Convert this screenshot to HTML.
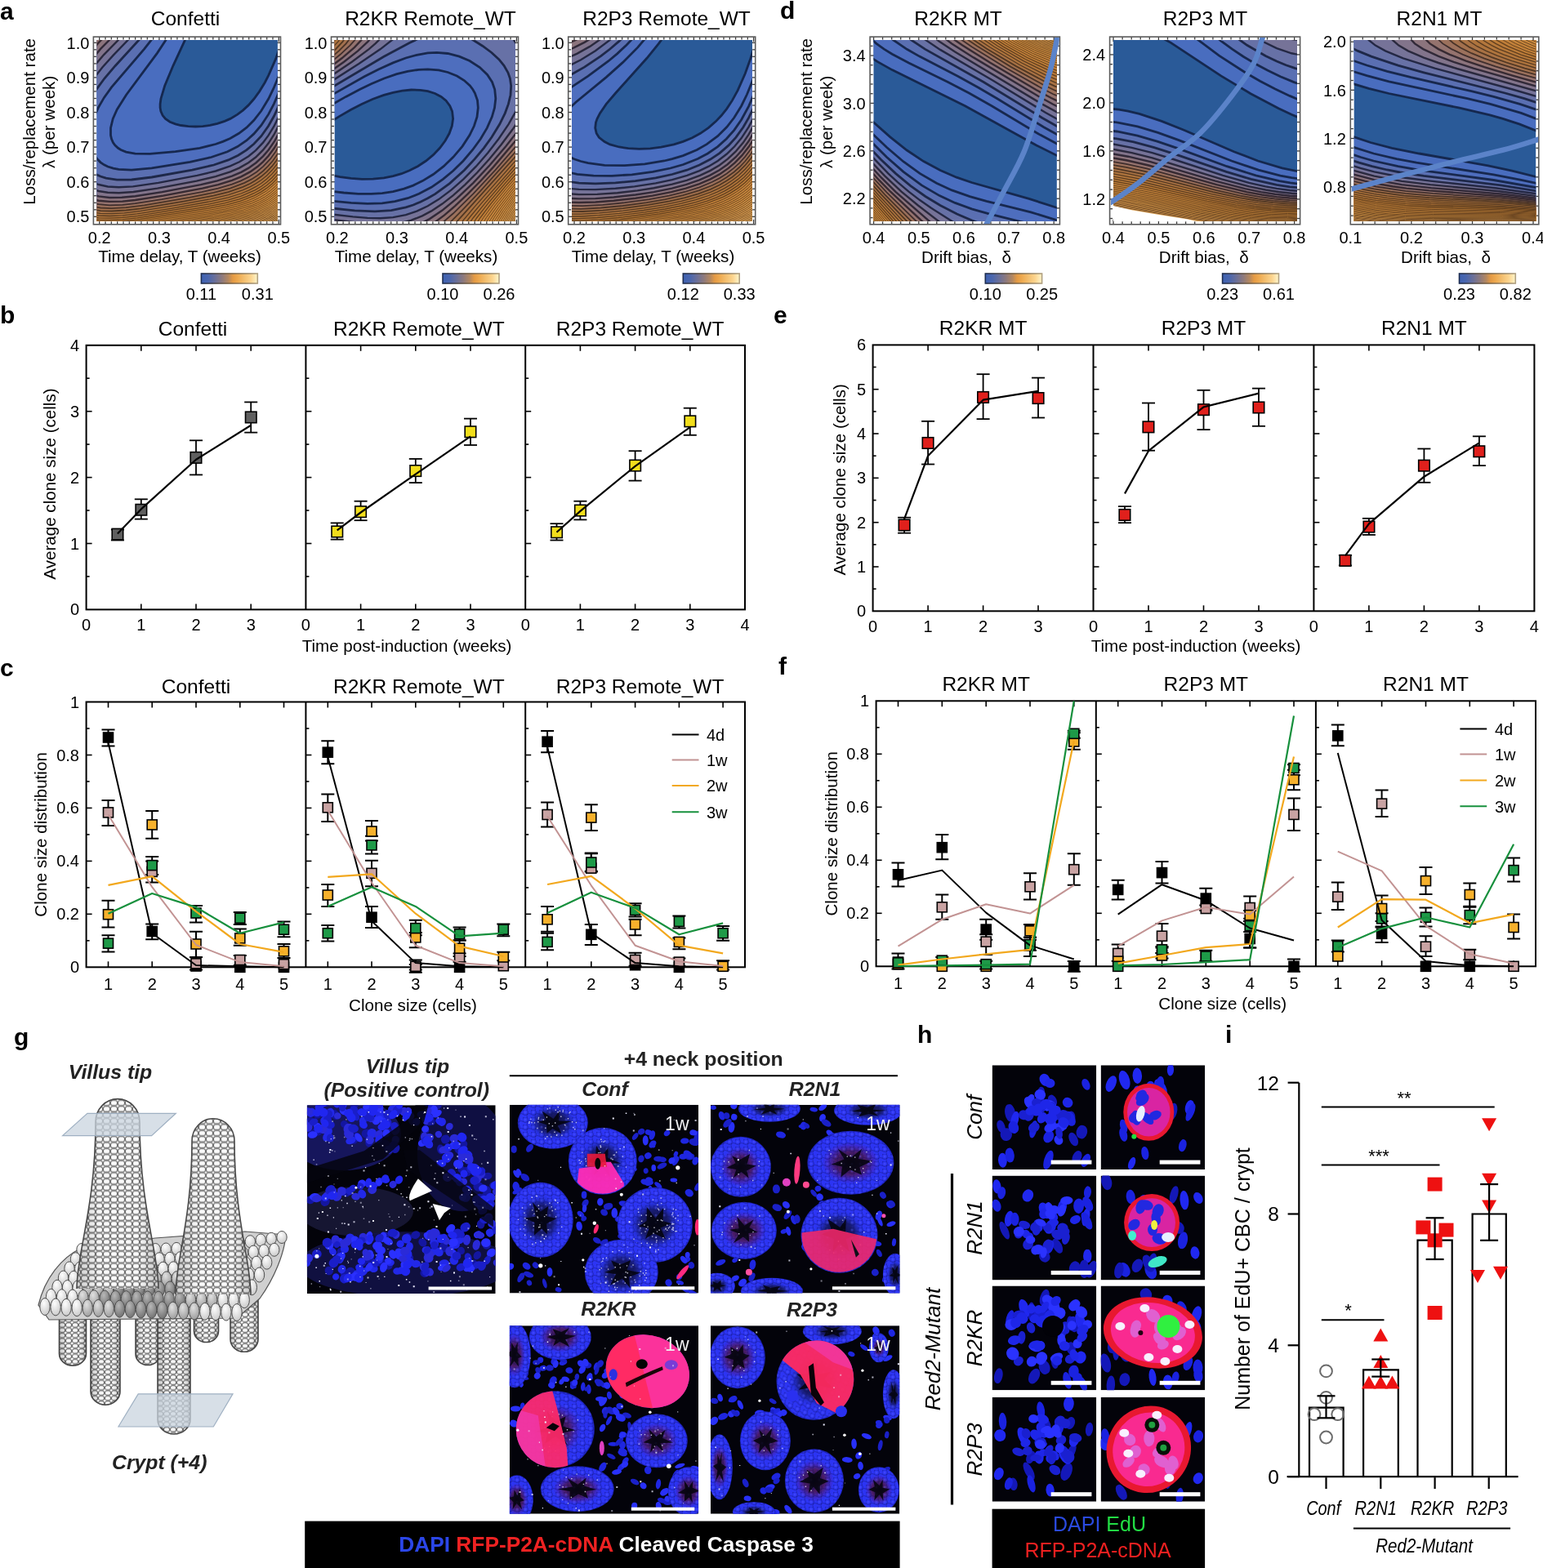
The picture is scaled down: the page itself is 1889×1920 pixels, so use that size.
<!DOCTYPE html>
<html><head><meta charset="utf-8"><title>Figure</title>
<style>html,body{margin:0;padding:0;background:#fff;}svg{display:block;}text{font-family:"Liberation Sans",Arial,sans-serif;}</style></head><body>
<svg width="1889" height="1920" viewBox="0 0 1889 1920">
<rect width="1889" height="1920" fill="#fff"/>
<line x1="172.8" y1="746.4" x2="172.8" y2="739.4" stroke="#000" stroke-width="1.6"/>
<line x1="172.8" y1="422.8" x2="172.8" y2="429.8" stroke="#000" stroke-width="1.6"/>
<line x1="240" y1="746.4" x2="240" y2="739.4" stroke="#000" stroke-width="1.6"/>
<line x1="240" y1="422.8" x2="240" y2="429.8" stroke="#000" stroke-width="1.6"/>
<line x1="307.2" y1="746.4" x2="307.2" y2="739.4" stroke="#000" stroke-width="1.6"/>
<line x1="307.2" y1="422.8" x2="307.2" y2="429.8" stroke="#000" stroke-width="1.6"/>
<line x1="105.6" y1="705.9" x2="109.6" y2="705.9" stroke="#000" stroke-width="1.6"/>
<line x1="105.6" y1="665.5" x2="112.6" y2="665.5" stroke="#000" stroke-width="1.6"/>
<line x1="105.6" y1="625" x2="109.6" y2="625" stroke="#000" stroke-width="1.6"/>
<line x1="105.6" y1="584.6" x2="112.6" y2="584.6" stroke="#000" stroke-width="1.6"/>
<line x1="105.6" y1="544.1" x2="109.6" y2="544.1" stroke="#000" stroke-width="1.6"/>
<line x1="105.6" y1="503.7" x2="112.6" y2="503.7" stroke="#000" stroke-width="1.6"/>
<line x1="105.6" y1="463.2" x2="109.6" y2="463.2" stroke="#000" stroke-width="1.6"/>
<line x1="441.6" y1="746.4" x2="441.6" y2="739.4" stroke="#000" stroke-width="1.6"/>
<line x1="441.6" y1="422.8" x2="441.6" y2="429.8" stroke="#000" stroke-width="1.6"/>
<line x1="508.8" y1="746.4" x2="508.8" y2="739.4" stroke="#000" stroke-width="1.6"/>
<line x1="508.8" y1="422.8" x2="508.8" y2="429.8" stroke="#000" stroke-width="1.6"/>
<line x1="576" y1="746.4" x2="576" y2="739.4" stroke="#000" stroke-width="1.6"/>
<line x1="576" y1="422.8" x2="576" y2="429.8" stroke="#000" stroke-width="1.6"/>
<line x1="374.4" y1="705.9" x2="378.4" y2="705.9" stroke="#000" stroke-width="1.6"/>
<line x1="374.4" y1="665.5" x2="381.4" y2="665.5" stroke="#000" stroke-width="1.6"/>
<line x1="374.4" y1="625" x2="378.4" y2="625" stroke="#000" stroke-width="1.6"/>
<line x1="374.4" y1="584.6" x2="381.4" y2="584.6" stroke="#000" stroke-width="1.6"/>
<line x1="374.4" y1="544.1" x2="378.4" y2="544.1" stroke="#000" stroke-width="1.6"/>
<line x1="374.4" y1="503.7" x2="381.4" y2="503.7" stroke="#000" stroke-width="1.6"/>
<line x1="374.4" y1="463.2" x2="378.4" y2="463.2" stroke="#000" stroke-width="1.6"/>
<line x1="710.4" y1="746.4" x2="710.4" y2="739.4" stroke="#000" stroke-width="1.6"/>
<line x1="710.4" y1="422.8" x2="710.4" y2="429.8" stroke="#000" stroke-width="1.6"/>
<line x1="777.6" y1="746.4" x2="777.6" y2="739.4" stroke="#000" stroke-width="1.6"/>
<line x1="777.6" y1="422.8" x2="777.6" y2="429.8" stroke="#000" stroke-width="1.6"/>
<line x1="844.8" y1="746.4" x2="844.8" y2="739.4" stroke="#000" stroke-width="1.6"/>
<line x1="844.8" y1="422.8" x2="844.8" y2="429.8" stroke="#000" stroke-width="1.6"/>
<line x1="643.2" y1="705.9" x2="647.2" y2="705.9" stroke="#000" stroke-width="1.6"/>
<line x1="643.2" y1="665.5" x2="650.2" y2="665.5" stroke="#000" stroke-width="1.6"/>
<line x1="643.2" y1="625" x2="647.2" y2="625" stroke="#000" stroke-width="1.6"/>
<line x1="643.2" y1="584.6" x2="650.2" y2="584.6" stroke="#000" stroke-width="1.6"/>
<line x1="643.2" y1="544.1" x2="647.2" y2="544.1" stroke="#000" stroke-width="1.6"/>
<line x1="643.2" y1="503.7" x2="650.2" y2="503.7" stroke="#000" stroke-width="1.6"/>
<line x1="643.2" y1="463.2" x2="647.2" y2="463.2" stroke="#000" stroke-width="1.6"/>
<rect x="105.6" y="422.8" width="806.4" height="323.6" fill="none" stroke="#000" stroke-width="2"/>
<line x1="374.4" y1="422.8" x2="374.4" y2="746.4" stroke="#000" stroke-width="2"/>
<line x1="643.2" y1="422.8" x2="643.2" y2="746.4" stroke="#000" stroke-width="2"/>
<text x="105.6" y="772.4" font-size="20" text-anchor="middle">0</text>
<text x="172.8" y="772.4" font-size="20" text-anchor="middle">1</text>
<text x="240" y="772.4" font-size="20" text-anchor="middle">2</text>
<text x="307.2" y="772.4" font-size="20" text-anchor="middle">3</text>
<text x="374.4" y="772.4" font-size="20" text-anchor="middle">0</text>
<text x="441.6" y="772.4" font-size="20" text-anchor="middle">1</text>
<text x="508.8" y="772.4" font-size="20" text-anchor="middle">2</text>
<text x="576" y="772.4" font-size="20" text-anchor="middle">3</text>
<text x="643.2" y="772.4" font-size="20" text-anchor="middle">0</text>
<text x="710.4" y="772.4" font-size="20" text-anchor="middle">1</text>
<text x="777.6" y="772.4" font-size="20" text-anchor="middle">2</text>
<text x="844.8" y="772.4" font-size="20" text-anchor="middle">3</text>
<text x="912" y="772.4" font-size="20" text-anchor="middle">4</text>
<text x="97" y="753.4" font-size="20" text-anchor="end">0</text>
<text x="97" y="672.5" font-size="20" text-anchor="end">1</text>
<text x="97" y="591.6" font-size="20" text-anchor="end">2</text>
<text x="97" y="510.7" font-size="20" text-anchor="end">3</text>
<text x="97" y="429.8" font-size="20" text-anchor="end">4</text>
<text x="236" y="411" font-size="24.5" text-anchor="middle">Confetti</text>
<text x="512.8" y="411" font-size="24.5" text-anchor="middle">R2KR Remote_WT</text>
<text x="783.6" y="411" font-size="24.5" text-anchor="middle">R2P3 Remote_WT</text>
<text x="498" y="797.5" font-size="20.6" text-anchor="middle">Time post-induction (weeks)</text>
<text x="68.5" y="592.6" font-size="20.6" text-anchor="middle" transform="rotate(-90 68.5 592.6)">Average clone size (cells)</text>
<line x1="143.9" y1="661.5" x2="143.9" y2="648.5" stroke="#000" stroke-width="1.8"/>
<line x1="135.9" y1="661.5" x2="151.9" y2="661.5" stroke="#000" stroke-width="1.8"/>
<line x1="135.9" y1="648.5" x2="151.9" y2="648.5" stroke="#000" stroke-width="1.8"/>
<line x1="172.8" y1="635.6" x2="172.8" y2="611.3" stroke="#000" stroke-width="1.8"/>
<line x1="164.8" y1="635.6" x2="180.8" y2="635.6" stroke="#000" stroke-width="1.8"/>
<line x1="164.8" y1="611.3" x2="180.8" y2="611.3" stroke="#000" stroke-width="1.8"/>
<line x1="240" y1="581.4" x2="240" y2="539.3" stroke="#000" stroke-width="1.8"/>
<line x1="232" y1="581.4" x2="248" y2="581.4" stroke="#000" stroke-width="1.8"/>
<line x1="232" y1="539.3" x2="248" y2="539.3" stroke="#000" stroke-width="1.8"/>
<line x1="307.2" y1="529.6" x2="307.2" y2="492.4" stroke="#000" stroke-width="1.8"/>
<line x1="299.2" y1="529.6" x2="315.2" y2="529.6" stroke="#000" stroke-width="1.8"/>
<line x1="299.2" y1="492.4" x2="315.2" y2="492.4" stroke="#000" stroke-width="1.8"/>
<rect x="137.2" y="647.4" width="13.5" height="13.5" fill="#5f5f5f" stroke="#000" stroke-width="1.6"/>
<rect x="166.1" y="617.5" width="13.5" height="13.5" fill="#5f5f5f" stroke="#000" stroke-width="1.6"/>
<rect x="233.2" y="553.6" width="13.5" height="13.5" fill="#5f5f5f" stroke="#000" stroke-width="1.6"/>
<rect x="300.5" y="504.2" width="13.5" height="13.5" fill="#5f5f5f" stroke="#000" stroke-width="1.6"/>
<polyline points="143.9,653.4 172.8,623.4 240,562.8 307.2,520.7" fill="none" stroke="#000" stroke-width="2.2" stroke-linejoin="round"/>
<line x1="412.7" y1="660.6" x2="412.7" y2="640.4" stroke="#000" stroke-width="1.8"/>
<line x1="404.7" y1="660.6" x2="420.7" y2="660.6" stroke="#000" stroke-width="1.8"/>
<line x1="404.7" y1="640.4" x2="420.7" y2="640.4" stroke="#000" stroke-width="1.8"/>
<line x1="441.6" y1="637.2" x2="441.6" y2="613.7" stroke="#000" stroke-width="1.8"/>
<line x1="433.6" y1="637.2" x2="449.6" y2="637.2" stroke="#000" stroke-width="1.8"/>
<line x1="433.6" y1="613.7" x2="449.6" y2="613.7" stroke="#000" stroke-width="1.8"/>
<line x1="508.8" y1="591.1" x2="508.8" y2="561.9" stroke="#000" stroke-width="1.8"/>
<line x1="500.8" y1="591.1" x2="516.8" y2="591.1" stroke="#000" stroke-width="1.8"/>
<line x1="500.8" y1="561.9" x2="516.8" y2="561.9" stroke="#000" stroke-width="1.8"/>
<line x1="576" y1="545" x2="576" y2="512.6" stroke="#000" stroke-width="1.8"/>
<line x1="568" y1="545" x2="584" y2="545" stroke="#000" stroke-width="1.8"/>
<line x1="568" y1="512.6" x2="584" y2="512.6" stroke="#000" stroke-width="1.8"/>
<rect x="406" y="644.2" width="13.5" height="13.5" fill="#f2de1c" stroke="#000" stroke-width="1.6"/>
<rect x="434.8" y="619.9" width="13.5" height="13.5" fill="#f2de1c" stroke="#000" stroke-width="1.6"/>
<rect x="502" y="569.8" width="13.5" height="13.5" fill="#f2de1c" stroke="#000" stroke-width="1.6"/>
<rect x="569.2" y="522" width="13.5" height="13.5" fill="#f2de1c" stroke="#000" stroke-width="1.6"/>
<polyline points="412.7,649.3 441.6,627.5 508.8,580.6 576,534.4" fill="none" stroke="#000" stroke-width="2.2" stroke-linejoin="round"/>
<line x1="681.5" y1="661.5" x2="681.5" y2="641.2" stroke="#000" stroke-width="1.8"/>
<line x1="673.5" y1="661.5" x2="689.5" y2="661.5" stroke="#000" stroke-width="1.8"/>
<line x1="673.5" y1="641.2" x2="689.5" y2="641.2" stroke="#000" stroke-width="1.8"/>
<line x1="710.4" y1="636.4" x2="710.4" y2="613.7" stroke="#000" stroke-width="1.8"/>
<line x1="702.4" y1="636.4" x2="718.4" y2="636.4" stroke="#000" stroke-width="1.8"/>
<line x1="702.4" y1="613.7" x2="718.4" y2="613.7" stroke="#000" stroke-width="1.8"/>
<line x1="777.6" y1="588.6" x2="777.6" y2="552.2" stroke="#000" stroke-width="1.8"/>
<line x1="769.6" y1="588.6" x2="785.6" y2="588.6" stroke="#000" stroke-width="1.8"/>
<line x1="769.6" y1="552.2" x2="785.6" y2="552.2" stroke="#000" stroke-width="1.8"/>
<line x1="844.8" y1="532.8" x2="844.8" y2="499.7" stroke="#000" stroke-width="1.8"/>
<line x1="836.8" y1="532.8" x2="852.8" y2="532.8" stroke="#000" stroke-width="1.8"/>
<line x1="836.8" y1="499.7" x2="852.8" y2="499.7" stroke="#000" stroke-width="1.8"/>
<rect x="674.8" y="645" width="13.5" height="13.5" fill="#f2de1c" stroke="#000" stroke-width="1.6"/>
<rect x="703.7" y="618.3" width="13.5" height="13.5" fill="#f2de1c" stroke="#000" stroke-width="1.6"/>
<rect x="770.9" y="563.3" width="13.5" height="13.5" fill="#f2de1c" stroke="#000" stroke-width="1.6"/>
<rect x="838.1" y="509.1" width="13.5" height="13.5" fill="#f2de1c" stroke="#000" stroke-width="1.6"/>
<polyline points="681.5,651.7 710.4,625.9 777.6,570.8 844.8,523.1" fill="none" stroke="#000" stroke-width="2.2" stroke-linejoin="round"/>
<line x1="1136.1" y1="748.3" x2="1136.1" y2="741.3" stroke="#000" stroke-width="1.6"/>
<line x1="1136.1" y1="422.4" x2="1136.1" y2="429.4" stroke="#000" stroke-width="1.6"/>
<line x1="1203.6" y1="748.3" x2="1203.6" y2="741.3" stroke="#000" stroke-width="1.6"/>
<line x1="1203.6" y1="422.4" x2="1203.6" y2="429.4" stroke="#000" stroke-width="1.6"/>
<line x1="1271" y1="748.3" x2="1271" y2="741.3" stroke="#000" stroke-width="1.6"/>
<line x1="1271" y1="422.4" x2="1271" y2="429.4" stroke="#000" stroke-width="1.6"/>
<line x1="1068.6" y1="721.1" x2="1072.6" y2="721.1" stroke="#000" stroke-width="1.6"/>
<line x1="1068.6" y1="694" x2="1075.6" y2="694" stroke="#000" stroke-width="1.6"/>
<line x1="1068.6" y1="666.8" x2="1072.6" y2="666.8" stroke="#000" stroke-width="1.6"/>
<line x1="1068.6" y1="639.7" x2="1075.6" y2="639.7" stroke="#000" stroke-width="1.6"/>
<line x1="1068.6" y1="612.5" x2="1072.6" y2="612.5" stroke="#000" stroke-width="1.6"/>
<line x1="1068.6" y1="585.3" x2="1075.6" y2="585.3" stroke="#000" stroke-width="1.6"/>
<line x1="1068.6" y1="558.2" x2="1072.6" y2="558.2" stroke="#000" stroke-width="1.6"/>
<line x1="1068.6" y1="531" x2="1075.6" y2="531" stroke="#000" stroke-width="1.6"/>
<line x1="1068.6" y1="503.9" x2="1072.6" y2="503.9" stroke="#000" stroke-width="1.6"/>
<line x1="1068.6" y1="476.7" x2="1075.6" y2="476.7" stroke="#000" stroke-width="1.6"/>
<line x1="1068.6" y1="449.5" x2="1072.6" y2="449.5" stroke="#000" stroke-width="1.6"/>
<line x1="1406" y1="748.3" x2="1406" y2="741.3" stroke="#000" stroke-width="1.6"/>
<line x1="1406" y1="422.4" x2="1406" y2="429.4" stroke="#000" stroke-width="1.6"/>
<line x1="1473.5" y1="748.3" x2="1473.5" y2="741.3" stroke="#000" stroke-width="1.6"/>
<line x1="1473.5" y1="422.4" x2="1473.5" y2="429.4" stroke="#000" stroke-width="1.6"/>
<line x1="1541" y1="748.3" x2="1541" y2="741.3" stroke="#000" stroke-width="1.6"/>
<line x1="1541" y1="422.4" x2="1541" y2="429.4" stroke="#000" stroke-width="1.6"/>
<line x1="1338.5" y1="721.1" x2="1342.5" y2="721.1" stroke="#000" stroke-width="1.6"/>
<line x1="1338.5" y1="694" x2="1345.5" y2="694" stroke="#000" stroke-width="1.6"/>
<line x1="1338.5" y1="666.8" x2="1342.5" y2="666.8" stroke="#000" stroke-width="1.6"/>
<line x1="1338.5" y1="639.7" x2="1345.5" y2="639.7" stroke="#000" stroke-width="1.6"/>
<line x1="1338.5" y1="612.5" x2="1342.5" y2="612.5" stroke="#000" stroke-width="1.6"/>
<line x1="1338.5" y1="585.3" x2="1345.5" y2="585.3" stroke="#000" stroke-width="1.6"/>
<line x1="1338.5" y1="558.2" x2="1342.5" y2="558.2" stroke="#000" stroke-width="1.6"/>
<line x1="1338.5" y1="531" x2="1345.5" y2="531" stroke="#000" stroke-width="1.6"/>
<line x1="1338.5" y1="503.9" x2="1342.5" y2="503.9" stroke="#000" stroke-width="1.6"/>
<line x1="1338.5" y1="476.7" x2="1345.5" y2="476.7" stroke="#000" stroke-width="1.6"/>
<line x1="1338.5" y1="449.5" x2="1342.5" y2="449.5" stroke="#000" stroke-width="1.6"/>
<line x1="1675.9" y1="748.3" x2="1675.9" y2="741.3" stroke="#000" stroke-width="1.6"/>
<line x1="1675.9" y1="422.4" x2="1675.9" y2="429.4" stroke="#000" stroke-width="1.6"/>
<line x1="1743.4" y1="748.3" x2="1743.4" y2="741.3" stroke="#000" stroke-width="1.6"/>
<line x1="1743.4" y1="422.4" x2="1743.4" y2="429.4" stroke="#000" stroke-width="1.6"/>
<line x1="1810.9" y1="748.3" x2="1810.9" y2="741.3" stroke="#000" stroke-width="1.6"/>
<line x1="1810.9" y1="422.4" x2="1810.9" y2="429.4" stroke="#000" stroke-width="1.6"/>
<line x1="1608.4" y1="721.1" x2="1612.4" y2="721.1" stroke="#000" stroke-width="1.6"/>
<line x1="1608.4" y1="694" x2="1615.4" y2="694" stroke="#000" stroke-width="1.6"/>
<line x1="1608.4" y1="666.8" x2="1612.4" y2="666.8" stroke="#000" stroke-width="1.6"/>
<line x1="1608.4" y1="639.7" x2="1615.4" y2="639.7" stroke="#000" stroke-width="1.6"/>
<line x1="1608.4" y1="612.5" x2="1612.4" y2="612.5" stroke="#000" stroke-width="1.6"/>
<line x1="1608.4" y1="585.3" x2="1615.4" y2="585.3" stroke="#000" stroke-width="1.6"/>
<line x1="1608.4" y1="558.2" x2="1612.4" y2="558.2" stroke="#000" stroke-width="1.6"/>
<line x1="1608.4" y1="531" x2="1615.4" y2="531" stroke="#000" stroke-width="1.6"/>
<line x1="1608.4" y1="503.9" x2="1612.4" y2="503.9" stroke="#000" stroke-width="1.6"/>
<line x1="1608.4" y1="476.7" x2="1615.4" y2="476.7" stroke="#000" stroke-width="1.6"/>
<line x1="1608.4" y1="449.5" x2="1612.4" y2="449.5" stroke="#000" stroke-width="1.6"/>
<rect x="1068.6" y="422.4" width="809.8" height="325.9" fill="none" stroke="#000" stroke-width="2"/>
<line x1="1338.5" y1="422.4" x2="1338.5" y2="748.3" stroke="#000" stroke-width="2"/>
<line x1="1608.4" y1="422.4" x2="1608.4" y2="748.3" stroke="#000" stroke-width="2"/>
<text x="1068.6" y="774.3" font-size="20" text-anchor="middle">0</text>
<text x="1136.1" y="774.3" font-size="20" text-anchor="middle">1</text>
<text x="1203.6" y="774.3" font-size="20" text-anchor="middle">2</text>
<text x="1271" y="774.3" font-size="20" text-anchor="middle">3</text>
<text x="1338.5" y="774.3" font-size="20" text-anchor="middle">0</text>
<text x="1406" y="774.3" font-size="20" text-anchor="middle">1</text>
<text x="1473.5" y="774.3" font-size="20" text-anchor="middle">2</text>
<text x="1541" y="774.3" font-size="20" text-anchor="middle">3</text>
<text x="1608.4" y="774.3" font-size="20" text-anchor="middle">0</text>
<text x="1675.9" y="774.3" font-size="20" text-anchor="middle">1</text>
<text x="1743.4" y="774.3" font-size="20" text-anchor="middle">2</text>
<text x="1810.9" y="774.3" font-size="20" text-anchor="middle">3</text>
<text x="1878.4" y="774.3" font-size="20" text-anchor="middle">4</text>
<text x="1060" y="755.3" font-size="20" text-anchor="end">0</text>
<text x="1060" y="701" font-size="20" text-anchor="end">1</text>
<text x="1060" y="646.7" font-size="20" text-anchor="end">2</text>
<text x="1060" y="592.3" font-size="20" text-anchor="end">3</text>
<text x="1060" y="538" font-size="20" text-anchor="end">4</text>
<text x="1060" y="483.7" font-size="20" text-anchor="end">5</text>
<text x="1060" y="429.4" font-size="20" text-anchor="end">6</text>
<text x="1203.6" y="410" font-size="24.5" text-anchor="middle">R2KR MT</text>
<text x="1473.5" y="410" font-size="24.5" text-anchor="middle">R2P3 MT</text>
<text x="1743.4" y="410" font-size="24.5" text-anchor="middle">R2N1 MT</text>
<text x="1464" y="798" font-size="20.6" text-anchor="middle">Time post-induction (weeks)</text>
<text x="1035" y="587.3" font-size="20.6" text-anchor="middle" transform="rotate(-90 1035 587.3)">Average clone size (cells)</text>
<line x1="1107.1" y1="652.7" x2="1107.1" y2="633.7" stroke="#000" stroke-width="1.8"/>
<line x1="1099.1" y1="652.7" x2="1115.1" y2="652.7" stroke="#000" stroke-width="1.8"/>
<line x1="1099.1" y1="633.7" x2="1115.1" y2="633.7" stroke="#000" stroke-width="1.8"/>
<line x1="1136.1" y1="568.5" x2="1136.1" y2="515.8" stroke="#000" stroke-width="1.8"/>
<line x1="1128.1" y1="568.5" x2="1144.1" y2="568.5" stroke="#000" stroke-width="1.8"/>
<line x1="1128.1" y1="515.8" x2="1144.1" y2="515.8" stroke="#000" stroke-width="1.8"/>
<line x1="1203.6" y1="513.1" x2="1203.6" y2="458.2" stroke="#000" stroke-width="1.8"/>
<line x1="1195.6" y1="513.1" x2="1211.6" y2="513.1" stroke="#000" stroke-width="1.8"/>
<line x1="1195.6" y1="458.2" x2="1211.6" y2="458.2" stroke="#000" stroke-width="1.8"/>
<line x1="1271" y1="511.5" x2="1271" y2="462.6" stroke="#000" stroke-width="1.8"/>
<line x1="1263" y1="511.5" x2="1279" y2="511.5" stroke="#000" stroke-width="1.8"/>
<line x1="1263" y1="462.6" x2="1279" y2="462.6" stroke="#000" stroke-width="1.8"/>
<rect x="1100.3" y="636.2" width="13.5" height="13.5" fill="#e0201c" stroke="#000" stroke-width="1.6"/>
<rect x="1129.3" y="535.7" width="13.5" height="13.5" fill="#e0201c" stroke="#000" stroke-width="1.6"/>
<rect x="1196.8" y="479.7" width="13.5" height="13.5" fill="#e0201c" stroke="#000" stroke-width="1.6"/>
<rect x="1264.3" y="480.8" width="13.5" height="13.5" fill="#e0201c" stroke="#000" stroke-width="1.6"/>
<polyline points="1107.1,635.3 1136.1,558.2 1203.6,489.7 1271,478.9" fill="none" stroke="#000" stroke-width="2.2" stroke-linejoin="round"/>
<line x1="1377" y1="640.2" x2="1377" y2="620.1" stroke="#000" stroke-width="1.8"/>
<line x1="1369" y1="640.2" x2="1385" y2="640.2" stroke="#000" stroke-width="1.8"/>
<line x1="1369" y1="620.1" x2="1385" y2="620.1" stroke="#000" stroke-width="1.8"/>
<line x1="1406" y1="551.7" x2="1406" y2="493.5" stroke="#000" stroke-width="1.8"/>
<line x1="1398" y1="551.7" x2="1414" y2="551.7" stroke="#000" stroke-width="1.8"/>
<line x1="1398" y1="493.5" x2="1414" y2="493.5" stroke="#000" stroke-width="1.8"/>
<line x1="1473.5" y1="526.1" x2="1473.5" y2="477.8" stroke="#000" stroke-width="1.8"/>
<line x1="1465.5" y1="526.1" x2="1481.5" y2="526.1" stroke="#000" stroke-width="1.8"/>
<line x1="1465.5" y1="477.8" x2="1481.5" y2="477.8" stroke="#000" stroke-width="1.8"/>
<line x1="1541" y1="521.8" x2="1541" y2="475.6" stroke="#000" stroke-width="1.8"/>
<line x1="1533" y1="521.8" x2="1549" y2="521.8" stroke="#000" stroke-width="1.8"/>
<line x1="1533" y1="475.6" x2="1549" y2="475.6" stroke="#000" stroke-width="1.8"/>
<rect x="1370.2" y="623.7" width="13.5" height="13.5" fill="#e0201c" stroke="#000" stroke-width="1.6"/>
<rect x="1399.2" y="516.1" width="13.5" height="13.5" fill="#e0201c" stroke="#000" stroke-width="1.6"/>
<rect x="1466.7" y="494.9" width="13.5" height="13.5" fill="#e0201c" stroke="#000" stroke-width="1.6"/>
<rect x="1534.2" y="492.2" width="13.5" height="13.5" fill="#e0201c" stroke="#000" stroke-width="1.6"/>
<polyline points="1377,604.4 1406,552.2 1473.5,498.4 1541,481.6" fill="none" stroke="#000" stroke-width="2.2" stroke-linejoin="round"/>
<line x1="1646.9" y1="692.4" x2="1646.9" y2="679.9" stroke="#000" stroke-width="1.8"/>
<line x1="1638.9" y1="692.4" x2="1654.9" y2="692.4" stroke="#000" stroke-width="1.8"/>
<line x1="1638.9" y1="679.9" x2="1654.9" y2="679.9" stroke="#000" stroke-width="1.8"/>
<line x1="1675.9" y1="654.9" x2="1675.9" y2="634.8" stroke="#000" stroke-width="1.8"/>
<line x1="1667.9" y1="654.9" x2="1683.9" y2="654.9" stroke="#000" stroke-width="1.8"/>
<line x1="1667.9" y1="634.8" x2="1683.9" y2="634.8" stroke="#000" stroke-width="1.8"/>
<line x1="1743.4" y1="590.8" x2="1743.4" y2="549.5" stroke="#000" stroke-width="1.8"/>
<line x1="1735.4" y1="590.8" x2="1751.4" y2="590.8" stroke="#000" stroke-width="1.8"/>
<line x1="1735.4" y1="549.5" x2="1751.4" y2="549.5" stroke="#000" stroke-width="1.8"/>
<line x1="1810.9" y1="570.1" x2="1810.9" y2="534.3" stroke="#000" stroke-width="1.8"/>
<line x1="1802.9" y1="570.1" x2="1818.9" y2="570.1" stroke="#000" stroke-width="1.8"/>
<line x1="1802.9" y1="534.3" x2="1818.9" y2="534.3" stroke="#000" stroke-width="1.8"/>
<rect x="1640.2" y="679.6" width="13.5" height="13.5" fill="#e0201c" stroke="#000" stroke-width="1.6"/>
<rect x="1669.2" y="638.3" width="13.5" height="13.5" fill="#e0201c" stroke="#000" stroke-width="1.6"/>
<rect x="1736.7" y="563.4" width="13.5" height="13.5" fill="#e0201c" stroke="#000" stroke-width="1.6"/>
<rect x="1804.1" y="546" width="13.5" height="13.5" fill="#e0201c" stroke="#000" stroke-width="1.6"/>
<polyline points="1646.9,680.4 1675.9,641.3 1743.4,583.7 1810.9,542.4" fill="none" stroke="#000" stroke-width="2.2" stroke-linejoin="round"/>
<line x1="132.5" y1="1184.3" x2="132.5" y2="1177.3" stroke="#000" stroke-width="1.6"/>
<line x1="132.5" y1="859.5" x2="132.5" y2="866.5" stroke="#000" stroke-width="1.6"/>
<line x1="186.2" y1="1184.3" x2="186.2" y2="1177.3" stroke="#000" stroke-width="1.6"/>
<line x1="186.2" y1="859.5" x2="186.2" y2="866.5" stroke="#000" stroke-width="1.6"/>
<line x1="240" y1="1184.3" x2="240" y2="1177.3" stroke="#000" stroke-width="1.6"/>
<line x1="240" y1="859.5" x2="240" y2="866.5" stroke="#000" stroke-width="1.6"/>
<line x1="293.8" y1="1184.3" x2="293.8" y2="1177.3" stroke="#000" stroke-width="1.6"/>
<line x1="293.8" y1="859.5" x2="293.8" y2="866.5" stroke="#000" stroke-width="1.6"/>
<line x1="347.5" y1="1184.3" x2="347.5" y2="1177.3" stroke="#000" stroke-width="1.6"/>
<line x1="347.5" y1="859.5" x2="347.5" y2="866.5" stroke="#000" stroke-width="1.6"/>
<line x1="105.6" y1="1151.8" x2="109.6" y2="1151.8" stroke="#000" stroke-width="1.6"/>
<line x1="105.6" y1="1119.3" x2="112.6" y2="1119.3" stroke="#000" stroke-width="1.6"/>
<line x1="105.6" y1="1086.9" x2="109.6" y2="1086.9" stroke="#000" stroke-width="1.6"/>
<line x1="105.6" y1="1054.4" x2="112.6" y2="1054.4" stroke="#000" stroke-width="1.6"/>
<line x1="105.6" y1="1021.9" x2="109.6" y2="1021.9" stroke="#000" stroke-width="1.6"/>
<line x1="105.6" y1="989.4" x2="112.6" y2="989.4" stroke="#000" stroke-width="1.6"/>
<line x1="105.6" y1="956.9" x2="109.6" y2="956.9" stroke="#000" stroke-width="1.6"/>
<line x1="105.6" y1="924.5" x2="112.6" y2="924.5" stroke="#000" stroke-width="1.6"/>
<line x1="105.6" y1="892" x2="109.6" y2="892" stroke="#000" stroke-width="1.6"/>
<line x1="401.3" y1="1184.3" x2="401.3" y2="1177.3" stroke="#000" stroke-width="1.6"/>
<line x1="401.3" y1="859.5" x2="401.3" y2="866.5" stroke="#000" stroke-width="1.6"/>
<line x1="455" y1="1184.3" x2="455" y2="1177.3" stroke="#000" stroke-width="1.6"/>
<line x1="455" y1="859.5" x2="455" y2="866.5" stroke="#000" stroke-width="1.6"/>
<line x1="508.8" y1="1184.3" x2="508.8" y2="1177.3" stroke="#000" stroke-width="1.6"/>
<line x1="508.8" y1="859.5" x2="508.8" y2="866.5" stroke="#000" stroke-width="1.6"/>
<line x1="562.6" y1="1184.3" x2="562.6" y2="1177.3" stroke="#000" stroke-width="1.6"/>
<line x1="562.6" y1="859.5" x2="562.6" y2="866.5" stroke="#000" stroke-width="1.6"/>
<line x1="616.3" y1="1184.3" x2="616.3" y2="1177.3" stroke="#000" stroke-width="1.6"/>
<line x1="616.3" y1="859.5" x2="616.3" y2="866.5" stroke="#000" stroke-width="1.6"/>
<line x1="374.4" y1="1151.8" x2="378.4" y2="1151.8" stroke="#000" stroke-width="1.6"/>
<line x1="374.4" y1="1119.3" x2="381.4" y2="1119.3" stroke="#000" stroke-width="1.6"/>
<line x1="374.4" y1="1086.9" x2="378.4" y2="1086.9" stroke="#000" stroke-width="1.6"/>
<line x1="374.4" y1="1054.4" x2="381.4" y2="1054.4" stroke="#000" stroke-width="1.6"/>
<line x1="374.4" y1="1021.9" x2="378.4" y2="1021.9" stroke="#000" stroke-width="1.6"/>
<line x1="374.4" y1="989.4" x2="381.4" y2="989.4" stroke="#000" stroke-width="1.6"/>
<line x1="374.4" y1="956.9" x2="378.4" y2="956.9" stroke="#000" stroke-width="1.6"/>
<line x1="374.4" y1="924.5" x2="381.4" y2="924.5" stroke="#000" stroke-width="1.6"/>
<line x1="374.4" y1="892" x2="378.4" y2="892" stroke="#000" stroke-width="1.6"/>
<line x1="670.1" y1="1184.3" x2="670.1" y2="1177.3" stroke="#000" stroke-width="1.6"/>
<line x1="670.1" y1="859.5" x2="670.1" y2="866.5" stroke="#000" stroke-width="1.6"/>
<line x1="723.8" y1="1184.3" x2="723.8" y2="1177.3" stroke="#000" stroke-width="1.6"/>
<line x1="723.8" y1="859.5" x2="723.8" y2="866.5" stroke="#000" stroke-width="1.6"/>
<line x1="777.6" y1="1184.3" x2="777.6" y2="1177.3" stroke="#000" stroke-width="1.6"/>
<line x1="777.6" y1="859.5" x2="777.6" y2="866.5" stroke="#000" stroke-width="1.6"/>
<line x1="831.4" y1="1184.3" x2="831.4" y2="1177.3" stroke="#000" stroke-width="1.6"/>
<line x1="831.4" y1="859.5" x2="831.4" y2="866.5" stroke="#000" stroke-width="1.6"/>
<line x1="885.1" y1="1184.3" x2="885.1" y2="1177.3" stroke="#000" stroke-width="1.6"/>
<line x1="885.1" y1="859.5" x2="885.1" y2="866.5" stroke="#000" stroke-width="1.6"/>
<line x1="643.2" y1="1151.8" x2="647.2" y2="1151.8" stroke="#000" stroke-width="1.6"/>
<line x1="643.2" y1="1119.3" x2="650.2" y2="1119.3" stroke="#000" stroke-width="1.6"/>
<line x1="643.2" y1="1086.9" x2="647.2" y2="1086.9" stroke="#000" stroke-width="1.6"/>
<line x1="643.2" y1="1054.4" x2="650.2" y2="1054.4" stroke="#000" stroke-width="1.6"/>
<line x1="643.2" y1="1021.9" x2="647.2" y2="1021.9" stroke="#000" stroke-width="1.6"/>
<line x1="643.2" y1="989.4" x2="650.2" y2="989.4" stroke="#000" stroke-width="1.6"/>
<line x1="643.2" y1="956.9" x2="647.2" y2="956.9" stroke="#000" stroke-width="1.6"/>
<line x1="643.2" y1="924.5" x2="650.2" y2="924.5" stroke="#000" stroke-width="1.6"/>
<line x1="643.2" y1="892" x2="647.2" y2="892" stroke="#000" stroke-width="1.6"/>
<rect x="105.6" y="859.5" width="806.4" height="324.8" fill="none" stroke="#000" stroke-width="2"/>
<line x1="374.4" y1="859.5" x2="374.4" y2="1184.3" stroke="#000" stroke-width="2"/>
<line x1="643.2" y1="859.5" x2="643.2" y2="1184.3" stroke="#000" stroke-width="2"/>
<text x="132.5" y="1212.3" font-size="20" text-anchor="middle">1</text>
<text x="186.2" y="1212.3" font-size="20" text-anchor="middle">2</text>
<text x="240" y="1212.3" font-size="20" text-anchor="middle">3</text>
<text x="293.8" y="1212.3" font-size="20" text-anchor="middle">4</text>
<text x="347.5" y="1212.3" font-size="20" text-anchor="middle">5</text>
<text x="401.3" y="1212.3" font-size="20" text-anchor="middle">1</text>
<text x="455" y="1212.3" font-size="20" text-anchor="middle">2</text>
<text x="508.8" y="1212.3" font-size="20" text-anchor="middle">3</text>
<text x="562.6" y="1212.3" font-size="20" text-anchor="middle">4</text>
<text x="616.3" y="1212.3" font-size="20" text-anchor="middle">5</text>
<text x="670.1" y="1212.3" font-size="20" text-anchor="middle">1</text>
<text x="723.8" y="1212.3" font-size="20" text-anchor="middle">2</text>
<text x="777.6" y="1212.3" font-size="20" text-anchor="middle">3</text>
<text x="831.4" y="1212.3" font-size="20" text-anchor="middle">4</text>
<text x="885.1" y="1212.3" font-size="20" text-anchor="middle">5</text>
<text x="97" y="1191.3" font-size="20" text-anchor="end">0</text>
<text x="97" y="1126.3" font-size="20" text-anchor="end">0.2</text>
<text x="97" y="1061.4" font-size="20" text-anchor="end">0.4</text>
<text x="97" y="996.4" font-size="20" text-anchor="end">0.6</text>
<text x="97" y="931.5" font-size="20" text-anchor="end">0.8</text>
<text x="97" y="866.5" font-size="20" text-anchor="end">1</text>
<text x="240" y="848.8" font-size="24.5" text-anchor="middle">Confetti</text>
<text x="512.8" y="848.8" font-size="24.5" text-anchor="middle">R2KR Remote_WT</text>
<text x="783.6" y="848.8" font-size="24.5" text-anchor="middle">R2P3 Remote_WT</text>
<text x="505.5" y="1237.5" font-size="20.6" text-anchor="middle">Clone size (cells)</text>
<text x="57" y="1021.9" font-size="20.6" text-anchor="middle" transform="rotate(-90 57 1021.9)">Clone size distribution</text>
<clipPath id="clipcf105"><rect x="105.6" y="859.5" width="806.4" height="332.8"/></clipPath>
<g clip-path="url(#clipcf105)">
<line x1="132.5" y1="913.4" x2="132.5" y2="893.6" stroke="#000" stroke-width="2"/>
<line x1="124.5" y1="913.4" x2="140.5" y2="913.4" stroke="#000" stroke-width="2"/>
<line x1="124.5" y1="893.6" x2="140.5" y2="893.6" stroke="#000" stroke-width="2"/>
<line x1="186.2" y1="1150.2" x2="186.2" y2="1131.4" stroke="#000" stroke-width="2"/>
<line x1="178.2" y1="1150.2" x2="194.2" y2="1150.2" stroke="#000" stroke-width="2"/>
<line x1="178.2" y1="1131.4" x2="194.2" y2="1131.4" stroke="#000" stroke-width="2"/>
<line x1="132.5" y1="1010.9" x2="132.5" y2="980" stroke="#000" stroke-width="2"/>
<line x1="124.5" y1="1010.9" x2="140.5" y2="1010.9" stroke="#000" stroke-width="2"/>
<line x1="124.5" y1="980" x2="140.5" y2="980" stroke="#000" stroke-width="2"/>
<line x1="186.2" y1="1080.4" x2="186.2" y2="1054.4" stroke="#000" stroke-width="2"/>
<line x1="178.2" y1="1080.4" x2="194.2" y2="1080.4" stroke="#000" stroke-width="2"/>
<line x1="178.2" y1="1054.4" x2="194.2" y2="1054.4" stroke="#000" stroke-width="2"/>
<line x1="240" y1="1187.5" x2="240" y2="1172" stroke="#000" stroke-width="2"/>
<line x1="232" y1="1187.5" x2="248" y2="1187.5" stroke="#000" stroke-width="2"/>
<line x1="232" y1="1172" x2="248" y2="1172" stroke="#000" stroke-width="2"/>
<line x1="293.8" y1="1181.7" x2="293.8" y2="1170" stroke="#000" stroke-width="2"/>
<line x1="285.8" y1="1181.7" x2="301.8" y2="1181.7" stroke="#000" stroke-width="2"/>
<line x1="285.8" y1="1170" x2="301.8" y2="1170" stroke="#000" stroke-width="2"/>
<line x1="132.5" y1="1135.6" x2="132.5" y2="1102.8" stroke="#000" stroke-width="2"/>
<line x1="124.5" y1="1135.6" x2="140.5" y2="1135.6" stroke="#000" stroke-width="2"/>
<line x1="124.5" y1="1102.8" x2="140.5" y2="1102.8" stroke="#000" stroke-width="2"/>
<line x1="186.2" y1="1026.8" x2="186.2" y2="993" stroke="#000" stroke-width="2"/>
<line x1="178.2" y1="1026.8" x2="194.2" y2="1026.8" stroke="#000" stroke-width="2"/>
<line x1="178.2" y1="993" x2="194.2" y2="993" stroke="#000" stroke-width="2"/>
<line x1="240" y1="1172" x2="240" y2="1140.8" stroke="#000" stroke-width="2"/>
<line x1="232" y1="1172" x2="248" y2="1172" stroke="#000" stroke-width="2"/>
<line x1="232" y1="1140.8" x2="248" y2="1140.8" stroke="#000" stroke-width="2"/>
<line x1="293.8" y1="1157.7" x2="293.8" y2="1137.5" stroke="#000" stroke-width="2"/>
<line x1="285.8" y1="1157.7" x2="301.8" y2="1157.7" stroke="#000" stroke-width="2"/>
<line x1="285.8" y1="1137.5" x2="301.8" y2="1137.5" stroke="#000" stroke-width="2"/>
<line x1="347.5" y1="1172.9" x2="347.5" y2="1156" stroke="#000" stroke-width="2"/>
<line x1="339.5" y1="1172.9" x2="355.5" y2="1172.9" stroke="#000" stroke-width="2"/>
<line x1="339.5" y1="1156" x2="355.5" y2="1156" stroke="#000" stroke-width="2"/>
<line x1="132.5" y1="1165.5" x2="132.5" y2="1145.3" stroke="#000" stroke-width="2"/>
<line x1="124.5" y1="1165.5" x2="140.5" y2="1165.5" stroke="#000" stroke-width="2"/>
<line x1="124.5" y1="1145.3" x2="140.5" y2="1145.3" stroke="#000" stroke-width="2"/>
<line x1="186.2" y1="1070.9" x2="186.2" y2="1048.9" stroke="#000" stroke-width="2"/>
<line x1="178.2" y1="1070.9" x2="194.2" y2="1070.9" stroke="#000" stroke-width="2"/>
<line x1="178.2" y1="1048.9" x2="194.2" y2="1048.9" stroke="#000" stroke-width="2"/>
<line x1="240" y1="1129.4" x2="240" y2="1108.9" stroke="#000" stroke-width="2"/>
<line x1="232" y1="1129.4" x2="248" y2="1129.4" stroke="#000" stroke-width="2"/>
<line x1="232" y1="1108.9" x2="248" y2="1108.9" stroke="#000" stroke-width="2"/>
<line x1="293.8" y1="1132" x2="293.8" y2="1117.1" stroke="#000" stroke-width="2"/>
<line x1="285.8" y1="1132" x2="301.8" y2="1132" stroke="#000" stroke-width="2"/>
<line x1="285.8" y1="1117.1" x2="301.8" y2="1117.1" stroke="#000" stroke-width="2"/>
<line x1="347.5" y1="1147.3" x2="347.5" y2="1128.4" stroke="#000" stroke-width="2"/>
<line x1="339.5" y1="1147.3" x2="355.5" y2="1147.3" stroke="#000" stroke-width="2"/>
<line x1="339.5" y1="1128.4" x2="355.5" y2="1128.4" stroke="#000" stroke-width="2"/>
<rect x="126.5" y="897" width="12" height="12" fill="#000000" stroke="#000" stroke-width="1.6"/>
<rect x="180.2" y="1134.5" width="12" height="12" fill="#000000" stroke="#000" stroke-width="1.6"/>
<rect x="234" y="1177" width="12" height="12" fill="#000000" stroke="#000" stroke-width="1.6"/>
<rect x="287.8" y="1178.3" width="12" height="12" fill="#000000" stroke="#000" stroke-width="1.6"/>
<rect x="341.5" y="1178.3" width="12" height="12" fill="#000000" stroke="#000" stroke-width="1.6"/>
<rect x="126.5" y="988.9" width="12" height="12" fill="#c9a3a3" stroke="#000" stroke-width="1.6"/>
<rect x="180.2" y="1061.4" width="12" height="12" fill="#c9a3a3" stroke="#000" stroke-width="1.6"/>
<rect x="234" y="1173.8" width="12" height="12" fill="#c9a3a3" stroke="#000" stroke-width="1.6"/>
<rect x="287.8" y="1169.5" width="12" height="12" fill="#c9a3a3" stroke="#000" stroke-width="1.6"/>
<rect x="341.5" y="1174.7" width="12" height="12" fill="#c9a3a3" stroke="#000" stroke-width="1.6"/>
<rect x="126.5" y="1113.7" width="12" height="12" fill="#f7b12c" stroke="#000" stroke-width="1.6"/>
<rect x="180.2" y="1003.9" width="12" height="12" fill="#f7b12c" stroke="#000" stroke-width="1.6"/>
<rect x="234" y="1150" width="12" height="12" fill="#f7b12c" stroke="#000" stroke-width="1.6"/>
<rect x="287.8" y="1142.9" width="12" height="12" fill="#f7b12c" stroke="#000" stroke-width="1.6"/>
<rect x="341.5" y="1158.8" width="12" height="12" fill="#f7b12c" stroke="#000" stroke-width="1.6"/>
<rect x="126.5" y="1149.1" width="12" height="12" fill="#1e9a48" stroke="#000" stroke-width="1.6"/>
<rect x="180.2" y="1053.6" width="12" height="12" fill="#1e9a48" stroke="#000" stroke-width="1.6"/>
<rect x="234" y="1112" width="12" height="12" fill="#1e9a48" stroke="#000" stroke-width="1.6"/>
<rect x="287.8" y="1118.2" width="12" height="12" fill="#1e9a48" stroke="#000" stroke-width="1.6"/>
<rect x="341.5" y="1132.2" width="12" height="12" fill="#1e9a48" stroke="#000" stroke-width="1.6"/>
<polyline points="132.5,909.2 186.2,1142.7 240,1182 293.8,1183.3 347.5,1184.3" fill="none" stroke="#000000" stroke-width="2" stroke-linejoin="round"/>
<polyline points="132.5,997.5 186.2,1086.2 240,1157 293.8,1178.1 347.5,1183.3" fill="none" stroke="#c29393" stroke-width="2" stroke-linejoin="round"/>
<polyline points="132.5,1083.9 186.2,1073.2 240,1116.1 293.8,1156 347.5,1165.8" fill="none" stroke="#f2a81e" stroke-width="2.2" stroke-linejoin="round"/>
<polyline points="132.5,1118.7 186.2,1094 240,1110.9 293.8,1142.7 347.5,1129.4" fill="none" stroke="#17903d" stroke-width="2.2" stroke-linejoin="round"/>
</g>
<g clip-path="url(#clipcf105)">
<line x1="401.3" y1="935.2" x2="401.3" y2="907.2" stroke="#000" stroke-width="2"/>
<line x1="393.3" y1="935.2" x2="409.3" y2="935.2" stroke="#000" stroke-width="2"/>
<line x1="393.3" y1="907.2" x2="409.3" y2="907.2" stroke="#000" stroke-width="2"/>
<line x1="455" y1="1135.9" x2="455" y2="1109.9" stroke="#000" stroke-width="2"/>
<line x1="447" y1="1135.9" x2="463" y2="1135.9" stroke="#000" stroke-width="2"/>
<line x1="447" y1="1109.9" x2="463" y2="1109.9" stroke="#000" stroke-width="2"/>
<line x1="508.8" y1="1187.5" x2="508.8" y2="1181.1" stroke="#000" stroke-width="2"/>
<line x1="500.8" y1="1187.5" x2="516.8" y2="1187.5" stroke="#000" stroke-width="2"/>
<line x1="500.8" y1="1181.1" x2="516.8" y2="1181.1" stroke="#000" stroke-width="2"/>
<line x1="401.3" y1="1006" x2="401.3" y2="972.5" stroke="#000" stroke-width="2"/>
<line x1="393.3" y1="1006" x2="409.3" y2="1006" stroke="#000" stroke-width="2"/>
<line x1="393.3" y1="972.5" x2="409.3" y2="972.5" stroke="#000" stroke-width="2"/>
<line x1="455" y1="1085.2" x2="455" y2="1053.7" stroke="#000" stroke-width="2"/>
<line x1="447" y1="1085.2" x2="463" y2="1085.2" stroke="#000" stroke-width="2"/>
<line x1="447" y1="1053.7" x2="463" y2="1053.7" stroke="#000" stroke-width="2"/>
<line x1="508.8" y1="1190.8" x2="508.8" y2="1175.5" stroke="#000" stroke-width="2"/>
<line x1="500.8" y1="1190.8" x2="516.8" y2="1190.8" stroke="#000" stroke-width="2"/>
<line x1="500.8" y1="1175.5" x2="516.8" y2="1175.5" stroke="#000" stroke-width="2"/>
<line x1="562.6" y1="1177.8" x2="562.6" y2="1167.4" stroke="#000" stroke-width="2"/>
<line x1="554.6" y1="1177.8" x2="570.6" y2="1177.8" stroke="#000" stroke-width="2"/>
<line x1="554.6" y1="1167.4" x2="570.6" y2="1167.4" stroke="#000" stroke-width="2"/>
<line x1="401.3" y1="1109.9" x2="401.3" y2="1083" stroke="#000" stroke-width="2"/>
<line x1="393.3" y1="1109.9" x2="409.3" y2="1109.9" stroke="#000" stroke-width="2"/>
<line x1="393.3" y1="1083" x2="409.3" y2="1083" stroke="#000" stroke-width="2"/>
<line x1="455" y1="1023.8" x2="455" y2="1005" stroke="#000" stroke-width="2"/>
<line x1="447" y1="1023.8" x2="463" y2="1023.8" stroke="#000" stroke-width="2"/>
<line x1="447" y1="1005" x2="463" y2="1005" stroke="#000" stroke-width="2"/>
<line x1="508.8" y1="1160.3" x2="508.8" y2="1142.1" stroke="#000" stroke-width="2"/>
<line x1="500.8" y1="1160.3" x2="516.8" y2="1160.3" stroke="#000" stroke-width="2"/>
<line x1="500.8" y1="1142.1" x2="516.8" y2="1142.1" stroke="#000" stroke-width="2"/>
<line x1="562.6" y1="1171" x2="562.6" y2="1151.5" stroke="#000" stroke-width="2"/>
<line x1="554.6" y1="1171" x2="570.6" y2="1171" stroke="#000" stroke-width="2"/>
<line x1="554.6" y1="1151.5" x2="570.6" y2="1151.5" stroke="#000" stroke-width="2"/>
<line x1="616.3" y1="1176.2" x2="616.3" y2="1165.8" stroke="#000" stroke-width="2"/>
<line x1="608.3" y1="1176.2" x2="624.3" y2="1176.2" stroke="#000" stroke-width="2"/>
<line x1="608.3" y1="1165.8" x2="624.3" y2="1165.8" stroke="#000" stroke-width="2"/>
<line x1="401.3" y1="1152.5" x2="401.3" y2="1133" stroke="#000" stroke-width="2"/>
<line x1="393.3" y1="1152.5" x2="409.3" y2="1152.5" stroke="#000" stroke-width="2"/>
<line x1="393.3" y1="1133" x2="409.3" y2="1133" stroke="#000" stroke-width="2"/>
<line x1="455" y1="1045.6" x2="455" y2="1029.4" stroke="#000" stroke-width="2"/>
<line x1="447" y1="1045.6" x2="463" y2="1045.6" stroke="#000" stroke-width="2"/>
<line x1="447" y1="1029.4" x2="463" y2="1029.4" stroke="#000" stroke-width="2"/>
<line x1="508.8" y1="1145.3" x2="508.8" y2="1126.8" stroke="#000" stroke-width="2"/>
<line x1="500.8" y1="1145.3" x2="516.8" y2="1145.3" stroke="#000" stroke-width="2"/>
<line x1="500.8" y1="1126.8" x2="516.8" y2="1126.8" stroke="#000" stroke-width="2"/>
<line x1="562.6" y1="1151.5" x2="562.6" y2="1135.6" stroke="#000" stroke-width="2"/>
<line x1="554.6" y1="1151.5" x2="570.6" y2="1151.5" stroke="#000" stroke-width="2"/>
<line x1="554.6" y1="1135.6" x2="570.6" y2="1135.6" stroke="#000" stroke-width="2"/>
<line x1="616.3" y1="1146.3" x2="616.3" y2="1131.4" stroke="#000" stroke-width="2"/>
<line x1="608.3" y1="1146.3" x2="624.3" y2="1146.3" stroke="#000" stroke-width="2"/>
<line x1="608.3" y1="1131.4" x2="624.3" y2="1131.4" stroke="#000" stroke-width="2"/>
<rect x="395.3" y="915.2" width="12" height="12" fill="#000000" stroke="#000" stroke-width="1.6"/>
<rect x="449" y="1117.2" width="12" height="12" fill="#000000" stroke="#000" stroke-width="1.6"/>
<rect x="502.8" y="1178.3" width="12" height="12" fill="#000000" stroke="#000" stroke-width="1.6"/>
<rect x="556.6" y="1178.3" width="12" height="12" fill="#000000" stroke="#000" stroke-width="1.6"/>
<rect x="395.3" y="982.8" width="12" height="12" fill="#c9a3a3" stroke="#000" stroke-width="1.6"/>
<rect x="449" y="1063.3" width="12" height="12" fill="#c9a3a3" stroke="#000" stroke-width="1.6"/>
<rect x="502.8" y="1177.3" width="12" height="12" fill="#c9a3a3" stroke="#000" stroke-width="1.6"/>
<rect x="556.6" y="1166" width="12" height="12" fill="#c9a3a3" stroke="#000" stroke-width="1.6"/>
<rect x="610.3" y="1176.7" width="12" height="12" fill="#c9a3a3" stroke="#000" stroke-width="1.6"/>
<rect x="395.3" y="1090" width="12" height="12" fill="#f7b12c" stroke="#000" stroke-width="1.6"/>
<rect x="449" y="1012" width="12" height="12" fill="#f7b12c" stroke="#000" stroke-width="1.6"/>
<rect x="502.8" y="1141.9" width="12" height="12" fill="#f7b12c" stroke="#000" stroke-width="1.6"/>
<rect x="556.6" y="1155.2" width="12" height="12" fill="#f7b12c" stroke="#000" stroke-width="1.6"/>
<rect x="610.3" y="1166" width="12" height="12" fill="#f7b12c" stroke="#000" stroke-width="1.6"/>
<rect x="395.3" y="1136.7" width="12" height="12" fill="#1e9a48" stroke="#000" stroke-width="1.6"/>
<rect x="449" y="1028.9" width="12" height="12" fill="#1e9a48" stroke="#000" stroke-width="1.6"/>
<rect x="502.8" y="1130.6" width="12" height="12" fill="#1e9a48" stroke="#000" stroke-width="1.6"/>
<rect x="556.6" y="1137.7" width="12" height="12" fill="#1e9a48" stroke="#000" stroke-width="1.6"/>
<rect x="610.3" y="1132.2" width="12" height="12" fill="#1e9a48" stroke="#000" stroke-width="1.6"/>
<polyline points="401.3,926.7 455,1127.8 508.8,1179.1 562.6,1183.3 616.3,1184.3" fill="none" stroke="#000000" stroke-width="2" stroke-linejoin="round"/>
<polyline points="401.3,992.3 455,1080.7 508.8,1157.7 562.6,1179.1 616.3,1183.3" fill="none" stroke="#c29393" stroke-width="2" stroke-linejoin="round"/>
<polyline points="401.3,1073.9 455,1070.3 508.8,1118.7 562.6,1158.6 616.3,1171" fill="none" stroke="#f2a81e" stroke-width="2.2" stroke-linejoin="round"/>
<polyline points="401.3,1109.9 455,1086.2 508.8,1109.9 562.6,1146.3 616.3,1142.7" fill="none" stroke="#17903d" stroke-width="2.2" stroke-linejoin="round"/>
</g>
<g clip-path="url(#clipcf105)">
<line x1="670.1" y1="921.2" x2="670.1" y2="894.9" stroke="#000" stroke-width="2"/>
<line x1="662.1" y1="921.2" x2="678.1" y2="921.2" stroke="#000" stroke-width="2"/>
<line x1="662.1" y1="894.9" x2="678.1" y2="894.9" stroke="#000" stroke-width="2"/>
<line x1="723.8" y1="1157" x2="723.8" y2="1132" stroke="#000" stroke-width="2"/>
<line x1="715.8" y1="1157" x2="731.8" y2="1157" stroke="#000" stroke-width="2"/>
<line x1="715.8" y1="1132" x2="731.8" y2="1132" stroke="#000" stroke-width="2"/>
<line x1="670.1" y1="1012.5" x2="670.1" y2="982.6" stroke="#000" stroke-width="2"/>
<line x1="662.1" y1="1012.5" x2="678.1" y2="1012.5" stroke="#000" stroke-width="2"/>
<line x1="662.1" y1="982.6" x2="678.1" y2="982.6" stroke="#000" stroke-width="2"/>
<line x1="723.8" y1="1067.4" x2="723.8" y2="1044.6" stroke="#000" stroke-width="2"/>
<line x1="715.8" y1="1067.4" x2="731.8" y2="1067.4" stroke="#000" stroke-width="2"/>
<line x1="715.8" y1="1044.6" x2="731.8" y2="1044.6" stroke="#000" stroke-width="2"/>
<line x1="777.6" y1="1182.7" x2="777.6" y2="1166.8" stroke="#000" stroke-width="2"/>
<line x1="769.6" y1="1182.7" x2="785.6" y2="1182.7" stroke="#000" stroke-width="2"/>
<line x1="769.6" y1="1166.8" x2="785.6" y2="1166.8" stroke="#000" stroke-width="2"/>
<line x1="831.4" y1="1182.7" x2="831.4" y2="1173.6" stroke="#000" stroke-width="2"/>
<line x1="823.4" y1="1182.7" x2="839.4" y2="1182.7" stroke="#000" stroke-width="2"/>
<line x1="823.4" y1="1173.6" x2="839.4" y2="1173.6" stroke="#000" stroke-width="2"/>
<line x1="670.1" y1="1140.8" x2="670.1" y2="1109.9" stroke="#000" stroke-width="2"/>
<line x1="662.1" y1="1140.8" x2="678.1" y2="1140.8" stroke="#000" stroke-width="2"/>
<line x1="662.1" y1="1109.9" x2="678.1" y2="1109.9" stroke="#000" stroke-width="2"/>
<line x1="723.8" y1="1017" x2="723.8" y2="985.2" stroke="#000" stroke-width="2"/>
<line x1="715.8" y1="1017" x2="731.8" y2="1017" stroke="#000" stroke-width="2"/>
<line x1="715.8" y1="985.2" x2="731.8" y2="985.2" stroke="#000" stroke-width="2"/>
<line x1="777.6" y1="1145.3" x2="777.6" y2="1125.8" stroke="#000" stroke-width="2"/>
<line x1="769.6" y1="1145.3" x2="785.6" y2="1145.3" stroke="#000" stroke-width="2"/>
<line x1="769.6" y1="1125.8" x2="785.6" y2="1125.8" stroke="#000" stroke-width="2"/>
<line x1="831.4" y1="1162.2" x2="831.4" y2="1148.6" stroke="#000" stroke-width="2"/>
<line x1="823.4" y1="1162.2" x2="839.4" y2="1162.2" stroke="#000" stroke-width="2"/>
<line x1="823.4" y1="1148.6" x2="839.4" y2="1148.6" stroke="#000" stroke-width="2"/>
<line x1="885.1" y1="1187.5" x2="885.1" y2="1176.2" stroke="#000" stroke-width="2"/>
<line x1="877.1" y1="1187.5" x2="893.1" y2="1187.5" stroke="#000" stroke-width="2"/>
<line x1="877.1" y1="1176.2" x2="893.1" y2="1176.2" stroke="#000" stroke-width="2"/>
<line x1="670.1" y1="1163.2" x2="670.1" y2="1142.7" stroke="#000" stroke-width="2"/>
<line x1="662.1" y1="1163.2" x2="678.1" y2="1163.2" stroke="#000" stroke-width="2"/>
<line x1="662.1" y1="1142.7" x2="678.1" y2="1142.7" stroke="#000" stroke-width="2"/>
<line x1="723.8" y1="1066.7" x2="723.8" y2="1045.3" stroke="#000" stroke-width="2"/>
<line x1="715.8" y1="1066.7" x2="731.8" y2="1066.7" stroke="#000" stroke-width="2"/>
<line x1="715.8" y1="1045.3" x2="731.8" y2="1045.3" stroke="#000" stroke-width="2"/>
<line x1="777.6" y1="1122.6" x2="777.6" y2="1106.3" stroke="#000" stroke-width="2"/>
<line x1="769.6" y1="1122.6" x2="785.6" y2="1122.6" stroke="#000" stroke-width="2"/>
<line x1="769.6" y1="1106.3" x2="785.6" y2="1106.3" stroke="#000" stroke-width="2"/>
<line x1="831.4" y1="1136.6" x2="831.4" y2="1121.6" stroke="#000" stroke-width="2"/>
<line x1="823.4" y1="1136.6" x2="839.4" y2="1136.6" stroke="#000" stroke-width="2"/>
<line x1="823.4" y1="1121.6" x2="839.4" y2="1121.6" stroke="#000" stroke-width="2"/>
<line x1="885.1" y1="1151.8" x2="885.1" y2="1134" stroke="#000" stroke-width="2"/>
<line x1="877.1" y1="1151.8" x2="893.1" y2="1151.8" stroke="#000" stroke-width="2"/>
<line x1="877.1" y1="1134" x2="893.1" y2="1134" stroke="#000" stroke-width="2"/>
<rect x="664.1" y="902.2" width="12" height="12" fill="#000000" stroke="#000" stroke-width="1.6"/>
<rect x="717.8" y="1138.3" width="12" height="12" fill="#000000" stroke="#000" stroke-width="1.6"/>
<rect x="771.6" y="1175.7" width="12" height="12" fill="#000000" stroke="#000" stroke-width="1.6"/>
<rect x="825.4" y="1178.3" width="12" height="12" fill="#000000" stroke="#000" stroke-width="1.6"/>
<rect x="664.1" y="991.5" width="12" height="12" fill="#c9a3a3" stroke="#000" stroke-width="1.6"/>
<rect x="717.8" y="1057.1" width="12" height="12" fill="#c9a3a3" stroke="#000" stroke-width="1.6"/>
<rect x="771.6" y="1169.5" width="12" height="12" fill="#c9a3a3" stroke="#000" stroke-width="1.6"/>
<rect x="825.4" y="1172.1" width="12" height="12" fill="#c9a3a3" stroke="#000" stroke-width="1.6"/>
<rect x="664.1" y="1119.8" width="12" height="12" fill="#f7b12c" stroke="#000" stroke-width="1.6"/>
<rect x="717.8" y="995.1" width="12" height="12" fill="#f7b12c" stroke="#000" stroke-width="1.6"/>
<rect x="771.6" y="1126" width="12" height="12" fill="#f7b12c" stroke="#000" stroke-width="1.6"/>
<rect x="825.4" y="1147.4" width="12" height="12" fill="#f7b12c" stroke="#000" stroke-width="1.6"/>
<rect x="879.1" y="1177.3" width="12" height="12" fill="#f7b12c" stroke="#000" stroke-width="1.6"/>
<rect x="664.1" y="1147.4" width="12" height="12" fill="#1e9a48" stroke="#000" stroke-width="1.6"/>
<rect x="717.8" y="1050" width="12" height="12" fill="#1e9a48" stroke="#000" stroke-width="1.6"/>
<rect x="771.6" y="1108.5" width="12" height="12" fill="#1e9a48" stroke="#000" stroke-width="1.6"/>
<rect x="825.4" y="1122.4" width="12" height="12" fill="#1e9a48" stroke="#000" stroke-width="1.6"/>
<rect x="879.1" y="1136.7" width="12" height="12" fill="#1e9a48" stroke="#000" stroke-width="1.6"/>
<polyline points="670.1,914.4 723.8,1142.7 777.6,1179.1 831.4,1183.3 885.1,1184.3" fill="none" stroke="#000000" stroke-width="2" stroke-linejoin="round"/>
<polyline points="670.1,999.5 723.8,1084.3 777.6,1157.7 831.4,1177.2 885.1,1183" fill="none" stroke="#c29393" stroke-width="2" stroke-linejoin="round"/>
<polyline points="670.1,1083 723.8,1072.9 777.6,1112.5 831.4,1157.7 885.1,1167.4" fill="none" stroke="#f2a81e" stroke-width="2.2" stroke-linejoin="round"/>
<polyline points="670.1,1118 723.8,1092.7 777.6,1111.9 831.4,1144.3 885.1,1130.4" fill="none" stroke="#17903d" stroke-width="2.2" stroke-linejoin="round"/>
</g>
<line x1="822.7" y1="899.6" x2="855.5" y2="899.6" stroke="#000000" stroke-width="2"/>
<text x="865" y="907.1" font-size="20">4d</text>
<line x1="822.7" y1="930.6" x2="855.5" y2="930.6" stroke="#c29393" stroke-width="2"/>
<text x="865" y="938.1" font-size="20">1w</text>
<line x1="822.7" y1="961.9" x2="855.5" y2="961.9" stroke="#f2a81e" stroke-width="2"/>
<text x="865" y="969.4" font-size="20">2w</text>
<line x1="822.7" y1="994.3" x2="855.5" y2="994.3" stroke="#17903d" stroke-width="2"/>
<text x="865" y="1001.8" font-size="20">3w</text>
<line x1="1099.5" y1="1183.3" x2="1099.5" y2="1176.3" stroke="#000" stroke-width="1.6"/>
<line x1="1099.5" y1="858.3" x2="1099.5" y2="865.3" stroke="#000" stroke-width="1.6"/>
<line x1="1153.3" y1="1183.3" x2="1153.3" y2="1176.3" stroke="#000" stroke-width="1.6"/>
<line x1="1153.3" y1="858.3" x2="1153.3" y2="865.3" stroke="#000" stroke-width="1.6"/>
<line x1="1207.2" y1="1183.3" x2="1207.2" y2="1176.3" stroke="#000" stroke-width="1.6"/>
<line x1="1207.2" y1="858.3" x2="1207.2" y2="865.3" stroke="#000" stroke-width="1.6"/>
<line x1="1261" y1="1183.3" x2="1261" y2="1176.3" stroke="#000" stroke-width="1.6"/>
<line x1="1261" y1="858.3" x2="1261" y2="865.3" stroke="#000" stroke-width="1.6"/>
<line x1="1314.8" y1="1183.3" x2="1314.8" y2="1176.3" stroke="#000" stroke-width="1.6"/>
<line x1="1314.8" y1="858.3" x2="1314.8" y2="865.3" stroke="#000" stroke-width="1.6"/>
<line x1="1072.6" y1="1150.8" x2="1076.6" y2="1150.8" stroke="#000" stroke-width="1.6"/>
<line x1="1072.6" y1="1118.3" x2="1079.6" y2="1118.3" stroke="#000" stroke-width="1.6"/>
<line x1="1072.6" y1="1085.8" x2="1076.6" y2="1085.8" stroke="#000" stroke-width="1.6"/>
<line x1="1072.6" y1="1053.3" x2="1079.6" y2="1053.3" stroke="#000" stroke-width="1.6"/>
<line x1="1072.6" y1="1020.8" x2="1076.6" y2="1020.8" stroke="#000" stroke-width="1.6"/>
<line x1="1072.6" y1="988.3" x2="1079.6" y2="988.3" stroke="#000" stroke-width="1.6"/>
<line x1="1072.6" y1="955.8" x2="1076.6" y2="955.8" stroke="#000" stroke-width="1.6"/>
<line x1="1072.6" y1="923.3" x2="1079.6" y2="923.3" stroke="#000" stroke-width="1.6"/>
<line x1="1072.6" y1="890.8" x2="1076.6" y2="890.8" stroke="#000" stroke-width="1.6"/>
<line x1="1368.7" y1="1183.3" x2="1368.7" y2="1176.3" stroke="#000" stroke-width="1.6"/>
<line x1="1368.7" y1="858.3" x2="1368.7" y2="865.3" stroke="#000" stroke-width="1.6"/>
<line x1="1422.5" y1="1183.3" x2="1422.5" y2="1176.3" stroke="#000" stroke-width="1.6"/>
<line x1="1422.5" y1="858.3" x2="1422.5" y2="865.3" stroke="#000" stroke-width="1.6"/>
<line x1="1476.3" y1="1183.3" x2="1476.3" y2="1176.3" stroke="#000" stroke-width="1.6"/>
<line x1="1476.3" y1="858.3" x2="1476.3" y2="865.3" stroke="#000" stroke-width="1.6"/>
<line x1="1530.2" y1="1183.3" x2="1530.2" y2="1176.3" stroke="#000" stroke-width="1.6"/>
<line x1="1530.2" y1="858.3" x2="1530.2" y2="865.3" stroke="#000" stroke-width="1.6"/>
<line x1="1584" y1="1183.3" x2="1584" y2="1176.3" stroke="#000" stroke-width="1.6"/>
<line x1="1584" y1="858.3" x2="1584" y2="865.3" stroke="#000" stroke-width="1.6"/>
<line x1="1341.8" y1="1150.8" x2="1345.8" y2="1150.8" stroke="#000" stroke-width="1.6"/>
<line x1="1341.8" y1="1118.3" x2="1348.8" y2="1118.3" stroke="#000" stroke-width="1.6"/>
<line x1="1341.8" y1="1085.8" x2="1345.8" y2="1085.8" stroke="#000" stroke-width="1.6"/>
<line x1="1341.8" y1="1053.3" x2="1348.8" y2="1053.3" stroke="#000" stroke-width="1.6"/>
<line x1="1341.8" y1="1020.8" x2="1345.8" y2="1020.8" stroke="#000" stroke-width="1.6"/>
<line x1="1341.8" y1="988.3" x2="1348.8" y2="988.3" stroke="#000" stroke-width="1.6"/>
<line x1="1341.8" y1="955.8" x2="1345.8" y2="955.8" stroke="#000" stroke-width="1.6"/>
<line x1="1341.8" y1="923.3" x2="1348.8" y2="923.3" stroke="#000" stroke-width="1.6"/>
<line x1="1341.8" y1="890.8" x2="1345.8" y2="890.8" stroke="#000" stroke-width="1.6"/>
<line x1="1637.8" y1="1183.3" x2="1637.8" y2="1176.3" stroke="#000" stroke-width="1.6"/>
<line x1="1637.8" y1="858.3" x2="1637.8" y2="865.3" stroke="#000" stroke-width="1.6"/>
<line x1="1691.6" y1="1183.3" x2="1691.6" y2="1176.3" stroke="#000" stroke-width="1.6"/>
<line x1="1691.6" y1="858.3" x2="1691.6" y2="865.3" stroke="#000" stroke-width="1.6"/>
<line x1="1745.5" y1="1183.3" x2="1745.5" y2="1176.3" stroke="#000" stroke-width="1.6"/>
<line x1="1745.5" y1="858.3" x2="1745.5" y2="865.3" stroke="#000" stroke-width="1.6"/>
<line x1="1799.3" y1="1183.3" x2="1799.3" y2="1176.3" stroke="#000" stroke-width="1.6"/>
<line x1="1799.3" y1="858.3" x2="1799.3" y2="865.3" stroke="#000" stroke-width="1.6"/>
<line x1="1853.1" y1="1183.3" x2="1853.1" y2="1176.3" stroke="#000" stroke-width="1.6"/>
<line x1="1853.1" y1="858.3" x2="1853.1" y2="865.3" stroke="#000" stroke-width="1.6"/>
<line x1="1610.9" y1="1150.8" x2="1614.9" y2="1150.8" stroke="#000" stroke-width="1.6"/>
<line x1="1610.9" y1="1118.3" x2="1617.9" y2="1118.3" stroke="#000" stroke-width="1.6"/>
<line x1="1610.9" y1="1085.8" x2="1614.9" y2="1085.8" stroke="#000" stroke-width="1.6"/>
<line x1="1610.9" y1="1053.3" x2="1617.9" y2="1053.3" stroke="#000" stroke-width="1.6"/>
<line x1="1610.9" y1="1020.8" x2="1614.9" y2="1020.8" stroke="#000" stroke-width="1.6"/>
<line x1="1610.9" y1="988.3" x2="1617.9" y2="988.3" stroke="#000" stroke-width="1.6"/>
<line x1="1610.9" y1="955.8" x2="1614.9" y2="955.8" stroke="#000" stroke-width="1.6"/>
<line x1="1610.9" y1="923.3" x2="1617.9" y2="923.3" stroke="#000" stroke-width="1.6"/>
<line x1="1610.9" y1="890.8" x2="1614.9" y2="890.8" stroke="#000" stroke-width="1.6"/>
<rect x="1072.6" y="858.3" width="807.4" height="325" fill="none" stroke="#000" stroke-width="2"/>
<line x1="1341.8" y1="858.3" x2="1341.8" y2="1183.3" stroke="#000" stroke-width="2"/>
<line x1="1610.9" y1="858.3" x2="1610.9" y2="1183.3" stroke="#000" stroke-width="2"/>
<text x="1099.5" y="1211.3" font-size="20" text-anchor="middle">1</text>
<text x="1153.3" y="1211.3" font-size="20" text-anchor="middle">2</text>
<text x="1207.2" y="1211.3" font-size="20" text-anchor="middle">3</text>
<text x="1261" y="1211.3" font-size="20" text-anchor="middle">4</text>
<text x="1314.8" y="1211.3" font-size="20" text-anchor="middle">5</text>
<text x="1368.7" y="1211.3" font-size="20" text-anchor="middle">1</text>
<text x="1422.5" y="1211.3" font-size="20" text-anchor="middle">2</text>
<text x="1476.3" y="1211.3" font-size="20" text-anchor="middle">3</text>
<text x="1530.2" y="1211.3" font-size="20" text-anchor="middle">4</text>
<text x="1584" y="1211.3" font-size="20" text-anchor="middle">5</text>
<text x="1637.8" y="1211.3" font-size="20" text-anchor="middle">1</text>
<text x="1691.6" y="1211.3" font-size="20" text-anchor="middle">2</text>
<text x="1745.5" y="1211.3" font-size="20" text-anchor="middle">3</text>
<text x="1799.3" y="1211.3" font-size="20" text-anchor="middle">4</text>
<text x="1853.1" y="1211.3" font-size="20" text-anchor="middle">5</text>
<text x="1064" y="1190.3" font-size="20" text-anchor="end">0</text>
<text x="1064" y="1125.3" font-size="20" text-anchor="end">0.2</text>
<text x="1064" y="1060.3" font-size="20" text-anchor="end">0.4</text>
<text x="1064" y="995.3" font-size="20" text-anchor="end">0.6</text>
<text x="1064" y="930.3" font-size="20" text-anchor="end">0.8</text>
<text x="1064" y="865.3" font-size="20" text-anchor="end">1</text>
<text x="1207.2" y="846" font-size="24.5" text-anchor="middle">R2KR MT</text>
<text x="1476.3" y="846" font-size="24.5" text-anchor="middle">R2P3 MT</text>
<text x="1745.5" y="846" font-size="24.5" text-anchor="middle">R2N1 MT</text>
<text x="1496.7" y="1236" font-size="20.6" text-anchor="middle">Clone size (cells)</text>
<text x="1025" y="1020.8" font-size="20.6" text-anchor="middle" transform="rotate(-90 1025 1020.8)">Clone size distribution</text>
<clipPath id="clipcf1072"><rect x="1072.6" y="858.3" width="807.4" height="333"/></clipPath>
<g clip-path="url(#clipcf1072)">
<line x1="1099.5" y1="1085.5" x2="1099.5" y2="1056.5" stroke="#000" stroke-width="2"/>
<line x1="1091.5" y1="1085.5" x2="1107.5" y2="1085.5" stroke="#000" stroke-width="2"/>
<line x1="1091.5" y1="1056.5" x2="1107.5" y2="1056.5" stroke="#000" stroke-width="2"/>
<line x1="1153.3" y1="1052.3" x2="1153.3" y2="1022.1" stroke="#000" stroke-width="2"/>
<line x1="1145.3" y1="1052.3" x2="1161.3" y2="1052.3" stroke="#000" stroke-width="2"/>
<line x1="1145.3" y1="1022.1" x2="1161.3" y2="1022.1" stroke="#000" stroke-width="2"/>
<line x1="1207.2" y1="1150.8" x2="1207.2" y2="1125.8" stroke="#000" stroke-width="2"/>
<line x1="1199.2" y1="1150.8" x2="1215.2" y2="1150.8" stroke="#000" stroke-width="2"/>
<line x1="1199.2" y1="1125.8" x2="1215.2" y2="1125.8" stroke="#000" stroke-width="2"/>
<line x1="1261" y1="1163.8" x2="1261" y2="1150.8" stroke="#000" stroke-width="2"/>
<line x1="1253" y1="1163.8" x2="1269" y2="1163.8" stroke="#000" stroke-width="2"/>
<line x1="1253" y1="1150.8" x2="1269" y2="1150.8" stroke="#000" stroke-width="2"/>
<line x1="1314.8" y1="1189.8" x2="1314.8" y2="1177.1" stroke="#000" stroke-width="2"/>
<line x1="1306.8" y1="1189.8" x2="1322.8" y2="1189.8" stroke="#000" stroke-width="2"/>
<line x1="1306.8" y1="1177.1" x2="1322.8" y2="1177.1" stroke="#000" stroke-width="2"/>
<line x1="1153.3" y1="1125.8" x2="1153.3" y2="1095.5" stroke="#000" stroke-width="2"/>
<line x1="1145.3" y1="1125.8" x2="1161.3" y2="1125.8" stroke="#000" stroke-width="2"/>
<line x1="1145.3" y1="1095.5" x2="1161.3" y2="1095.5" stroke="#000" stroke-width="2"/>
<line x1="1207.2" y1="1169" x2="1207.2" y2="1144.3" stroke="#000" stroke-width="2"/>
<line x1="1199.2" y1="1169" x2="1215.2" y2="1169" stroke="#000" stroke-width="2"/>
<line x1="1199.2" y1="1144.3" x2="1215.2" y2="1144.3" stroke="#000" stroke-width="2"/>
<line x1="1261" y1="1101.4" x2="1261" y2="1069.2" stroke="#000" stroke-width="2"/>
<line x1="1253" y1="1101.4" x2="1269" y2="1101.4" stroke="#000" stroke-width="2"/>
<line x1="1253" y1="1069.2" x2="1269" y2="1069.2" stroke="#000" stroke-width="2"/>
<line x1="1314.8" y1="1083.8" x2="1314.8" y2="1045.2" stroke="#000" stroke-width="2"/>
<line x1="1306.8" y1="1083.8" x2="1322.8" y2="1083.8" stroke="#000" stroke-width="2"/>
<line x1="1306.8" y1="1045.2" x2="1322.8" y2="1045.2" stroke="#000" stroke-width="2"/>
<line x1="1261" y1="1147.5" x2="1261" y2="1132" stroke="#000" stroke-width="2"/>
<line x1="1253" y1="1147.5" x2="1269" y2="1147.5" stroke="#000" stroke-width="2"/>
<line x1="1253" y1="1132" x2="1269" y2="1132" stroke="#000" stroke-width="2"/>
<line x1="1314.8" y1="917.8" x2="1314.8" y2="897.3" stroke="#000" stroke-width="2"/>
<line x1="1306.8" y1="917.8" x2="1322.8" y2="917.8" stroke="#000" stroke-width="2"/>
<line x1="1306.8" y1="897.3" x2="1322.8" y2="897.3" stroke="#000" stroke-width="2"/>
<line x1="1099.5" y1="1186.5" x2="1099.5" y2="1167.4" stroke="#000" stroke-width="2"/>
<line x1="1091.5" y1="1186.5" x2="1107.5" y2="1186.5" stroke="#000" stroke-width="2"/>
<line x1="1091.5" y1="1167.4" x2="1107.5" y2="1167.4" stroke="#000" stroke-width="2"/>
<line x1="1153.3" y1="1183.3" x2="1153.3" y2="1171.9" stroke="#000" stroke-width="2"/>
<line x1="1145.3" y1="1183.3" x2="1161.3" y2="1183.3" stroke="#000" stroke-width="2"/>
<line x1="1145.3" y1="1171.9" x2="1161.3" y2="1171.9" stroke="#000" stroke-width="2"/>
<line x1="1207.2" y1="1186.5" x2="1207.2" y2="1176.8" stroke="#000" stroke-width="2"/>
<line x1="1199.2" y1="1186.5" x2="1215.2" y2="1186.5" stroke="#000" stroke-width="2"/>
<line x1="1199.2" y1="1176.8" x2="1215.2" y2="1176.8" stroke="#000" stroke-width="2"/>
<line x1="1261" y1="1171" x2="1261" y2="1147.9" stroke="#000" stroke-width="2"/>
<line x1="1253" y1="1171" x2="1269" y2="1171" stroke="#000" stroke-width="2"/>
<line x1="1253" y1="1147.9" x2="1269" y2="1147.9" stroke="#000" stroke-width="2"/>
<line x1="1314.8" y1="903.8" x2="1314.8" y2="894.7" stroke="#000" stroke-width="2"/>
<line x1="1306.8" y1="903.8" x2="1322.8" y2="903.8" stroke="#000" stroke-width="2"/>
<line x1="1306.8" y1="894.7" x2="1322.8" y2="894.7" stroke="#000" stroke-width="2"/>
<rect x="1093.5" y="1064.8" width="12" height="12" fill="#000000" stroke="#000" stroke-width="1.6"/>
<rect x="1147.3" y="1031.7" width="12" height="12" fill="#000000" stroke="#000" stroke-width="1.6"/>
<rect x="1201.2" y="1132.1" width="12" height="12" fill="#000000" stroke="#000" stroke-width="1.6"/>
<rect x="1255" y="1151.3" width="12" height="12" fill="#000000" stroke="#000" stroke-width="1.6"/>
<rect x="1308.8" y="1177.3" width="12" height="12" fill="#000000" stroke="#000" stroke-width="1.6"/>
<rect x="1093.5" y="1172.1" width="12" height="12" fill="#c9a3a3" stroke="#000" stroke-width="1.6"/>
<rect x="1147.3" y="1104.8" width="12" height="12" fill="#c9a3a3" stroke="#000" stroke-width="1.6"/>
<rect x="1201.2" y="1147.1" width="12" height="12" fill="#c9a3a3" stroke="#000" stroke-width="1.6"/>
<rect x="1255" y="1079.8" width="12" height="12" fill="#c9a3a3" stroke="#000" stroke-width="1.6"/>
<rect x="1308.8" y="1058.7" width="12" height="12" fill="#c9a3a3" stroke="#000" stroke-width="1.6"/>
<rect x="1093.5" y="1174.7" width="12" height="12" fill="#f7b12c" stroke="#000" stroke-width="1.6"/>
<rect x="1147.3" y="1177.3" width="12" height="12" fill="#f7b12c" stroke="#000" stroke-width="1.6"/>
<rect x="1201.2" y="1177.3" width="12" height="12" fill="#f7b12c" stroke="#000" stroke-width="1.6"/>
<rect x="1255" y="1133.8" width="12" height="12" fill="#f7b12c" stroke="#000" stroke-width="1.6"/>
<rect x="1308.8" y="902" width="12" height="12" fill="#f7b12c" stroke="#000" stroke-width="1.6"/>
<rect x="1093.5" y="1172.8" width="12" height="12" fill="#1e9a48" stroke="#000" stroke-width="1.6"/>
<rect x="1147.3" y="1170.1" width="12" height="12" fill="#1e9a48" stroke="#000" stroke-width="1.6"/>
<rect x="1201.2" y="1174.7" width="12" height="12" fill="#1e9a48" stroke="#000" stroke-width="1.6"/>
<rect x="1255" y="1150.6" width="12" height="12" fill="#1e9a48" stroke="#000" stroke-width="1.6"/>
<rect x="1308.8" y="892.3" width="12" height="12" fill="#1e9a48" stroke="#000" stroke-width="1.6"/>
<polyline points="1099.5,1078 1153.3,1065.6 1207.2,1117.6 1261,1157.6 1314.8,1174.5" fill="none" stroke="#000000" stroke-width="2" stroke-linejoin="round"/>
<polyline points="1099.5,1158.6 1153.3,1125.8 1207.2,1107.2 1261,1118.6 1314.8,1083.8" fill="none" stroke="#c29393" stroke-width="2" stroke-linejoin="round"/>
<polyline points="1099.5,1181.7 1153.3,1174.5 1207.2,1168.3 1261,1162.8 1314.8,907" fill="none" stroke="#f2a81e" stroke-width="2.2" stroke-linejoin="round"/>
<polyline points="1099.5,1183 1153.3,1182.3 1207.2,1181.7 1261,1180.7 1314.8,858.3" fill="none" stroke="#17903d" stroke-width="2.2" stroke-linejoin="round"/>
</g>
<g clip-path="url(#clipcf1072)">
<line x1="1368.7" y1="1101.4" x2="1368.7" y2="1077.7" stroke="#000" stroke-width="2"/>
<line x1="1360.7" y1="1101.4" x2="1376.7" y2="1101.4" stroke="#000" stroke-width="2"/>
<line x1="1360.7" y1="1077.7" x2="1376.7" y2="1077.7" stroke="#000" stroke-width="2"/>
<line x1="1422.5" y1="1081.6" x2="1422.5" y2="1054.9" stroke="#000" stroke-width="2"/>
<line x1="1414.5" y1="1081.6" x2="1430.5" y2="1081.6" stroke="#000" stroke-width="2"/>
<line x1="1414.5" y1="1054.9" x2="1430.5" y2="1054.9" stroke="#000" stroke-width="2"/>
<line x1="1476.3" y1="1113.4" x2="1476.3" y2="1087.8" stroke="#000" stroke-width="2"/>
<line x1="1468.3" y1="1113.4" x2="1484.3" y2="1113.4" stroke="#000" stroke-width="2"/>
<line x1="1468.3" y1="1087.8" x2="1484.3" y2="1087.8" stroke="#000" stroke-width="2"/>
<line x1="1530.2" y1="1160.5" x2="1530.2" y2="1141" stroke="#000" stroke-width="2"/>
<line x1="1522.2" y1="1160.5" x2="1538.2" y2="1160.5" stroke="#000" stroke-width="2"/>
<line x1="1522.2" y1="1141" x2="1538.2" y2="1141" stroke="#000" stroke-width="2"/>
<line x1="1584" y1="1189.8" x2="1584" y2="1174.5" stroke="#000" stroke-width="2"/>
<line x1="1576" y1="1189.8" x2="1592" y2="1189.8" stroke="#000" stroke-width="2"/>
<line x1="1576" y1="1174.5" x2="1592" y2="1174.5" stroke="#000" stroke-width="2"/>
<line x1="1368.7" y1="1176.8" x2="1368.7" y2="1156.6" stroke="#000" stroke-width="2"/>
<line x1="1360.7" y1="1176.8" x2="1376.7" y2="1176.8" stroke="#000" stroke-width="2"/>
<line x1="1360.7" y1="1156.6" x2="1376.7" y2="1156.6" stroke="#000" stroke-width="2"/>
<line x1="1422.5" y1="1160.5" x2="1422.5" y2="1131" stroke="#000" stroke-width="2"/>
<line x1="1414.5" y1="1160.5" x2="1430.5" y2="1160.5" stroke="#000" stroke-width="2"/>
<line x1="1414.5" y1="1131" x2="1430.5" y2="1131" stroke="#000" stroke-width="2"/>
<line x1="1476.3" y1="1115" x2="1476.3" y2="1108.5" stroke="#000" stroke-width="2"/>
<line x1="1468.3" y1="1115" x2="1484.3" y2="1115" stroke="#000" stroke-width="2"/>
<line x1="1468.3" y1="1108.5" x2="1484.3" y2="1108.5" stroke="#000" stroke-width="2"/>
<line x1="1530.2" y1="1124.8" x2="1530.2" y2="1097.5" stroke="#000" stroke-width="2"/>
<line x1="1522.2" y1="1124.8" x2="1538.2" y2="1124.8" stroke="#000" stroke-width="2"/>
<line x1="1522.2" y1="1097.5" x2="1538.2" y2="1097.5" stroke="#000" stroke-width="2"/>
<line x1="1584" y1="1016.9" x2="1584" y2="977.6" stroke="#000" stroke-width="2"/>
<line x1="1576" y1="1016.9" x2="1592" y2="1016.9" stroke="#000" stroke-width="2"/>
<line x1="1576" y1="977.6" x2="1592" y2="977.6" stroke="#000" stroke-width="2"/>
<line x1="1422.5" y1="1173.5" x2="1422.5" y2="1167" stroke="#000" stroke-width="2"/>
<line x1="1414.5" y1="1173.5" x2="1430.5" y2="1173.5" stroke="#000" stroke-width="2"/>
<line x1="1414.5" y1="1167" x2="1430.5" y2="1167" stroke="#000" stroke-width="2"/>
<line x1="1530.2" y1="1128" x2="1530.2" y2="1115" stroke="#000" stroke-width="2"/>
<line x1="1522.2" y1="1128" x2="1538.2" y2="1128" stroke="#000" stroke-width="2"/>
<line x1="1522.2" y1="1115" x2="1538.2" y2="1115" stroke="#000" stroke-width="2"/>
<line x1="1584" y1="967.2" x2="1584" y2="942.8" stroke="#000" stroke-width="2"/>
<line x1="1576" y1="967.2" x2="1592" y2="967.2" stroke="#000" stroke-width="2"/>
<line x1="1576" y1="942.8" x2="1592" y2="942.8" stroke="#000" stroke-width="2"/>
<line x1="1422.5" y1="1167" x2="1422.5" y2="1158.9" stroke="#000" stroke-width="2"/>
<line x1="1414.5" y1="1167" x2="1430.5" y2="1167" stroke="#000" stroke-width="2"/>
<line x1="1414.5" y1="1158.9" x2="1430.5" y2="1158.9" stroke="#000" stroke-width="2"/>
<line x1="1476.3" y1="1176.8" x2="1476.3" y2="1163.8" stroke="#000" stroke-width="2"/>
<line x1="1468.3" y1="1176.8" x2="1484.3" y2="1176.8" stroke="#000" stroke-width="2"/>
<line x1="1468.3" y1="1163.8" x2="1484.3" y2="1163.8" stroke="#000" stroke-width="2"/>
<line x1="1530.2" y1="1160.5" x2="1530.2" y2="1128" stroke="#000" stroke-width="2"/>
<line x1="1522.2" y1="1160.5" x2="1538.2" y2="1160.5" stroke="#000" stroke-width="2"/>
<line x1="1522.2" y1="1128" x2="1538.2" y2="1128" stroke="#000" stroke-width="2"/>
<line x1="1584" y1="949.3" x2="1584" y2="936.3" stroke="#000" stroke-width="2"/>
<line x1="1576" y1="949.3" x2="1592" y2="949.3" stroke="#000" stroke-width="2"/>
<line x1="1576" y1="936.3" x2="1592" y2="936.3" stroke="#000" stroke-width="2"/>
<rect x="1362.7" y="1083.4" width="12" height="12" fill="#000000" stroke="#000" stroke-width="1.6"/>
<rect x="1416.5" y="1062.6" width="12" height="12" fill="#000000" stroke="#000" stroke-width="1.6"/>
<rect x="1470.3" y="1094.1" width="12" height="12" fill="#000000" stroke="#000" stroke-width="1.6"/>
<rect x="1524.2" y="1143.5" width="12" height="12" fill="#000000" stroke="#000" stroke-width="1.6"/>
<rect x="1578" y="1177.3" width="12" height="12" fill="#000000" stroke="#000" stroke-width="1.6"/>
<rect x="1362.7" y="1161.4" width="12" height="12" fill="#c9a3a3" stroke="#000" stroke-width="1.6"/>
<rect x="1416.5" y="1140.2" width="12" height="12" fill="#c9a3a3" stroke="#000" stroke-width="1.6"/>
<rect x="1470.3" y="1106.5" width="12" height="12" fill="#c9a3a3" stroke="#000" stroke-width="1.6"/>
<rect x="1524.2" y="1105.5" width="12" height="12" fill="#c9a3a3" stroke="#000" stroke-width="1.6"/>
<rect x="1578" y="991.4" width="12" height="12" fill="#c9a3a3" stroke="#000" stroke-width="1.6"/>
<rect x="1362.7" y="1171.1" width="12" height="12" fill="#f7b12c" stroke="#000" stroke-width="1.6"/>
<rect x="1416.5" y="1164" width="12" height="12" fill="#f7b12c" stroke="#000" stroke-width="1.6"/>
<rect x="1470.3" y="1164.3" width="12" height="12" fill="#f7b12c" stroke="#000" stroke-width="1.6"/>
<rect x="1524.2" y="1114.6" width="12" height="12" fill="#f7b12c" stroke="#000" stroke-width="1.6"/>
<rect x="1578" y="948.8" width="12" height="12" fill="#f7b12c" stroke="#000" stroke-width="1.6"/>
<rect x="1362.7" y="1177.3" width="12" height="12" fill="#1e9a48" stroke="#000" stroke-width="1.6"/>
<rect x="1416.5" y="1156.8" width="12" height="12" fill="#1e9a48" stroke="#000" stroke-width="1.6"/>
<rect x="1470.3" y="1165" width="12" height="12" fill="#1e9a48" stroke="#000" stroke-width="1.6"/>
<rect x="1524.2" y="1127.6" width="12" height="12" fill="#1e9a48" stroke="#000" stroke-width="1.6"/>
<rect x="1578" y="934.5" width="12" height="12" fill="#1e9a48" stroke="#000" stroke-width="1.6"/>
<polyline points="1368.7,1119.6 1422.5,1083.2 1476.3,1102.7 1530.2,1136.5 1584,1151.5" fill="none" stroke="#000000" stroke-width="2" stroke-linejoin="round"/>
<polyline points="1368.7,1158.6 1422.5,1127.4 1476.3,1110.8 1530.2,1119.6 1584,1073.5" fill="none" stroke="#c29393" stroke-width="2" stroke-linejoin="round"/>
<polyline points="1368.7,1179.7 1422.5,1170 1476.3,1160.2 1530.2,1156 1584,926.5" fill="none" stroke="#f2a81e" stroke-width="2.2" stroke-linejoin="round"/>
<polyline points="1368.7,1182.3 1422.5,1181 1476.3,1178.1 1530.2,1175.2 1584,876.5" fill="none" stroke="#17903d" stroke-width="2.2" stroke-linejoin="round"/>
</g>
<g clip-path="url(#clipcf1072)">
<line x1="1637.8" y1="913.2" x2="1637.8" y2="887.5" stroke="#000" stroke-width="2"/>
<line x1="1629.8" y1="913.2" x2="1645.8" y2="913.2" stroke="#000" stroke-width="2"/>
<line x1="1629.8" y1="887.5" x2="1645.8" y2="887.5" stroke="#000" stroke-width="2"/>
<line x1="1691.6" y1="1154" x2="1691.6" y2="1135.5" stroke="#000" stroke-width="2"/>
<line x1="1683.6" y1="1154" x2="1699.6" y2="1154" stroke="#000" stroke-width="2"/>
<line x1="1683.6" y1="1135.5" x2="1699.6" y2="1135.5" stroke="#000" stroke-width="2"/>
<line x1="1637.8" y1="1114.1" x2="1637.8" y2="1080.6" stroke="#000" stroke-width="2"/>
<line x1="1629.8" y1="1114.1" x2="1645.8" y2="1114.1" stroke="#000" stroke-width="2"/>
<line x1="1629.8" y1="1080.6" x2="1645.8" y2="1080.6" stroke="#000" stroke-width="2"/>
<line x1="1691.6" y1="1000" x2="1691.6" y2="967.5" stroke="#000" stroke-width="2"/>
<line x1="1683.6" y1="1000" x2="1699.6" y2="1000" stroke="#000" stroke-width="2"/>
<line x1="1683.6" y1="967.5" x2="1699.6" y2="967.5" stroke="#000" stroke-width="2"/>
<line x1="1745.5" y1="1171" x2="1745.5" y2="1146.2" stroke="#000" stroke-width="2"/>
<line x1="1737.5" y1="1171" x2="1753.5" y2="1171" stroke="#000" stroke-width="2"/>
<line x1="1737.5" y1="1146.2" x2="1753.5" y2="1146.2" stroke="#000" stroke-width="2"/>
<line x1="1799.3" y1="1175.2" x2="1799.3" y2="1162.8" stroke="#000" stroke-width="2"/>
<line x1="1791.3" y1="1175.2" x2="1807.3" y2="1175.2" stroke="#000" stroke-width="2"/>
<line x1="1791.3" y1="1162.8" x2="1807.3" y2="1162.8" stroke="#000" stroke-width="2"/>
<line x1="1691.6" y1="1128" x2="1691.6" y2="1096.5" stroke="#000" stroke-width="2"/>
<line x1="1683.6" y1="1128" x2="1699.6" y2="1128" stroke="#000" stroke-width="2"/>
<line x1="1683.6" y1="1096.5" x2="1699.6" y2="1096.5" stroke="#000" stroke-width="2"/>
<line x1="1745.5" y1="1094.9" x2="1745.5" y2="1062.1" stroke="#000" stroke-width="2"/>
<line x1="1737.5" y1="1094.9" x2="1753.5" y2="1094.9" stroke="#000" stroke-width="2"/>
<line x1="1737.5" y1="1062.1" x2="1753.5" y2="1062.1" stroke="#000" stroke-width="2"/>
<line x1="1799.3" y1="1110.8" x2="1799.3" y2="1081.6" stroke="#000" stroke-width="2"/>
<line x1="1791.3" y1="1110.8" x2="1807.3" y2="1110.8" stroke="#000" stroke-width="2"/>
<line x1="1791.3" y1="1081.6" x2="1807.3" y2="1081.6" stroke="#000" stroke-width="2"/>
<line x1="1853.1" y1="1149.5" x2="1853.1" y2="1119.6" stroke="#000" stroke-width="2"/>
<line x1="1845.1" y1="1149.5" x2="1861.1" y2="1149.5" stroke="#000" stroke-width="2"/>
<line x1="1845.1" y1="1119.6" x2="1861.1" y2="1119.6" stroke="#000" stroke-width="2"/>
<line x1="1637.8" y1="1165.4" x2="1637.8" y2="1151.5" stroke="#000" stroke-width="2"/>
<line x1="1629.8" y1="1165.4" x2="1645.8" y2="1165.4" stroke="#000" stroke-width="2"/>
<line x1="1629.8" y1="1151.5" x2="1645.8" y2="1151.5" stroke="#000" stroke-width="2"/>
<line x1="1691.6" y1="1134.5" x2="1691.6" y2="1118.3" stroke="#000" stroke-width="2"/>
<line x1="1683.6" y1="1134.5" x2="1699.6" y2="1134.5" stroke="#000" stroke-width="2"/>
<line x1="1683.6" y1="1118.3" x2="1699.6" y2="1118.3" stroke="#000" stroke-width="2"/>
<line x1="1745.5" y1="1134.5" x2="1745.5" y2="1111.5" stroke="#000" stroke-width="2"/>
<line x1="1737.5" y1="1134.5" x2="1753.5" y2="1134.5" stroke="#000" stroke-width="2"/>
<line x1="1737.5" y1="1111.5" x2="1753.5" y2="1111.5" stroke="#000" stroke-width="2"/>
<line x1="1799.3" y1="1131.3" x2="1799.3" y2="1109.8" stroke="#000" stroke-width="2"/>
<line x1="1791.3" y1="1131.3" x2="1807.3" y2="1131.3" stroke="#000" stroke-width="2"/>
<line x1="1791.3" y1="1109.8" x2="1807.3" y2="1109.8" stroke="#000" stroke-width="2"/>
<line x1="1853.1" y1="1079.6" x2="1853.1" y2="1050.4" stroke="#000" stroke-width="2"/>
<line x1="1845.1" y1="1079.6" x2="1861.1" y2="1079.6" stroke="#000" stroke-width="2"/>
<line x1="1845.1" y1="1050.4" x2="1861.1" y2="1050.4" stroke="#000" stroke-width="2"/>
<rect x="1631.8" y="894.9" width="12" height="12" fill="#000000" stroke="#000" stroke-width="1.6"/>
<rect x="1685.6" y="1137.3" width="12" height="12" fill="#000000" stroke="#000" stroke-width="1.6"/>
<rect x="1739.5" y="1177.3" width="12" height="12" fill="#000000" stroke="#000" stroke-width="1.6"/>
<rect x="1793.3" y="1177.3" width="12" height="12" fill="#000000" stroke="#000" stroke-width="1.6"/>
<rect x="1631.8" y="1092.1" width="12" height="12" fill="#c9a3a3" stroke="#000" stroke-width="1.6"/>
<rect x="1685.6" y="978.1" width="12" height="12" fill="#c9a3a3" stroke="#000" stroke-width="1.6"/>
<rect x="1739.5" y="1153.2" width="12" height="12" fill="#c9a3a3" stroke="#000" stroke-width="1.6"/>
<rect x="1793.3" y="1163" width="12" height="12" fill="#c9a3a3" stroke="#000" stroke-width="1.6"/>
<rect x="1847.1" y="1177.3" width="12" height="12" fill="#c9a3a3" stroke="#000" stroke-width="1.6"/>
<rect x="1631.8" y="1165" width="12" height="12" fill="#f7b12c" stroke="#000" stroke-width="1.6"/>
<rect x="1685.6" y="1106.5" width="12" height="12" fill="#f7b12c" stroke="#000" stroke-width="1.6"/>
<rect x="1739.5" y="1072.6" width="12" height="12" fill="#f7b12c" stroke="#000" stroke-width="1.6"/>
<rect x="1793.3" y="1089.5" width="12" height="12" fill="#f7b12c" stroke="#000" stroke-width="1.6"/>
<rect x="1847.1" y="1129.5" width="12" height="12" fill="#f7b12c" stroke="#000" stroke-width="1.6"/>
<rect x="1631.8" y="1152.6" width="12" height="12" fill="#1e9a48" stroke="#000" stroke-width="1.6"/>
<rect x="1685.6" y="1118.8" width="12" height="12" fill="#1e9a48" stroke="#000" stroke-width="1.6"/>
<rect x="1739.5" y="1117.2" width="12" height="12" fill="#1e9a48" stroke="#000" stroke-width="1.6"/>
<rect x="1793.3" y="1114.6" width="12" height="12" fill="#1e9a48" stroke="#000" stroke-width="1.6"/>
<rect x="1847.1" y="1059.6" width="12" height="12" fill="#1e9a48" stroke="#000" stroke-width="1.6"/>
<polyline points="1637.8,922 1691.6,1126.8 1745.5,1177.1 1799.3,1182.3 1853.1,1183.3" fill="none" stroke="#000000" stroke-width="2" stroke-linejoin="round"/>
<polyline points="1637.8,1042.6 1691.6,1066.3 1745.5,1133.6 1799.3,1168.3 1853.1,1179.7" fill="none" stroke="#c29393" stroke-width="2" stroke-linejoin="round"/>
<polyline points="1637.8,1135.5 1691.6,1101.1 1745.5,1101.7 1799.3,1130.3 1853.1,1119.6" fill="none" stroke="#f2a81e" stroke-width="2.2" stroke-linejoin="round"/>
<polyline points="1637.8,1160.2 1691.6,1137.1 1745.5,1123.2 1799.3,1135.5 1853.1,1033.8" fill="none" stroke="#17903d" stroke-width="2.2" stroke-linejoin="round"/>
</g>
<line x1="1787.4" y1="892.5" x2="1820.2" y2="892.5" stroke="#000000" stroke-width="2"/>
<text x="1830" y="900" font-size="20">4d</text>
<line x1="1787.4" y1="923.5" x2="1820.2" y2="923.5" stroke="#c29393" stroke-width="2"/>
<text x="1830" y="931" font-size="20">1w</text>
<line x1="1787.4" y1="955.4" x2="1820.2" y2="955.4" stroke="#f2a81e" stroke-width="2"/>
<text x="1830" y="962.9" font-size="20">2w</text>
<line x1="1787.4" y1="987.3" x2="1820.2" y2="987.3" stroke="#17903d" stroke-width="2"/>
<text x="1830" y="994.8" font-size="20">3w</text>
<line x1="1590.3" y1="1325.7" x2="1590.3" y2="1808.1" stroke="#000" stroke-width="2.2"/>
<line x1="1575.6" y1="1808.1" x2="1858.6" y2="1808.1" stroke="#000" stroke-width="2.2"/>
<line x1="1576.6" y1="1808.1" x2="1590.3" y2="1808.1" stroke="#000" stroke-width="2.2"/>
<text x="1566" y="1816.9" font-size="24.5" text-anchor="end">0</text>
<line x1="1576.6" y1="1647.3" x2="1590.3" y2="1647.3" stroke="#000" stroke-width="2.2"/>
<text x="1566" y="1656.1" font-size="24.5" text-anchor="end">4</text>
<line x1="1576.6" y1="1486.5" x2="1590.3" y2="1486.5" stroke="#000" stroke-width="2.2"/>
<text x="1566" y="1495.3" font-size="24.5" text-anchor="end">8</text>
<line x1="1576.6" y1="1325.7" x2="1590.3" y2="1325.7" stroke="#000" stroke-width="2.2"/>
<text x="1566" y="1334.5" font-size="24.5" text-anchor="end">12</text>
<line x1="1623.5" y1="1809.1" x2="1623.5" y2="1823.1" stroke="#000" stroke-width="2.2"/>
<line x1="1690.3" y1="1809.1" x2="1690.3" y2="1823.1" stroke="#000" stroke-width="2.2"/>
<line x1="1756.6" y1="1809.1" x2="1756.6" y2="1823.1" stroke="#000" stroke-width="2.2"/>
<line x1="1822.7" y1="1809.1" x2="1822.7" y2="1823.1" stroke="#000" stroke-width="2.2"/>
<path d="M1603 1808.1 V1723.7 H1644.6 V1808.1" fill="none" stroke="#000" stroke-width="2.2"/>
<path d="M1669.1 1808.1 V1677.4 H1711.8 V1808.1" fill="none" stroke="#000" stroke-width="2.2"/>
<path d="M1735.5 1808.1 V1518.7 H1777.7 V1808.1" fill="none" stroke="#000" stroke-width="2.2"/>
<path d="M1802.6 1808.1 V1486.5 H1843.8 V1808.1" fill="none" stroke="#000" stroke-width="2.2"/>
<circle cx="1623.5" cy="1678.9" r="7.4" fill="none" stroke="#6b6b6b" stroke-width="2"/>
<circle cx="1623.5" cy="1711.4" r="7.4" fill="none" stroke="#6b6b6b" stroke-width="2"/>
<circle cx="1609" cy="1731.7" r="7.4" fill="none" stroke="#6b6b6b" stroke-width="2"/>
<circle cx="1637.7" cy="1731.7" r="7.4" fill="none" stroke="#6b6b6b" stroke-width="2"/>
<circle cx="1623.5" cy="1760" r="7.4" fill="none" stroke="#6b6b6b" stroke-width="2"/>
<path d="M1690.3 1626.4l9 16h-18z" fill="#ee1111"/>
<path d="M1690.3 1659.1l9 16h-18z" fill="#ee1111"/>
<path d="M1675.9 1684.4l9 16h-18z" fill="#ee1111"/>
<path d="M1690.3 1684.4l9 16h-18z" fill="#ee1111"/>
<path d="M1704.4 1684.4l9 16h-18z" fill="#ee1111"/>
<rect x="1747.6" y="1441.6" width="18" height="17" fill="#ee1111"/>
<rect x="1733.4" y="1494.4" width="18" height="17" fill="#ee1111"/>
<rect x="1761.5" y="1497.6" width="18" height="17" fill="#ee1111"/>
<rect x="1747.6" y="1510.3" width="18" height="17" fill="#ee1111"/>
<rect x="1747.6" y="1599" width="18" height="17" fill="#ee1111"/>
<path d="M1814.1 1369.2h18l-9 16z" fill="#ee1111"/>
<path d="M1814.1 1436.8h18l-9 16z" fill="#ee1111"/>
<path d="M1814.1 1469.5h18l-9 16z" fill="#ee1111"/>
<path d="M1800 1555h18l-9 16z" fill="#ee1111"/>
<path d="M1828 1550.8h18l-9 16z" fill="#ee1111"/>
<line x1="1623.5" y1="1736.3" x2="1623.5" y2="1709.3" stroke="#000" stroke-width="2.2"/>
<line x1="1612.5" y1="1736.3" x2="1634.5" y2="1736.3" stroke="#000" stroke-width="2.2"/>
<line x1="1612.5" y1="1709.3" x2="1634.5" y2="1709.3" stroke="#000" stroke-width="2.2"/>
<line x1="1690.3" y1="1685.6" x2="1690.3" y2="1664.5" stroke="#000" stroke-width="2.2"/>
<line x1="1679.3" y1="1685.6" x2="1701.3" y2="1685.6" stroke="#000" stroke-width="2.2"/>
<line x1="1679.3" y1="1664.5" x2="1701.3" y2="1664.5" stroke="#000" stroke-width="2.2"/>
<line x1="1756.6" y1="1542" x2="1756.6" y2="1491.3" stroke="#000" stroke-width="2.2"/>
<line x1="1745.6" y1="1542" x2="1767.6" y2="1542" stroke="#000" stroke-width="2.2"/>
<line x1="1745.6" y1="1491.3" x2="1767.6" y2="1491.3" stroke="#000" stroke-width="2.2"/>
<line x1="1823.1" y1="1518.8" x2="1823.1" y2="1450.1" stroke="#000" stroke-width="2.2"/>
<line x1="1812.1" y1="1518.8" x2="1834.1" y2="1518.8" stroke="#000" stroke-width="2.2"/>
<line x1="1812.1" y1="1450.1" x2="1834.1" y2="1450.1" stroke="#000" stroke-width="2.2"/>
<line x1="1617.8" y1="1355.5" x2="1829.7" y2="1355.5" stroke="#000" stroke-width="2"/>
<text x="1719" y="1353" font-size="22" text-anchor="middle" dy="-1">**</text>
<line x1="1617.8" y1="1426.5" x2="1762.5" y2="1426.5" stroke="#000" stroke-width="2"/>
<text x="1688" y="1424" font-size="22" text-anchor="middle" dy="-1">***</text>
<line x1="1617.8" y1="1616.3" x2="1694.5" y2="1616.3" stroke="#000" stroke-width="2"/>
<text x="1650.5" y="1613" font-size="22" text-anchor="middle" dy="-1">*</text>
<text x="1620.2" y="1854.5" font-size="24" text-anchor="middle" font-style="italic" textLength="42" lengthAdjust="spacingAndGlyphs">Conf</text>
<text x="1684.2" y="1854.5" font-size="24" text-anchor="middle" font-style="italic" textLength="51.5" lengthAdjust="spacingAndGlyphs">R2N1</text>
<text x="1753.6" y="1854.5" font-size="24" text-anchor="middle" font-style="italic" textLength="53.3" lengthAdjust="spacingAndGlyphs">R2KR</text>
<text x="1820.2" y="1854.5" font-size="24" text-anchor="middle" font-style="italic" textLength="50.5" lengthAdjust="spacingAndGlyphs">R2P3</text>
<line x1="1656.9" y1="1871.5" x2="1849.1" y2="1871.5" stroke="#000" stroke-width="2"/>
<text x="1743.6" y="1901" font-size="24" text-anchor="middle" font-style="italic" textLength="118.6" lengthAdjust="spacingAndGlyphs">Red2-Mutant</text>
<text x="1530" y="1566" font-size="25" text-anchor="middle" transform="rotate(-90 1530 1566)">Number of EdU+ CBC / crypt</text>
<line x1="121.7" y1="45.1" x2="121.7" y2="51.1" stroke="#3a3a3a" stroke-width="1.3"/>
<line x1="121.7" y1="274.8" x2="121.7" y2="268.8" stroke="#3a3a3a" stroke-width="1.3"/>
<line x1="129" y1="45.1" x2="129" y2="48.6" stroke="#3a3a3a" stroke-width="1.3"/>
<line x1="129" y1="274.8" x2="129" y2="271.3" stroke="#3a3a3a" stroke-width="1.3"/>
<line x1="136.3" y1="45.1" x2="136.3" y2="48.6" stroke="#3a3a3a" stroke-width="1.3"/>
<line x1="136.3" y1="274.8" x2="136.3" y2="271.3" stroke="#3a3a3a" stroke-width="1.3"/>
<line x1="143.7" y1="45.1" x2="143.7" y2="48.6" stroke="#3a3a3a" stroke-width="1.3"/>
<line x1="143.7" y1="274.8" x2="143.7" y2="271.3" stroke="#3a3a3a" stroke-width="1.3"/>
<line x1="151" y1="45.1" x2="151" y2="48.6" stroke="#3a3a3a" stroke-width="1.3"/>
<line x1="151" y1="274.8" x2="151" y2="271.3" stroke="#3a3a3a" stroke-width="1.3"/>
<line x1="158.3" y1="45.1" x2="158.3" y2="48.6" stroke="#3a3a3a" stroke-width="1.3"/>
<line x1="158.3" y1="274.8" x2="158.3" y2="271.3" stroke="#3a3a3a" stroke-width="1.3"/>
<line x1="165.6" y1="45.1" x2="165.6" y2="48.6" stroke="#3a3a3a" stroke-width="1.3"/>
<line x1="165.6" y1="274.8" x2="165.6" y2="271.3" stroke="#3a3a3a" stroke-width="1.3"/>
<line x1="172.9" y1="45.1" x2="172.9" y2="48.6" stroke="#3a3a3a" stroke-width="1.3"/>
<line x1="172.9" y1="274.8" x2="172.9" y2="271.3" stroke="#3a3a3a" stroke-width="1.3"/>
<line x1="180.3" y1="45.1" x2="180.3" y2="48.6" stroke="#3a3a3a" stroke-width="1.3"/>
<line x1="180.3" y1="274.8" x2="180.3" y2="271.3" stroke="#3a3a3a" stroke-width="1.3"/>
<line x1="187.6" y1="45.1" x2="187.6" y2="48.6" stroke="#3a3a3a" stroke-width="1.3"/>
<line x1="187.6" y1="274.8" x2="187.6" y2="271.3" stroke="#3a3a3a" stroke-width="1.3"/>
<line x1="194.9" y1="45.1" x2="194.9" y2="51.1" stroke="#3a3a3a" stroke-width="1.3"/>
<line x1="194.9" y1="274.8" x2="194.9" y2="268.8" stroke="#3a3a3a" stroke-width="1.3"/>
<line x1="202.2" y1="45.1" x2="202.2" y2="48.6" stroke="#3a3a3a" stroke-width="1.3"/>
<line x1="202.2" y1="274.8" x2="202.2" y2="271.3" stroke="#3a3a3a" stroke-width="1.3"/>
<line x1="209.5" y1="45.1" x2="209.5" y2="48.6" stroke="#3a3a3a" stroke-width="1.3"/>
<line x1="209.5" y1="274.8" x2="209.5" y2="271.3" stroke="#3a3a3a" stroke-width="1.3"/>
<line x1="216.9" y1="45.1" x2="216.9" y2="48.6" stroke="#3a3a3a" stroke-width="1.3"/>
<line x1="216.9" y1="274.8" x2="216.9" y2="271.3" stroke="#3a3a3a" stroke-width="1.3"/>
<line x1="224.2" y1="45.1" x2="224.2" y2="48.6" stroke="#3a3a3a" stroke-width="1.3"/>
<line x1="224.2" y1="274.8" x2="224.2" y2="271.3" stroke="#3a3a3a" stroke-width="1.3"/>
<line x1="231.5" y1="45.1" x2="231.5" y2="48.6" stroke="#3a3a3a" stroke-width="1.3"/>
<line x1="231.5" y1="274.8" x2="231.5" y2="271.3" stroke="#3a3a3a" stroke-width="1.3"/>
<line x1="238.8" y1="45.1" x2="238.8" y2="48.6" stroke="#3a3a3a" stroke-width="1.3"/>
<line x1="238.8" y1="274.8" x2="238.8" y2="271.3" stroke="#3a3a3a" stroke-width="1.3"/>
<line x1="246.1" y1="45.1" x2="246.1" y2="48.6" stroke="#3a3a3a" stroke-width="1.3"/>
<line x1="246.1" y1="274.8" x2="246.1" y2="271.3" stroke="#3a3a3a" stroke-width="1.3"/>
<line x1="253.5" y1="45.1" x2="253.5" y2="48.6" stroke="#3a3a3a" stroke-width="1.3"/>
<line x1="253.5" y1="274.8" x2="253.5" y2="271.3" stroke="#3a3a3a" stroke-width="1.3"/>
<line x1="260.8" y1="45.1" x2="260.8" y2="48.6" stroke="#3a3a3a" stroke-width="1.3"/>
<line x1="260.8" y1="274.8" x2="260.8" y2="271.3" stroke="#3a3a3a" stroke-width="1.3"/>
<line x1="268.1" y1="45.1" x2="268.1" y2="51.1" stroke="#3a3a3a" stroke-width="1.3"/>
<line x1="268.1" y1="274.8" x2="268.1" y2="268.8" stroke="#3a3a3a" stroke-width="1.3"/>
<line x1="275.4" y1="45.1" x2="275.4" y2="48.6" stroke="#3a3a3a" stroke-width="1.3"/>
<line x1="275.4" y1="274.8" x2="275.4" y2="271.3" stroke="#3a3a3a" stroke-width="1.3"/>
<line x1="282.7" y1="45.1" x2="282.7" y2="48.6" stroke="#3a3a3a" stroke-width="1.3"/>
<line x1="282.7" y1="274.8" x2="282.7" y2="271.3" stroke="#3a3a3a" stroke-width="1.3"/>
<line x1="290.1" y1="45.1" x2="290.1" y2="48.6" stroke="#3a3a3a" stroke-width="1.3"/>
<line x1="290.1" y1="274.8" x2="290.1" y2="271.3" stroke="#3a3a3a" stroke-width="1.3"/>
<line x1="297.4" y1="45.1" x2="297.4" y2="48.6" stroke="#3a3a3a" stroke-width="1.3"/>
<line x1="297.4" y1="274.8" x2="297.4" y2="271.3" stroke="#3a3a3a" stroke-width="1.3"/>
<line x1="304.7" y1="45.1" x2="304.7" y2="48.6" stroke="#3a3a3a" stroke-width="1.3"/>
<line x1="304.7" y1="274.8" x2="304.7" y2="271.3" stroke="#3a3a3a" stroke-width="1.3"/>
<line x1="312" y1="45.1" x2="312" y2="48.6" stroke="#3a3a3a" stroke-width="1.3"/>
<line x1="312" y1="274.8" x2="312" y2="271.3" stroke="#3a3a3a" stroke-width="1.3"/>
<line x1="319.3" y1="45.1" x2="319.3" y2="48.6" stroke="#3a3a3a" stroke-width="1.3"/>
<line x1="319.3" y1="274.8" x2="319.3" y2="271.3" stroke="#3a3a3a" stroke-width="1.3"/>
<line x1="326.7" y1="45.1" x2="326.7" y2="48.6" stroke="#3a3a3a" stroke-width="1.3"/>
<line x1="326.7" y1="274.8" x2="326.7" y2="271.3" stroke="#3a3a3a" stroke-width="1.3"/>
<line x1="334" y1="45.1" x2="334" y2="48.6" stroke="#3a3a3a" stroke-width="1.3"/>
<line x1="334" y1="274.8" x2="334" y2="271.3" stroke="#3a3a3a" stroke-width="1.3"/>
<line x1="341.3" y1="45.1" x2="341.3" y2="51.1" stroke="#3a3a3a" stroke-width="1.3"/>
<line x1="341.3" y1="274.8" x2="341.3" y2="268.8" stroke="#3a3a3a" stroke-width="1.3"/>
<line x1="114.4" y1="52.3" x2="120.4" y2="52.3" stroke="#3a3a3a" stroke-width="1.3"/>
<line x1="343.5" y1="52.3" x2="337.5" y2="52.3" stroke="#3a3a3a" stroke-width="1.3"/>
<line x1="114.4" y1="60.8" x2="117.9" y2="60.8" stroke="#3a3a3a" stroke-width="1.3"/>
<line x1="343.5" y1="60.8" x2="340" y2="60.8" stroke="#3a3a3a" stroke-width="1.3"/>
<line x1="114.4" y1="69.3" x2="117.9" y2="69.3" stroke="#3a3a3a" stroke-width="1.3"/>
<line x1="343.5" y1="69.3" x2="340" y2="69.3" stroke="#3a3a3a" stroke-width="1.3"/>
<line x1="114.4" y1="77.9" x2="117.9" y2="77.9" stroke="#3a3a3a" stroke-width="1.3"/>
<line x1="343.5" y1="77.9" x2="340" y2="77.9" stroke="#3a3a3a" stroke-width="1.3"/>
<line x1="114.4" y1="86.4" x2="117.9" y2="86.4" stroke="#3a3a3a" stroke-width="1.3"/>
<line x1="343.5" y1="86.4" x2="340" y2="86.4" stroke="#3a3a3a" stroke-width="1.3"/>
<line x1="114.4" y1="94.9" x2="120.4" y2="94.9" stroke="#3a3a3a" stroke-width="1.3"/>
<line x1="343.5" y1="94.9" x2="337.5" y2="94.9" stroke="#3a3a3a" stroke-width="1.3"/>
<line x1="114.4" y1="103.4" x2="117.9" y2="103.4" stroke="#3a3a3a" stroke-width="1.3"/>
<line x1="343.5" y1="103.4" x2="340" y2="103.4" stroke="#3a3a3a" stroke-width="1.3"/>
<line x1="114.4" y1="111.9" x2="117.9" y2="111.9" stroke="#3a3a3a" stroke-width="1.3"/>
<line x1="343.5" y1="111.9" x2="340" y2="111.9" stroke="#3a3a3a" stroke-width="1.3"/>
<line x1="114.4" y1="120.5" x2="117.9" y2="120.5" stroke="#3a3a3a" stroke-width="1.3"/>
<line x1="343.5" y1="120.5" x2="340" y2="120.5" stroke="#3a3a3a" stroke-width="1.3"/>
<line x1="114.4" y1="129" x2="117.9" y2="129" stroke="#3a3a3a" stroke-width="1.3"/>
<line x1="343.5" y1="129" x2="340" y2="129" stroke="#3a3a3a" stroke-width="1.3"/>
<line x1="114.4" y1="137.5" x2="120.4" y2="137.5" stroke="#3a3a3a" stroke-width="1.3"/>
<line x1="343.5" y1="137.5" x2="337.5" y2="137.5" stroke="#3a3a3a" stroke-width="1.3"/>
<line x1="114.4" y1="146" x2="117.9" y2="146" stroke="#3a3a3a" stroke-width="1.3"/>
<line x1="343.5" y1="146" x2="340" y2="146" stroke="#3a3a3a" stroke-width="1.3"/>
<line x1="114.4" y1="154.5" x2="117.9" y2="154.5" stroke="#3a3a3a" stroke-width="1.3"/>
<line x1="343.5" y1="154.5" x2="340" y2="154.5" stroke="#3a3a3a" stroke-width="1.3"/>
<line x1="114.4" y1="163.1" x2="117.9" y2="163.1" stroke="#3a3a3a" stroke-width="1.3"/>
<line x1="343.5" y1="163.1" x2="340" y2="163.1" stroke="#3a3a3a" stroke-width="1.3"/>
<line x1="114.4" y1="171.6" x2="117.9" y2="171.6" stroke="#3a3a3a" stroke-width="1.3"/>
<line x1="343.5" y1="171.6" x2="340" y2="171.6" stroke="#3a3a3a" stroke-width="1.3"/>
<line x1="114.4" y1="180.1" x2="120.4" y2="180.1" stroke="#3a3a3a" stroke-width="1.3"/>
<line x1="343.5" y1="180.1" x2="337.5" y2="180.1" stroke="#3a3a3a" stroke-width="1.3"/>
<line x1="114.4" y1="188.6" x2="117.9" y2="188.6" stroke="#3a3a3a" stroke-width="1.3"/>
<line x1="343.5" y1="188.6" x2="340" y2="188.6" stroke="#3a3a3a" stroke-width="1.3"/>
<line x1="114.4" y1="197.1" x2="117.9" y2="197.1" stroke="#3a3a3a" stroke-width="1.3"/>
<line x1="343.5" y1="197.1" x2="340" y2="197.1" stroke="#3a3a3a" stroke-width="1.3"/>
<line x1="114.4" y1="205.7" x2="117.9" y2="205.7" stroke="#3a3a3a" stroke-width="1.3"/>
<line x1="343.5" y1="205.7" x2="340" y2="205.7" stroke="#3a3a3a" stroke-width="1.3"/>
<line x1="114.4" y1="214.2" x2="117.9" y2="214.2" stroke="#3a3a3a" stroke-width="1.3"/>
<line x1="343.5" y1="214.2" x2="340" y2="214.2" stroke="#3a3a3a" stroke-width="1.3"/>
<line x1="114.4" y1="222.7" x2="120.4" y2="222.7" stroke="#3a3a3a" stroke-width="1.3"/>
<line x1="343.5" y1="222.7" x2="337.5" y2="222.7" stroke="#3a3a3a" stroke-width="1.3"/>
<line x1="114.4" y1="231.2" x2="117.9" y2="231.2" stroke="#3a3a3a" stroke-width="1.3"/>
<line x1="343.5" y1="231.2" x2="340" y2="231.2" stroke="#3a3a3a" stroke-width="1.3"/>
<line x1="114.4" y1="239.7" x2="117.9" y2="239.7" stroke="#3a3a3a" stroke-width="1.3"/>
<line x1="343.5" y1="239.7" x2="340" y2="239.7" stroke="#3a3a3a" stroke-width="1.3"/>
<line x1="114.4" y1="248.3" x2="117.9" y2="248.3" stroke="#3a3a3a" stroke-width="1.3"/>
<line x1="343.5" y1="248.3" x2="340" y2="248.3" stroke="#3a3a3a" stroke-width="1.3"/>
<line x1="114.4" y1="256.8" x2="117.9" y2="256.8" stroke="#3a3a3a" stroke-width="1.3"/>
<line x1="343.5" y1="256.8" x2="340" y2="256.8" stroke="#3a3a3a" stroke-width="1.3"/>
<line x1="114.4" y1="265.3" x2="120.4" y2="265.3" stroke="#3a3a3a" stroke-width="1.3"/>
<line x1="343.5" y1="265.3" x2="337.5" y2="265.3" stroke="#3a3a3a" stroke-width="1.3"/>
<rect x="114.4" y="45.1" width="229.1" height="229.7" fill="none" stroke="#5a5a5a" stroke-width="1.6"/>
<clipPath id="cpa0"><rect x="118.6" y="48.9" width="221.3" height="222.1"/></clipPath>
<g clip-path="url(#cpa0)">
<rect x="116.6" y="46.9" width="225.3" height="226.1" fill="#2a5a98"/>
<path d="M348.8 39.9l-0.6 0l-3.8 12.9l-6.7 19.1l-9 20.5l-4.4 8.6l-6.8 11.1l-6.7 9.2l-6.7 7.6l-6.7 6.2l-6.7 5.1l-8.8 5.2l-6.8 3l-9 3l-8.9 2l-8.9 1.2l-9 0.4l-8.9-0.3l-9-1.2l-6.7-1.6l-6.7-2.7l-5.5-3.8l-3.4-4.1l-2.2-4.9l-0.8-4.5l0-4.5l0.9-6.7l4.7-15.7l10.3-24.7l18.7-40.4l-121.1 0l0.1 240.1l239.2 0l-0.1-240.1z" fill="#496dbf" fill-rule="evenodd" stroke="#15284f" stroke-width="2.8"/>
<path d="M208 39.9l-98.4 0l0 240.1l239.2 0.1l0-208.7l-6.7 19.4l-6.7 16.4l-6.7 13.8l-8.9 14.8l-9 11.5l-8.9 8.9l-9.4 7.1l-10.7 6.2l-9 3.9l-8.9 3.1l-19.4 4.8l-29.8 4.4l-31.3 2.7l-17.9-0.2l-11.1-2.1l-6.4-2.6l-3.5-2.2l-3.5-3.3l-2.6-3.5l-1.9-4.5l-1-4.4l0-9l2.7-11.2l5-11.2l11.3-18l37.9-51.1l16.6-25.2l-1 0z" fill="#4e6ebe" fill-rule="evenodd" stroke="#17284f" stroke-width="2.8"/>
<path d="M192.4 39.9l-82.8 0l0 240.1l239.2 0.1l0-186.8l-6.7 18.4l-6.7 15.4l-6.7 12.8l-8.9 13.6l-9 10.4l-8.9 8.1l-11.2 7.6l-12.3 6.1l-19.8 6.8l-26 5.8l-46.9 7.6l-24.6 2.2l-15.7-0.7l-6.7-1.2l-6.7-2.2l-4.5-2.2l-4.4-3l-4.1-4.1l-2.6-3.5l-2.8-5.5l-2.1-6.7l-0.9-6.7l0-6.7l1.1-9l2.2-9l2.5-6.9l3.9-8.8l7.2-12.5l9-12.5l40.2-47.1l15.7-19.9z" fill="#5a6fb2" fill-rule="evenodd" stroke="#18284e" stroke-width="2.8"/>
<path d="M348.8 110.3l-6.7 17.5l-6.7 14.5l-6.8 12l-8.8 12.4l-9 9.6l-8.9 7.4l-10.4 6.5l-12 5.7l-17.8 6.1l-26.4 6.2l-49.6 8.8l-24.6 3l-17.9 0.2l-13.4-2l-6.7-2.2l-4.5-2.1l-4.5-2.8l-4.4-3.8l-0.1 72.7l239.2 0.1l0-169.8zM176.7 39.9l-67.1 0l0.1 83.9l8.4-14.3l9.8-13.5l13.1-15.3l35.7-39l1.6-1.8l-1.6 0z" fill="#6771a6" fill-rule="evenodd" stroke="#1e2849" stroke-width="2.8"/>
<path d="M348.8 124.4l-6.7 16.6l-6.7 13.7l-6.7 11l-6.7 9l-8.9 9.4l-9 7.3l-11.1 6.9l-11.2 5.1l-17.9 6.1l-22.5 5.4l-47.6 9l-31 4.5l-17.4 0.9l-13.4-0.8l-11.2-2.5l-5.5-2.1l-5.6-3l-0.1 59.1l239.2 0.1l0-155.7zM163.3 39.9l-53.7 0l0.1 63.8l6.8-9.9l8.8-11.3l13.4-14.9l26.7-27.7l-2.1 0z" fill="#767398" fill-rule="evenodd" stroke="#242844" stroke-width="2.4"/>
<path d="M348.8 136.4l-6.7 15.8l-6.7 12.8l-6.7 10.3l-6.7 8.4l-8.9 8.8l-9 6.7l-11.1 6.4l-11.1 4.8l-18 5.8l-23.3 5.4l-47.9 9l-29.4 4.4l-17.9 1.3l-13.4-0.5l-11.2-1.8l-11.1-3.9l-0.1 49.9l239.2 0.1l0-143.7zM152.1 39.9l-42.5 0l0.1 48.7l7.9-10.5l9.7-11.3l26.4-26.9l-1.6 0z" fill="#82748b" fill-rule="evenodd" stroke="#2a293e" stroke-width="2.4"/>
<path d="M348.8 146.9l-6.7 15l-5.7 10.4l-7.6 11.2l-6.8 7.9l-8.5 7.8l-9.4 6.7l-8.9 4.9l-11.2 4.8l-17.9 5.7l-20.3 4.8l-47.4 9l-32.9 5.2l-16.4 1.5l-14.9 0.2l-13.4-1.6l-11.1-3.3l-0.1 42.9l239.2 0.1l0-133.2zM141 39.9l-31.3 0l0 36.1l13.4-16.1l19.7-20l-1.8 0z" fill="#8c747d" fill-rule="evenodd" stroke="#312938" stroke-width="2.4"/>
<path d="M348.8 156.2l-6.7 14.2l-6.3 10.9l-7.1 9.5l-6.7 7.3l-6.7 6l-9 6.3l-11.1 6l-11.2 4.5l-16.9 5.2l-19.4 4.5l-47.9 9l-34.3 5.4l-15.6 1.6l-15.7 0.3l-13.4-1.2l-11.1-2.8l-0.1 37.1l239.2 0.1l0-123.9zM132 39.9l-22.3 0l0 25.2l11.1-13l12.1-12.2l-0.9 0z" fill="#95736e" fill-rule="evenodd" stroke="#372a32" stroke-width="2.4"/>
<path d="M348.8 164.5l-4.8 10l-6.6 11.2l-6.5 9l-8.5 9l-8.1 6.7l-10.2 6.5l-9.7 4.7l-10.4 4l-17 5l-20.1 4.5l-48.9 9l-32.5 5.1l-15.6 1.6l-15.7 0.5l-13.4-1.1l-11.1-2.4l-0.1 32.2l239.2 0.1l0-115.6zM123.1 39.9l-13.4 0l0 15.4l14.1-15.4l-0.7 0z" fill="#9c715c" fill-rule="evenodd" stroke="#3f2e2d" stroke-width="1.8"/>
<path d="M348.8 172.1l-8.9 16.4l-6 8.5l-5.9 6.7l-6 5.8l-6.7 5.2l-7.2 4.7l-8.7 4.5l-17.6 6.7l-20.1 5.3l-29.9 5.9l-55.1 9.5l-22.3 2.9l-17.9 0.9l-13.4-0.6l-13.4-2.4l-0.1 27.9l239.2 0.1l0-108zM114.1 39.9l-4.4 0l0 6.5l5.9-6.5l-1.5 0z" fill="#a3714e" fill-rule="evenodd" stroke="#483328" stroke-width="1.8"/>
<path d="M348.8 178.9l-4.8 9.1l-5.9 9l-5.2 6.7l-6.4 6.7l-6.7 5.7l-6.7 4.7l-6.7 3.9l-9 4.2l-17.9 6.2l-18.1 4.5l-35.3 6.7l-53.6 9l-18.3 2.2l-17.7 1l-13.4-0.4l-13.4-2.2l-0.1 24.1l239.2 0.1l0-101.2z" fill="#a97244" fill-rule="evenodd" stroke="#503723" stroke-width="1.8"/>
<path d="M348.8 185.2l-4.4 7.9l-5.6 8.4l-5.6 6.8l-6.6 6.6l-6.8 5.6l-6.7 4.4l-6.7 3.7l-9.5 4.3l-17.4 5.7l-22.3 5.2l-38.8 7l-46.2 7.6l-20.1 2.4l-15.6 0.9l-13.4-0.4l-13.4-2l-0.1 20.7l239.2 0.1l0-94.9z" fill="#ae743d" fill-rule="evenodd" stroke="#543922" stroke-width="1.3"/>
<path d="M348.8 190.9l-4.9 8.3l-6.2 8.6l-4.5 5.1l-6.7 6.4l-6.7 5.2l-6.7 4.2l-8 4.2l-9.9 4.1l-15.7 4.8l-20.1 4.6l-50.4 8.9l-41.2 6.5l-17.9 2l-15.7 0.7l-13.4-0.5l-11.1-1.6l-0.1 17.6l239.2 0l0-89.1z" fill="#b3773c" fill-rule="evenodd" stroke="#583b21" stroke-width="1.3"/>
<path d="M348.8 196.2l-4.6 7.5l-6.5 8.6l-4.5 4.9l-6.7 6.1l-6.7 4.9l-7.8 4.7l-16.8 7.2l-15.7 4.7l-22.3 4.9l-88.4 14.6l-18.9 2.1l-15.7 0.8l-13.4-0.4l-11.1-1.6l-0.1 14.8l239.2 0l0-83.8z" fill="#b7793a" fill-rule="evenodd" stroke="#5c3d20" stroke-width="1.3"/>
<path d="M348.8 201.2l-4.4 6.9l-5.3 6.8l-5.9 6.3l-6.7 5.8l-8.6 5.9l-7.1 3.8l-8.9 4l-8.9 3.2l-17.4 4.7l-22.3 4.5l-85.5 13.7l-17.9 2l-15.7 0.8l-13.4-0.3l-11.1-1.4l-0.1 12.1l239.2 0l0-78.8z" fill="#bc7c39" fill-rule="evenodd" stroke="#603f1f" stroke-width="1.3"/>
<path d="M348.8 205.8l-4.7 6.9l-5.5 6.7l-5.4 5.5l-6.7 5.5l-7 4.7l-8.3 4.5l-17.2 6.7l-16.8 4.5l-22.2 4.4l-87.2 13.9l-17.9 2l-15.7 0.8l-13.4-0.3l-11.1-1.3l-0.1 9.7l239.2 0l0-74.2z" fill="#bf7e38" fill-rule="evenodd" stroke="#64411e" stroke-width="1.3"/>
<path d="M348.8 210.1l-5 7.1l-5.9 6.7l-11.4 9.8l-13.9 8.1l-10.7 4.5l-8.9 2.9l-15.7 4.1l-22.1 4.2l-87.4 13.7l-17.9 2l-15.7 0.9l-13.4-0.3l-11.1-1.2l0 7.4l239.1 0l0-69.9z" fill="#c2813a" fill-rule="evenodd" stroke="#65421f" stroke-width="1"/>
<path d="M348.8 214.1l-5.7 7.5l-5.4 6l-6 5.3l-6.1 4.4l-8.1 4.8l-8.9 4.2l-17.9 6l-15.6 3.8l-20 3.7l-89.6 13.7l-17.8 1.9l-13.5 0.7l-13.4-0.2l-11.1-1.1l0 5.2l239.1 0l0-65.9z" fill="#c4833a" fill-rule="evenodd" stroke="#67431f" stroke-width="1"/>
<path d="M348.8 217.9l-4.6 6l-6.5 6.9l-6.7 5.7l-6.7 4.6l-6.8 3.7l-8.9 4l-20.1 6.5l-15.7 3.4l-18.5 3.3l-79.8 12.3l-20.1 2.4l-17.9 1.3l-13.4 0l-13.4-1.2l0 3.2l239.1 0l0-62.1z" fill="#c7863c" fill-rule="evenodd" stroke="#684420" stroke-width="1"/>
<path d="M348.8 221.5l-5.6 6.9l-5.5 5.5l-6.7 5.4l-6.7 4.4l-6.8 3.7l-8.9 3.9l-20.5 6.2l-35.3 6.8l-87.3 13l-17.8 1.9l-13.5 0.7l-13.4-0.1l-11.1-1.1l0 1.3l239.1 0l0-58.5z" fill="#c9883c" fill-rule="evenodd" stroke="#6a4521" stroke-width="1"/>
<path d="M348.8 224.9l-9.2 10.2l-11.7 9l-12.6 6.7l-17.9 6.4l-15.6 3.8l-20.1 3.7l-70.8 10.8l-33.5 4.5l191.4 0l0-55.1z" fill="#cc8b3e" fill-rule="evenodd" stroke="#6b4622" stroke-width="1"/>
<path d="M348.8 228.2l-8.9 9.4l-11.5 8.7l-13.1 6.8l-15.6 5.5l-15.7 3.9l-21.7 4l-91.2 13.5l177.7 0l0-51.8z" fill="#ce8d3f" fill-rule="evenodd" stroke="#6d4722" stroke-width="1"/>
<path d="M348.8 231.2l-8.9 9.2l-11.2 8.1l-13.4 6.8l-13.4 4.7l-15.6 3.9l-15.7 3l-87.9 13.1l166.1 0l0-48.8z" fill="#d09042" fill-rule="evenodd" stroke="#6e4823" stroke-width="1"/>
<path d="M348.8 234.1l-8.9 8.9l-11.2 7.8l-13.4 6.6l-13.4 4.5l-13.4 3.4l-18.4 3.5l-76.6 11.2l155.3 0l0-45.9z" fill="#d29244" fill-rule="evenodd" stroke="#6f4a24" stroke-width="1"/>
<path d="M348.8 236.9l-8.9 8.5l-11.2 7.7l-11.2 5.4l-13.4 4.7l-13.4 3.4l-17.9 3.4l-69 10l145 0l0-43.1z" fill="#d49547" fill-rule="evenodd" stroke="#714b24" stroke-width="1"/>
<path d="M348.8 239.6l-8.9 8.2l-8.9 6.1l-11.2 5.6l-13.4 4.8l-13.4 3.5l-16.5 3.2l-62.4 9l134.7 0l0-40.4z" fill="#d59749" fill-rule="evenodd" stroke="#724c25" stroke-width="1"/>
<path d="M348.8 242.2l-8.9 7.9l-8.9 5.9l-11.2 5.4l-11.2 4l-12.5 3.4l-16.6 3.3l-55.2 7.9l124.5 0l0-37.8z" fill="#d79a4c" fill-rule="evenodd" stroke="#744d26" stroke-width="1"/>
<path d="M348.8 244.6l-6.9 6.2l-10.1 6.7l-9.8 4.9l-11.3 4.1l-13.3 3.6l-15.6 3.1l-47.1 6.8l114.1 0l0-35.4z" fill="#d99c4e" fill-rule="evenodd" stroke="#754e27" stroke-width="1"/>
<path d="M348.8 247l-7.1 6.1l-8.5 5.6l-8.9 4.5l-11.2 4.2l-11.2 3.2l-13.4 2.9l-43.4 6.5l103.7 0l0-33z" fill="#db9f51" fill-rule="evenodd" stroke="#774f27" stroke-width="1"/>
<path d="M348.8 249.2l-7.3 6.1l-8.3 5.3l-8.9 4.4l-10.2 3.8l-10 2.8l-13.4 3l-35.2 5.4l93.3 0l0-30.8z" fill="#dca153" fill-rule="evenodd" stroke="#785028" stroke-width="1"/>
<path d="M348.8 251.4l-6.7 5.5l-8.1 5.1l-7.5 3.7l-9 3.5l-11.1 3.4l-11.2 2.6l-29.7 4.8l83.3 0l0-28.6z" fill="#dea355" fill-rule="evenodd" stroke="#785028" stroke-width="1"/>
<path d="M348.8 253.5l-6.7 5.3l-6.7 4.2l-6.8 3.5l-8.8 3.6l-19.3 5.4l-25.4 4.5l73.7 0l0-26.5z" fill="#dea557" fill-rule="evenodd" stroke="#785028" stroke-width="1"/>
<path d="M348.8 255.6l-5.4 4.2l-7.1 4.5l-14.3 6.5l-15.6 4.7l-22.6 4.5l65 0l0-24.4z" fill="#e0a759" fill-rule="evenodd" stroke="#785028" stroke-width="1"/>
<path d="M348.8 257.5l-11.1 7.7l-12.1 5.8l-14.8 4.8l-19.1 4.2l57.1 0l0-22.5z" fill="#e0a95b" fill-rule="evenodd" stroke="#785028" stroke-width="1"/>
<path d="M348.8 259.4l-8.9 6.2l-11.2 5.7l-13.4 4.7l-16.6 4l50.1 0l0-20.6z" fill="#e2ab5d" fill-rule="evenodd" stroke="#785028" stroke-width="1"/>
<path d="M348.8 261.3l-8.9 6l-11.2 5.5l-11.2 3.9l-12.5 3.3l43.8 0l0-18.7z" fill="#e2ad5f" fill-rule="evenodd" stroke="#785028" stroke-width="1"/>
<path d="M348.8 263.1l-8.6 5.7l-9 4.4l-9.2 3.5l-11.4 3.3l38.2 0l0-16.9z" fill="#e4af61" fill-rule="evenodd" stroke="#785028" stroke-width="1"/>
<path d="M348.8 264.8l-6.7 4.4l-7.6 4l-8 3.4l-10.8 3.4l33.1 0l0-15.2z" fill="#e4b163" fill-rule="evenodd" stroke="#785028" stroke-width="1"/>
<path d="M348.8 266.5l-6.7 4.3l-6.7 3.5l-15.1 5.7l28.5 0l0-13.5z" fill="#e6b365" fill-rule="evenodd" stroke="#785028" stroke-width="1"/>
</g>
<text x="121.7" y="298" font-size="20" text-anchor="middle">0.2</text>
<text x="194.9" y="298" font-size="20" text-anchor="middle">0.3</text>
<text x="268.1" y="298" font-size="20" text-anchor="middle">0.4</text>
<text x="341.3" y="298" font-size="20" text-anchor="middle">0.5</text>
<text x="109.4" y="59.8" font-size="20" text-anchor="end">1.0</text>
<text x="109.4" y="102.3" font-size="20" text-anchor="end">0.9</text>
<text x="109.4" y="144.8" font-size="20" text-anchor="end">0.8</text>
<text x="109.4" y="187.3" font-size="20" text-anchor="end">0.7</text>
<text x="109.4" y="229.8" font-size="20" text-anchor="end">0.6</text>
<text x="109.4" y="272.3" font-size="20" text-anchor="end">0.5</text>
<text x="227" y="31.2" font-size="24.5" text-anchor="middle">Confetti</text>
<text x="220" y="320.5" font-size="20.6" text-anchor="middle">Time delay, T (weeks)</text>
<linearGradient id="cbg0" x1="0" x2="1" y1="0" y2="0"><stop offset="0" stop-color="#3f62b2"/><stop offset="0.12" stop-color="#4a66ae"/><stop offset="0.25" stop-color="#6c7098"/><stop offset="0.37" stop-color="#8e7a7c"/><stop offset="0.48" stop-color="#b48860"/><stop offset="0.56" stop-color="#e49a44"/><stop offset="0.65" stop-color="#eeaa50"/><stop offset="0.78" stop-color="#f4c274"/><stop offset="0.88" stop-color="#fcd48e"/><stop offset="1" stop-color="#fff6cc"/></linearGradient>
<linearGradient id="cbg0b" x1="0" x2="1" y1="0" y2="0"><stop offset="0" stop-color="#1c2c50"/><stop offset="0.5" stop-color="#7a6040"/><stop offset="1" stop-color="#b0a080"/></linearGradient>
<rect x="246.4" y="335" width="68.9" height="12" fill="url(#cbg0)" stroke="url(#cbg0b)" stroke-width="1.6"/>
<text x="246.4" y="367" font-size="20" text-anchor="middle">0.11</text>
<text x="315.3" y="367" font-size="20" text-anchor="middle">0.31</text>
<line x1="412.8" y1="45.1" x2="412.8" y2="51.1" stroke="#3a3a3a" stroke-width="1.3"/>
<line x1="412.8" y1="274.8" x2="412.8" y2="268.8" stroke="#3a3a3a" stroke-width="1.3"/>
<line x1="420.1" y1="45.1" x2="420.1" y2="48.6" stroke="#3a3a3a" stroke-width="1.3"/>
<line x1="420.1" y1="274.8" x2="420.1" y2="271.3" stroke="#3a3a3a" stroke-width="1.3"/>
<line x1="427.4" y1="45.1" x2="427.4" y2="48.6" stroke="#3a3a3a" stroke-width="1.3"/>
<line x1="427.4" y1="274.8" x2="427.4" y2="271.3" stroke="#3a3a3a" stroke-width="1.3"/>
<line x1="434.8" y1="45.1" x2="434.8" y2="48.6" stroke="#3a3a3a" stroke-width="1.3"/>
<line x1="434.8" y1="274.8" x2="434.8" y2="271.3" stroke="#3a3a3a" stroke-width="1.3"/>
<line x1="442.1" y1="45.1" x2="442.1" y2="48.6" stroke="#3a3a3a" stroke-width="1.3"/>
<line x1="442.1" y1="274.8" x2="442.1" y2="271.3" stroke="#3a3a3a" stroke-width="1.3"/>
<line x1="449.4" y1="45.1" x2="449.4" y2="48.6" stroke="#3a3a3a" stroke-width="1.3"/>
<line x1="449.4" y1="274.8" x2="449.4" y2="271.3" stroke="#3a3a3a" stroke-width="1.3"/>
<line x1="456.7" y1="45.1" x2="456.7" y2="48.6" stroke="#3a3a3a" stroke-width="1.3"/>
<line x1="456.7" y1="274.8" x2="456.7" y2="271.3" stroke="#3a3a3a" stroke-width="1.3"/>
<line x1="464" y1="45.1" x2="464" y2="48.6" stroke="#3a3a3a" stroke-width="1.3"/>
<line x1="464" y1="274.8" x2="464" y2="271.3" stroke="#3a3a3a" stroke-width="1.3"/>
<line x1="471.4" y1="45.1" x2="471.4" y2="48.6" stroke="#3a3a3a" stroke-width="1.3"/>
<line x1="471.4" y1="274.8" x2="471.4" y2="271.3" stroke="#3a3a3a" stroke-width="1.3"/>
<line x1="478.7" y1="45.1" x2="478.7" y2="48.6" stroke="#3a3a3a" stroke-width="1.3"/>
<line x1="478.7" y1="274.8" x2="478.7" y2="271.3" stroke="#3a3a3a" stroke-width="1.3"/>
<line x1="486" y1="45.1" x2="486" y2="51.1" stroke="#3a3a3a" stroke-width="1.3"/>
<line x1="486" y1="274.8" x2="486" y2="268.8" stroke="#3a3a3a" stroke-width="1.3"/>
<line x1="493.3" y1="45.1" x2="493.3" y2="48.6" stroke="#3a3a3a" stroke-width="1.3"/>
<line x1="493.3" y1="274.8" x2="493.3" y2="271.3" stroke="#3a3a3a" stroke-width="1.3"/>
<line x1="500.6" y1="45.1" x2="500.6" y2="48.6" stroke="#3a3a3a" stroke-width="1.3"/>
<line x1="500.6" y1="274.8" x2="500.6" y2="271.3" stroke="#3a3a3a" stroke-width="1.3"/>
<line x1="508" y1="45.1" x2="508" y2="48.6" stroke="#3a3a3a" stroke-width="1.3"/>
<line x1="508" y1="274.8" x2="508" y2="271.3" stroke="#3a3a3a" stroke-width="1.3"/>
<line x1="515.3" y1="45.1" x2="515.3" y2="48.6" stroke="#3a3a3a" stroke-width="1.3"/>
<line x1="515.3" y1="274.8" x2="515.3" y2="271.3" stroke="#3a3a3a" stroke-width="1.3"/>
<line x1="522.6" y1="45.1" x2="522.6" y2="48.6" stroke="#3a3a3a" stroke-width="1.3"/>
<line x1="522.6" y1="274.8" x2="522.6" y2="271.3" stroke="#3a3a3a" stroke-width="1.3"/>
<line x1="529.9" y1="45.1" x2="529.9" y2="48.6" stroke="#3a3a3a" stroke-width="1.3"/>
<line x1="529.9" y1="274.8" x2="529.9" y2="271.3" stroke="#3a3a3a" stroke-width="1.3"/>
<line x1="537.2" y1="45.1" x2="537.2" y2="48.6" stroke="#3a3a3a" stroke-width="1.3"/>
<line x1="537.2" y1="274.8" x2="537.2" y2="271.3" stroke="#3a3a3a" stroke-width="1.3"/>
<line x1="544.6" y1="45.1" x2="544.6" y2="48.6" stroke="#3a3a3a" stroke-width="1.3"/>
<line x1="544.6" y1="274.8" x2="544.6" y2="271.3" stroke="#3a3a3a" stroke-width="1.3"/>
<line x1="551.9" y1="45.1" x2="551.9" y2="48.6" stroke="#3a3a3a" stroke-width="1.3"/>
<line x1="551.9" y1="274.8" x2="551.9" y2="271.3" stroke="#3a3a3a" stroke-width="1.3"/>
<line x1="559.2" y1="45.1" x2="559.2" y2="51.1" stroke="#3a3a3a" stroke-width="1.3"/>
<line x1="559.2" y1="274.8" x2="559.2" y2="268.8" stroke="#3a3a3a" stroke-width="1.3"/>
<line x1="566.5" y1="45.1" x2="566.5" y2="48.6" stroke="#3a3a3a" stroke-width="1.3"/>
<line x1="566.5" y1="274.8" x2="566.5" y2="271.3" stroke="#3a3a3a" stroke-width="1.3"/>
<line x1="573.8" y1="45.1" x2="573.8" y2="48.6" stroke="#3a3a3a" stroke-width="1.3"/>
<line x1="573.8" y1="274.8" x2="573.8" y2="271.3" stroke="#3a3a3a" stroke-width="1.3"/>
<line x1="581.2" y1="45.1" x2="581.2" y2="48.6" stroke="#3a3a3a" stroke-width="1.3"/>
<line x1="581.2" y1="274.8" x2="581.2" y2="271.3" stroke="#3a3a3a" stroke-width="1.3"/>
<line x1="588.5" y1="45.1" x2="588.5" y2="48.6" stroke="#3a3a3a" stroke-width="1.3"/>
<line x1="588.5" y1="274.8" x2="588.5" y2="271.3" stroke="#3a3a3a" stroke-width="1.3"/>
<line x1="595.8" y1="45.1" x2="595.8" y2="48.6" stroke="#3a3a3a" stroke-width="1.3"/>
<line x1="595.8" y1="274.8" x2="595.8" y2="271.3" stroke="#3a3a3a" stroke-width="1.3"/>
<line x1="603.1" y1="45.1" x2="603.1" y2="48.6" stroke="#3a3a3a" stroke-width="1.3"/>
<line x1="603.1" y1="274.8" x2="603.1" y2="271.3" stroke="#3a3a3a" stroke-width="1.3"/>
<line x1="610.4" y1="45.1" x2="610.4" y2="48.6" stroke="#3a3a3a" stroke-width="1.3"/>
<line x1="610.4" y1="274.8" x2="610.4" y2="271.3" stroke="#3a3a3a" stroke-width="1.3"/>
<line x1="617.8" y1="45.1" x2="617.8" y2="48.6" stroke="#3a3a3a" stroke-width="1.3"/>
<line x1="617.8" y1="274.8" x2="617.8" y2="271.3" stroke="#3a3a3a" stroke-width="1.3"/>
<line x1="625.1" y1="45.1" x2="625.1" y2="48.6" stroke="#3a3a3a" stroke-width="1.3"/>
<line x1="625.1" y1="274.8" x2="625.1" y2="271.3" stroke="#3a3a3a" stroke-width="1.3"/>
<line x1="632.4" y1="45.1" x2="632.4" y2="51.1" stroke="#3a3a3a" stroke-width="1.3"/>
<line x1="632.4" y1="274.8" x2="632.4" y2="268.8" stroke="#3a3a3a" stroke-width="1.3"/>
<line x1="405.5" y1="52.3" x2="411.5" y2="52.3" stroke="#3a3a3a" stroke-width="1.3"/>
<line x1="634.5" y1="52.3" x2="628.5" y2="52.3" stroke="#3a3a3a" stroke-width="1.3"/>
<line x1="405.5" y1="60.8" x2="409" y2="60.8" stroke="#3a3a3a" stroke-width="1.3"/>
<line x1="634.5" y1="60.8" x2="631" y2="60.8" stroke="#3a3a3a" stroke-width="1.3"/>
<line x1="405.5" y1="69.3" x2="409" y2="69.3" stroke="#3a3a3a" stroke-width="1.3"/>
<line x1="634.5" y1="69.3" x2="631" y2="69.3" stroke="#3a3a3a" stroke-width="1.3"/>
<line x1="405.5" y1="77.9" x2="409" y2="77.9" stroke="#3a3a3a" stroke-width="1.3"/>
<line x1="634.5" y1="77.9" x2="631" y2="77.9" stroke="#3a3a3a" stroke-width="1.3"/>
<line x1="405.5" y1="86.4" x2="409" y2="86.4" stroke="#3a3a3a" stroke-width="1.3"/>
<line x1="634.5" y1="86.4" x2="631" y2="86.4" stroke="#3a3a3a" stroke-width="1.3"/>
<line x1="405.5" y1="94.9" x2="411.5" y2="94.9" stroke="#3a3a3a" stroke-width="1.3"/>
<line x1="634.5" y1="94.9" x2="628.5" y2="94.9" stroke="#3a3a3a" stroke-width="1.3"/>
<line x1="405.5" y1="103.4" x2="409" y2="103.4" stroke="#3a3a3a" stroke-width="1.3"/>
<line x1="634.5" y1="103.4" x2="631" y2="103.4" stroke="#3a3a3a" stroke-width="1.3"/>
<line x1="405.5" y1="111.9" x2="409" y2="111.9" stroke="#3a3a3a" stroke-width="1.3"/>
<line x1="634.5" y1="111.9" x2="631" y2="111.9" stroke="#3a3a3a" stroke-width="1.3"/>
<line x1="405.5" y1="120.5" x2="409" y2="120.5" stroke="#3a3a3a" stroke-width="1.3"/>
<line x1="634.5" y1="120.5" x2="631" y2="120.5" stroke="#3a3a3a" stroke-width="1.3"/>
<line x1="405.5" y1="129" x2="409" y2="129" stroke="#3a3a3a" stroke-width="1.3"/>
<line x1="634.5" y1="129" x2="631" y2="129" stroke="#3a3a3a" stroke-width="1.3"/>
<line x1="405.5" y1="137.5" x2="411.5" y2="137.5" stroke="#3a3a3a" stroke-width="1.3"/>
<line x1="634.5" y1="137.5" x2="628.5" y2="137.5" stroke="#3a3a3a" stroke-width="1.3"/>
<line x1="405.5" y1="146" x2="409" y2="146" stroke="#3a3a3a" stroke-width="1.3"/>
<line x1="634.5" y1="146" x2="631" y2="146" stroke="#3a3a3a" stroke-width="1.3"/>
<line x1="405.5" y1="154.5" x2="409" y2="154.5" stroke="#3a3a3a" stroke-width="1.3"/>
<line x1="634.5" y1="154.5" x2="631" y2="154.5" stroke="#3a3a3a" stroke-width="1.3"/>
<line x1="405.5" y1="163.1" x2="409" y2="163.1" stroke="#3a3a3a" stroke-width="1.3"/>
<line x1="634.5" y1="163.1" x2="631" y2="163.1" stroke="#3a3a3a" stroke-width="1.3"/>
<line x1="405.5" y1="171.6" x2="409" y2="171.6" stroke="#3a3a3a" stroke-width="1.3"/>
<line x1="634.5" y1="171.6" x2="631" y2="171.6" stroke="#3a3a3a" stroke-width="1.3"/>
<line x1="405.5" y1="180.1" x2="411.5" y2="180.1" stroke="#3a3a3a" stroke-width="1.3"/>
<line x1="634.5" y1="180.1" x2="628.5" y2="180.1" stroke="#3a3a3a" stroke-width="1.3"/>
<line x1="405.5" y1="188.6" x2="409" y2="188.6" stroke="#3a3a3a" stroke-width="1.3"/>
<line x1="634.5" y1="188.6" x2="631" y2="188.6" stroke="#3a3a3a" stroke-width="1.3"/>
<line x1="405.5" y1="197.1" x2="409" y2="197.1" stroke="#3a3a3a" stroke-width="1.3"/>
<line x1="634.5" y1="197.1" x2="631" y2="197.1" stroke="#3a3a3a" stroke-width="1.3"/>
<line x1="405.5" y1="205.7" x2="409" y2="205.7" stroke="#3a3a3a" stroke-width="1.3"/>
<line x1="634.5" y1="205.7" x2="631" y2="205.7" stroke="#3a3a3a" stroke-width="1.3"/>
<line x1="405.5" y1="214.2" x2="409" y2="214.2" stroke="#3a3a3a" stroke-width="1.3"/>
<line x1="634.5" y1="214.2" x2="631" y2="214.2" stroke="#3a3a3a" stroke-width="1.3"/>
<line x1="405.5" y1="222.7" x2="411.5" y2="222.7" stroke="#3a3a3a" stroke-width="1.3"/>
<line x1="634.5" y1="222.7" x2="628.5" y2="222.7" stroke="#3a3a3a" stroke-width="1.3"/>
<line x1="405.5" y1="231.2" x2="409" y2="231.2" stroke="#3a3a3a" stroke-width="1.3"/>
<line x1="634.5" y1="231.2" x2="631" y2="231.2" stroke="#3a3a3a" stroke-width="1.3"/>
<line x1="405.5" y1="239.7" x2="409" y2="239.7" stroke="#3a3a3a" stroke-width="1.3"/>
<line x1="634.5" y1="239.7" x2="631" y2="239.7" stroke="#3a3a3a" stroke-width="1.3"/>
<line x1="405.5" y1="248.3" x2="409" y2="248.3" stroke="#3a3a3a" stroke-width="1.3"/>
<line x1="634.5" y1="248.3" x2="631" y2="248.3" stroke="#3a3a3a" stroke-width="1.3"/>
<line x1="405.5" y1="256.8" x2="409" y2="256.8" stroke="#3a3a3a" stroke-width="1.3"/>
<line x1="634.5" y1="256.8" x2="631" y2="256.8" stroke="#3a3a3a" stroke-width="1.3"/>
<line x1="405.5" y1="265.3" x2="411.5" y2="265.3" stroke="#3a3a3a" stroke-width="1.3"/>
<line x1="634.5" y1="265.3" x2="628.5" y2="265.3" stroke="#3a3a3a" stroke-width="1.3"/>
<rect x="405.5" y="45.1" width="229" height="229.7" fill="none" stroke="#5a5a5a" stroke-width="1.6"/>
<clipPath id="cpa1"><rect x="409.7" y="48.9" width="221.2" height="222.1"/></clipPath>
<g clip-path="url(#cpa1)">
<rect x="407.7" y="46.9" width="225.2" height="226.1" fill="#2a5a98"/>
<path d="M639.8 39.9l-239.1 0l0.1 112.1l13.6-8.9l15.3-8.9l13.1-6.8l13.8-6.1l13.4-4.9l11.2-3.1l11.2-2.2l11.1-1.1l11.2 0.3l9 1.4l8.9 2.8l7.5 3.9l5.9 4.8l4.8 6.5l2.8 6.7l1 9l-1.3 8.9l-3.2 9l-5 9l-6.7 9l-8 8.3l-8.9 7.4l-10.2 6.7l-10 5.1l-9.7 3.9l-10.4 3l-11.2 2.2l-13.4 1.3l-13.4 0.1l-13.4-1l-13.4-1.7l-15.6-3.2l0 66.6l239.1 0l-0.1-240.1z" fill="#496dbf" fill-rule="evenodd" stroke="#15284f" stroke-width="2.8"/>
<path d="M639.8 39.9l-239.1 0l0.1 91.5l22.7-13l16.9-8.9l14-6.8l15.9-6.7l15.4-5.3l13.4-3.4l13.4-2l11.2-0.5l13.4 1.1l11.1 2.6l11.2 4.5l8.9 5.5l7.1 6.5l3.4 4.5l2.6 4.5l3.1 8.9l0.8 9l-1.3 11.2l-3.6 11.2l-5.5 11.3l-8.8 13.5l-11.2 13.2l-11.8 11.4l-12.7 9.8l-13.3 8.1l-11.3 5.5l-11.2 4l-13.4 3.5l-13.4 2l-13.4 0.8l-15.7-0.1l-17.8-1.3l-20.1-2.2l0 46.2l239.1 0l-0.1-240.1z" fill="#4e6ebe" fill-rule="evenodd" stroke="#17284f" stroke-width="2.8"/>
<path d="M639.8 39.9l-239.1 0l0.1 79.5l45.2-25.6l17.3-8.9l17.9-8l15.6-5.9l13.4-3.7l13.5-2.4l11.1-0.5l13.4 1.1l14.1 3.6l12.7 5.4l12.4 8.1l9.2 8.9l5.9 9l3.2 9l1.1 11.2l-1.3 11.2l-3.2 11.2l-6 13.5l-7.9 13.4l-9.8 13.5l-11.5 13.5l-12.2 12l-12.5 10.4l-14.3 9.9l-15.2 8l-13.8 5.4l-15.7 4l-15.6 2.1l-17.9 0.6l-20.1-1l-29-2.8l0 34.4l239.1 0l-0.1-240.1z" fill="#5a6fb2" fill-rule="evenodd" stroke="#18284e" stroke-width="2.8"/>
<path d="M639.8 39.9l-77 0l14.5 7.9l13.4 8.4l11.2 8.3l8.9 8.2l6.2 7.6l5 8.7l2.4 7l1.3 9l-0.7 11.2l-2.6 11.2l-4.1 11.2l-6.6 13.5l-9.6 15.7l-9.8 13.5l-11.1 13.4l-12.6 13.5l-18.1 16.4l-17.9 13l-8.9 5.2l-9 4.5l-8.9 3.7l-9 2.9l-17.8 3.7l-20.1 1.3l-24.6-1l-33.5-3.5l0 25.6l239.1 0l-0.1-240.1zM525.9 39.9l-125.1 0l0 70.4l69.2-41l31.3-16.8l26.3-12.6l-1.7 0z" fill="#6771a6" fill-rule="evenodd" stroke="#1e2849" stroke-width="2.8"/>
<path d="M639.8 118.2l-7.1 16l-10.1 17.9l-12.1 17.9l-13.1 17.1l-14.5 16.6l-15.5 15.7l-14.7 13l-15.6 11.7l-13.4 8.2l-13.5 6.3l-13.4 4.5l-15.6 3l-15.6 1.1l-15.7-0.3l-17.9-1.5l-31.2-3.7l0 18.3l239 0.1l0-161.9zM487.9 39.9l-87.1 0l0 62.8l38.6-24.6l26.4-18l17.1-13.4l6.4-6.8l-1.4 0zM639.8 39.9l-14.8 0l2.6 6.8l12.2 19.3l0-26.1z" fill="#767398" fill-rule="evenodd" stroke="#242844" stroke-width="2.4"/>
<path d="M639.8 140.4l-12.5 18.4l-13.4 18l-14.8 17.9l-15.1 16.8l-14.6 14.6l-14.5 13l-13.4 10.5l-13.4 8.8l-11.2 6l-13.4 5.3l-11.1 3l-13.4 1.8l-13.4 0.5l-15.7-0.8l-49.1-6.1l0 11.9l239 0l0-139.6zM470 39.9l-69.2 0l0 56.2l30-20.3l20.9-15.7l7.8-6.7l6.8-6.7l5.3-6.8l-1.6 0z" fill="#82748b" fill-rule="evenodd" stroke="#2a293e" stroke-width="2.4"/>
<path d="M411.9 275.4l-11.1-1.7l0 6.3l40.9 0l-29.8-4.6zM639.8 152.9l-20.4 26.1l-19.8 23.3l-20.1 21.5l-20.1 19.1l-17.9 14.7l-15.6 10.5l-13.4 6.8l-15.4 5.1l142.7 0l0-127.1zM458.9 39.9l-58.1 0l0 50.2l20.3-14.3l17-13.4l12.1-11.3l5.8-6.7l2.9-4.5z" fill="#8c747d" fill-rule="evenodd" stroke="#312938" stroke-width="2.4"/>
<path d="M405.2 279.7l-4.4-0.7l0 1l6.1 0l-1.7-0.3zM639.8 162.2l-35.7 42.2l-15.7 17.1l-15.6 15.9l-15.6 14.8l-13.4 11.4l-13.4 10l-10.5 6.4l119.9 0l0-117.8zM447.7 39.9l-46.9 0l0 44.7l17.7-13.3l15.6-13.4l10.4-11.2l4.6-6.8l-1.4 0z" fill="#95736e" fill-rule="evenodd" stroke="#372a32" stroke-width="2.4"/>
<path d="M639.8 169.8l-33.5 38.5l-26.8 28.9l-24.6 24.1l-21.6 18.7l106.6 0l-0.1-110.2zM438.7 39.9l-38 0l0.1 39.5l15.7-12.6l12-11.2l6-6.7l5-6.7l1.3-2.3l-2.1 0z" fill="#9c715c" fill-rule="evenodd" stroke="#3f2e2d" stroke-width="1.8"/>
<path d="M639.8 176.3l-51.4 57.4l-22.3 23.5l-22.7 22.8l96.5 0l-0.1-103.7zM432 39.9l-31.3 0l0.1 34.5l14-12l8.9-9l8.6-11.2l1.4-2.3l-1.7 0z" fill="#a3714e" fill-rule="evenodd" stroke="#483328" stroke-width="1.8"/>
<path d="M639.8 182l-88.3 98l88.4 0l-0.1-98zM425.3 39.9l-24.5 0l0 29.6l10.2-9.4l8.4-9l7.9-11.2l-2 0z" fill="#a97244" fill-rule="evenodd" stroke="#503723" stroke-width="1.8"/>
<path d="M639.8 187.2l-58.7 65.9l-22.6 26.9l81.4 0l-0.1-92.8zM420.9 39.9l-20.1 0l0 24.7l13-13.5l6.5-8.9l1.3-2.3l-0.7 0z" fill="#ae743d" fill-rule="evenodd" stroke="#543922" stroke-width="1.3"/>
<path d="M639.8 192l-50.1 56.6l-15 17.9l-10.2 13.5l75.4 0l-0.1-88zM416.4 39.9l-15.6 0l0 19.8l9.6-10.8l6-9z" fill="#b3773c" fill-rule="evenodd" stroke="#583b21" stroke-width="1.3"/>
<path d="M639.8 196.4l-22.7 25.2l-23.1 27l-14.5 17.9l-9.5 13.5l69.9 0l-0.1-83.6zM409.7 39.9l-8.9 0l0 14.9l4.9-5.9l4.7-6.7l1.3-2.3l-2 0z" fill="#b7793a" fill-rule="evenodd" stroke="#5c3d20" stroke-width="1.3"/>
<path d="M639.8 200.5l-20.9 23.4l-21 24.7l-14 17.9l-9 13.5l65 0l-0.1-79.5zM405.2 39.9l-4.4 0l0 9.6l6.5-9.6l-2.1 0z" fill="#bc7c39" fill-rule="evenodd" stroke="#603f1f" stroke-width="1.3"/>
<path d="M639.8 204.4l-21.3 24l-16.8 20.2l-13.7 17.9l-8.7 13.5l60.6 0l-0.1-75.6zM403 39.9l-2.2 0l0 3.9l2.2-3.9z" fill="#bf7e38" fill-rule="evenodd" stroke="#64411e" stroke-width="1.3"/>
<path d="M639.8 208.1l-19.9 22.5l-16.5 20.2l-11.6 15.7l-8.4 13.5l56.5 0l-0.1-71.9z" fill="#c2813a" fill-rule="evenodd" stroke="#65421f" stroke-width="1"/>
<path d="M639.8 211.6l-18.6 21.3l-14.5 17.9l-11.3 15.7l-8.1 13.5l52.6 0l-0.1-68.4z" fill="#c4833a" fill-rule="evenodd" stroke="#67431f" stroke-width="1"/>
<path d="M639.8 215l-17.4 20.1l-12.5 15.7l-11.2 15.7l-7.8 13.5l49 0l-0.1-65z" fill="#c7863c" fill-rule="evenodd" stroke="#684420" stroke-width="1"/>
<path d="M639.8 218.2l-14.5 16.9l-14.1 18l-10.7 15.7l-6.3 11.2l45.7 0l-0.1-61.8z" fill="#c9883c" fill-rule="evenodd" stroke="#6a4521" stroke-width="1"/>
<path d="M639.8 221.4l-13.5 15.9l-12.2 15.8l-9.2 13.4l-7.5 13.5l42.5 0l-0.1-58.6z" fill="#cc8b3e" fill-rule="evenodd" stroke="#6b4622" stroke-width="1"/>
<path d="M639.8 224.4l-12.6 15.2l-11.9 15.7l-8.9 13.5l-6 11.2l39.5 0l-0.1-55.6z" fill="#ce8d3f" fill-rule="evenodd" stroke="#6d4722" stroke-width="1"/>
<path d="M639.8 227.4l-11.8 14.4l-11.6 15.7l-7.2 11.3l-6 11.2l36.7 0l-0.1-52.6z" fill="#d09042" fill-rule="evenodd" stroke="#6e4823" stroke-width="1"/>
<path d="M639.8 230.3l-11.1 13.8l-9.8 13.4l-7.1 11.3l-5.8 11.2l33.9 0l-0.1-49.7z" fill="#d29244" fill-rule="evenodd" stroke="#6f4a24" stroke-width="1"/>
<path d="M639.8 233.2l-10.4 13.1l-8 11.2l-7.1 11.3l-5.7 11.2l31.3 0l-0.1-46.8z" fill="#d49547" fill-rule="evenodd" stroke="#714b24" stroke-width="1"/>
<path d="M639.8 236l-9.7 12.6l-7.8 11.2l-6.8 11.2l-4.4 9l28.8 0l-0.1-44z" fill="#d59749" fill-rule="evenodd" stroke="#724c25" stroke-width="1"/>
<path d="M639.8 238.8l-9.1 12l-7.6 11.2l-5.2 9l-4.4 9l26.4 0l-0.1-41.2z" fill="#d79a4c" fill-rule="evenodd" stroke="#744d26" stroke-width="1"/>
<path d="M639.8 241.6l-14.4 20.4l-5.3 9l-4.3 9l24.1 0l-0.1-38.4z" fill="#d99c4e" fill-rule="evenodd" stroke="#754e27" stroke-width="1"/>
<path d="M639.8 244.3l-12.3 17.7l-5.2 9l-4.3 9l21.9 0l-0.1-35.7z" fill="#db9f51" fill-rule="evenodd" stroke="#774f27" stroke-width="1"/>
<path d="M639.8 247.1l-11.6 17.2l-8.1 15.7l19.8 0l-0.1-32.9z" fill="#dca153" fill-rule="evenodd" stroke="#785028" stroke-width="1"/>
<path d="M639.8 249.8l-10.9 16.7l-6.7 13.5l17.7 0l-0.1-30.2z" fill="#dea355" fill-rule="evenodd" stroke="#785028" stroke-width="1"/>
<path d="M639.8 252.5l-8.9 14l-6.7 13.5l15.7 0l-0.1-27.5z" fill="#dea557" fill-rule="evenodd" stroke="#785028" stroke-width="1"/>
<path d="M639.8 255.3l-8.2 13.5l-5.4 11.2l13.7 0l-0.1-24.7z" fill="#e0a759" fill-rule="evenodd" stroke="#785028" stroke-width="1"/>
<path d="M639.8 258.1l-6.4 10.7l-5.4 11.2l11.9 0l-0.1-21.9z" fill="#e0a95b" fill-rule="evenodd" stroke="#785028" stroke-width="1"/>
<path d="M639.8 260.9l-5.8 10.1l-4.1 9l10 0l-0.1-19.1z" fill="#e2ab5d" fill-rule="evenodd" stroke="#785028" stroke-width="1"/>
<path d="M639.8 263.8l-8.2 16.2l8.2 0l0-16.2z" fill="#e2ad5f" fill-rule="evenodd" stroke="#785028" stroke-width="1"/>
<path d="M639.8 266.8l-6.4 13.2l6.4 0l0-13.2z" fill="#e4af61" fill-rule="evenodd" stroke="#785028" stroke-width="1"/>
</g>
<text x="412.8" y="298" font-size="20" text-anchor="middle">0.2</text>
<text x="486" y="298" font-size="20" text-anchor="middle">0.3</text>
<text x="559.2" y="298" font-size="20" text-anchor="middle">0.4</text>
<text x="632.4" y="298" font-size="20" text-anchor="middle">0.5</text>
<text x="400.5" y="59.8" font-size="20" text-anchor="end">1.0</text>
<text x="400.5" y="102.3" font-size="20" text-anchor="end">0.9</text>
<text x="400.5" y="144.8" font-size="20" text-anchor="end">0.8</text>
<text x="400.5" y="187.3" font-size="20" text-anchor="end">0.7</text>
<text x="400.5" y="229.8" font-size="20" text-anchor="end">0.6</text>
<text x="400.5" y="272.3" font-size="20" text-anchor="end">0.5</text>
<text x="527" y="31.2" font-size="24.5" text-anchor="middle">R2KR Remote_WT</text>
<text x="509.5" y="320.5" font-size="20.6" text-anchor="middle">Time delay, T (weeks)</text>
<linearGradient id="cbg1" x1="0" x2="1" y1="0" y2="0"><stop offset="0" stop-color="#3f62b2"/><stop offset="0.12" stop-color="#4a66ae"/><stop offset="0.25" stop-color="#6c7098"/><stop offset="0.37" stop-color="#8e7a7c"/><stop offset="0.48" stop-color="#b48860"/><stop offset="0.56" stop-color="#e49a44"/><stop offset="0.65" stop-color="#eeaa50"/><stop offset="0.78" stop-color="#f4c274"/><stop offset="0.88" stop-color="#fcd48e"/><stop offset="1" stop-color="#fff6cc"/></linearGradient>
<linearGradient id="cbg1b" x1="0" x2="1" y1="0" y2="0"><stop offset="0" stop-color="#1c2c50"/><stop offset="0.5" stop-color="#7a6040"/><stop offset="1" stop-color="#b0a080"/></linearGradient>
<rect x="542" y="335" width="69" height="12" fill="url(#cbg1)" stroke="url(#cbg1b)" stroke-width="1.6"/>
<text x="542" y="367" font-size="20" text-anchor="middle">0.10</text>
<text x="611" y="367" font-size="20" text-anchor="middle">0.26</text>
<line x1="703" y1="45.1" x2="703" y2="51.1" stroke="#3a3a3a" stroke-width="1.3"/>
<line x1="703" y1="274.8" x2="703" y2="268.8" stroke="#3a3a3a" stroke-width="1.3"/>
<line x1="710.3" y1="45.1" x2="710.3" y2="48.6" stroke="#3a3a3a" stroke-width="1.3"/>
<line x1="710.3" y1="274.8" x2="710.3" y2="271.3" stroke="#3a3a3a" stroke-width="1.3"/>
<line x1="717.6" y1="45.1" x2="717.6" y2="48.6" stroke="#3a3a3a" stroke-width="1.3"/>
<line x1="717.6" y1="274.8" x2="717.6" y2="271.3" stroke="#3a3a3a" stroke-width="1.3"/>
<line x1="725" y1="45.1" x2="725" y2="48.6" stroke="#3a3a3a" stroke-width="1.3"/>
<line x1="725" y1="274.8" x2="725" y2="271.3" stroke="#3a3a3a" stroke-width="1.3"/>
<line x1="732.3" y1="45.1" x2="732.3" y2="48.6" stroke="#3a3a3a" stroke-width="1.3"/>
<line x1="732.3" y1="274.8" x2="732.3" y2="271.3" stroke="#3a3a3a" stroke-width="1.3"/>
<line x1="739.6" y1="45.1" x2="739.6" y2="48.6" stroke="#3a3a3a" stroke-width="1.3"/>
<line x1="739.6" y1="274.8" x2="739.6" y2="271.3" stroke="#3a3a3a" stroke-width="1.3"/>
<line x1="746.9" y1="45.1" x2="746.9" y2="48.6" stroke="#3a3a3a" stroke-width="1.3"/>
<line x1="746.9" y1="274.8" x2="746.9" y2="271.3" stroke="#3a3a3a" stroke-width="1.3"/>
<line x1="754.2" y1="45.1" x2="754.2" y2="48.6" stroke="#3a3a3a" stroke-width="1.3"/>
<line x1="754.2" y1="274.8" x2="754.2" y2="271.3" stroke="#3a3a3a" stroke-width="1.3"/>
<line x1="761.6" y1="45.1" x2="761.6" y2="48.6" stroke="#3a3a3a" stroke-width="1.3"/>
<line x1="761.6" y1="274.8" x2="761.6" y2="271.3" stroke="#3a3a3a" stroke-width="1.3"/>
<line x1="768.9" y1="45.1" x2="768.9" y2="48.6" stroke="#3a3a3a" stroke-width="1.3"/>
<line x1="768.9" y1="274.8" x2="768.9" y2="271.3" stroke="#3a3a3a" stroke-width="1.3"/>
<line x1="776.2" y1="45.1" x2="776.2" y2="51.1" stroke="#3a3a3a" stroke-width="1.3"/>
<line x1="776.2" y1="274.8" x2="776.2" y2="268.8" stroke="#3a3a3a" stroke-width="1.3"/>
<line x1="783.5" y1="45.1" x2="783.5" y2="48.6" stroke="#3a3a3a" stroke-width="1.3"/>
<line x1="783.5" y1="274.8" x2="783.5" y2="271.3" stroke="#3a3a3a" stroke-width="1.3"/>
<line x1="790.8" y1="45.1" x2="790.8" y2="48.6" stroke="#3a3a3a" stroke-width="1.3"/>
<line x1="790.8" y1="274.8" x2="790.8" y2="271.3" stroke="#3a3a3a" stroke-width="1.3"/>
<line x1="798.2" y1="45.1" x2="798.2" y2="48.6" stroke="#3a3a3a" stroke-width="1.3"/>
<line x1="798.2" y1="274.8" x2="798.2" y2="271.3" stroke="#3a3a3a" stroke-width="1.3"/>
<line x1="805.5" y1="45.1" x2="805.5" y2="48.6" stroke="#3a3a3a" stroke-width="1.3"/>
<line x1="805.5" y1="274.8" x2="805.5" y2="271.3" stroke="#3a3a3a" stroke-width="1.3"/>
<line x1="812.8" y1="45.1" x2="812.8" y2="48.6" stroke="#3a3a3a" stroke-width="1.3"/>
<line x1="812.8" y1="274.8" x2="812.8" y2="271.3" stroke="#3a3a3a" stroke-width="1.3"/>
<line x1="820.1" y1="45.1" x2="820.1" y2="48.6" stroke="#3a3a3a" stroke-width="1.3"/>
<line x1="820.1" y1="274.8" x2="820.1" y2="271.3" stroke="#3a3a3a" stroke-width="1.3"/>
<line x1="827.4" y1="45.1" x2="827.4" y2="48.6" stroke="#3a3a3a" stroke-width="1.3"/>
<line x1="827.4" y1="274.8" x2="827.4" y2="271.3" stroke="#3a3a3a" stroke-width="1.3"/>
<line x1="834.8" y1="45.1" x2="834.8" y2="48.6" stroke="#3a3a3a" stroke-width="1.3"/>
<line x1="834.8" y1="274.8" x2="834.8" y2="271.3" stroke="#3a3a3a" stroke-width="1.3"/>
<line x1="842.1" y1="45.1" x2="842.1" y2="48.6" stroke="#3a3a3a" stroke-width="1.3"/>
<line x1="842.1" y1="274.8" x2="842.1" y2="271.3" stroke="#3a3a3a" stroke-width="1.3"/>
<line x1="849.4" y1="45.1" x2="849.4" y2="51.1" stroke="#3a3a3a" stroke-width="1.3"/>
<line x1="849.4" y1="274.8" x2="849.4" y2="268.8" stroke="#3a3a3a" stroke-width="1.3"/>
<line x1="856.7" y1="45.1" x2="856.7" y2="48.6" stroke="#3a3a3a" stroke-width="1.3"/>
<line x1="856.7" y1="274.8" x2="856.7" y2="271.3" stroke="#3a3a3a" stroke-width="1.3"/>
<line x1="864" y1="45.1" x2="864" y2="48.6" stroke="#3a3a3a" stroke-width="1.3"/>
<line x1="864" y1="274.8" x2="864" y2="271.3" stroke="#3a3a3a" stroke-width="1.3"/>
<line x1="871.4" y1="45.1" x2="871.4" y2="48.6" stroke="#3a3a3a" stroke-width="1.3"/>
<line x1="871.4" y1="274.8" x2="871.4" y2="271.3" stroke="#3a3a3a" stroke-width="1.3"/>
<line x1="878.7" y1="45.1" x2="878.7" y2="48.6" stroke="#3a3a3a" stroke-width="1.3"/>
<line x1="878.7" y1="274.8" x2="878.7" y2="271.3" stroke="#3a3a3a" stroke-width="1.3"/>
<line x1="886" y1="45.1" x2="886" y2="48.6" stroke="#3a3a3a" stroke-width="1.3"/>
<line x1="886" y1="274.8" x2="886" y2="271.3" stroke="#3a3a3a" stroke-width="1.3"/>
<line x1="893.3" y1="45.1" x2="893.3" y2="48.6" stroke="#3a3a3a" stroke-width="1.3"/>
<line x1="893.3" y1="274.8" x2="893.3" y2="271.3" stroke="#3a3a3a" stroke-width="1.3"/>
<line x1="900.6" y1="45.1" x2="900.6" y2="48.6" stroke="#3a3a3a" stroke-width="1.3"/>
<line x1="900.6" y1="274.8" x2="900.6" y2="271.3" stroke="#3a3a3a" stroke-width="1.3"/>
<line x1="908" y1="45.1" x2="908" y2="48.6" stroke="#3a3a3a" stroke-width="1.3"/>
<line x1="908" y1="274.8" x2="908" y2="271.3" stroke="#3a3a3a" stroke-width="1.3"/>
<line x1="915.3" y1="45.1" x2="915.3" y2="48.6" stroke="#3a3a3a" stroke-width="1.3"/>
<line x1="915.3" y1="274.8" x2="915.3" y2="271.3" stroke="#3a3a3a" stroke-width="1.3"/>
<line x1="922.6" y1="45.1" x2="922.6" y2="51.1" stroke="#3a3a3a" stroke-width="1.3"/>
<line x1="922.6" y1="274.8" x2="922.6" y2="268.8" stroke="#3a3a3a" stroke-width="1.3"/>
<line x1="695.7" y1="52.3" x2="701.7" y2="52.3" stroke="#3a3a3a" stroke-width="1.3"/>
<line x1="924.7" y1="52.3" x2="918.7" y2="52.3" stroke="#3a3a3a" stroke-width="1.3"/>
<line x1="695.7" y1="60.8" x2="699.2" y2="60.8" stroke="#3a3a3a" stroke-width="1.3"/>
<line x1="924.7" y1="60.8" x2="921.2" y2="60.8" stroke="#3a3a3a" stroke-width="1.3"/>
<line x1="695.7" y1="69.3" x2="699.2" y2="69.3" stroke="#3a3a3a" stroke-width="1.3"/>
<line x1="924.7" y1="69.3" x2="921.2" y2="69.3" stroke="#3a3a3a" stroke-width="1.3"/>
<line x1="695.7" y1="77.9" x2="699.2" y2="77.9" stroke="#3a3a3a" stroke-width="1.3"/>
<line x1="924.7" y1="77.9" x2="921.2" y2="77.9" stroke="#3a3a3a" stroke-width="1.3"/>
<line x1="695.7" y1="86.4" x2="699.2" y2="86.4" stroke="#3a3a3a" stroke-width="1.3"/>
<line x1="924.7" y1="86.4" x2="921.2" y2="86.4" stroke="#3a3a3a" stroke-width="1.3"/>
<line x1="695.7" y1="94.9" x2="701.7" y2="94.9" stroke="#3a3a3a" stroke-width="1.3"/>
<line x1="924.7" y1="94.9" x2="918.7" y2="94.9" stroke="#3a3a3a" stroke-width="1.3"/>
<line x1="695.7" y1="103.4" x2="699.2" y2="103.4" stroke="#3a3a3a" stroke-width="1.3"/>
<line x1="924.7" y1="103.4" x2="921.2" y2="103.4" stroke="#3a3a3a" stroke-width="1.3"/>
<line x1="695.7" y1="111.9" x2="699.2" y2="111.9" stroke="#3a3a3a" stroke-width="1.3"/>
<line x1="924.7" y1="111.9" x2="921.2" y2="111.9" stroke="#3a3a3a" stroke-width="1.3"/>
<line x1="695.7" y1="120.5" x2="699.2" y2="120.5" stroke="#3a3a3a" stroke-width="1.3"/>
<line x1="924.7" y1="120.5" x2="921.2" y2="120.5" stroke="#3a3a3a" stroke-width="1.3"/>
<line x1="695.7" y1="129" x2="699.2" y2="129" stroke="#3a3a3a" stroke-width="1.3"/>
<line x1="924.7" y1="129" x2="921.2" y2="129" stroke="#3a3a3a" stroke-width="1.3"/>
<line x1="695.7" y1="137.5" x2="701.7" y2="137.5" stroke="#3a3a3a" stroke-width="1.3"/>
<line x1="924.7" y1="137.5" x2="918.7" y2="137.5" stroke="#3a3a3a" stroke-width="1.3"/>
<line x1="695.7" y1="146" x2="699.2" y2="146" stroke="#3a3a3a" stroke-width="1.3"/>
<line x1="924.7" y1="146" x2="921.2" y2="146" stroke="#3a3a3a" stroke-width="1.3"/>
<line x1="695.7" y1="154.5" x2="699.2" y2="154.5" stroke="#3a3a3a" stroke-width="1.3"/>
<line x1="924.7" y1="154.5" x2="921.2" y2="154.5" stroke="#3a3a3a" stroke-width="1.3"/>
<line x1="695.7" y1="163.1" x2="699.2" y2="163.1" stroke="#3a3a3a" stroke-width="1.3"/>
<line x1="924.7" y1="163.1" x2="921.2" y2="163.1" stroke="#3a3a3a" stroke-width="1.3"/>
<line x1="695.7" y1="171.6" x2="699.2" y2="171.6" stroke="#3a3a3a" stroke-width="1.3"/>
<line x1="924.7" y1="171.6" x2="921.2" y2="171.6" stroke="#3a3a3a" stroke-width="1.3"/>
<line x1="695.7" y1="180.1" x2="701.7" y2="180.1" stroke="#3a3a3a" stroke-width="1.3"/>
<line x1="924.7" y1="180.1" x2="918.7" y2="180.1" stroke="#3a3a3a" stroke-width="1.3"/>
<line x1="695.7" y1="188.6" x2="699.2" y2="188.6" stroke="#3a3a3a" stroke-width="1.3"/>
<line x1="924.7" y1="188.6" x2="921.2" y2="188.6" stroke="#3a3a3a" stroke-width="1.3"/>
<line x1="695.7" y1="197.1" x2="699.2" y2="197.1" stroke="#3a3a3a" stroke-width="1.3"/>
<line x1="924.7" y1="197.1" x2="921.2" y2="197.1" stroke="#3a3a3a" stroke-width="1.3"/>
<line x1="695.7" y1="205.7" x2="699.2" y2="205.7" stroke="#3a3a3a" stroke-width="1.3"/>
<line x1="924.7" y1="205.7" x2="921.2" y2="205.7" stroke="#3a3a3a" stroke-width="1.3"/>
<line x1="695.7" y1="214.2" x2="699.2" y2="214.2" stroke="#3a3a3a" stroke-width="1.3"/>
<line x1="924.7" y1="214.2" x2="921.2" y2="214.2" stroke="#3a3a3a" stroke-width="1.3"/>
<line x1="695.7" y1="222.7" x2="701.7" y2="222.7" stroke="#3a3a3a" stroke-width="1.3"/>
<line x1="924.7" y1="222.7" x2="918.7" y2="222.7" stroke="#3a3a3a" stroke-width="1.3"/>
<line x1="695.7" y1="231.2" x2="699.2" y2="231.2" stroke="#3a3a3a" stroke-width="1.3"/>
<line x1="924.7" y1="231.2" x2="921.2" y2="231.2" stroke="#3a3a3a" stroke-width="1.3"/>
<line x1="695.7" y1="239.7" x2="699.2" y2="239.7" stroke="#3a3a3a" stroke-width="1.3"/>
<line x1="924.7" y1="239.7" x2="921.2" y2="239.7" stroke="#3a3a3a" stroke-width="1.3"/>
<line x1="695.7" y1="248.3" x2="699.2" y2="248.3" stroke="#3a3a3a" stroke-width="1.3"/>
<line x1="924.7" y1="248.3" x2="921.2" y2="248.3" stroke="#3a3a3a" stroke-width="1.3"/>
<line x1="695.7" y1="256.8" x2="699.2" y2="256.8" stroke="#3a3a3a" stroke-width="1.3"/>
<line x1="924.7" y1="256.8" x2="921.2" y2="256.8" stroke="#3a3a3a" stroke-width="1.3"/>
<line x1="695.7" y1="265.3" x2="701.7" y2="265.3" stroke="#3a3a3a" stroke-width="1.3"/>
<line x1="924.7" y1="265.3" x2="918.7" y2="265.3" stroke="#3a3a3a" stroke-width="1.3"/>
<rect x="695.7" y="45.1" width="229" height="229.7" fill="none" stroke="#5a5a5a" stroke-width="1.6"/>
<clipPath id="cpa2"><rect x="699.9" y="48.9" width="221.2" height="222.1"/></clipPath>
<g clip-path="url(#cpa2)">
<rect x="697.9" y="46.9" width="225.2" height="226.1" fill="#2a5a98"/>
<path d="M930 39.9l-1.1 0l-10 31.6l-6.7 18.7l-9 20.4l-6.7 12.3l-6.7 10.2l-6.7 8.4l-6.7 7.1l-8.9 7.8l-10.1 6.9l-10 5.4l-11.2 4.7l-11.2 3.5l-15.6 3.3l-13.4 1.6l-13.4 0.5l-13.4-0.6l-11.2-1.7l-11.2-3.1l-6.7-3.3l-6.7-5.3l-3.2-5l-1.5-6.7l0.8-6.7l1.6-4.5l3.4-6.8l7.7-11.2l11.4-13.4l38.3-42.7l14.5-17.9l9.8-13.5l-125.3 0l0.1 240.1l239.1 0l-0.1-240.1z" fill="#496dbf" fill-rule="evenodd" stroke="#15284f" stroke-width="2.8"/>
<path d="M930 72.7l-8.9 26.7l-6.7 16.4l-6.8 13.9l-8.8 14.3l-9 11.5l-11.2 11.2l-13.4 10l-12 6.8l-17 7.1l-13.4 4l-9.8 2.4l-23.7 3.8l-24.6 1.8l-24.6-0.3l-20.1-2.6l-8.9-2.2l-8.2-2.8l-5.2-2.4l-6.7-4.1l-0.1 91.8l239.1 0.1l0-207.4zM796 39.9l-105 0l0 98.6l13.9-13.3l37.5-30.8l20.1-18l18.4-18.5l15.1-18z" fill="#4e6ebe" fill-rule="evenodd" stroke="#17284f" stroke-width="2.8"/>
<path d="M930 96.4l-6.7 18.4l-6.7 15.3l-8.9 16.4l-8.9 12.9l-9.5 10.6l-10.7 9.6l-12.2 8.4l-12.3 6.5l-17.7 7l-15.8 4.5l-21.5 4.4l-25.5 3.4l-24.5 1.5l-22.4-0.1l-20.1-1.9l-15.6-3.4l-0.1 70.1l239.1 0.1l0-183.7zM780.3 39.9l-89.3 0l0 72.3l29-19l24.6-18.2l11.2-9.4l11.1-10.4l14.6-15.3l-1.2 0z" fill="#5a6fb2" fill-rule="evenodd" stroke="#18284e" stroke-width="2.8"/>
<path d="M930 113.7l-6.7 16.7l-6.7 13.8l-6.7 11.5l-8.9 12.4l-8.9 9.8l-11.2 9.7l-11.2 7.5l-13.4 7l-15.3 6.1l-18.2 5.3l-20.1 4.4l-25 3.7l-24.2 2.3l-24.6 0.9l-20.1-0.7l-17.8-2.3l-0.1 58.2l239.1 0.1l0-166.4zM766.9 39.9l-75.9 0l0 56.2l24.5-14l20.1-13.5l11.2-8.6l11.2-9.6l10.9-10.5l-2 0z" fill="#6771a6" fill-rule="evenodd" stroke="#1e2849" stroke-width="2.8"/>
<path d="M930 127.3l-6.7 15.4l-6.7 12.7l-8.9 13.7l-8.2 9.9l-9.7 9.5l-11 8.5l-11.1 6.7l-11.4 5.5l-15.2 5.7l-18.3 5.2l-20.1 4.3l-26 4l-23.2 2.4l-24.6 1.3l-20.1-0.2l-17.8-1.6l-0.1 49.7l239.1 0.1l0-152.8zM755.8 39.9l-64.8 0l0 43.6l20.1-10.2l17.8-11l20.2-15.2l8.2-7.2l-1.5 0z" fill="#767398" fill-rule="evenodd" stroke="#242844" stroke-width="2.4"/>
<path d="M930 138.5l-6.7 14.4l-6.7 11.8l-6.7 9.9l-9.4 11.1l-9.6 9l-10 7.5l-11.2 6.7l-12.8 6l-16.2 5.9l-17.9 4.9l-22.4 4.6l-20.1 3.1l-24.5 2.8l-24.6 1.7l-22.4 0.2l-17.8-1.1l-0.1 43l239.1 0.1l0-141.6zM744.6 39.9l-53.6 0l0 32.9l15.6-7.2l15.6-8.7l17.9-12.3l5.9-4.7l-1.4 0z" fill="#82748b" fill-rule="evenodd" stroke="#2a293e" stroke-width="2.4"/>
<path d="M930 148.2l-6.7 13.4l-6.7 11.2l-7.9 10.7l-8.1 9l-10.2 9l-9.6 6.7l-12 6.7l-12.5 5.5l-16.7 5.7l-17 4.5l-22.2 4.5l-22.3 3.4l-26.8 3l-22.4 1.6l-20.1 0.3l-17.8-0.8l-0.1 37.4l239.1 0l0-131.8zM733.4 39.9l-42.4 0l0 23.3l11.1-4.6l13.4-6.7l13.4-8.1l5.6-3.9l-1.1 0z" fill="#8c747d" fill-rule="evenodd" stroke="#312938" stroke-width="2.4"/>
<path d="M930 156.6l-6.7 12.7l-6.7 10.5l-8.1 10.4l-8.7 9l-8 6.7l-10.9 7.5l-11.2 6l-13.4 5.7l-16.7 5.5l-17.8 4.5l-23 4.5l-20.7 3.1l-26.8 3.1l-22.4 1.7l-20.1 0.5l-17.8-0.6l-0.1 32.6l239.1 0l0-123.4zM720 39.9l-29 0l0 14.3l11.1-4.1l9-4.1l10.9-6.1l-2 0z" fill="#95736e" fill-rule="evenodd" stroke="#372a32" stroke-width="2.4"/>
<path d="M930 164.2l-4.4 8.3l-6.7 10.6l-6.7 8.8l-6.7 7.4l-7.2 6.6l-8.5 6.6l-8.9 5.6l-9 4.7l-15.6 6.5l-17.9 5.7l-19.3 4.6l-24.3 4.5l-30.1 4.1l-26.8 2.7l-24.6 1.2l-22.3-0.4l-0.1 28.3l239.1 0l0-115.8zM706.6 39.9l-15.6 0l0 5.9l8.9-3l6.7-2.9z" fill="#9c715c" fill-rule="evenodd" stroke="#3f2e2d" stroke-width="1.8"/>
<path d="M930 171l-4.5 8l-6.6 10l-6.7 8.5l-6.7 7l-6.7 6l-9 6.6l-8.9 5.4l-9 4.5l-15.6 6.2l-20.1 6l-21.7 4.9l-23 4l-29 3.9l-26.9 2.5l-24.5 1.3l-20.1-0.3l-0.1 24.5l239.1 0l0-109z" fill="#a3714e" fill-rule="evenodd" stroke="#483328" stroke-width="1.8"/>
<path d="M930 177.3l-5 8.4l-6.3 9l-6.5 7.8l-8 7.9l-7.7 6.3l-7.2 4.9l-8.4 4.9l-11.2 5.3l-14.9 5.5l-16.4 4.8l-18.7 4.2l-26 4.6l-31.2 4.3l-24.6 2.4l-24.6 1.4l-22.3-0.1l-0.1 21.1l239.1 0l0-102.7z" fill="#a97244" fill-rule="evenodd" stroke="#503723" stroke-width="1.8"/>
<path d="M930 183l-4.4 7.3l-6.7 9.3l-6.7 7.7l-8.1 7.6l-7.6 5.9l-8.2 5.3l-8.2 4.5l-10.4 4.7l-17.9 6.3l-17.8 4.7l-21.8 4.5l-22.9 3.8l-26.8 3.5l-29.1 2.8l-22.3 1.3l-20.1-0.1l-0.1 17.9l239.1 0l0-97z" fill="#ae743d" fill-rule="evenodd" stroke="#543922" stroke-width="1.3"/>
<path d="M930 188.4l-6.7 10.2l-5.8 7.3l-6.3 6.8l-7.6 6.7l-9.2 6.7l-7.5 4.5l-8.9 4.5l-10.5 4.4l-15.7 5.2l-17.8 4.5l-18.6 3.9l-27.4 4.4l-30 3.9l-24.6 2.3l-22.3 1.3l-20.1 0l-0.1 15l239.1 0l0-91.6z" fill="#b3773c" fill-rule="evenodd" stroke="#583b21" stroke-width="1.3"/>
<path d="M930 193.5l-6.7 9.7l-5.9 7.2l-6.6 6.8l-7.6 6.3l-6.8 4.9l-8.8 5.2l-9 4.4l-11.1 4.6l-15.7 5l-17.8 4.4l-20.1 4l-24.6 3.9l-33.5 4.3l-24.5 2.3l-22.5 1.2l-17.8 0.1l0 12.2l239 0l0-86.5z" fill="#b7793a" fill-rule="evenodd" stroke="#5c3d20" stroke-width="1.3"/>
<path d="M930 198.2l-6.7 9.4l-6.3 7.3l-6.9 6.7l-6.9 5.6l-8.4 5.7l-8.1 4.4l-9.7 4.5l-11.8 4.5l-15.2 4.5l-19.1 4.5l-23.8 4.4l-22.3 3.3l-27.8 3.5l-23.6 2.3l-22.3 1.3l-20.1 0.2l0 9.7l239 0l0-81.8z" fill="#bc7c39" fill-rule="evenodd" stroke="#603f1f" stroke-width="1.3"/>
<path d="M930 202.7l-5.6 7.7l-5.8 6.8l-6.9 6.7l-8.5 6.7l-8.9 5.8l-8.9 4.7l-20.2 7.9l-13.8 4.1l-19.7 4.5l-24.5 4.4l-24.6 3.6l-25.1 3.2l-26.3 2.5l-22.4 1.3l-17.8 0.1l0 7.3l239 0l0-77.3z" fill="#bf7e38" fill-rule="evenodd" stroke="#64411e" stroke-width="1.3"/>
<path d="M930 207l-6.7 8.7l-6.7 7.2l-6.7 6l-8.5 6.2l-7.4 4.5l-8.9 4.5l-10.9 4.5l-11.2 3.7l-17.9 4.8l-17.8 3.7l-20.2 3.5l-29 4.1l-49.2 5.2l-20.1 1.2l-17.8 0.2l0 5l239 0l0-73z" fill="#c2813a" fill-rule="evenodd" stroke="#65421f" stroke-width="1"/>
<path d="M930 211.1l-6.6 8.3l-6.5 6.7l-7 6.1l-7.2 5.1l-8.4 5.1l-8.9 4.3l-11.2 4.5l-12.9 4.1l-28.7 6.7l-38.9 6.4l-33.5 4.3l-26.8 2.7l-22.3 1.4l-20.1 0.4l0 2.8l239 0l0-68.9z" fill="#c4833a" fill-rule="evenodd" stroke="#67431f" stroke-width="1"/>
<path d="M930 215l-6.7 8.1l-6.7 6.7l-6.7 5.5l-8.9 6.1l-8.9 4.9l-9 4l-22.3 7.5l-31.3 7l-46.9 7.2l-47 5.2l-24.5 1.6l-20.1 0.4l0 0.8l239 0l0-65z" fill="#c7863c" fill-rule="evenodd" stroke="#684420" stroke-width="1"/>
<path d="M930 218.8l-11.1 12.2l-6.7 5.7l-7.3 5.1l-8.4 4.9l-8.5 4.1l-18.4 6.7l-26.7 6.7l-31.3 5.6l-42.4 5.8l-44.9 4.4l205.7 0l0-61.2z" fill="#c9883c" fill-rule="evenodd" stroke="#6a4521" stroke-width="1"/>
<path d="M930 222.4l-11.1 11.8l-6.6 5.4l-6.8 4.7l-15.7 8.2l-17.9 6.6l-20.1 5.3l-29 5.5l-38.2 5.6l-39 4.5l184.4 0l0-57.6z" fill="#cc8b3e" fill-rule="evenodd" stroke="#6b4622" stroke-width="1"/>
<path d="M930 225.8l-11.1 11.5l-11.2 8.3l-13.6 7.5l-17.7 6.8l-20.1 5.5l-24.6 4.9l-33.6 5.2l-36 4.5l167.9 0l0-54.2z" fill="#ce8d3f" fill-rule="evenodd" stroke="#6d4722" stroke-width="1"/>
<path d="M930 229.2l-10.4 10.4l-11.9 8.7l-13.4 7.1l-15.7 6l-18.5 5.1l-21.7 4.5l-27.9 4.5l-33.9 4.5l153.4 0l0-50.8z" fill="#d09042" fill-rule="evenodd" stroke="#6e4823" stroke-width="1"/>
<path d="M930 232.4l-8.9 8.9l-11.2 8.2l-11.1 6.2l-15.7 6.3l-15.6 4.7l-20.1 4.5l-25.2 4.3l-32.3 4.5l140.1 0l0-47.6z" fill="#d29244" fill-rule="evenodd" stroke="#6f4a24" stroke-width="1"/>
<path d="M930 235.6l-8.9 8.5l-11.2 8l-11.1 5.9l-13.4 5.4l-15.7 4.6l-17.9 4.1l-20.1 3.6l-29.3 4.3l127.6 0l0-44.4z" fill="#d49547" fill-rule="evenodd" stroke="#714b24" stroke-width="1"/>
<path d="M930 238.6l-8.2 7.7l-9.6 6.9l-11.2 6.1l-12.2 5l-14.4 4.5l-15.9 3.7l-17.8 3.4l-26.5 4.1l115.8 0l0-41.4z" fill="#d59749" fill-rule="evenodd" stroke="#724c25" stroke-width="1"/>
<path d="M930 241.6l-7.6 7l-9.6 6.7l-9.6 5.2l-11.1 4.7l-13.5 4.3l-15 3.7l-38.3 6.8l104.7 0l0-38.4z" fill="#d79a4c" fill-rule="evenodd" stroke="#744d26" stroke-width="1"/>
<path d="M930 244.5l-7.1 6.3l-8.5 5.9l-9.7 5.3l-10.4 4.4l-11.2 3.7l-13.4 3.5l-33.8 6.4l94.1 0l0-35.5z" fill="#d99c4e" fill-rule="evenodd" stroke="#754e27" stroke-width="1"/>
<path d="M930 247.3l-6.6 5.8l-6.8 4.7l-8.9 5l-8.9 4l-11.2 3.9l-11.2 3.1l-30.6 6.2l84.2 0l0-32.7z" fill="#db9f51" fill-rule="evenodd" stroke="#774f27" stroke-width="1"/>
<path d="M930 250.1l-6.7 5.5l-6.7 4.5l-7.5 4.2l-8.1 3.6l-20.1 6.6l-25.8 5.5l74.9 0l0-29.9z" fill="#dca153" fill-rule="evenodd" stroke="#785028" stroke-width="1"/>
<path d="M930 252.7l-5.9 4.8l-6.7 4.5l-14.2 7.1l-17.8 6l-21.5 4.9l66.1 0l0-27.3z" fill="#dea355" fill-rule="evenodd" stroke="#785028" stroke-width="1"/>
<path d="M930 255.4l-11.1 8l-13.4 6.8l-15.3 5.3l-18.2 4.5l58 0l0-24.6z" fill="#dea557" fill-rule="evenodd" stroke="#785028" stroke-width="1"/>
<path d="M930 257.9l-8.9 6.5l-12.8 6.6l-12.1 4.5l-16.6 4.5l50.4 0l0-22.1z" fill="#e0a759" fill-rule="evenodd" stroke="#785028" stroke-width="1"/>
<path d="M930 260.5l-8.7 6l-9.1 4.8l-11.2 4.5l-14.4 4.2l43.4 0l0-19.5z" fill="#e0a95b" fill-rule="evenodd" stroke="#785028" stroke-width="1"/>
<path d="M930 262.9l-6.7 4.6l-8.9 4.9l-8.9 3.7l-12.3 3.9l36.8 0l0-17.1z" fill="#e2ab5d" fill-rule="evenodd" stroke="#785028" stroke-width="1"/>
<path d="M930 265.4l-6.7 4.4l-6.7 3.6l-8.9 3.7l-8.4 2.9l30.7 0l0-14.6z" fill="#e2ad5f" fill-rule="evenodd" stroke="#785028" stroke-width="1"/>
<path d="M930 267.7l-11.1 6.6l-13.9 5.7l25 0l0-12.3z" fill="#e4af61" fill-rule="evenodd" stroke="#785028" stroke-width="1"/>
</g>
<text x="703" y="298" font-size="20" text-anchor="middle">0.2</text>
<text x="776.2" y="298" font-size="20" text-anchor="middle">0.3</text>
<text x="849.4" y="298" font-size="20" text-anchor="middle">0.4</text>
<text x="922.6" y="298" font-size="20" text-anchor="middle">0.5</text>
<text x="690.7" y="59.8" font-size="20" text-anchor="end">1.0</text>
<text x="690.7" y="102.3" font-size="20" text-anchor="end">0.9</text>
<text x="690.7" y="144.8" font-size="20" text-anchor="end">0.8</text>
<text x="690.7" y="187.3" font-size="20" text-anchor="end">0.7</text>
<text x="690.7" y="229.8" font-size="20" text-anchor="end">0.6</text>
<text x="690.7" y="272.3" font-size="20" text-anchor="end">0.5</text>
<text x="816" y="31.2" font-size="24.5" text-anchor="middle">R2P3 Remote_WT</text>
<text x="799.5" y="320.5" font-size="20.6" text-anchor="middle">Time delay, T (weeks)</text>
<linearGradient id="cbg2" x1="0" x2="1" y1="0" y2="0"><stop offset="0" stop-color="#3f62b2"/><stop offset="0.12" stop-color="#4a66ae"/><stop offset="0.25" stop-color="#6c7098"/><stop offset="0.37" stop-color="#8e7a7c"/><stop offset="0.48" stop-color="#b48860"/><stop offset="0.56" stop-color="#e49a44"/><stop offset="0.65" stop-color="#eeaa50"/><stop offset="0.78" stop-color="#f4c274"/><stop offset="0.88" stop-color="#fcd48e"/><stop offset="1" stop-color="#fff6cc"/></linearGradient>
<linearGradient id="cbg2b" x1="0" x2="1" y1="0" y2="0"><stop offset="0" stop-color="#1c2c50"/><stop offset="0.5" stop-color="#7a6040"/><stop offset="1" stop-color="#b0a080"/></linearGradient>
<rect x="836.3" y="335" width="68.9" height="12" fill="url(#cbg2)" stroke="url(#cbg2b)" stroke-width="1.6"/>
<text x="836.3" y="367" font-size="20" text-anchor="middle">0.12</text>
<text x="905.2" y="367" font-size="20" text-anchor="middle">0.33</text>
<text x="42.6" y="148.8" font-size="20.6" text-anchor="middle" transform="rotate(-90 42.6 148.8)">Loss/replacement rate</text>
<text x="67" y="149.4" font-size="20.6" text-anchor="middle" transform="rotate(-90 67 149.4)">λ (per week)</text>
<line x1="1069.6" y1="45.1" x2="1069.6" y2="51.1" stroke="#3a3a3a" stroke-width="1.3"/>
<line x1="1069.6" y1="274.8" x2="1069.6" y2="268.8" stroke="#3a3a3a" stroke-width="1.3"/>
<line x1="1080.6" y1="45.1" x2="1080.6" y2="48.6" stroke="#3a3a3a" stroke-width="1.3"/>
<line x1="1080.6" y1="274.8" x2="1080.6" y2="271.3" stroke="#3a3a3a" stroke-width="1.3"/>
<line x1="1091.7" y1="45.1" x2="1091.7" y2="48.6" stroke="#3a3a3a" stroke-width="1.3"/>
<line x1="1091.7" y1="274.8" x2="1091.7" y2="271.3" stroke="#3a3a3a" stroke-width="1.3"/>
<line x1="1102.7" y1="45.1" x2="1102.7" y2="48.6" stroke="#3a3a3a" stroke-width="1.3"/>
<line x1="1102.7" y1="274.8" x2="1102.7" y2="271.3" stroke="#3a3a3a" stroke-width="1.3"/>
<line x1="1113.7" y1="45.1" x2="1113.7" y2="48.6" stroke="#3a3a3a" stroke-width="1.3"/>
<line x1="1113.7" y1="274.8" x2="1113.7" y2="271.3" stroke="#3a3a3a" stroke-width="1.3"/>
<line x1="1124.8" y1="45.1" x2="1124.8" y2="51.1" stroke="#3a3a3a" stroke-width="1.3"/>
<line x1="1124.8" y1="274.8" x2="1124.8" y2="268.8" stroke="#3a3a3a" stroke-width="1.3"/>
<line x1="1135.8" y1="45.1" x2="1135.8" y2="48.6" stroke="#3a3a3a" stroke-width="1.3"/>
<line x1="1135.8" y1="274.8" x2="1135.8" y2="271.3" stroke="#3a3a3a" stroke-width="1.3"/>
<line x1="1146.8" y1="45.1" x2="1146.8" y2="48.6" stroke="#3a3a3a" stroke-width="1.3"/>
<line x1="1146.8" y1="274.8" x2="1146.8" y2="271.3" stroke="#3a3a3a" stroke-width="1.3"/>
<line x1="1157.8" y1="45.1" x2="1157.8" y2="48.6" stroke="#3a3a3a" stroke-width="1.3"/>
<line x1="1157.8" y1="274.8" x2="1157.8" y2="271.3" stroke="#3a3a3a" stroke-width="1.3"/>
<line x1="1168.9" y1="45.1" x2="1168.9" y2="48.6" stroke="#3a3a3a" stroke-width="1.3"/>
<line x1="1168.9" y1="274.8" x2="1168.9" y2="271.3" stroke="#3a3a3a" stroke-width="1.3"/>
<line x1="1179.9" y1="45.1" x2="1179.9" y2="51.1" stroke="#3a3a3a" stroke-width="1.3"/>
<line x1="1179.9" y1="274.8" x2="1179.9" y2="268.8" stroke="#3a3a3a" stroke-width="1.3"/>
<line x1="1190.9" y1="45.1" x2="1190.9" y2="48.6" stroke="#3a3a3a" stroke-width="1.3"/>
<line x1="1190.9" y1="274.8" x2="1190.9" y2="271.3" stroke="#3a3a3a" stroke-width="1.3"/>
<line x1="1202" y1="45.1" x2="1202" y2="48.6" stroke="#3a3a3a" stroke-width="1.3"/>
<line x1="1202" y1="274.8" x2="1202" y2="271.3" stroke="#3a3a3a" stroke-width="1.3"/>
<line x1="1213" y1="45.1" x2="1213" y2="48.6" stroke="#3a3a3a" stroke-width="1.3"/>
<line x1="1213" y1="274.8" x2="1213" y2="271.3" stroke="#3a3a3a" stroke-width="1.3"/>
<line x1="1224" y1="45.1" x2="1224" y2="48.6" stroke="#3a3a3a" stroke-width="1.3"/>
<line x1="1224" y1="274.8" x2="1224" y2="271.3" stroke="#3a3a3a" stroke-width="1.3"/>
<line x1="1235" y1="45.1" x2="1235" y2="51.1" stroke="#3a3a3a" stroke-width="1.3"/>
<line x1="1235" y1="274.8" x2="1235" y2="268.8" stroke="#3a3a3a" stroke-width="1.3"/>
<line x1="1246.1" y1="45.1" x2="1246.1" y2="48.6" stroke="#3a3a3a" stroke-width="1.3"/>
<line x1="1246.1" y1="274.8" x2="1246.1" y2="271.3" stroke="#3a3a3a" stroke-width="1.3"/>
<line x1="1257.1" y1="45.1" x2="1257.1" y2="48.6" stroke="#3a3a3a" stroke-width="1.3"/>
<line x1="1257.1" y1="274.8" x2="1257.1" y2="271.3" stroke="#3a3a3a" stroke-width="1.3"/>
<line x1="1268.1" y1="45.1" x2="1268.1" y2="48.6" stroke="#3a3a3a" stroke-width="1.3"/>
<line x1="1268.1" y1="274.8" x2="1268.1" y2="271.3" stroke="#3a3a3a" stroke-width="1.3"/>
<line x1="1279.2" y1="45.1" x2="1279.2" y2="48.6" stroke="#3a3a3a" stroke-width="1.3"/>
<line x1="1279.2" y1="274.8" x2="1279.2" y2="271.3" stroke="#3a3a3a" stroke-width="1.3"/>
<line x1="1290.2" y1="45.1" x2="1290.2" y2="51.1" stroke="#3a3a3a" stroke-width="1.3"/>
<line x1="1290.2" y1="274.8" x2="1290.2" y2="268.8" stroke="#3a3a3a" stroke-width="1.3"/>
<line x1="1065.1" y1="56.3" x2="1068.6" y2="56.3" stroke="#3a3a3a" stroke-width="1.3"/>
<line x1="1297.4" y1="56.3" x2="1293.9" y2="56.3" stroke="#3a3a3a" stroke-width="1.3"/>
<line x1="1065.1" y1="68" x2="1071.1" y2="68" stroke="#3a3a3a" stroke-width="1.3"/>
<line x1="1297.4" y1="68" x2="1291.4" y2="68" stroke="#3a3a3a" stroke-width="1.3"/>
<line x1="1065.1" y1="79.7" x2="1068.6" y2="79.7" stroke="#3a3a3a" stroke-width="1.3"/>
<line x1="1297.4" y1="79.7" x2="1293.9" y2="79.7" stroke="#3a3a3a" stroke-width="1.3"/>
<line x1="1065.1" y1="91.4" x2="1068.6" y2="91.4" stroke="#3a3a3a" stroke-width="1.3"/>
<line x1="1297.4" y1="91.4" x2="1293.9" y2="91.4" stroke="#3a3a3a" stroke-width="1.3"/>
<line x1="1065.1" y1="103" x2="1068.6" y2="103" stroke="#3a3a3a" stroke-width="1.3"/>
<line x1="1297.4" y1="103" x2="1293.9" y2="103" stroke="#3a3a3a" stroke-width="1.3"/>
<line x1="1065.1" y1="114.7" x2="1068.6" y2="114.7" stroke="#3a3a3a" stroke-width="1.3"/>
<line x1="1297.4" y1="114.7" x2="1293.9" y2="114.7" stroke="#3a3a3a" stroke-width="1.3"/>
<line x1="1065.1" y1="126.4" x2="1071.1" y2="126.4" stroke="#3a3a3a" stroke-width="1.3"/>
<line x1="1297.4" y1="126.4" x2="1291.4" y2="126.4" stroke="#3a3a3a" stroke-width="1.3"/>
<line x1="1065.1" y1="138.1" x2="1068.6" y2="138.1" stroke="#3a3a3a" stroke-width="1.3"/>
<line x1="1297.4" y1="138.1" x2="1293.9" y2="138.1" stroke="#3a3a3a" stroke-width="1.3"/>
<line x1="1065.1" y1="149.8" x2="1068.6" y2="149.8" stroke="#3a3a3a" stroke-width="1.3"/>
<line x1="1297.4" y1="149.8" x2="1293.9" y2="149.8" stroke="#3a3a3a" stroke-width="1.3"/>
<line x1="1065.1" y1="161.4" x2="1068.6" y2="161.4" stroke="#3a3a3a" stroke-width="1.3"/>
<line x1="1297.4" y1="161.4" x2="1293.9" y2="161.4" stroke="#3a3a3a" stroke-width="1.3"/>
<line x1="1065.1" y1="173.1" x2="1068.6" y2="173.1" stroke="#3a3a3a" stroke-width="1.3"/>
<line x1="1297.4" y1="173.1" x2="1293.9" y2="173.1" stroke="#3a3a3a" stroke-width="1.3"/>
<line x1="1065.1" y1="184.8" x2="1071.1" y2="184.8" stroke="#3a3a3a" stroke-width="1.3"/>
<line x1="1297.4" y1="184.8" x2="1291.4" y2="184.8" stroke="#3a3a3a" stroke-width="1.3"/>
<line x1="1065.1" y1="196.5" x2="1068.6" y2="196.5" stroke="#3a3a3a" stroke-width="1.3"/>
<line x1="1297.4" y1="196.5" x2="1293.9" y2="196.5" stroke="#3a3a3a" stroke-width="1.3"/>
<line x1="1065.1" y1="208.2" x2="1068.6" y2="208.2" stroke="#3a3a3a" stroke-width="1.3"/>
<line x1="1297.4" y1="208.2" x2="1293.9" y2="208.2" stroke="#3a3a3a" stroke-width="1.3"/>
<line x1="1065.1" y1="219.8" x2="1068.6" y2="219.8" stroke="#3a3a3a" stroke-width="1.3"/>
<line x1="1297.4" y1="219.8" x2="1293.9" y2="219.8" stroke="#3a3a3a" stroke-width="1.3"/>
<line x1="1065.1" y1="231.5" x2="1068.6" y2="231.5" stroke="#3a3a3a" stroke-width="1.3"/>
<line x1="1297.4" y1="231.5" x2="1293.9" y2="231.5" stroke="#3a3a3a" stroke-width="1.3"/>
<line x1="1065.1" y1="243.2" x2="1071.1" y2="243.2" stroke="#3a3a3a" stroke-width="1.3"/>
<line x1="1297.4" y1="243.2" x2="1291.4" y2="243.2" stroke="#3a3a3a" stroke-width="1.3"/>
<line x1="1065.1" y1="254.9" x2="1068.6" y2="254.9" stroke="#3a3a3a" stroke-width="1.3"/>
<line x1="1297.4" y1="254.9" x2="1293.9" y2="254.9" stroke="#3a3a3a" stroke-width="1.3"/>
<line x1="1065.1" y1="266.6" x2="1068.6" y2="266.6" stroke="#3a3a3a" stroke-width="1.3"/>
<line x1="1297.4" y1="266.6" x2="1293.9" y2="266.6" stroke="#3a3a3a" stroke-width="1.3"/>
<rect x="1065.1" y="45.1" width="232.3" height="229.7" fill="none" stroke="#5a5a5a" stroke-width="1.6"/>
<clipPath id="cpd0"><rect x="1069.5" y="48.9" width="224.3" height="222.1"/></clipPath>
<g clip-path="url(#cpd0)">
<rect x="1067.5" y="46.9" width="228.3" height="226.1" fill="#2a5a98"/>
<path d="M1060.4 141.9l0 138.1l242.5 0l0-22.8l-43.1-13.8l-70.2-19.9l-18.5-6.3l-20-8.6l-20.4-11l-20.4-13.6l-20.4-16.1l-29.5-26zM1302.9 39.8l-242.5 0.1l0 26.6l13.6 8.9l18.2 10.2l89.4 44.1l87.3 48.2l34 17.1l0-155.2z" fill="#496dbf" fill-rule="evenodd" stroke="#15284f" stroke-width="2.8"/>
<path d="M1060.4 156.4l0 123.6l242.5 0l0-7.1l-6.8-2.5l-34-10.6l-54.4-13.5l-20.4-5.7l-22-7.7l-18.8-8.6l-20.4-11.9l-20.3-14.7l-20.4-17.4l-25-23.9zM1302.9 39.8l-242.5 0.1l0 0.7l5 6.1l7.5 6.7l9.4 6.7l9.9 6.1l20.3 10.9l48 23.4l25.9 13.5l27.8 15.7l59.2 35.4l29.5 15.9l0-141.2z" fill="#4e6ebe" fill-rule="evenodd" stroke="#17284f" stroke-width="2.8"/>
<path d="M1060.4 167.4l0 112.6l217.2 0l-21.2-6.8l-46.4-11.6l-20.4-5.8l-20.4-7.4l-19-8.8l-21.8-12.7l-22.4-16.5l-20.6-18.1l-25-24.9zM1302.9 39.8l-218.5 0.1l9.1 9l16.8 11.4l15.5 8.8l47.6 24.7l24.4 13.4l23 13.5l57.1 35.1l25 13.8l0-129.8z" fill="#5a6fb2" fill-rule="evenodd" stroke="#18284e" stroke-width="2.8"/>
<path d="M1060.4 176.5l0 103.5l156.4 0l-27.2-10.2l-18.1-7.8l-20.4-10.5l-18.2-11l-18.1-12.9l-18.1-15l-18.1-17.2l-18.2-18.9zM1302.9 39.8l-197.6 0.1l10.2 9l16.9 11.2l71.8 40.4l71.5 43.7l27.2 15.4l0-119.8z" fill="#6771a6" fill-rule="evenodd" stroke="#1e2849" stroke-width="2.8"/>
<path d="M1060.4 184.4l0 95.6l119.4 0l-40.1-25.4l-13.6-9.5l-13.6-10.5l-13.5-11.5l-11.4-10.5l-27.2-28.2zM1302.9 39.8l-180.6 0.1l10.8 9l18 12l63.9 37.4l65.2 39.7l22.7 12.5l0-110.7z" fill="#767398" fill-rule="evenodd" stroke="#242844" stroke-width="2.4"/>
<path d="M1060.4 191.3l0 88.7l100.5 0l-37-28.5l-20.4-16.9l-20.4-19.2l-22.7-24.1zM1302.9 39.9l-166.8 0l14.2 11.2l18.9 12.4l104.2 62.6l29.5 16.1l0-102.3z" fill="#82748b" fill-rule="evenodd" stroke="#2a293e" stroke-width="2.4"/>
<path d="M1060.4 197.6l0 82.4l87.8 0l-51.5-44.9l-18.1-17.9l-18.2-19.6zM1302.9 39.9l-155.4 0l17.7 13.5l26.6 17l79.3 47.3l18.2 10.1l13.6 6.8l0-94.7z" fill="#8c747d" fill-rule="evenodd" stroke="#312938" stroke-width="2.4"/>
<path d="M1060.4 203.2l0 76.8l78.3 0l-48.8-45.5l-13.6-13.8l-15.9-17.5zM1302.9 39.9l-145.7 0l9.7 7.7l11.4 7.9l33.9 21.3l56.7 33.4l18.1 9.8l15.9 7.6l0-87.7z" fill="#95736e" fill-rule="evenodd" stroke="#372a32" stroke-width="2.4"/>
<path d="M1060.4 208.5l0 71.5l70.6 0l-45.6-44.6l-25-26.9zM1302.9 39.9l-137.3 0l10.4 8l13.6 9.4l43 26.5l43.1 24.4l13.6 7l13.6 6l0-81.3z" fill="#9c715c" fill-rule="evenodd" stroke="#3f2e2d" stroke-width="1.8"/>
<path d="M1060.4 213.3l0 66.7l64.1 0l-41.4-41.9l-22.7-24.8zM1302.9 39.9l-129.8 0l9.7 7.4l13.6 9.3l40.8 25l38.5 21.4l15.8 7.7l11.4 4.7l0-75.5z" fill="#a3714e" fill-rule="evenodd" stroke="#483328" stroke-width="1.8"/>
<path d="M1060.4 217.7l0 62.3l58.5 0l-40.3-42.1l-18.2-20.2zM1302.9 39.9l-123 0l12.1 9l15.7 10.5l36.3 21.7l33.9 18.2l13.6 6.3l11.4 4.4l0-70.1z" fill="#a97244" fill-rule="evenodd" stroke="#503723" stroke-width="1.8"/>
<path d="M1060.4 221.9l0 58.1l53.5 0l-37.6-40.3l-15.9-17.8zM1302.9 39.9l-116.8 0l12.3 9l13.8 9.1l36.3 21.5l29.4 15.4l13.6 6l11.4 4.2l0-65.2z" fill="#ae743d" fill-rule="evenodd" stroke="#543922" stroke-width="1.3"/>
<path d="M1060.4 225.9l0 54.1l49.1 0l-49.1-54.1zM1302.9 39.9l-111.1 0l25 17.1l34 20l29.4 14.8l11.3 4.8l11.4 4l0-60.7z" fill="#b3773c" fill-rule="evenodd" stroke="#583b21" stroke-width="1.3"/>
<path d="M1060.4 229.6l0 50.4l45.1 0l-45.1-50.4zM1302.9 39.9l-105.8 0l24.2 16.4l31.7 18.3l27.2 13.4l11.3 4.7l11.4 3.7l0-56.5z" fill="#b7793a" fill-rule="evenodd" stroke="#5c3d20" stroke-width="1.3"/>
<path d="M1060.4 233.1l0 46.9l41.4 0l-41.4-46.9zM1302.9 39.9l-100.8 0l26 17.2l27.2 15.4l27.2 12.9l11.3 4.3l9.1 2.8l0-52.6z" fill="#bc7c39" fill-rule="evenodd" stroke="#603f1f" stroke-width="1.3"/>
<path d="M1060.4 236.5l0 43.5l38.1 0l-38.1-43.5zM1302.9 39.9l-96.1 0l23.6 15.4l27.1 15.2l25 11.6l11.3 4.2l9.1 2.6l0-49z" fill="#bf7e38" fill-rule="evenodd" stroke="#64411e" stroke-width="1.3"/>
<path d="M1060.4 239.7l0 40.3l34.9 0l-34.9-40.3zM1302.9 39.9l-91.6 0l23.6 15.1l27.2 14.8l22.6 10l18.2 5.8l0-45.7z" fill="#c2813a" fill-rule="evenodd" stroke="#65421f" stroke-width="1"/>
<path d="M1060.4 242.7l0 37.3l32 0l-32-37.3zM1302.9 39.9l-87.3 0l23.8 15l24.9 13.2l20.4 8.7l18.2 5.6l0-42.5z" fill="#c4833a" fill-rule="evenodd" stroke="#67431f" stroke-width="1"/>
<path d="M1060.4 245.6l0 34.4l29.2 0l-29.2-34.4zM1302.9 39.9l-83.2 0l19.7 12.3l24.9 13.2l20.4 8.6l18.2 5.4l0-39.5z" fill="#c7863c" fill-rule="evenodd" stroke="#684420" stroke-width="1"/>
<path d="M1060.4 248.4l0 31.6l26.7 0l-26.7-31.6zM1302.9 39.9l-79.2 0l20.3 12.3l22.6 11.7l20.4 8.3l15.9 4.5l0-36.8z" fill="#c9883c" fill-rule="evenodd" stroke="#6a4521" stroke-width="1"/>
<path d="M1060.4 251.1l0 28.9l24.2 0l-24.2-28.9zM1302.9 39.9l-75.3 0l20.9 12.4l18.1 9.1l20.4 8.3l15.9 4.3l0-34.1z" fill="#cc8b3e" fill-rule="evenodd" stroke="#6b4622" stroke-width="1"/>
<path d="M1060.4 253.7l0 26.3l21.9 0l-21.9-26.3zM1302.9 39.9l-71.6 0l21.7 12.5l18.1 8.7l18.2 6.9l13.6 3.5l0-31.6z" fill="#ce8d3f" fill-rule="evenodd" stroke="#6d4722" stroke-width="1"/>
<path d="M1060.4 256.2l0 23.8l19.7 0l-19.7-23.8zM1302.9 39.9l-67.9 0l18 10.3l18.1 8.7l18.2 6.8l13.6 3.5l0-29.3z" fill="#d09042" fill-rule="evenodd" stroke="#6e4823" stroke-width="1"/>
<path d="M1060.4 258.6l0 21.4l17.6 0l-17.6-21.4zM1302.9 39.9l-64.4 0l16.8 9.3l15.8 7.5l18.2 6.8l13.6 3.4l0-27z" fill="#d29244" fill-rule="evenodd" stroke="#6f4a24" stroke-width="1"/>
<path d="M1060.4 261l0 19l15.5 0l-15.5-19zM1302.9 39.9l-60.9 0l17.8 9.6l15.9 7.1l13.6 4.8l13.6 3.4l0-24.9z" fill="#d49547" fill-rule="evenodd" stroke="#714b24" stroke-width="1"/>
<path d="M1060.4 263.3l0 16.7l13.6 0l-13.6-16.7zM1302.9 39.9l-57.4 0l14.3 7.6l15.9 7.1l13.6 4.8l13.6 3.3l0-22.8z" fill="#d59749" fill-rule="evenodd" stroke="#724c25" stroke-width="1"/>
<path d="M1060.4 265.5l0 14.5l11.7 0l-11.7-14.5zM1302.9 39.9l-54 0l15.4 7.9l13.6 5.8l13.6 4.5l11.4 2.6l0-20.8z" fill="#d79a4c" fill-rule="evenodd" stroke="#744d26" stroke-width="1"/>
<path d="M1060.4 267.6l0 12.4l10 0l-10-12.4zM1302.9 39.9l-50.6 0l14.3 7.1l13.6 5.6l11.3 3.7l11.4 2.6l0-19z" fill="#d99c4e" fill-rule="evenodd" stroke="#754e27" stroke-width="1"/>
<path d="M1060.4 269.7l0 10.3l8.2 0l-8.2-10.3zM1302.9 39.9l-47.2 0l13.2 6.3l11.3 4.6l11.3 3.7l11.4 2.5l0-17.1z" fill="#db9f51" fill-rule="evenodd" stroke="#774f27" stroke-width="1"/>
<path d="M1060.4 271.8l0 8.2l6.6 0l-6.6-8.2zM1302.9 39.9l-43.8 0l12 5.6l11.4 4.4l9 2.8l11.4 2.6l0-15.4z" fill="#dca153" fill-rule="evenodd" stroke="#785028" stroke-width="1"/>
<path d="M1060.4 273.8l0 6.2l4.9 0l-4.9-6.2zM1302.9 39.9l-40.5 0l20.1 8.3l11.3 3.5l9.1 1.9l0-13.7z" fill="#dea355" fill-rule="evenodd" stroke="#785028" stroke-width="1"/>
<path d="M1060.4 275.7l0 4.3l3.4 0l-3.4-4.3zM1302.9 39.9l-37 0l18.8 7.5l9.1 2.7l9.1 1.9l0-12.1z" fill="#dea557" fill-rule="evenodd" stroke="#785028" stroke-width="1"/>
<path d="M1060.4 277.6l0 2.4l1.9 0l-1.9-2.4zM1302.9 39.9l-33.6 0l17.7 6.7l15.9 3.8l0-10.5z" fill="#e0a759" fill-rule="evenodd" stroke="#785028" stroke-width="1"/>
<path d="M1060.4 279.5l0.4 0.5l-0.4-0.5zM1302.9 39.9l-30 0l16.4 5.9l13.6 3.1l0-9z" fill="#e0a95b" fill-rule="evenodd" stroke="#785028" stroke-width="1"/>
<path d="M1302.9 39.9l-26.4 0l12.8 4.4l13.6 3.2l0-7.6z" fill="#e2ab5d" fill-rule="evenodd" stroke="#785028" stroke-width="1"/>
</g>
<clipPath id="dclip0"><rect x="1066.5" y="45.9" width="230.3" height="228.1"/></clipPath>
<path d="M1207.2 275.4C1210.8 268.6 1221.1 249.4 1228.8 234.6C1236.5 219.8 1246.1 204.2 1253.4 186.6C1260.7 169 1267 145.9 1272.5 128.9C1277.9 111.8 1282.6 97.8 1286.2 84.4C1289.7 71.1 1292.2 56.7 1293.8 48.9C1295.4 41.1 1295.7 39.6 1296 37.8" fill="none" stroke="#5b83c9" stroke-width="6.5" clip-path="url(#dclip0)"/>
<text x="1069.6" y="297.5" font-size="20" text-anchor="middle">0.4</text>
<text x="1124.8" y="297.5" font-size="20" text-anchor="middle">0.5</text>
<text x="1179.9" y="297.5" font-size="20" text-anchor="middle">0.6</text>
<text x="1235" y="297.5" font-size="20" text-anchor="middle">0.7</text>
<text x="1290.2" y="297.5" font-size="20" text-anchor="middle">0.8</text>
<text x="1059.6" y="75.2" font-size="20" text-anchor="end">3.4</text>
<text x="1059.6" y="133.6" font-size="20" text-anchor="end">3.0</text>
<text x="1059.6" y="192" font-size="20" text-anchor="end">2.6</text>
<text x="1059.6" y="250.4" font-size="20" text-anchor="end">2.2</text>
<text x="1173" y="31.2" font-size="24.5" text-anchor="middle">R2KR MT</text>
<text x="1183" y="321.5" font-size="20.6" text-anchor="middle" xml:space="preserve">Drift bias,  δ</text>
<linearGradient id="cbg10" x1="0" x2="1" y1="0" y2="0"><stop offset="0" stop-color="#3f62b2"/><stop offset="0.12" stop-color="#4a66ae"/><stop offset="0.25" stop-color="#6c7098"/><stop offset="0.37" stop-color="#8e7a7c"/><stop offset="0.48" stop-color="#b48860"/><stop offset="0.56" stop-color="#e49a44"/><stop offset="0.65" stop-color="#eeaa50"/><stop offset="0.78" stop-color="#f4c274"/><stop offset="0.88" stop-color="#fcd48e"/><stop offset="1" stop-color="#fff6cc"/></linearGradient>
<linearGradient id="cbg10b" x1="0" x2="1" y1="0" y2="0"><stop offset="0" stop-color="#1c2c50"/><stop offset="0.5" stop-color="#7a6040"/><stop offset="1" stop-color="#b0a080"/></linearGradient>
<rect x="1206.3" y="335" width="69.3" height="12" fill="url(#cbg10)" stroke="url(#cbg10b)" stroke-width="1.6"/>
<text x="1206.3" y="367" font-size="20" text-anchor="middle">0.10</text>
<text x="1275.6" y="367" font-size="20" text-anchor="middle">0.25</text>
<line x1="1363" y1="45.1" x2="1363" y2="51.1" stroke="#3a3a3a" stroke-width="1.3"/>
<line x1="1363" y1="274.8" x2="1363" y2="268.8" stroke="#3a3a3a" stroke-width="1.3"/>
<line x1="1374.1" y1="45.1" x2="1374.1" y2="48.6" stroke="#3a3a3a" stroke-width="1.3"/>
<line x1="1374.1" y1="274.8" x2="1374.1" y2="271.3" stroke="#3a3a3a" stroke-width="1.3"/>
<line x1="1385.2" y1="45.1" x2="1385.2" y2="48.6" stroke="#3a3a3a" stroke-width="1.3"/>
<line x1="1385.2" y1="274.8" x2="1385.2" y2="271.3" stroke="#3a3a3a" stroke-width="1.3"/>
<line x1="1396.2" y1="45.1" x2="1396.2" y2="48.6" stroke="#3a3a3a" stroke-width="1.3"/>
<line x1="1396.2" y1="274.8" x2="1396.2" y2="271.3" stroke="#3a3a3a" stroke-width="1.3"/>
<line x1="1407.3" y1="45.1" x2="1407.3" y2="48.6" stroke="#3a3a3a" stroke-width="1.3"/>
<line x1="1407.3" y1="274.8" x2="1407.3" y2="271.3" stroke="#3a3a3a" stroke-width="1.3"/>
<line x1="1418.4" y1="45.1" x2="1418.4" y2="51.1" stroke="#3a3a3a" stroke-width="1.3"/>
<line x1="1418.4" y1="274.8" x2="1418.4" y2="268.8" stroke="#3a3a3a" stroke-width="1.3"/>
<line x1="1429.5" y1="45.1" x2="1429.5" y2="48.6" stroke="#3a3a3a" stroke-width="1.3"/>
<line x1="1429.5" y1="274.8" x2="1429.5" y2="271.3" stroke="#3a3a3a" stroke-width="1.3"/>
<line x1="1440.6" y1="45.1" x2="1440.6" y2="48.6" stroke="#3a3a3a" stroke-width="1.3"/>
<line x1="1440.6" y1="274.8" x2="1440.6" y2="271.3" stroke="#3a3a3a" stroke-width="1.3"/>
<line x1="1451.6" y1="45.1" x2="1451.6" y2="48.6" stroke="#3a3a3a" stroke-width="1.3"/>
<line x1="1451.6" y1="274.8" x2="1451.6" y2="271.3" stroke="#3a3a3a" stroke-width="1.3"/>
<line x1="1462.7" y1="45.1" x2="1462.7" y2="48.6" stroke="#3a3a3a" stroke-width="1.3"/>
<line x1="1462.7" y1="274.8" x2="1462.7" y2="271.3" stroke="#3a3a3a" stroke-width="1.3"/>
<line x1="1473.8" y1="45.1" x2="1473.8" y2="51.1" stroke="#3a3a3a" stroke-width="1.3"/>
<line x1="1473.8" y1="274.8" x2="1473.8" y2="268.8" stroke="#3a3a3a" stroke-width="1.3"/>
<line x1="1484.9" y1="45.1" x2="1484.9" y2="48.6" stroke="#3a3a3a" stroke-width="1.3"/>
<line x1="1484.9" y1="274.8" x2="1484.9" y2="271.3" stroke="#3a3a3a" stroke-width="1.3"/>
<line x1="1496" y1="45.1" x2="1496" y2="48.6" stroke="#3a3a3a" stroke-width="1.3"/>
<line x1="1496" y1="274.8" x2="1496" y2="271.3" stroke="#3a3a3a" stroke-width="1.3"/>
<line x1="1507" y1="45.1" x2="1507" y2="48.6" stroke="#3a3a3a" stroke-width="1.3"/>
<line x1="1507" y1="274.8" x2="1507" y2="271.3" stroke="#3a3a3a" stroke-width="1.3"/>
<line x1="1518.1" y1="45.1" x2="1518.1" y2="48.6" stroke="#3a3a3a" stroke-width="1.3"/>
<line x1="1518.1" y1="274.8" x2="1518.1" y2="271.3" stroke="#3a3a3a" stroke-width="1.3"/>
<line x1="1529.2" y1="45.1" x2="1529.2" y2="51.1" stroke="#3a3a3a" stroke-width="1.3"/>
<line x1="1529.2" y1="274.8" x2="1529.2" y2="268.8" stroke="#3a3a3a" stroke-width="1.3"/>
<line x1="1540.3" y1="45.1" x2="1540.3" y2="48.6" stroke="#3a3a3a" stroke-width="1.3"/>
<line x1="1540.3" y1="274.8" x2="1540.3" y2="271.3" stroke="#3a3a3a" stroke-width="1.3"/>
<line x1="1551.4" y1="45.1" x2="1551.4" y2="48.6" stroke="#3a3a3a" stroke-width="1.3"/>
<line x1="1551.4" y1="274.8" x2="1551.4" y2="271.3" stroke="#3a3a3a" stroke-width="1.3"/>
<line x1="1562.4" y1="45.1" x2="1562.4" y2="48.6" stroke="#3a3a3a" stroke-width="1.3"/>
<line x1="1562.4" y1="274.8" x2="1562.4" y2="271.3" stroke="#3a3a3a" stroke-width="1.3"/>
<line x1="1573.5" y1="45.1" x2="1573.5" y2="48.6" stroke="#3a3a3a" stroke-width="1.3"/>
<line x1="1573.5" y1="274.8" x2="1573.5" y2="271.3" stroke="#3a3a3a" stroke-width="1.3"/>
<line x1="1584.6" y1="45.1" x2="1584.6" y2="51.1" stroke="#3a3a3a" stroke-width="1.3"/>
<line x1="1584.6" y1="274.8" x2="1584.6" y2="268.8" stroke="#3a3a3a" stroke-width="1.3"/>
<line x1="1358.6" y1="55.1" x2="1362.1" y2="55.1" stroke="#3a3a3a" stroke-width="1.3"/>
<line x1="1591.6" y1="55.1" x2="1588.1" y2="55.1" stroke="#3a3a3a" stroke-width="1.3"/>
<line x1="1358.6" y1="66.9" x2="1364.6" y2="66.9" stroke="#3a3a3a" stroke-width="1.3"/>
<line x1="1591.6" y1="66.9" x2="1585.6" y2="66.9" stroke="#3a3a3a" stroke-width="1.3"/>
<line x1="1358.6" y1="78.7" x2="1362.1" y2="78.7" stroke="#3a3a3a" stroke-width="1.3"/>
<line x1="1591.6" y1="78.7" x2="1588.1" y2="78.7" stroke="#3a3a3a" stroke-width="1.3"/>
<line x1="1358.6" y1="90.5" x2="1362.1" y2="90.5" stroke="#3a3a3a" stroke-width="1.3"/>
<line x1="1591.6" y1="90.5" x2="1588.1" y2="90.5" stroke="#3a3a3a" stroke-width="1.3"/>
<line x1="1358.6" y1="102.3" x2="1362.1" y2="102.3" stroke="#3a3a3a" stroke-width="1.3"/>
<line x1="1591.6" y1="102.3" x2="1588.1" y2="102.3" stroke="#3a3a3a" stroke-width="1.3"/>
<line x1="1358.6" y1="114.1" x2="1362.1" y2="114.1" stroke="#3a3a3a" stroke-width="1.3"/>
<line x1="1591.6" y1="114.1" x2="1588.1" y2="114.1" stroke="#3a3a3a" stroke-width="1.3"/>
<line x1="1358.6" y1="125.9" x2="1364.6" y2="125.9" stroke="#3a3a3a" stroke-width="1.3"/>
<line x1="1591.6" y1="125.9" x2="1585.6" y2="125.9" stroke="#3a3a3a" stroke-width="1.3"/>
<line x1="1358.6" y1="137.7" x2="1362.1" y2="137.7" stroke="#3a3a3a" stroke-width="1.3"/>
<line x1="1591.6" y1="137.7" x2="1588.1" y2="137.7" stroke="#3a3a3a" stroke-width="1.3"/>
<line x1="1358.6" y1="149.5" x2="1362.1" y2="149.5" stroke="#3a3a3a" stroke-width="1.3"/>
<line x1="1591.6" y1="149.5" x2="1588.1" y2="149.5" stroke="#3a3a3a" stroke-width="1.3"/>
<line x1="1358.6" y1="161.3" x2="1362.1" y2="161.3" stroke="#3a3a3a" stroke-width="1.3"/>
<line x1="1591.6" y1="161.3" x2="1588.1" y2="161.3" stroke="#3a3a3a" stroke-width="1.3"/>
<line x1="1358.6" y1="173.1" x2="1362.1" y2="173.1" stroke="#3a3a3a" stroke-width="1.3"/>
<line x1="1591.6" y1="173.1" x2="1588.1" y2="173.1" stroke="#3a3a3a" stroke-width="1.3"/>
<line x1="1358.6" y1="184.9" x2="1364.6" y2="184.9" stroke="#3a3a3a" stroke-width="1.3"/>
<line x1="1591.6" y1="184.9" x2="1585.6" y2="184.9" stroke="#3a3a3a" stroke-width="1.3"/>
<line x1="1358.6" y1="196.7" x2="1362.1" y2="196.7" stroke="#3a3a3a" stroke-width="1.3"/>
<line x1="1591.6" y1="196.7" x2="1588.1" y2="196.7" stroke="#3a3a3a" stroke-width="1.3"/>
<line x1="1358.6" y1="208.5" x2="1362.1" y2="208.5" stroke="#3a3a3a" stroke-width="1.3"/>
<line x1="1591.6" y1="208.5" x2="1588.1" y2="208.5" stroke="#3a3a3a" stroke-width="1.3"/>
<line x1="1358.6" y1="220.3" x2="1362.1" y2="220.3" stroke="#3a3a3a" stroke-width="1.3"/>
<line x1="1591.6" y1="220.3" x2="1588.1" y2="220.3" stroke="#3a3a3a" stroke-width="1.3"/>
<line x1="1358.6" y1="232.1" x2="1362.1" y2="232.1" stroke="#3a3a3a" stroke-width="1.3"/>
<line x1="1591.6" y1="232.1" x2="1588.1" y2="232.1" stroke="#3a3a3a" stroke-width="1.3"/>
<line x1="1358.6" y1="243.9" x2="1364.6" y2="243.9" stroke="#3a3a3a" stroke-width="1.3"/>
<line x1="1591.6" y1="243.9" x2="1585.6" y2="243.9" stroke="#3a3a3a" stroke-width="1.3"/>
<line x1="1358.6" y1="255.7" x2="1362.1" y2="255.7" stroke="#3a3a3a" stroke-width="1.3"/>
<line x1="1591.6" y1="255.7" x2="1588.1" y2="255.7" stroke="#3a3a3a" stroke-width="1.3"/>
<line x1="1358.6" y1="267.5" x2="1362.1" y2="267.5" stroke="#3a3a3a" stroke-width="1.3"/>
<line x1="1591.6" y1="267.5" x2="1588.1" y2="267.5" stroke="#3a3a3a" stroke-width="1.3"/>
<rect x="1358.6" y="45.1" width="233" height="229.7" fill="none" stroke="#5a5a5a" stroke-width="1.6"/>
<clipPath id="cpd1"><rect x="1363" y="48.9" width="225" height="222.1"/></clipPath>
<g clip-path="url(#cpd1)">
<rect x="1361" y="46.9" width="229" height="226.1" fill="#2a5a98"/>
<path d="M1369.8 134.1l-15.9-1.4l0 147.4l243.3-0.1l-0.1-68.6l-27.4-5.5l-29.7-8.9l-29.3-11.3l-61.3-26.4l-27.3-10.9l-27.3-9l-13.6-3.3l-11.4-2zM1597.1 39.9l-189.2 0l11.9 4.9l13.7 7.6l61.3 40.5l36.4 21.8l34.1 18.1l15.9 7.5l15.9 6.6l0-107zM1360.7 39.9l-6.8 0l0 3l8.5-3l-1.7 0z" fill="#496dbf" fill-rule="evenodd" stroke="#15284f" stroke-width="2.8"/>
<path d="M1367.5 149.8l-13.6-1.5l0 131.8l243.3-0.1l-0.1-60l-15.9-2.3l-13.7-2.6l-26.8-6.9l-33-11.2l-65.2-25.6l-25-9l-25-7.5l-25-5.1zM1597.1 39.9l-142.2 0l37.6 28.3l31.9 20.6l18.1 10.5l18.2 9.5l18.2 8.6l18.2 7.6l0-85.1z" fill="#4e6ebe" fill-rule="evenodd" stroke="#17284f" stroke-width="2.8"/>
<path d="M1367.5 161l-13.6-1.6l0 120.7l243.3-0.1l-0.1-54.1l-17.5-2l-13.3-2.3l-28.8-6.7l-35.5-11.2l-59.5-21.8l-25-8.5l-25-7.2l-25-5.2zM1597.1 39.9l-115 0l12.7 10.2l13.7 10l13.6 9.1l15.9 9.5l13.6 7.3l15.9 7.7l16 6.7l13.6 5l0-65.5z" fill="#5a6fb2" fill-rule="evenodd" stroke="#18284e" stroke-width="2.8"/>
<path d="M1367.5 169.9l-13.6-1.8l0 112l243.3-0.1l-0.1-49.4l-18.2-1.8l-15.9-2.4l-31.4-7l-30.2-9l-61.1-21l-27.3-8.8l-25-6.7l-20.5-4zM1597.1 39.9l-91.9 0l21.4 15.4l22.8 13.2l13.6 6.5l11.4 4.7l11.3 3.9l11.4 3.2l0-46.9z" fill="#6771a6" fill-rule="evenodd" stroke="#1e2849" stroke-width="2.8"/>
<path d="M1363 176.5l-9.1-1.2l0 104.8l243.3-0.1l-0.1-45.6l-18.2-1.4l-15.9-2.1l-13.9-2.5l-20-4.5l-31.8-9l-59.3-19.4l-27.3-8.4l-25-6.3l-22.7-4.3zM1597.1 39.9l-69 0l16.7 10.4l18.2 8.8l18.2 6.2l15.9 3.1l0-28.5z" fill="#767398" fill-rule="evenodd" stroke="#242844" stroke-width="2.4"/>
<path d="M1365.3 183.2l-11.4-1.6l0 98.5l243.3-0.1l-0.1-42.2l-15.9-1l-15.9-1.8l-15.9-2.5l-20.1-4.1l-33.8-9l-84.8-26.1l-25-6.2l-20.4-3.9zM1597.1 39.9l-40.7 0l8.9 3.7l9.1 2.9l9.1 1.9l9 0.7l4.6-0.3l0-8.9z" fill="#82748b" fill-rule="evenodd" stroke="#2a293e" stroke-width="2.4"/>
<path d="M1358.5 187.8l-4.6-0.7l0 93l243.3-0.1l-0.1-39.3l-18.2-1l-18.2-1.9l-16.9-2.7l-19.4-4l-36.5-9.5l-79.4-23.4l-27.3-6.5l-22.7-3.9z" fill="#8c747d" fill-rule="evenodd" stroke="#312938" stroke-width="2.4"/>
<path d="M1356.2 192.4l-2.3-0.3l0 88l243.3-0.1l-0.1-36.7l-18.2-0.8l-15.9-1.4l-18.2-2.6l-18.5-3.4l-36.8-9l-83.3-23.6l-27.3-6.2l-22.7-3.9z" fill="#95736e" fill-rule="evenodd" stroke="#372a32" stroke-width="2.4"/>
<path d="M1356.2 196.9l-2.3-0.3l0 83.5l243.3-0.1l-0.1-34.3l-18.2-0.6l-18.2-1.6l-18.2-2.4l-20.8-3.8l-37.5-8.9l-80.3-22l-25-5.6l-22.7-3.9z" fill="#9c715c" fill-rule="evenodd" stroke="#3f2e2d" stroke-width="1.8"/>
<path d="M1358.5 201.4l-4.6-0.7l0 79.4l243.3-0.1l-0.1-32.1l-18.2-0.5l-20.4-1.6l-18.2-2.3l-22.2-3.9l-29.6-6.7l-86.9-23l-22.7-5l-20.4-3.5z" fill="#a3714e" fill-rule="evenodd" stroke="#483328" stroke-width="1.8"/>
<path d="M1363 205.9l-9.1-1.4l0 75.6l243.2-0.1l0-30.1l-18.2-0.3l-20.4-1.4l-18.2-2.2l-22.8-3.8l-32.4-7.1l-83.5-21.5l-38.6-7.7z" fill="#a97244" fill-rule="evenodd" stroke="#503723" stroke-width="1.8"/>
<path d="M1353.9 208.1l0 72l243.2-0.1l0-28.2l-20.5-0.3l-18.1-1.1l-18.2-2l-22.8-3.6l-35.1-7.5l-85.3-21.2l-22.7-4.7l-20.5-3.3z" fill="#ae743d" fill-rule="evenodd" stroke="#543922" stroke-width="1.3"/>
<path d="M1360.7 212.4l-6.8-1l0 68.7l243.2-0.1l0-26.4l-20.5-0.2l-18.1-1l-20.5-2.1l-22.7-3.5l-35-7.2l-80.9-19.7l-38.7-7.5z" fill="#b3773c" fill-rule="evenodd" stroke="#583b21" stroke-width="1.3"/>
<path d="M1356.2 214.9l-2.3-0.4l0 65.6l243.2-0.1l0-24.7l-20.5-0.1l-20.4-1.1l-20.5-2l-22.7-3.4l-34.1-6.9l-81.8-19.3l-40.9-7.6z" fill="#b7793a" fill-rule="evenodd" stroke="#5c3d20" stroke-width="1.3"/>
<path d="M1365.3 219.3l-11.4-1.8l0 62.6l243.2-0.1l0-23.2l-20.5 0.1l-20.4-0.9l-20.5-2l-22.8-3.2l-34.8-6.7l-74.2-17.3l-38.6-7.5z" fill="#bc7c39" fill-rule="evenodd" stroke="#603f1f" stroke-width="1.3"/>
<path d="M1360.7 221.3l-6.8-1l0 59.8l243.2-0.1l0-21.7l-20.5 0.2l-20.4-0.8l-20.5-1.8l-21.4-2.8l-36.4-6.8l-76.3-17.2l-40.9-7.8z" fill="#bf7e38" fill-rule="evenodd" stroke="#64411e" stroke-width="1.3"/>
<path d="M1358.5 223.6l-4.6-0.7l0 57.2l243.2-0.1l0-20.3l-20.5 0.3l-20.4-0.7l-21.9-1.8l-21.3-2.7l-34.8-6.2l-78.8-17.4l-40.9-7.6z" fill="#c2813a" fill-rule="evenodd" stroke="#65421f" stroke-width="1"/>
<path d="M1356.2 225.8l-2.3-0.3l0 54.6l243.2-0.1l0-18.9l-20.5 0.4l-22.7-0.7l-20.4-1.7l-22.8-2.8l-31.6-5.5l-82-17.6l-40.9-7.4z" fill="#c4833a" fill-rule="evenodd" stroke="#67431f" stroke-width="1"/>
<path d="M1356.2 228.2l-2.3-0.3l0 52.1l243.2 0l0-17.6l-20.5 0.5l-22.7-0.6l-22.7-1.8l-22.7-2.8l-31.9-5.4l-84.1-17.7l-36.3-6.4z" fill="#c7863c" fill-rule="evenodd" stroke="#684420" stroke-width="1"/>
<path d="M1356.2 230.5l-2.3-0.3l0 49.8l243.2 0l0-16.4l-20.5 0.6l-20.4-0.4l-22.7-1.5l-22.4-2.5l-40.5-6.7l-78.1-16.2l-36.3-6.4z" fill="#c9883c" fill-rule="evenodd" stroke="#6a4521" stroke-width="1"/>
<path d="M1356.2 232.8l-2.3-0.4l0 47.6l243.2 0l0-15.2l-20.5 0.6l-22.7-0.3l-22.7-1.5l-22.7-2.6l-35.8-5.7l-82.4-16.6l-34.1-5.9z" fill="#cc8b3e" fill-rule="evenodd" stroke="#6b4622" stroke-width="1"/>
<path d="M1356.2 234.9l-2.3-0.3l0 45.4l243.2 0l0-14.1l-20.5 0.8l-22.7-0.3l-25-1.6l-22.7-2.5l-36.4-5.8l-79.5-15.7l-34.1-5.9z" fill="#ce8d3f" fill-rule="evenodd" stroke="#6d4722" stroke-width="1"/>
<path d="M1358.5 237.3l-4.6-0.7l0 43.4l243.2 0l0-13l-22.7 0.9l-20.5-0.2l-21.5-1.2l-23.9-2.4l-42.5-6.6l-73.5-14.3l-34-5.9z" fill="#d09042" fill-rule="evenodd" stroke="#6e4823" stroke-width="1"/>
<path d="M1358.5 239.3l-4.6-0.7l0 41.4l243.2 0l0-11.9l-22.7 0.9l-22.8-0.1l-22.7-1.3l-22.7-2.3l-36.9-5.5l-76.8-14.7l-34-5.8z" fill="#d29244" fill-rule="evenodd" stroke="#6f4a24" stroke-width="1"/>
<path d="M1360.7 241.6l-6.8-1.1l0 39.5l243.2 0l0-10.9l-22.7 1l-22.8-0.1l-24.2-1.2l-22.7-2.3l-44.6-6.7l-67.6-12.8l-31.8-5.4z" fill="#d49547" fill-rule="evenodd" stroke="#714b24" stroke-width="1"/>
<path d="M1363 243.8l-9.1-1.4l0 37.6l243.2 0l0-9.9l-22.7 1.1l-22.8 0l-22.7-1.1l-22.7-2.1l-42.2-6l-101-18.2z" fill="#d59749" fill-rule="evenodd" stroke="#724c25" stroke-width="1"/>
<path d="M1367.5 246.3l-13.6-2.1l0 35.8l243.2 0l0-8.9l-22.7 1.1l-22.8 0.1l-25-1.1l-22.7-2.1l-45.4-6.5l-91-16.3z" fill="#d79a4c" fill-rule="evenodd" stroke="#744d26" stroke-width="1"/>
<path d="M1356.2 246.3l-2.3-0.4l0 34.1l243.2 0l0-8l-22.7 1.2l-22.8 0.2l-22.7-0.9l-25-2.1l-44.3-6.1l-103.4-18z" fill="#d99c4e" fill-rule="evenodd" stroke="#754e27" stroke-width="1"/>
<path d="M1358.5 248.3l-4.6-0.7l0 32.4l243.2 0l0-7.1l-22.7 1.3l-25 0.2l-25-1l-22.8-2l-40.9-5.5l-102.2-17.6z" fill="#db9f51" fill-rule="evenodd" stroke="#774f27" stroke-width="1"/>
<path d="M1363 250.6l-9.1-1.3l0 30.7l243.2 0l0-6.2l-22.7 1.4l-22.8 0.3l-22.7-0.8l-25-1.9l-20.4-2.3l-27.5-4l-93-15.9z" fill="#dca153" fill-rule="evenodd" stroke="#785028" stroke-width="1"/>
<path d="M1367.5 252.9l-13.6-2l0 29.1l243.2 0l0-5.4l-22.7 1.5l-22.8 0.3l-25-0.7l-22.7-1.7l-43.2-5.4l-93.2-15.7z" fill="#dea355" fill-rule="evenodd" stroke="#785028" stroke-width="1"/>
</g>
<clipPath id="dclip1"><rect x="1360" y="45.9" width="231" height="228.1"/></clipPath>
<path d="M1358.5 247.7C1359.2 247.4 1357.2 249.8 1363 245.9C1368.8 242 1381.9 233.2 1393.4 224.4C1404.8 215.5 1418.8 203 1431.6 192.6C1444.4 182.2 1457.2 174.9 1470.1 162.2C1483 149.5 1498.1 130.4 1508.8 116.4C1519.5 102.5 1528.5 89.7 1534.5 78.4C1540.5 67.2 1542.8 54.9 1544.8 48.9C1546.8 42.9 1546.1 43.3 1546.4 42.2" fill="none" stroke="#5b83c9" stroke-width="6.5" clip-path="url(#dclip1)"/>
<path d="M1351.8 251L1363 252.1L1385.5 257.2L1419.2 263L1453 268.3L1475.5 273.2L1475.5 282.1L1351.8 282.1z" fill="#fff" clip-path="url(#cpd1)"/>
<text x="1363" y="297.5" font-size="20" text-anchor="middle">0.4</text>
<text x="1418.4" y="297.5" font-size="20" text-anchor="middle">0.5</text>
<text x="1473.8" y="297.5" font-size="20" text-anchor="middle">0.6</text>
<text x="1529.2" y="297.5" font-size="20" text-anchor="middle">0.7</text>
<text x="1584.6" y="297.5" font-size="20" text-anchor="middle">0.8</text>
<text x="1353.1" y="74.1" font-size="20" text-anchor="end">2.4</text>
<text x="1353.1" y="133.1" font-size="20" text-anchor="end">2.0</text>
<text x="1353.1" y="192.1" font-size="20" text-anchor="end">1.6</text>
<text x="1353.1" y="251.1" font-size="20" text-anchor="end">1.2</text>
<text x="1475.5" y="31.2" font-size="24.5" text-anchor="middle">R2P3 MT</text>
<text x="1473.8" y="321.5" font-size="20.6" text-anchor="middle" xml:space="preserve">Drift bias,  δ</text>
<linearGradient id="cbg11" x1="0" x2="1" y1="0" y2="0"><stop offset="0" stop-color="#3f62b2"/><stop offset="0.12" stop-color="#4a66ae"/><stop offset="0.25" stop-color="#6c7098"/><stop offset="0.37" stop-color="#8e7a7c"/><stop offset="0.48" stop-color="#b48860"/><stop offset="0.56" stop-color="#e49a44"/><stop offset="0.65" stop-color="#eeaa50"/><stop offset="0.78" stop-color="#f4c274"/><stop offset="0.88" stop-color="#fcd48e"/><stop offset="1" stop-color="#fff6cc"/></linearGradient>
<linearGradient id="cbg11b" x1="0" x2="1" y1="0" y2="0"><stop offset="0" stop-color="#1c2c50"/><stop offset="0.5" stop-color="#7a6040"/><stop offset="1" stop-color="#b0a080"/></linearGradient>
<rect x="1496.6" y="335" width="68.9" height="12" fill="url(#cbg11)" stroke="url(#cbg11b)" stroke-width="1.6"/>
<text x="1496.6" y="367" font-size="20" text-anchor="middle">0.23</text>
<text x="1565.5" y="367" font-size="20" text-anchor="middle">0.61</text>
<line x1="1668.3" y1="45.1" x2="1668.3" y2="48.6" stroke="#3a3a3a" stroke-width="1.3"/>
<line x1="1668.3" y1="274.8" x2="1668.3" y2="271.3" stroke="#3a3a3a" stroke-width="1.3"/>
<line x1="1683.2" y1="45.1" x2="1683.2" y2="48.6" stroke="#3a3a3a" stroke-width="1.3"/>
<line x1="1683.2" y1="274.8" x2="1683.2" y2="271.3" stroke="#3a3a3a" stroke-width="1.3"/>
<line x1="1698.1" y1="45.1" x2="1698.1" y2="48.6" stroke="#3a3a3a" stroke-width="1.3"/>
<line x1="1698.1" y1="274.8" x2="1698.1" y2="271.3" stroke="#3a3a3a" stroke-width="1.3"/>
<line x1="1713" y1="45.1" x2="1713" y2="48.6" stroke="#3a3a3a" stroke-width="1.3"/>
<line x1="1713" y1="274.8" x2="1713" y2="271.3" stroke="#3a3a3a" stroke-width="1.3"/>
<line x1="1727.9" y1="45.1" x2="1727.9" y2="51.1" stroke="#3a3a3a" stroke-width="1.3"/>
<line x1="1727.9" y1="274.8" x2="1727.9" y2="268.8" stroke="#3a3a3a" stroke-width="1.3"/>
<line x1="1742.8" y1="45.1" x2="1742.8" y2="48.6" stroke="#3a3a3a" stroke-width="1.3"/>
<line x1="1742.8" y1="274.8" x2="1742.8" y2="271.3" stroke="#3a3a3a" stroke-width="1.3"/>
<line x1="1757.7" y1="45.1" x2="1757.7" y2="48.6" stroke="#3a3a3a" stroke-width="1.3"/>
<line x1="1757.7" y1="274.8" x2="1757.7" y2="271.3" stroke="#3a3a3a" stroke-width="1.3"/>
<line x1="1772.6" y1="45.1" x2="1772.6" y2="48.6" stroke="#3a3a3a" stroke-width="1.3"/>
<line x1="1772.6" y1="274.8" x2="1772.6" y2="271.3" stroke="#3a3a3a" stroke-width="1.3"/>
<line x1="1787.6" y1="45.1" x2="1787.6" y2="48.6" stroke="#3a3a3a" stroke-width="1.3"/>
<line x1="1787.6" y1="274.8" x2="1787.6" y2="271.3" stroke="#3a3a3a" stroke-width="1.3"/>
<line x1="1802.5" y1="45.1" x2="1802.5" y2="51.1" stroke="#3a3a3a" stroke-width="1.3"/>
<line x1="1802.5" y1="274.8" x2="1802.5" y2="268.8" stroke="#3a3a3a" stroke-width="1.3"/>
<line x1="1817.4" y1="45.1" x2="1817.4" y2="48.6" stroke="#3a3a3a" stroke-width="1.3"/>
<line x1="1817.4" y1="274.8" x2="1817.4" y2="271.3" stroke="#3a3a3a" stroke-width="1.3"/>
<line x1="1832.3" y1="45.1" x2="1832.3" y2="48.6" stroke="#3a3a3a" stroke-width="1.3"/>
<line x1="1832.3" y1="274.8" x2="1832.3" y2="271.3" stroke="#3a3a3a" stroke-width="1.3"/>
<line x1="1847.2" y1="45.1" x2="1847.2" y2="48.6" stroke="#3a3a3a" stroke-width="1.3"/>
<line x1="1847.2" y1="274.8" x2="1847.2" y2="271.3" stroke="#3a3a3a" stroke-width="1.3"/>
<line x1="1862.1" y1="45.1" x2="1862.1" y2="48.6" stroke="#3a3a3a" stroke-width="1.3"/>
<line x1="1862.1" y1="274.8" x2="1862.1" y2="271.3" stroke="#3a3a3a" stroke-width="1.3"/>
<line x1="1877" y1="45.1" x2="1877" y2="51.1" stroke="#3a3a3a" stroke-width="1.3"/>
<line x1="1877" y1="274.8" x2="1877" y2="268.8" stroke="#3a3a3a" stroke-width="1.3"/>
<line x1="1653.3" y1="51.2" x2="1659.3" y2="51.2" stroke="#3a3a3a" stroke-width="1.3"/>
<line x1="1883.8" y1="51.2" x2="1877.8" y2="51.2" stroke="#3a3a3a" stroke-width="1.3"/>
<line x1="1653.3" y1="63" x2="1656.8" y2="63" stroke="#3a3a3a" stroke-width="1.3"/>
<line x1="1883.8" y1="63" x2="1880.3" y2="63" stroke="#3a3a3a" stroke-width="1.3"/>
<line x1="1653.3" y1="74.9" x2="1656.8" y2="74.9" stroke="#3a3a3a" stroke-width="1.3"/>
<line x1="1883.8" y1="74.9" x2="1880.3" y2="74.9" stroke="#3a3a3a" stroke-width="1.3"/>
<line x1="1653.3" y1="86.7" x2="1656.8" y2="86.7" stroke="#3a3a3a" stroke-width="1.3"/>
<line x1="1883.8" y1="86.7" x2="1880.3" y2="86.7" stroke="#3a3a3a" stroke-width="1.3"/>
<line x1="1653.3" y1="98.5" x2="1656.8" y2="98.5" stroke="#3a3a3a" stroke-width="1.3"/>
<line x1="1883.8" y1="98.5" x2="1880.3" y2="98.5" stroke="#3a3a3a" stroke-width="1.3"/>
<line x1="1653.3" y1="110.3" x2="1659.3" y2="110.3" stroke="#3a3a3a" stroke-width="1.3"/>
<line x1="1883.8" y1="110.3" x2="1877.8" y2="110.3" stroke="#3a3a3a" stroke-width="1.3"/>
<line x1="1653.3" y1="122.2" x2="1656.8" y2="122.2" stroke="#3a3a3a" stroke-width="1.3"/>
<line x1="1883.8" y1="122.2" x2="1880.3" y2="122.2" stroke="#3a3a3a" stroke-width="1.3"/>
<line x1="1653.3" y1="134" x2="1656.8" y2="134" stroke="#3a3a3a" stroke-width="1.3"/>
<line x1="1883.8" y1="134" x2="1880.3" y2="134" stroke="#3a3a3a" stroke-width="1.3"/>
<line x1="1653.3" y1="145.8" x2="1656.8" y2="145.8" stroke="#3a3a3a" stroke-width="1.3"/>
<line x1="1883.8" y1="145.8" x2="1880.3" y2="145.8" stroke="#3a3a3a" stroke-width="1.3"/>
<line x1="1653.3" y1="157.6" x2="1656.8" y2="157.6" stroke="#3a3a3a" stroke-width="1.3"/>
<line x1="1883.8" y1="157.6" x2="1880.3" y2="157.6" stroke="#3a3a3a" stroke-width="1.3"/>
<line x1="1653.3" y1="169.5" x2="1659.3" y2="169.5" stroke="#3a3a3a" stroke-width="1.3"/>
<line x1="1883.8" y1="169.5" x2="1877.8" y2="169.5" stroke="#3a3a3a" stroke-width="1.3"/>
<line x1="1653.3" y1="181.3" x2="1656.8" y2="181.3" stroke="#3a3a3a" stroke-width="1.3"/>
<line x1="1883.8" y1="181.3" x2="1880.3" y2="181.3" stroke="#3a3a3a" stroke-width="1.3"/>
<line x1="1653.3" y1="193.1" x2="1656.8" y2="193.1" stroke="#3a3a3a" stroke-width="1.3"/>
<line x1="1883.8" y1="193.1" x2="1880.3" y2="193.1" stroke="#3a3a3a" stroke-width="1.3"/>
<line x1="1653.3" y1="204.9" x2="1656.8" y2="204.9" stroke="#3a3a3a" stroke-width="1.3"/>
<line x1="1883.8" y1="204.9" x2="1880.3" y2="204.9" stroke="#3a3a3a" stroke-width="1.3"/>
<line x1="1653.3" y1="216.8" x2="1656.8" y2="216.8" stroke="#3a3a3a" stroke-width="1.3"/>
<line x1="1883.8" y1="216.8" x2="1880.3" y2="216.8" stroke="#3a3a3a" stroke-width="1.3"/>
<line x1="1653.3" y1="228.6" x2="1659.3" y2="228.6" stroke="#3a3a3a" stroke-width="1.3"/>
<line x1="1883.8" y1="228.6" x2="1877.8" y2="228.6" stroke="#3a3a3a" stroke-width="1.3"/>
<line x1="1653.3" y1="240.4" x2="1656.8" y2="240.4" stroke="#3a3a3a" stroke-width="1.3"/>
<line x1="1883.8" y1="240.4" x2="1880.3" y2="240.4" stroke="#3a3a3a" stroke-width="1.3"/>
<line x1="1653.3" y1="252.2" x2="1656.8" y2="252.2" stroke="#3a3a3a" stroke-width="1.3"/>
<line x1="1883.8" y1="252.2" x2="1880.3" y2="252.2" stroke="#3a3a3a" stroke-width="1.3"/>
<line x1="1653.3" y1="264.1" x2="1656.8" y2="264.1" stroke="#3a3a3a" stroke-width="1.3"/>
<line x1="1883.8" y1="264.1" x2="1880.3" y2="264.1" stroke="#3a3a3a" stroke-width="1.3"/>
<rect x="1653.3" y="45.1" width="230.5" height="229.7" fill="none" stroke="#5a5a5a" stroke-width="1.6"/>
<clipPath id="cpd2"><rect x="1657.7" y="48.9" width="222.5" height="222.1"/></clipPath>
<g clip-path="url(#cpd2)">
<rect x="1655.7" y="46.9" width="226.5" height="226.1" fill="#2a5a98"/>
<path d="M1648.7 164.7l0 115.4l240.6-0.1l-0.1-61.3l-38.2-9.5l-29.2-6.3l-84.4-14.9l-33.3-6.7l-26.2-6.8l-29.2-9.8zM1889.2 39.9l-240.5 0l0 60.3l27 8.1l24.7 6.2l85.3 17.4l38.3 9l15.9 4.5l20.7 6.7l28.6 11.5l0-123.7z" fill="#496dbf" fill-rule="evenodd" stroke="#15284f" stroke-width="2.8"/>
<path d="M1653.2 179l-4.5-1.7l0 102.8l240.6-0.1l-0.1-53.9l-27-5.8l-33.7-6.4l-94.4-14.7l-24.2-4.5l-28.2-6.7l-28.5-9zM1889.2 39.9l-240.5 0l0 45.2l24.7 7.6l27 7.2l96 20.8l28 6.7l37.8 11l27 10.1l0-108.6z" fill="#4e6ebe" fill-rule="evenodd" stroke="#17284f" stroke-width="2.8"/>
<path d="M1651 187.4l-2.3-0.8l0 93.5l240.6-0.1l-0.1-48.8l-60.7-10.7l-89.9-12.2l-27-4.6l-30.1-6.7l-15.6-4.5l-14.9-5.1zM1889.2 39.9l-240.5 0l0 31.6l24.7 8.5l24.8 7.3l29.2 7.4l74 17l27.2 6.7l31.9 9l28.7 9.7l0-97.2z" fill="#5a6fb2" fill-rule="evenodd" stroke="#18284e" stroke-width="2.8"/>
<path d="M1648.7 194.1l0 86l240.6-0.1l-0.1-44.8l-51.7-8.3l-94.4-11.5l-29.2-4.4l-15.7-3l-18.5-4.3l-15.9-4.5l-15.1-5.1zM1889.2 39.9l-240.5 0l0 15.8l13.7 6.7l16.4 6.7l32.8 11l31.5 8.7l99.5 25.2l23.5 6.7l23.1 7.4l0-88.2z" fill="#6771a6" fill-rule="evenodd" stroke="#1e2849" stroke-width="2.8"/>
<path d="M1651 201.3l-2.3-0.8l0 79.6l240.6-0.1l-0.1-41.6l-58.4-8.2l-79.6-8.6l-34.2-4.4l-34.6-6.8l-16.9-4.5l-14.5-4.6zM1889.2 39.9l-216.4 0l-0.4 2.3l0.4 2.2l2.7 4.5l8.3 6.7l12.3 6.8l21.7 8.9l38.8 12.4l95.2 25.8l37.4 11l0-80.6z" fill="#767398" fill-rule="evenodd" stroke="#242844" stroke-width="2.4"/>
<path d="M1653.2 207.6l-4.5-1.5l0 74l240.6-0.1l-0.1-38.8l-53.9-7l-84.1-8.1l-35.1-4.2l-33.7-6.3l-29.2-8zM1889.2 39.9l-186.7 0l-0.3 2.3l0.3 2.2l2.3 4.5l7.5 6.7l11.6 6.8l19.2 8.2l18 6.4l22.5 7l105.6 29.9l0-74z" fill="#82748b" fill-rule="evenodd" stroke="#2a293e" stroke-width="2.4"/>
<path d="M1653.2 212.5l-4.5-1.5l0 69l240.6 0l-0.1-36.3l-49.5-5.9l-87.6-7.7l-35.9-4l-33.8-5.9l-29.2-7.7zM1889.2 39.9l-165 0l0 2.3l1.7 4.5l6.1 6.7l10.3 6.7l18.8 8.8l18.5 6.9l24.2 7.9l85.4 24.5l0-68.3z" fill="#8c747d" fill-rule="evenodd" stroke="#312938" stroke-width="2.4"/>
<path d="M1653.2 216.9l-4.5-1.4l0 64.5l240.6 0l-0.1-34.1l-51.7-5.7l-87.7-6.8l-27.9-2.8l-17-2.3l-20.2-3.5l-14.1-3.2l-17.4-4.7zM1889.2 39.9l-147.9 0l0.4 2.3l2.2 4.5l6.7 6.7l10.4 6.7l13.9 6.7l19.9 7.8l22.5 7.6l33.7 10.1l38.2 10.7l0-63.1z" fill="#95736e" fill-rule="evenodd" stroke="#372a32" stroke-width="2.4"/>
<path d="M1655.5 221.5l-6.8-2l0 60.5l240.6 0l-0.1-32.1l-51.7-5.2l-83.2-5.8l-33.7-3.1l-35.9-5.3l-29.2-7zM1889.2 39.9l-133.6 0l1.9 4.5l1.6 2.3l7.1 6.7l10.8 6.7l14 6.7l17.1 6.8l22.7 7.7l29.2 8.8l29.2 8.1l0-58.3z" fill="#9c715c" fill-rule="evenodd" stroke="#3f2e2d" stroke-width="1.8"/>
<path d="M1651 223.9l-2.3-0.7l0 56.8l240.6 0l-0.1-30.2l-51.7-4.9l-85.8-5.3l-31.1-2.7l-18-2.2l-20.2-3.3l-14.4-3l-17-4.5zM1889.2 39.9l-121.3 0l4.2 6.8l7 6.1l9 5.7l13.4 6.7l15.8 6.4l20.2 7.1l24.7 7.7l27 7.5l0-54z" fill="#a3714e" fill-rule="evenodd" stroke="#483328" stroke-width="1.8"/>
<path d="M1653.2 227.9l-4.5-1.3l0 53.4l240.6 0l-0.1-28.5l-49.5-4.3l-89.9-5.1l-31.1-2.5l-34-4.7l-15.8-3.1l-15.7-3.9zM1889.2 39.9l-110.4 0l2.9 4.5l7.1 6.7l10.4 6.8l11.3 5.6l15.8 6.6l17.9 6.4l22.5 7.1l22.5 6.2l0-49.9z" fill="#a97244" fill-rule="evenodd" stroke="#503723" stroke-width="1.8"/>
<path d="M1651 230.4l-2.3-0.6l0 50.2l240.6 0l-0.1-26.9l-47.2-3.9l-92.2-4.7l-31.4-2.3l-20.2-2.3l-16.3-2.6l-15.2-3l-15.7-3.9zM1889.2 39.9l-100.6 0l3.9 5.2l7.1 6l8.7 5.6l11.2 5.7l13.5 5.7l18 6.5l38.2 11.4l0-46.1z" fill="#ae743d" fill-rule="evenodd" stroke="#543922" stroke-width="1.3"/>
<path d="M1648.7 232.8l0 47.2l240.6 0l-0.1-25.5l-53.9-3.9l-85.5-3.8l-31.4-2.2l-20.2-2.2l-18-2.7l-15.8-3.1l-15.7-3.8zM1889.2 39.9l-91.6 0l3.9 4.8l8 6.4l7.8 4.8l11.2 5.7l12.4 5.2l14.6 5.4l33.7 10.1l0-42.4z" fill="#b3773c" fill-rule="evenodd" stroke="#583b21" stroke-width="1.3"/>
<path d="M1655.5 237.3l-6.8-1.8l0 44.5l240.6 0l-0.1-24.1l-51.7-3.5l-85.4-3.3l-31.5-2l-33.7-3.8l-15.7-2.6l-15.7-3.4zM1889.2 39.9l-83.2 0l4 4.5l7.3 5.8l8.9 5.4l9 4.5l24.8 9.8l29.2 9l0-39z" fill="#b7793a" fill-rule="evenodd" stroke="#5c3d20" stroke-width="1.3"/>
<path d="M1653.2 239.3l-4.5-1.2l0 41.9l240.6 0l-0.1-22.8l-49.5-3.2l-87.6-2.9l-31.5-1.8l-35.9-3.9l-15.8-2.7l-15.7-3.4zM1889.2 39.9l-75.5 0l4.4 4.5l5.8 4.5l7.2 4.5l8.7 4.5l22.4 9.2l27 8.5l0-35.7z" fill="#bc7c39" fill-rule="evenodd" stroke="#603f1f" stroke-width="1.3"/>
<path d="M1653.2 241.7l-4.5-1.1l0 39.4l240.6 0l-0.1-21.6l-47.2-2.8l-87.7-2.6l-33.7-1.7l-35.9-3.7l-15.8-2.6l-15.7-3.3zM1889.2 39.9l-68.1 0l4.7 4.5l6.1 4.5l14.6 8l20.2 8.3l22.5 7.2l0-32.5z" fill="#bf7e38" fill-rule="evenodd" stroke="#64411e" stroke-width="1.3"/>
<path d="M1653.2 244l-4.5-1.1l0 37.1l240.5 0l0-20.4l-51.7-2.8l-85.4-2.1l-33.7-1.6l-33.7-3.4l-15.8-2.5l-15.7-3.2zM1889.2 39.9l-61.1 0l9.4 7.6l14.6 8.1l16.9 7l20.2 6.7l0-29.4z" fill="#c2813a" fill-rule="evenodd" stroke="#65421f" stroke-width="1"/>
<path d="M1653.2 246.2l-4.5-1l0 34.8l240.5 0l0-19.3l-49.5-2.5l-87.6-1.8l-31.5-1.3l-35.9-3.4l-31.5-5.5zM1889.2 39.9l-54.5 0l8.7 6.8l12.1 6.7l15.7 6.8l18 6.1l0-26.4z" fill="#c4833a" fill-rule="evenodd" stroke="#67431f" stroke-width="1"/>
<path d="M1653.2 248.3l-4.5-1l0 32.7l240.5 0l0-18.2l-51.7-2.3l-85.4-1.5l-31.5-1.2l-35.9-3.2l-31.5-5.3zM1889.2 39.9l-48 0l9.2 6.8l9.6 5.2l13.5 5.9l15.7 5.5l0-23.4z" fill="#c7863c" fill-rule="evenodd" stroke="#684420" stroke-width="1"/>
<path d="M1655.5 250.8l-6.8-1.5l0 30.7l240.5 0l0-17.2l-49.5-2.1l-85.4-1.1l-33.7-1.1l-35.9-3l-29.2-4.7zM1889.2 39.9l-41.8 0l8.1 5.7l9 5l11.4 5l13.3 4.8l0-20.5z" fill="#c9883c" fill-rule="evenodd" stroke="#6a4521" stroke-width="1"/>
<path d="M1655.5 252.7l-6.8-1.4l0 28.7l240.5 0l0-16.2l-51.7-1.9l-83.2-0.8l-33.7-1l-33.7-2.6l-31.4-4.8zM1889.2 39.9l-35.7 0l6.5 4.5l8.1 4.5l10 4.5l11.1 4.2l0-17.7z" fill="#cc8b3e" fill-rule="evenodd" stroke="#6b4622" stroke-width="1"/>
<path d="M1657.7 254.9l-9-1.8l0 26.9l240.5 0l0-15.2l-51.7-1.8l-83.2-0.5l-31.4-0.8l-33.7-2.4l-31.5-4.4zM1889.2 39.9l-29.8 0l7 4.5l7.1 3.8l15.7 6.5l0-14.8z" fill="#ce8d3f" fill-rule="evenodd" stroke="#6d4722" stroke-width="1"/>
<path d="M1648.7 254.9l0 25.1l240.5 0l0-14.3l-49.5-1.6l-87.6-0.3l-33.7-0.8l-18-1.1l-20.2-1.9l-31.5-5.1zM1889.2 39.9l-23.9 0l10.4 6.1l13.5 5.9l0-12z" fill="#d09042" fill-rule="evenodd" stroke="#6e4823" stroke-width="1"/>
<path d="M1653.2 257.5l-4.5-0.9l0 23.4l240.5 0l0-13.4l-49.5-1.5l-87.6 0l-31.5-0.6l-35.9-2.5l-31.5-4.5zM1889.2 39.9l-18.2 0l7.9 4.5l10.3 4.7l0-9.2z" fill="#d29244" fill-rule="evenodd" stroke="#6f4a24" stroke-width="1"/>
<path d="M1655.5 259.5l-6.8-1.2l0 21.7l240.5 0l0-12.6l-51.7-1.3l-85.4 0.3l-31.5-0.6l-33.7-2.1l-31.4-4.2zM1889.2 39.9l-12.4 0l12.4 6.3l0-6.3z" fill="#d49547" fill-rule="evenodd" stroke="#714b24" stroke-width="1"/>
<path d="M1659.9 261.8l-11.2-1.9l0 20.1l240.5 0l0-11.8l-51.7-1.1l-83.2 0.5l-31.4-0.4l-33.7-1.9l-29.3-3.5zM1889.2 39.9l-6.7 0l6.7 3.4l0-3.4z" fill="#d59749" fill-rule="evenodd" stroke="#724c25" stroke-width="1"/>
<path d="M1651 261.8l-2.3-0.4l0 18.6l240.5 0l0-11l-49.5-1l-87.6 0.8l-31.5-0.4l-35.9-2.1l-18-2l-15.7-2.5zM1889.2 39.9l-0.9 0l0.9 0.5l0-0.5z" fill="#d79a4c" fill-rule="evenodd" stroke="#744d26" stroke-width="1"/>
<path d="M1655.5 264.1l-6.8-1.2l0 17.1l240.5 0l0-10.2l-49.5-0.9l-87.6 1l-31.5-0.3l-33.7-1.7l-31.4-3.8z" fill="#d99c4e" fill-rule="evenodd" stroke="#754e27" stroke-width="1"/>
<path d="M1662.2 266.5l-13.5-2.1l0 15.6l240.5 0l0-9.5l-51.7-0.7l-112.4 1.1l-33.7-1.4l-29.2-3z" fill="#db9f51" fill-rule="evenodd" stroke="#774f27" stroke-width="1"/>
<path d="M1651 266.1l-2.3-0.4l0 14.3l240.5 0l0-8.7l-49.5-0.6l-87.6 1.3l-33.7-0.1l-36-1.8l-31.4-4z" fill="#dca153" fill-rule="evenodd" stroke="#785028" stroke-width="1"/>
<path d="M1657.7 268.5l-9-1.4l0 12.9l240.5 0l0-8l-51.7-0.5l-83.2 1.6l-31.4 0l-36-1.5l-29.2-3.1z" fill="#dea355" fill-rule="evenodd" stroke="#785028" stroke-width="1"/>
<path d="M1648.7 268.4l0 11.6l240.5 0l0-7.3l-49.5-0.4l-87.6 1.8l-33.7 0l-36-1.6l-15.7-1.5l-18-2.6z" fill="#dea557" fill-rule="evenodd" stroke="#785028" stroke-width="1"/>
<path d="M1655.5 270.7l-6.8-1l0 10.3l240.5 0l0-6.6l-49.5-0.3l-87.6 2l-31.5 0.1l-35.9-1.4l-29.2-3.1z" fill="#e0a759" fill-rule="evenodd" stroke="#785028" stroke-width="1"/>
</g>
<clipPath id="dclip2"><rect x="1654.7" y="45.9" width="228.5" height="228.1"/></clipPath>
<path d="M1653.2 231.5C1654 231.3 1647.7 233.2 1657.7 230.6C1667.7 227.9 1693.4 220.8 1713.3 215.5C1733.2 210.2 1755.8 204.1 1777 198.8C1798.1 193.5 1822.9 188.2 1840.2 183.7C1857.4 179.2 1872.8 174 1880.2 171.7C1887.6 169.4 1883.9 170.2 1884.7 169.9" fill="none" stroke="#5b83c9" stroke-width="6.5" clip-path="url(#dclip2)"/>
<text x="1653.4" y="297.5" font-size="20" text-anchor="middle">0.1</text>
<text x="1727.9" y="297.5" font-size="20" text-anchor="middle">0.2</text>
<text x="1802.5" y="297.5" font-size="20" text-anchor="middle">0.3</text>
<text x="1877" y="297.5" font-size="20" text-anchor="middle">0.4</text>
<text x="1647.8" y="58.4" font-size="20" text-anchor="end">2.0</text>
<text x="1647.8" y="117.5" font-size="20" text-anchor="end">1.6</text>
<text x="1647.8" y="176.7" font-size="20" text-anchor="end">1.2</text>
<text x="1647.8" y="235.8" font-size="20" text-anchor="end">0.8</text>
<text x="1762" y="31.2" font-size="24.5" text-anchor="middle">R2N1 MT</text>
<text x="1770" y="321.5" font-size="20.6" text-anchor="middle" xml:space="preserve">Drift bias,  δ</text>
<linearGradient id="cbg12" x1="0" x2="1" y1="0" y2="0"><stop offset="0" stop-color="#3f62b2"/><stop offset="0.12" stop-color="#4a66ae"/><stop offset="0.25" stop-color="#6c7098"/><stop offset="0.37" stop-color="#8e7a7c"/><stop offset="0.48" stop-color="#b48860"/><stop offset="0.56" stop-color="#e49a44"/><stop offset="0.65" stop-color="#eeaa50"/><stop offset="0.78" stop-color="#f4c274"/><stop offset="0.88" stop-color="#fcd48e"/><stop offset="1" stop-color="#fff6cc"/></linearGradient>
<linearGradient id="cbg12b" x1="0" x2="1" y1="0" y2="0"><stop offset="0" stop-color="#1c2c50"/><stop offset="0.5" stop-color="#7a6040"/><stop offset="1" stop-color="#b0a080"/></linearGradient>
<rect x="1786.5" y="335" width="68.8" height="12" fill="url(#cbg12)" stroke="url(#cbg12b)" stroke-width="1.6"/>
<text x="1786.5" y="367" font-size="20" text-anchor="middle">0.23</text>
<text x="1855.3" y="367" font-size="20" text-anchor="middle">0.82</text>
<text x="994" y="148.8" font-size="20.6" text-anchor="middle" transform="rotate(-90 994 148.8)">Loss/replacement rate</text>
<text x="1019" y="149.4" font-size="20.6" text-anchor="middle" transform="rotate(-90 1019 149.4)">λ (per week)</text>
<defs>
<radialGradient id="cryptg" cx="0.5" cy="0.5" r="0.5"><stop offset="0" stop-color="#101038"/><stop offset="0.38" stop-color="#181c70"/><stop offset="0.56" stop-color="#2630d8"/><stop offset="0.66" stop-color="#2c34f2"/><stop offset="0.95" stop-color="#2e36f6"/><stop offset="1" stop-color="#1e24c0"/></radialGradient>
<radialGradient id="cryptr" cx="0.5" cy="0.5" r="0.5"><stop offset="0" stop-color="#201030"/><stop offset="0.35" stop-color="#4a1c6a"/><stop offset="0.55" stop-color="#3a2ad0"/><stop offset="0.66" stop-color="#2c34f2"/><stop offset="0.95" stop-color="#2c34f4"/><stop offset="1" stop-color="#1a20b0"/></radialGradient>
<pattern id="nucp" width="10" height="9" patternUnits="userSpaceOnUse"><circle cx="3" cy="3" r="3.4" fill="none" stroke="#0a0c60" stroke-width="0.9" opacity="0.45"/><circle cx="8" cy="7.5" r="3" fill="none" stroke="#0a0c60" stroke-width="0.9" opacity="0.4"/><circle cx="3" cy="3" r="1.5" fill="#5a60ff" opacity="0.35"/></pattern>
<filter id="speck" x="0" y="0" width="1" height="1"><feTurbulence type="fractalNoise" baseFrequency="0.45" numOctaves="2" seed="4" result="n"/><feColorMatrix in="n" type="matrix" values="0 0 0 0 0  0 0 0 0 0  0 0 0 0 0  0 0 0 -2.2 1.25" result="m"/><feComposite in="m" in2="SourceGraphic" operator="in" result="d"/><feMerge><feMergeNode in="SourceGraphic"/><feMergeNode in="d"/></feMerge></filter>
</defs>
<clipPath id="mc0"><rect x="375.9" y="1353.2" width="230.8" height="230.8"/></clipPath>
<g clip-path="url(#mc0)">
<rect x="375.9" y="1353.2" width="230.8" height="230.8" fill="#03030a"/>
<ellipse cx="420.9" cy="1388.2" rx="70" ry="45" fill="#1c1c70" opacity="0.8"/>
<ellipse cx="565.9" cy="1413.2" rx="55" ry="70" fill="#15155a" opacity="0.7"/>
<ellipse cx="435.9" cy="1483.2" rx="70" ry="30" fill="#1c1c3c" opacity="0.8"/>
<ellipse cx="495.9" cy="1548.2" rx="130" ry="40" fill="#14144e" opacity="0.8"/>
<path d="M442.8 1387.7a6.4 5.3 5 1 0 12.7 1.2a6.4 5.3 5 1 0-12.7-1.2zM379.4 1384.2a5 4.3 61 1 0 4.7 8.8a5 4.3 61 1 0-4.7-8.8zM433.5 1345.9a4.7 4.7 153 1 0-8.5 4.2a4.7 4.7 153 1 0 8.5-4.2zM465.8 1398.7a6.4 5.7 25 1 0 11.6 5.6a6.4 5.7 25 1 0-11.6-5.6zM431.9 1387.7a6.5 4.2 79 1 0 2.4 12.8a6.5 4.2 79 1 0-2.4-12.8zM381.5 1385.1a6.4 4.8 6 1 0 12.8 1.4a6.4 4.8 6 1 0-12.8-1.4zM388 1360.8a4.4 5.1 67 1 0 3.3 8a4.4 5.1 67 1 0-3.3-8zM403.9 1350.2a6.5 4.4 178 1 0-12.9 0.3a6.5 4.4 178 1 0 12.9-0.3zM403.3 1361.2a5.9 4.4 103 1 0-2.7 11.4a5.9 4.4 103 1 0 2.7-11.4zM451.5 1394.4a5.1 4.4 88 1 0 0.3 10.2a5.1 4.4 88 1 0-0.3-10.2zM423.2 1372.4a4.3 4.4 113 1 0-3.5 8a4.3 4.4 113 1 0 3.5-8zM428.3 1391.7a5.6 4.3 42 1 0 8.2 7.5a5.6 4.3 42 1 0-8.2-7.5zM430.7 1351.2a4.1 5.2 41 1 0 6.1 5.4a4.1 5.2 41 1 0-6.1-5.4zM374.5 1371.7a6.2 5.8 20 1 0 11.6 4.4a6.2 5.8 20 1 0-11.6-4.4zM407.5 1359.5a6.1 4.4 64 1 0 5.3 10.9a6.1 4.4 64 1 0-5.3-10.9zM477.3 1382.5a4.9 3.8 108 1 0-3.2 9.3a4.9 3.8 108 1 0 3.2-9.3zM434.5 1387.2a5.7 5 68 1 0 4.1 10.6a5.7 5 68 1 0-4.1-10.6zM376.2 1334.7a6.4 3.8 37 1 0 10.2 7.7a6.4 3.8 37 1 0-10.2-7.7zM485.3 1400a6.1 5.3 101 1 0-2.4 12a6.1 5.3 101 1 0 2.4-12zM564.8 1404.9a4.5 5.6 172 1 0-8.8 1.2a4.5 5.6 172 1 0 8.8-1.2zM538.8 1401.5a5.9 4.3 83 1 0 1.3 11.8a5.9 4.3 83 1 0-1.3-11.8zM535.2 1369.4a4.6 4.4 42 1 0 6.7 6.3a4.6 4.4 42 1 0-6.7-6.3zM580.1 1450.3a6.3 5.5 24 1 0 11.4 5.3a6.3 5.5 24 1 0-11.4-5.3zM521.5 1379.8a4 3.9 88 1 0 0.1 8a4 3.9 88 1 0-0.1-8zM595.8 1435.9a4.3 5.2 79 1 0 1.5 8.4a4.3 5.2 79 1 0-1.5-8.4zM566 1433a5.8 5.2 16 1 0 11 3.3a5.8 5.2 16 1 0-11-3.3zM593.9 1461a5.1 4.9 96 1 0-1.2 10.1a5.1 4.9 96 1 0 1.2-10.1zM537.7 1348.4a5.2 4.7 114 1 0-4.3 9.4a5.2 4.7 114 1 0 4.3-9.4zM569.5 1404.6a5.6 5.2 129 1 0-7.1 8.6a5.6 5.2 129 1 0 7.1-8.6zM564 1428a4.1 4.4 75 1 0 2.1 8a4.1 4.4 75 1 0-2.1-8zM570.3 1397a5 4.4 121 1 0-5.3 8.6a5 4.4 121 1 0 5.3-8.6zM516.6 1388.7a4.4 4.1 42 1 0 6.5 6a4.4 4.1 42 1 0-6.5-6zM524 1366.8a6.3 4.5 55 1 0 7.2 10.4a6.3 4.5 55 1 0-7.2-10.4zM518.7 1372a6 4.8 13 1 0 11.7 2.8a6 4.8 13 1 0-11.7-2.8zM590.9 1463.4a5.2 5 128 1 0-6.5 8a5.2 5 128 1 0 6.5-8zM604.4 1447.3a4.3 4.8 87 1 0 0.4 8.5a4.3 4.8 87 1 0-0.4-8.5zM596.2 1480.8a5.7 4 160 1 0-10.7 3.8a5.7 4 160 1 0 10.7-3.8zM541.5 1391.3a5.4 5.7 43 1 0 7.8 7.5a5.4 5.7 43 1 0-7.8-7.5zM596.3 1452.3a6.2 4.9 91 1 0-0.3 12.4a6.2 4.9 91 1 0 0.3-12.4zM380.6 1464.7a4.8 5.2 101 1 0-1.9 9.5a4.8 5.2 101 1 0 1.9-9.5zM417.5 1457.4a6.1 4.4 29 1 0 10.6 6a6.1 4.4 29 1 0-10.6-6zM400.8 1465.5a6.1 5.5 116 1 0-5.4 11a6.1 5.5 116 1 0 5.4-11zM544.8 1521.9a5.9 5.7 107 1 0-3.6 11.3a5.9 5.7 107 1 0 3.6-11.3zM407.8 1554.9a5.1 5.3 167 1 0-10 2.2a5.1 5.3 167 1 0 10-2.2zM513.9 1509.8a5.6 4.5 155 1 0-10.2 4.6a5.6 4.5 155 1 0 10.2-4.6zM563.5 1527.1a4.6 3.9 77 1 0 2 8.9a4.6 3.9 77 1 0-2-8.9zM441.7 1543.4a4.1 5.4 34 1 0 6.7 4.6a4.1 5.4 34 1 0-6.7-4.6zM415.8 1528.1a5.5 4.8 71 1 0 3.5 10.5a5.5 4.8 71 1 0-3.5-10.5zM497.9 1539.2a4.2 4 18 1 0 7.9 2.7a4.2 4 18 1 0-7.9-2.7zM521 1518.5a4.6 5.5 141 1 0-7.3 5.7a4.6 5.5 141 1 0 7.3-5.7zM578.5 1542.9a6.1 4.6 66 1 0 4.9 11.2a6.1 4.6 66 1 0-4.9-11.2zM587.3 1532.6a5.4 4.4 123 1 0-6 9.1a5.4 4.4 123 1 0 6-9.1zM514.8 1557.3a5.2 4.8 14 1 0 10 2.5a5.2 4.8 14 1 0-10-2.5zM593.5 1499a4.8 5.5 179 1 0-9.7 0.1a4.8 5.5 179 1 0 9.7-0.1zM503.4 1512.6a4.3 5.1 148 1 0-7.4 4.6a4.3 5.1 148 1 0 7.4-4.6zM496.9 1536.3a6 5.2 54 1 0 7.1 9.8a6 5.2 54 1 0-7.1-9.8zM434.5 1555.1a6 5.8 147 1 0-10.1 6.3a6 5.8 147 1 0 10.1-6.3zM453 1536a5.6 5.4 95 1 0-1.1 11.2a5.6 5.4 95 1 0 1.1-11.2zM473.6 1546a4.5 4.7 61 1 0 4.2 7.9a4.5 4.7 61 1 0-4.2-7.9zM474.1 1509.2a5.3 3.9 116 1 0-4.7 9.4a5.3 3.9 116 1 0 4.7-9.4zM423 1554.8a4.6 4.7 110 1 0-3.3 8.7a4.6 4.7 110 1 0 3.3-8.7zM600.9 1524.2a5.1 5.2 176 1 0-10.3 0.7a5.1 5.2 176 1 0 10.3-0.7zM467.7 1540.1a5.6 5.4 104 1 0-2.8 10.9a5.6 5.4 104 1 0 2.8-10.9zM471.8 1363.4a4.6 5.8 139 1 0-6.9 6a4.6 5.8 139 1 0 6.9-6zM500.6 1369a5.8 4 47 1 0 7.9 8.6a5.8 4 47 1 0-7.9-8.6z" fill="#1416a0"/>
<path d="M435.2 1393.9a6.3 4 156 1 0-11.5 5a6.3 4 156 1 0 11.5-5zM471.1 1406.3a4.9 4.8 19 1 0 9.2 3.3a4.9 4.8 19 1 0-9.2-3.3zM400.2 1344.6a4.4 5.2 29 1 0 7.6 4.2a4.4 5.2 29 1 0-7.6-4.2zM394.5 1367.9a6.4 5.1 60 1 0 6.4 11.2a6.4 5.1 60 1 0-6.4-11.2zM395.6 1390.8a4.3 5.6 19 1 0 8.2 2.8a4.3 5.6 19 1 0-8.2-2.8zM485.1 1355.3a5.3 4.2 156 1 0-9.8 4.3a5.3 4.2 156 1 0 9.8-4.3zM437.7 1339.8a4.6 5.1 51 1 0 5.7 7.3a4.6 5.1 51 1 0-5.7-7.3zM426.5 1377a4.7 4.5 63 1 0 4.3 8.3a4.7 4.5 63 1 0-4.3-8.3zM457.6 1352.3a5.5 5.1 54 1 0 6.3 8.9a5.5 5.1 54 1 0-6.3-8.9zM456 1357.2a5.6 3.9 176 1 0-11.1 0.7a5.6 3.9 176 1 0 11.1-0.7zM394.8 1351.7a5.4 4.3 140 1 0-8.4 6.8a5.4 4.3 140 1 0 8.4-6.8zM403.1 1379.5a6.1 5.2 104 1 0-3.1 11.8a6.1 5.2 104 1 0 3.1-11.8zM448.6 1372.4a4.4 5.2 175 1 0-8.8 0.8a4.4 5.2 175 1 0 8.8-0.8zM458.8 1383.1a5.8 5.8 126 1 0-6.9 9.4a5.8 5.8 126 1 0 6.9-9.4zM479.2 1361.6a6 5.5 132 1 0-8.2 8.9a6 5.5 132 1 0 8.2-8.9zM410.1 1346a5.5 4.5 68 1 0 4.1 10.3a5.5 4.5 68 1 0-4.1-10.3zM403.9 1356.9a5.7 4.5 84 1 0 1.1 11.3a5.7 4.5 84 1 0-1.1-11.3zM390 1349.8a4.9 4.4 65 1 0 4.1 8.9a4.9 4.4 65 1 0-4.1-8.9zM385.7 1358.9a5.8 4.7 143 1 0-9.2 6.9a5.8 4.7 143 1 0 9.2-6.9zM390.4 1349.4a5.2 4.7 8 1 0 10.2 1.6a5.2 4.7 8 1 0-10.2-1.6zM432.1 1338.6a4.1 5 126 1 0-4.9 6.5a4.1 5 126 1 0 4.9-6.5zM468.8 1358.9a6 5.3 122 1 0-6.5 10.1a6 5.3 122 1 0 6.5-10.1zM421.4 1341.2a4.9 5.4 70 1 0 3.2 9.2a4.9 5.4 70 1 0-3.2-9.2zM575.3 1463.5a5.7 5.5 151 1 0-10.1 5.5a5.7 5.5 151 1 0 10.1-5.5zM528.1 1392.2a4.3 3.8 173 1 0-8.6 1a4.3 3.8 173 1 0 8.6-1zM604 1493.8a4.9 4.1 115 1 0-4.2 8.8a4.9 4.1 115 1 0 4.2-8.8zM571.9 1410.1a5.9 4.6 164 1 0-11.4 3.1a5.9 4.6 164 1 0 11.4-3.1zM597.7 1504.9a5.1 4.3 65 1 0 4.2 9.2a5.1 4.3 65 1 0-4.2-9.2zM606.3 1466.2a5.8 5.7 177 1 0-11.6 0.4a5.8 5.7 177 1 0 11.6-0.4zM567 1410.9a6 4.5 24 1 0 11 5.1a6 4.5 24 1 0-11-5.1zM528.3 1397.3a4.9 5.4 141 1 0-7.5 6.1a4.9 5.4 141 1 0 7.5-6.1zM529.5 1391.6a5.5 5.1 157 1 0-10.1 4.2a5.5 5.1 157 1 0 10.1-4.2zM573.6 1428.8a6.2 4.1 0 1 0 12.4 0.1a6.2 4.1 0 1 0-12.4-0.1zM559.7 1437.2a5.3 4.1 100 1 0-2 10.5a5.3 4.1 100 1 0 2-10.5zM585.1 1474.6a4.2 4.8 38 1 0 6.6 5.3a4.2 4.8 38 1 0-6.6-5.3zM597.6 1467.7a5.6 5 168 1 0-11 2.3a5.6 5 168 1 0 11-2.3zM525.7 1348a4.1 5.4 108 1 0-2.6 7.8a4.1 5.4 108 1 0 2.6-7.8zM473.9 1438.8a4.7 4.4 118 1 0-4.5 8.4a4.7 4.4 118 1 0 4.5-8.4zM440.8 1457.1a5.5 4.4 63 1 0 4.9 9.8a5.5 4.4 63 1 0-4.9-9.8zM459 1548.3a5 5.8 120 1 0-5 8.6a5 5.8 120 1 0 5-8.6zM420.4 1549.2a5.3 4.2 110 1 0-3.8 9.8a5.3 4.2 110 1 0 3.8-9.8zM509.1 1542.9a4.7 5.8 88 1 0 0.2 9.4a4.7 5.8 88 1 0-0.2-9.4zM503.2 1540.2a5.2 5.7 113 1 0-4.1 9.5a5.2 5.7 113 1 0 4.1-9.5zM534.7 1527.3a6.1 4.1 125 1 0-7.2 10a6.1 4.1 125 1 0 7.2-10zM525.9 1505.8a4.1 5.3 79 1 0 1.5 8.1a4.1 5.3 79 1 0-1.5-8.1zM481.2 1556.4a5 4.2 0 1 0 10.1 0a5 4.2 0 1 0-10.1 0zM416.9 1529.2a5.1 5.1 0 1 0 10.2 0.1a5.1 5.1 0 1 0-10.2-0.1zM522.6 1526.3a4.5 5.1 93 1 0-0.6 8.9a4.5 5.1 93 1 0 0.6-8.9zM404.6 1528a5.2 3.9 58 1 0 5.5 8.8a5.2 3.9 58 1 0-5.5-8.8zM500.2 1532.2a5.2 5.7 177 1 0-10.4 0.5a5.2 5.7 177 1 0 10.4-0.5zM477.5 1542a4.1 4.4 84 1 0 0.7 8.1a4.1 4.4 84 1 0-0.7-8.1zM458.9 1542.5a4.9 4.1 6 1 0 9.7 1.1a4.9 4.1 6 1 0-9.7-1.1zM497.6 1511.2a5.7 5 90 1 0-0.1 11.3a5.7 5 90 1 0 0.1-11.3zM557.5 1518a5.5 4.7 88 1 0 0.3 10.9a5.5 4.7 88 1 0-0.3-10.9zM556.6 1515.2a5.9 5.2 21 1 0 10.9 4.3a5.9 5.2 21 1 0-10.9-4.3zM495.7 1553.3a5.3 4.3 154 1 0-9.6 4.7a5.3 4.3 154 1 0 9.6-4.7zM528.5 1517.4a5.9 5.2 57 1 0 6.3 10a5.9 5.2 57 1 0-6.3-10zM449.6 1553.4a6.3 4.3 140 1 0-9.7 8.1a6.3 4.3 140 1 0 9.7-8.1zM549.9 1547a6.1 4.2 179 1 0-12.1 0.1a6.1 4.2 179 1 0 12.1-0.1zM542.5 1510.9a4.9 4.6 78 1 0 2 9.7a4.9 4.6 78 1 0-2-9.7zM527.4 1507.4a5.8 4.2 88 1 0 0.3 11.5a5.8 4.2 88 1 0-0.3-11.5zM560.3 1541.1a5.1 4.8 153 1 0-9 4.6a5.1 4.8 153 1 0 9-4.6zM424.7 1512a5.5 5.4 44 1 0 7.8 7.8a5.5 5.4 44 1 0-7.8-7.8zM416.4 1534.5a6.4 5.1 98 1 0-1.8 12.6a6.4 5.1 98 1 0 1.8-12.6zM441.6 1559.2a4.6 4.4 177 1 0-9.2 0.3a4.6 4.4 177 1 0 9.2-0.3zM497 1525.7a4.4 5.7 14 1 0 8.6 2.2a4.4 5.7 14 1 0-8.6-2.2zM374.2 1543a4.1 5 81 1 0 1.2 8.1a4.1 5 81 1 0-1.2-8.1zM531.9 1529.2a6.2 5.1 37 1 0 9.8 7.6a6.2 5.1 37 1 0-9.8-7.6zM495.5 1530.4a6 5.4 59 1 0 6.1 10.3a6 5.4 59 1 0-6.1-10.3zM469.8 1370.6a5.5 3.9 71 1 0 3.4 10.5a5.5 3.9 71 1 0-3.4-10.5zM459.7 1366.3a5.1 4.9 19 1 0 9.7 3.4a5.1 4.9 19 1 0-9.7-3.4z" fill="#2228e8"/>
<path d="M419.4 1342.3a5.8 4.6 164 1 0-11.3 3a5.8 4.6 164 1 0 11.3-3zM460.9 1355.2a4.3 5 23 1 0 8 3.5a4.3 5 23 1 0-8-3.5zM483.3 1347.8a6.4 4.1 52 1 0 7.9 10.1a6.4 4.1 52 1 0-7.9-10.1zM466 1371.2a5.6 4.5 28 1 0 9.9 5.3a5.6 4.5 28 1 0-9.9-5.3zM422 1346.4a6.4 4.6 107 1 0-3.8 12.3a6.4 4.6 107 1 0 3.8-12.3zM435.3 1387.9a6.2 3.8 54 1 0 7.3 10.1a6.2 3.8 54 1 0-7.3-10.1zM479.9 1394.5a4.5 4.2 12 1 0 8.7 1.9a4.5 4.2 12 1 0-8.7-1.9zM475 1383a5.2 4 117 1 0-4.8 9.2a5.2 4 117 1 0 4.8-9.2zM388.6 1388.4a5.9 4.2 169 1 0-11.7 2.2a5.9 4.2 169 1 0 11.7-2.2zM478.1 1362.2a5.6 4.2 15 1 0 10.8 2.9a5.6 4.2 15 1 0-10.8-2.9zM415.2 1335.2a6 4.4 96 1 0-1.4 12a6 4.4 96 1 0 1.4-12zM465.8 1366.3a4 4.4 103 1 0-1.9 7.8a4 4.4 103 1 0 1.9-7.8zM385.4 1375.7a4.8 4.4 47 1 0 6.5 7.1a4.8 4.4 47 1 0-6.5-7.1zM423 1357.6a4 5 130 1 0-5.3 6.1a4 5 130 1 0 5.3-6.1zM453.3 1351.7a5.2 3.8 146 1 0-8.7 5.8a5.2 3.8 146 1 0 8.7-5.8zM423.6 1341.9a5.2 3.9 71 1 0 3.3 9.9a5.2 3.9 71 1 0-3.3-9.9zM385.8 1346.9a6 4 13 1 0 11.6 2.9a6 4 13 1 0-11.6-2.9zM521.8 1397.1a5.3 3.9 153 1 0-9.4 4.8a5.3 3.9 153 1 0 9.4-4.8zM564.2 1462.5a4.3 3.9 58 1 0 4.5 7.2a4.3 3.9 58 1 0-4.5-7.2zM555.3 1423.8a6.1 5.5 16 1 0 11.7 3.5a6.1 5.5 16 1 0-11.7-3.5zM577.1 1457.7a4.2 5.7 175 1 0-8.4 0.7a4.2 5.7 175 1 0 8.4-0.7zM552.9 1432.5a6.2 4.1 75 1 0 3 12.1a6.2 4.1 75 1 0-3-12.1zM540.3 1360.2a6.3 3.9 146 1 0-10.5 7.1a6.3 3.9 146 1 0 10.5-7.1zM593.3 1470.3a6.2 5.7 47 1 0 8.4 9.1a6.2 5.7 47 1 0-8.4-9.1zM596.4 1454.2a5.2 4.1 169 1 0-10.2 1.8a5.2 4.1 169 1 0 10.2-1.8zM562.5 1399.7a6.4 4.7 158 1 0-12 4.7a6.4 4.7 158 1 0 12-4.7zM525.9 1359.1a5.8 4 24 1 0 10.6 4.7a5.8 4 24 1 0-10.6-4.7zM534.8 1355.5a5.5 5.5 144 1 0-9 6.5a5.5 5.5 144 1 0 9-6.5zM592.9 1468.7a5.1 4.7 137 1 0-7.5 6.8a5.1 4.7 137 1 0 7.5-6.8zM591.8 1471.7a6.2 5.8 174 1 0-12.4 1.2a6.2 5.8 174 1 0 12.4-1.2zM518.3 1378.9a4.2 4.5 57 1 0 4.5 7.1a4.2 4.5 57 1 0-4.5-7.1zM391.4 1464.6a6.3 4.4 172 1 0-12.5 1.7a6.3 4.4 172 1 0 12.5-1.7zM441.4 1444.9a4.8 4.3 68 1 0 3.4 8.9a4.8 4.3 68 1 0-3.4-8.9zM459.9 1445.7a4.3 5.3 21 1 0 8.1 3.2a4.3 5.3 21 1 0-8.1-3.2zM448.6 1549.3a4 5.8 34 1 0 6.6 4.5a4 5.8 34 1 0-6.6-4.5zM496.1 1534.4a6.3 4.3 153 1 0-11.2 5.6a6.3 4.3 153 1 0 11.2-5.6zM474.3 1540a4.1 4.1 76 1 0 1.9 8a4.1 4.1 76 1 0-1.9-8zM433.9 1557.7a5.6 4.9 80 1 0 1.9 11.1a5.6 4.9 80 1 0-1.9-11.1zM467.2 1522.5a5.9 4.5 152 1 0-10.4 5.3a5.9 4.5 152 1 0 10.4-5.3zM467.1 1525.9a5.1 5.5 107 1 0-3 9.6a5.1 5.5 107 1 0 3-9.6zM548 1550.2a6.2 4 163 1 0-11.9 3.5a6.2 4 163 1 0 11.9-3.5zM478.6 1530.8a5.7 4 66 1 0 4.5 10.4a5.7 4 66 1 0-4.5-10.4zM463.9 1534.2a4.8 4.3 74 1 0 2.6 9.2a4.8 4.3 74 1 0-2.6-9.2zM453.8 1507.9a6.4 4 109 1 0-4.2 12.1a6.4 4 109 1 0 4.2-12.1zM464.8 1513.8a4.2 5.5 13 1 0 8.1 1.9a4.2 5.5 13 1 0-8.1-1.9zM471.4 1545.9a6.2 4.4 106 1 0-3.5 11.9a6.2 4.4 106 1 0 3.5-11.9zM490.7 1528.8a4.2 5.5 104 1 0-2.1 8.1a4.2 5.5 104 1 0 2.1-8.1zM433.5 1564.2a5.5 4.3 176 1 0-10.9 0.7a5.5 4.3 176 1 0 10.9-0.7zM579.7 1521.7a4 5.3 25 1 0 7.3 3.5a4 5.3 25 1 0-7.3-3.5zM583.2 1507.9a4.3 4.4 65 1 0 3.6 7.7a4.3 4.4 65 1 0-3.6-7.7zM572 1548.2a4.5 4.7 88 1 0 0.3 8.9a4.5 4.7 88 1 0-0.3-8.9zM553.9 1529.9a4.5 5 90 1 0-0.1 9.1a4.5 5 90 1 0 0.1-9.1zM431.1 1514.7a6.1 4.6 50 1 0 7.8 9.3a6.1 4.6 50 1 0-7.8-9.3zM469.5 1516.5a6.4 3.9 31 1 0 10.9 6.6a6.4 3.9 31 1 0-10.9-6.6zM498.7 1542.9a6.1 5.7 113 1 0-4.9 11.2a6.1 5.7 113 1 0 4.9-11.2zM548.2 1501.7a4.7 5.5 41 1 0 6.9 6.2a4.7 5.5 41 1 0-6.9-6.2zM560.7 1519.8a6 5 165 1 0-11.6 3a6 5 165 1 0 11.6-3zM398.2 1522.6a5.3 5.3 26 1 0 9.5 4.7a5.3 5.3 26 1 0-9.5-4.7zM573.5 1549.7a4.5 4.7 43 1 0 6.5 6.2a4.5 4.7 43 1 0-6.5-6.2zM447.4 1536.7a5.3 4.7 5 1 0 10.6 1.1a5.3 4.7 5 1 0-10.6-1.1zM414.1 1536.1a4.5 5.7 35 1 0 7.4 5.2a4.5 5.7 35 1 0-7.4-5.2zM454.8 1515.4a4.9 4 127 1 0-6 7.7a4.9 4 127 1 0 6-7.7zM600.6 1520.9a5.8 5.3 172 1 0-11.5 1.5a5.8 5.3 172 1 0 11.5-1.5zM552.6 1525.6a4.8 4 98 1 0-1.4 9.5a4.8 4 98 1 0 1.4-9.5zM452.4 1530.5a4.2 4.7 90 1 0-0.1 8.4a4.2 4.7 90 1 0 0.1-8.4zM605.9 1530a6 4.8 137 1 0-8.9 8.2a6 4.8 137 1 0 8.9-8.2zM519.8 1509.7a5.2 3.8 50 1 0 6.7 8a5.2 3.8 50 1 0-6.7-8zM415 1515.9a4.5 4.4 84 1 0 0.9 8.9a4.5 4.4 84 1 0-0.9-8.9zM492.7 1361.6a6.1 5.4 17 1 0 11.6 3.7a6.1 5.4 17 1 0-11.6-3.7zM463.3 1368a5.1 4.5 123 1 0-5.6 8.5a5.1 4.5 123 1 0 5.6-8.5z" fill="#2a30ff"/>
<path d="M480.8 1382a4.5 5.7 35 1 0 7.4 5.2a4.5 5.7 35 1 0-7.4-5.2zM466.7 1384.2a5.9 4.5 120 1 0-6 10.2a5.9 4.5 120 1 0 6-10.2zM408.9 1366.4a4.3 4 0 1 0 8.7 0a4.3 4 0 1 0-8.7 0zM445.4 1342a5.1 5 171 1 0-10 1.5a5.1 5 171 1 0 10-1.5zM448.5 1392.9a5.2 5.2 35 1 0 8.5 6a5.2 5.2 35 1 0-8.5-6zM382.1 1378.1a5.6 5.7 161 1 0-10.6 3.6a5.6 5.7 161 1 0 10.6-3.6zM375.5 1369.8a4.4 5.7 142 1 0-7 5.3a4.4 5.7 142 1 0 7-5.3zM466.9 1347.1a5.2 4.2 112 1 0-4 9.7a5.2 4.2 112 1 0 4-9.7zM378.5 1325.8a6.1 4.1 58 1 0 6.4 10.4a6.1 4.1 58 1 0-6.4-10.4zM453.4 1366.3a4 3.9 73 1 0 2.2 7.7a4 3.9 73 1 0-2.2-7.7zM390.3 1381.5a5.2 5.2 9 1 0 10.2 1.6a5.2 5.2 9 1 0-10.2-1.6zM406.2 1338.6a6.3 5 38 1 0 9.9 7.9a6.3 5 38 1 0-9.9-7.9zM372.6 1358.8a5.4 4.6 23 1 0 9.9 4.4a5.4 4.6 23 1 0-9.9-4.4zM425.6 1382a6.4 5.3 76 1 0 2.9 12.4a6.4 5.3 76 1 0-2.9-12.4zM427.8 1376a6.5 5.4 100 1 0-2.3 12.7a6.5 5.4 100 1 0 2.3-12.7zM410.3 1331.7a5.5 5.5 74 1 0 3 10.6a5.5 5.5 74 1 0-3-10.6zM373 1346.4a5.6 5.6 110 1 0-3.9 10.6a5.6 5.6 110 1 0 3.9-10.6zM561 1391.9a5.4 5.1 158 1 0-10.1 4a5.4 5.1 158 1 0 10.1-4zM563.1 1411.9a5.5 5.1 59 1 0 5.6 9.4a5.5 5.1 59 1 0-5.6-9.4zM549.1 1410a4.7 5.7 84 1 0 0.9 9.4a4.7 5.7 84 1 0-0.9-9.4zM524.6 1340.8a5.3 5.5 116 1 0-4.6 9.4a5.3 5.5 116 1 0 4.6-9.4zM518.3 1366a5.9 4 68 1 0 4.3 11a5.9 4 68 1 0-4.3-11zM547 1376.8a4.2 4.7 38 1 0 6.6 5.2a4.2 4.7 38 1 0-6.6-5.2zM593 1434.4a5.6 4.6 142 1 0-8.8 6.8a5.6 4.6 142 1 0 8.8-6.8zM542.8 1403.4a4.4 5.8 76 1 0 2 8.5a4.4 5.8 76 1 0-2-8.5zM567.3 1442.5a4.3 4.8 90 1 0-0.1 8.7a4.3 4.8 90 1 0 0.1-8.7zM527.2 1356.8a6.2 4.3 127 1 0-7.6 9.9a6.2 4.3 127 1 0 7.6-9.9zM524.1 1389a4.3 4 51 1 0 5.4 6.7a4.3 4 51 1 0-5.4-6.7zM534.8 1385.3a4.2 3.9 60 1 0 4.2 7.4a4.2 3.9 60 1 0-4.2-7.4zM519.8 1386.4a5.3 4 97 1 0-1.4 10.6a5.3 4 97 1 0 1.4-10.6zM608.1 1454.6a4.5 4.2 95 1 0-0.8 8.9a4.5 4.2 95 1 0 0.8-8.9zM542.9 1369a5.1 4.6 108 1 0-3.3 9.7a5.1 4.6 108 1 0 3.3-9.7zM542.1 1441a5.6 5.3 5 1 0 11.2 1.2a5.6 5.3 5 1 0-11.2-1.2zM588.2 1439.3a5.9 4.7 130 1 0-7.7 8.9a5.9 4.7 130 1 0 7.7-8.9zM601.8 1486.7a5.6 5.1 132 1 0-7.6 8.4a5.6 5.1 132 1 0 7.6-8.4zM567.9 1419.3a5.8 5.7 1 1 0 11.5 0.2a5.8 5.7 1 1 0-11.5-0.2zM394.1 1466.4a6.3 4.5 169 1 0-12.4 2.4a6.3 4.5 169 1 0 12.4-2.4zM436.2 1460.9a4.3 5.3 97 1 0-1.1 8.6a4.3 5.3 97 1 0 1.1-8.6zM397.5 1460.3a4.3 4.2 56 1 0 4.8 7.1a4.3 4.2 56 1 0-4.8-7.1zM412 1457.8a4.2 4.2 173 1 0-8.3 1a4.2 4.2 173 1 0 8.3-1zM484.1 1446.9a4.6 3.9 131 1 0-6.1 6.8a4.6 3.9 131 1 0 6.1-6.8zM413 1458.5a5.5 4.7 1 1 0 10.9 0.3a5.5 4.7 1 1 0-10.9-0.3zM452.7 1452.4a5.2 5.5 55 1 0 6 8.6a5.2 5.5 55 1 0-6-8.6zM417 1460.8a6 5.1 133 1 0-8.3 8.7a6 5.1 133 1 0 8.3-8.7zM530.2 1538.9a5.8 5.2 166 1 0-11.2 2.7a5.8 5.2 166 1 0 11.2-2.7zM411 1512.6a6 4.7 93 1 0-0.7 11.9a6 4.7 93 1 0 0.7-11.9zM550.2 1517.8a4.4 4.8 160 1 0-8.3 2.9a4.4 4.8 160 1 0 8.3-2.9zM581.3 1511.1a6 4.3 11 1 0 11.8 2.5a6 4.3 11 1 0-11.8-2.5zM603.2 1498.1a4.6 4.9 48 1 0 6.2 6.9a4.6 4.9 48 1 0-6.2-6.9zM451.5 1533.5a4 4.8 170 1 0-7.9 1.3a4 4.8 170 1 0 7.9-1.3zM522.8 1512.6a5.8 4.8 12 1 0 11.3 2.4a5.8 4.8 12 1 0-11.3-2.4zM486.5 1506.8a5.2 4.5 108 1 0-3.3 9.9a5.2 4.5 108 1 0 3.3-9.9zM488.4 1541a5 4.3 5 1 0 10 1a5 4.3 5 1 0-10-1zM551.3 1549.9a5.7 3.8 145 1 0-9.4 6.5a5.7 3.8 145 1 0 9.4-6.5zM425 1521.1a5 4.7 157 1 0-9.2 3.7a5 4.7 157 1 0 9.2-3.7zM611.4 1543.4a4.3 4.1 138 1 0-6.5 5.6a4.3 4.1 138 1 0 6.5-5.6zM430.2 1518.5a6.1 5.1 159 1 0-11.4 4.4a6.1 5.1 159 1 0 11.4-4.4zM452 1532.2a5 3.9 113 1 0-4 9.1a5 3.9 113 1 0 4-9.1zM493.3 1527.8a5.1 5.5 59 1 0 5.1 8.8a5.1 5.5 59 1 0-5.1-8.8zM515.1 1547.6a5.3 4.9 46 1 0 7.4 7.8a5.3 4.9 46 1 0-7.4-7.8zM554.7 1531.9a4.7 5.7 174 1 0-9.4 1a4.7 5.7 174 1 0 9.4-1zM520.7 1551.2a5.9 3.8 79 1 0 2.2 11.7a5.9 3.8 79 1 0-2.2-11.7zM526.6 1506.9a6.5 5.6 28 1 0 11.4 6.2a6.5 5.6 28 1 0-11.4-6.2zM578.8 1523.8a4.4 5.7 11 1 0 8.6 1.7a4.4 5.7 11 1 0-8.6-1.7zM572.5 1512a6.4 3.9 99 1 0-2 12.5a6.4 3.9 99 1 0 2-12.5zM455 1539a5.7 4.3 176 1 0-11.5 0.8a5.7 4.3 176 1 0 11.5-0.8zM520 1533.4a6 4.8 22 1 0 11 4.6a6 4.8 22 1 0-11-4.6zM522.6 1553.6a5.2 4.7 48 1 0 6.9 7.8a5.2 4.7 48 1 0-6.9-7.8zM443.3 1509.9a6.2 4.5 77 1 0 2.8 12a6.2 4.5 77 1 0-2.8-12zM380.3 1535.7a5.6 4.8 114 1 0-4.6 10.2a5.6 4.8 114 1 0 4.6-10.2zM498 1357.2a5.3 5.1 133 1 0-7.3 7.7a5.3 5.1 133 1 0 7.3-7.7zM484.6 1358.4a5.4 5.7 129 1 0-6.9 8.4a5.4 5.7 129 1 0 6.9-8.4zM473.4 1372.6a4.7 4.3 133 1 0-6.5 6.7a4.7 4.3 133 1 0 6.5-6.7zM495.7 1358.9a4.3 3.9 14 1 0 8.3 2.2a4.3 3.9 14 1 0-8.3-2.2zM498.9 1364.2a4.5 3.9 30 1 0 7.7 4.5a4.5 3.9 30 1 0-7.7-4.5z" fill="#2a2ad8"/>
<path d="M469.5 1374.3a5 5.7 11 1 0 9.9 2a5 5.7 11 1 0-9.9-2zM398.6 1366.8a5.7 4.5 63 1 0 5 10.2a5.7 4.5 63 1 0-5-10.2zM409.7 1377.2a5.2 4.2 175 1 0-10.3 0.8a5.2 4.2 175 1 0 10.3-0.8zM382.4 1370a4 5.4 67 1 0 3.1 7.5a4 5.4 67 1 0-3.1-7.5zM482.5 1374a5.8 4.8 84 1 0 1.1 11.6a5.8 4.8 84 1 0-1.1-11.6zM478.1 1359.8a5.8 5.7 116 1 0-5.2 10.3a5.8 5.7 116 1 0 5.2-10.3zM423.4 1362.6a5.5 4.3 0 1 0 11 0a5.5 4.3 0 1 0-11 0zM423.3 1354.6a4.3 5.5 173 1 0-8.5 1a4.3 5.5 173 1 0 8.5-1zM438.4 1359.3a5.3 5.7 172 1 0-10.5 1.4a5.3 5.7 172 1 0 10.5-1.4zM404.3 1388.5a5 4.4 88 1 0 0.3 10.1a5 4.4 88 1 0-0.3-10.1zM395.8 1363.3a5.6 4.7 7 1 0 11 1.4a5.6 4.7 7 1 0-11-1.4zM434.2 1357.2a5.3 4.7 122 1 0-5.8 9a5.3 4.7 122 1 0 5.8-9zM439.2 1365a4.1 5.3 147 1 0-7 4.4a4.1 5.3 147 1 0 7-4.4zM452.4 1362.2a5.6 5.7 93 1 0-0.6 11.1a5.6 5.7 93 1 0 0.6-11.1zM386.6 1345.1a5.2 3.9 56 1 0 5.7 8.7a5.2 3.9 56 1 0-5.7-8.7zM426.3 1380.6a6.4 5.1 11 1 0 12.6 2.5a6.4 5.1 11 1 0-12.6-2.5zM417.6 1340.6a5.4 5.2 44 1 0 7.6 7.6a5.4 5.2 44 1 0-7.6-7.6zM579.6 1440.4a5.3 5.6 75 1 0 2.7 10.3a5.3 5.6 75 1 0-2.7-10.3zM521.9 1391.7a5.1 4.1 101 1 0-2 9.9a5.1 4.1 101 1 0 2-9.9zM521.9 1363.9a5.7 3.9 174 1 0-11.3 1.2a5.7 3.9 174 1 0 11.3-1.2zM593.9 1490.2a4 5.5 107 1 0-2.5 7.7a4 5.5 107 1 0 2.5-7.7zM526.4 1346.5a4.8 4.2 93 1 0-0.6 9.7a4.8 4.2 93 1 0 0.6-9.7zM595.6 1488.8a4.3 5.1 54 1 0 5 7a4.3 5.1 54 1 0-5-7zM571.5 1431.2a4.8 4.7 0 1 0 9.5 0a4.8 4.7 0 1 0-9.5 0zM597.4 1470.5a5 5.4 52 1 0 6.1 8a5 5.4 52 1 0-6.1-8zM592.6 1430.5a5.4 4.1 130 1 0-6.9 8.2a5.4 4.1 130 1 0 6.9-8.2zM594.9 1470.4a5.6 4.3 165 1 0-10.9 2.8a5.6 4.3 165 1 0 10.9-2.8zM565.8 1445.3a4.2 5 146 1 0-7.1 4.6a4.2 5 146 1 0 7.1-4.6zM556.9 1433.7a4.9 5.6 144 1 0-8 5.7a4.9 5.6 144 1 0 8-5.7zM431.4 1456.9a4.1 4.5 152 1 0-7.3 3.7a4.1 4.5 152 1 0 7.3-3.7zM428.7 1452.5a4 5.2 45 1 0 5.6 5.8a4 5.2 45 1 0-5.6-5.8zM444.5 1450a4.1 4.2 141 1 0-6.5 5.1a4.1 4.2 141 1 0 6.5-5.1zM409.4 1452.7a6.5 5.3 140 1 0-10.1 8.2a6.5 5.3 140 1 0 10.1-8.2zM407.2 1540.7a5.8 4.4 14 1 0 11.2 2.9a5.8 4.4 14 1 0-11.2-2.9zM462.5 1544.6a4.1 4.3 145 1 0-6.6 4.6a4.1 4.3 145 1 0 6.6-4.6zM404.9 1517.5a5.9 5.7 137 1 0-8.8 8a5.9 5.7 137 1 0 8.8-8zM487 1509.6a6.2 5 177 1 0-12.4 0.5a6.2 5 177 1 0 12.4-0.5zM599.2 1538.1a5.8 3.9 118 1 0-5.6 10.2a5.8 3.9 118 1 0 5.6-10.2zM468.8 1512.2a5.7 4.5 138 1 0-8.6 7.6a5.7 4.5 138 1 0 8.6-7.6zM424.7 1561.3a5.5 5.1 125 1 0-6.4 8.9a5.5 5.1 125 1 0 6.4-8.9zM603.2 1505.9a6.2 5.2 6 1 0 12.3 1.4a6.2 5.2 6 1 0-12.3-1.4zM415.7 1521.3a4.1 3.8 141 1 0-6.4 5.2a4.1 3.8 141 1 0 6.4-5.2zM574.8 1498.8a6.4 4.9 144 1 0-10.3 7.5a6.4 4.9 144 1 0 10.3-7.5zM527.4 1523.5a4.7 4.6 19 1 0 8.8 3.2a4.7 4.6 19 1 0-8.8-3.2zM412.5 1541.8a6.1 5.1 130 1 0-7.9 9.2a6.1 5.1 130 1 0 7.9-9.2zM516.9 1548.5a4.3 5.6 31 1 0 7.3 4.5a4.3 5.6 31 1 0-7.3-4.5zM440.7 1515a4.3 5.5 74 1 0 2.2 8.3a4.3 5.5 74 1 0-2.2-8.3zM585.9 1548.1a4.7 5.3 27 1 0 8.3 4.3a4.7 5.3 27 1 0-8.3-4.3zM568.3 1509.4a4 4.7 151 1 0-7.1 3.8a4 4.7 151 1 0 7.1-3.8zM526.2 1527.2a5 3.9 131 1 0-6.7 7.5a5 3.9 131 1 0 6.7-7.5zM565.3 1507.7a5.9 5.4 153 1 0-10.5 5.3a5.9 5.4 153 1 0 10.5-5.3zM591.5 1547.5a6.1 4.2 169 1 0-12.1 2.2a6.1 4.2 169 1 0 12.1-2.2zM577.1 1538.2a4.2 5.2 160 1 0-7.9 2.8a4.2 5.2 160 1 0 7.9-2.8zM393.6 1534.6a5.8 5.6 170 1 0-11.5 1.9a5.8 5.6 170 1 0 11.5-1.9zM562.3 1547.6a4.5 5.1 64 1 0 3.8 8.1a4.5 5.1 64 1 0-3.8-8.1zM556.5 1533.2a5.3 4.9 62 1 0 4.8 9.4a5.3 4.9 62 1 0-4.8-9.4zM517.9 1554.8a4.2 5 35 1 0 6.9 4.9a4.2 5 35 1 0-6.9-4.9zM491.1 1355.7a5.8 4.9 140 1 0-8.9 7.3a5.8 4.9 140 1 0 8.9-7.3z" fill="#1a1ec8"/>
<path d="M475.8 1372.5a5.6 5.7 136 1 0-8 7.7a5.6 5.7 136 1 0 8-7.7zM460.7 1392.3a4.1 5.7 37 1 0 6.5 5a4.1 5.7 37 1 0-6.5-5zM424.1 1358.9a4.7 5.2 56 1 0 5.2 7.8a4.7 5.2 56 1 0-5.2-7.8zM400.2 1358.9a5.4 4.8 141 1 0-8.4 6.7a5.4 4.8 141 1 0 8.4-6.7zM485.4 1359.9a6.1 4.4 129 1 0-7.8 9.5a6.1 4.4 129 1 0 7.8-9.5zM462.4 1354.6a5.4 5.2 159 1 0-10.1 3.7a5.4 5.2 159 1 0 10.1-3.7zM401.9 1373.7a4.2 5.1 155 1 0-7.7 3.5a4.2 5.1 155 1 0 7.7-3.5zM434 1365a5.2 5.7 143 1 0-8.3 6.2a5.2 5.7 143 1 0 8.3-6.2zM440.8 1374.7a5 4 33 1 0 8.3 5.5a5 4 33 1 0-8.3-5.5zM386.3 1378.2a5.2 4.9 49 1 0 6.7 7.9a5.2 4.9 49 1 0-6.7-7.9zM392 1358.1a5.3 4.5 128 1 0-6.7 8.2a5.3 4.5 128 1 0 6.7-8.2zM420.3 1339.8a5 4.4 157 1 0-9.3 3.8a5 4.4 157 1 0 9.3-3.8zM443.6 1347.5a4.7 4.5 12 1 0 9.2 2.1a4.7 4.5 12 1 0-9.2-2.1zM437.8 1360a5.9 4.9 21 1 0 11 4.4a5.9 4.9 21 1 0-11-4.4zM478.1 1398.9a4.6 5.7 41 1 0 6.9 6.2a4.6 5.7 41 1 0-6.9-6.2zM457.8 1357.2a4.6 5.8 111 1 0-3.4 8.6a4.6 5.8 111 1 0 3.4-8.6zM491.6 1349.3a4.6 3.9 120 1 0-4.7 7.9a4.6 3.9 120 1 0 4.7-7.9zM511 1369a4.8 4.5 103 1 0-2.3 9.4a4.8 4.5 103 1 0 2.3-9.4zM610.8 1447.7a5.8 4.4 145 1 0-9.6 6.5a5.8 4.4 145 1 0 9.6-6.5zM579.7 1425.4a5 5.7 93 1 0-0.6 10a5 5.7 93 1 0 0.6-10zM534.5 1424.1a5.9 4.5 3 1 0 11.8 0.8a5.9 4.5 3 1 0-11.8-0.8zM554.5 1442.3a5.2 5.2 2 1 0 10.4 0.5a5.2 5.2 2 1 0-10.4-0.5zM585.8 1464.5a5.4 4.7 117 1 0-5 9.5a5.4 4.7 117 1 0 5-9.5zM552 1401.7a4.5 4.7 133 1 0-6.2 6.5a4.5 4.7 133 1 0 6.2-6.5zM530.5 1368a6.2 5.2 172 1 0-12.3 1.7a6.2 5.2 172 1 0 12.3-1.7zM603.2 1475a4.2 3.9 142 1 0-6.6 5.1a4.2 3.9 142 1 0 6.6-5.1zM596.1 1470.2a5 4.3 169 1 0-9.9 1.9a5 4.3 169 1 0 9.9-1.9zM567.5 1432.4a4.8 4.5 83 1 0 1 9.6a4.8 4.5 83 1 0-1-9.6zM541.8 1415.1a5.8 5 28 1 0 10.1 5.5a5.8 5 28 1 0-10.1-5.5zM561.1 1388.7a5.9 5.5 40 1 0 9 7.8a5.9 5.5 40 1 0-9-7.8zM563.3 1401a5 4.1 161 1 0-9.4 3.2a5 4.1 161 1 0 9.4-3.2zM573.7 1425a5.1 4.6 49 1 0 6.7 7.8a5.1 4.6 49 1 0-6.7-7.8zM572.3 1405.8a6.1 4.3 156 1 0-11.2 4.8a6.1 4.3 156 1 0 11.2-4.8zM579.1 1430a5.8 5.5 34 1 0 9.5 6.6a5.8 5.5 34 1 0-9.5-6.6zM571.1 1451.8a4.8 5.6 87 1 0 0.4 9.6a4.8 5.6 87 1 0-0.4-9.6zM533.6 1370.4a6.3 4.4 28 1 0 11.1 6.1a6.3 4.4 28 1 0-11.1-6.1zM579.9 1427.6a6.2 4.5 83 1 0 1.5 12.3a6.2 4.5 83 1 0-1.5-12.3zM523.8 1391.3a5.7 4.7 107 1 0-3.4 10.9a5.7 4.7 107 1 0 3.4-10.9zM452.5 1442.7a5.8 3.9 106 1 0-3.2 11.2a5.8 3.9 106 1 0 3.2-11.2zM452.8 1448.7a5.1 4.4 34 1 0 8.4 5.9a5.1 4.4 34 1 0-8.4-5.9zM413.1 1462a6.2 5.1 162 1 0-11.8 3.8a6.2 5.1 162 1 0 11.8-3.8zM466.3 1444a5.5 4.1 8 1 0 10.9 1.6a5.5 4.1 8 1 0-10.9-1.6zM491.5 1440.2a5.4 4.4 123 1 0-6 9a5.4 4.4 123 1 0 6-9zM402.2 1465.1a4.5 4 164 1 0-8.6 2.4a4.5 4 164 1 0 8.6-2.4zM437.9 1521a4.6 4.1 139 1 0-7 5.9a4.6 4.1 139 1 0 7-5.9zM436.1 1560a5.8 5.4 56 1 0 6.4 9.7a5.8 5.4 56 1 0-6.4-9.7zM491.3 1518.7a4.6 4.6 104 1 0-2.4 8.9a4.6 4.6 104 1 0 2.4-8.9zM457.4 1515.9a4.3 4.6 172 1 0-8.5 1.1a4.3 4.6 172 1 0 8.5-1.1zM443.4 1550a4.4 5.6 136 1 0-6.4 6.1a4.4 5.6 136 1 0 6.4-6.1zM576.4 1541.2a6.4 5.2 126 1 0-7.5 10.3a6.4 5.2 126 1 0 7.5-10.3zM438.2 1542.6a4.6 3.9 23 1 0 8.4 3.7a4.6 3.9 23 1 0-8.4-3.7zM548.6 1510.6a5.7 4.3 17 1 0 10.9 3.5a5.7 4.3 17 1 0-10.9-3.5zM493.6 1551.5a5.7 5.1 61 1 0 5.5 9.9a5.7 5.1 61 1 0-5.5-9.9zM503.6 1545.6a5.6 4.9 148 1 0-9.5 5.9a5.6 4.9 148 1 0 9.5-5.9zM421.8 1562.2a4.6 5.7 34 1 0 7.6 5.3a4.6 5.7 34 1 0-7.6-5.3zM410 1559.5a4 4.1 73 1 0 2.3 7.7a4 4.1 73 1 0-2.3-7.7zM442.4 1517.5a6.5 5.4 120 1 0-6.6 11.2a6.5 5.4 120 1 0 6.6-11.2zM443 1523.9a4.1 3.8 129 1 0-5.2 6.4a4.1 3.8 129 1 0 5.2-6.4zM540.8 1511.5a5.4 5 95 1 0-1.1 10.7a5.4 5 95 1 0 1.1-10.7zM495.8 1364.6a5.2 4.3 6 1 0 10.3 1.1a5.2 4.3 6 1 0-10.3-1.1zM498.3 1362.1a5.9 3.9 106 1 0-3.3 11.4a5.9 3.9 106 1 0 3.3-11.4zM473.1 1378.8a5.3 4.4 168 1 0-10.5 2.2a5.3 4.4 168 1 0 10.5-2.2z" fill="#2026f0"/>
<path d="M375.9 1431.2l70-22l55-40l12-25l14 0l-8 30l-50 45l-95 30z" fill="#05050e" opacity="0.85"/>
<path d="M493.9 1408.2l20 0l90 70l0 24l-105-70z" fill="#06060f" opacity="0.75"/>
<path d="M463.4 1565.4h1.2v1.2h-1.2zM589 1424.3h1.5v1.5h-1.5zM420.9 1391.7h1.5v1.5h-1.5zM520.5 1458.9h1.5v1.5h-1.5zM475.2 1485.9h1.2v1.2h-1.2zM561.9 1562.3h2v2h-2zM417.9 1496.9h2v2h-2zM546.1 1414.2h1.2v1.2h-1.2zM582.5 1394.6h1.5v1.5h-1.5zM559.1 1415.1h2v2h-2zM386.8 1424.9h1.5v1.5h-1.5zM472.3 1409h2v2h-2zM444 1478.2h1.2v1.2h-1.2zM570.9 1578.4h1.2v1.2h-1.2zM574.2 1540.1h1.2v1.2h-1.2zM391 1575.1h1.2v1.2h-1.2zM590.2 1477.7h2v2h-2zM409.3 1409.2h1.2v1.2h-1.2zM472.8 1451h1.5v1.5h-1.5zM392.3 1452.8h1.5v1.5h-1.5zM387 1531.1h1.5v1.5h-1.5zM474.3 1370.5h1.2v1.2h-1.2zM390 1528.3h1.2v1.2h-1.2zM580.4 1471.5h1.5v1.5h-1.5zM579 1471.1h2v2h-2zM553 1475.4h1.2v1.2h-1.2zM440.8 1452.8h1.5v1.5h-1.5zM424.8 1565.6h2v2h-2zM408.4 1449.4h1.2v1.2h-1.2zM560.9 1567.4h1.5v1.5h-1.5zM568.9 1488.8h2v2h-2zM561.7 1399.8h2v2h-2zM580.3 1479.4h2v2h-2zM567 1421h1.5v1.5h-1.5zM478 1522.1h1.5v1.5h-1.5zM465.2 1360.9h1.5v1.5h-1.5zM557.4 1358.6h1.2v1.2h-1.2zM554.5 1396.8h1.5v1.5h-1.5zM408.4 1392.3h2v2h-2zM527.3 1426.5h1.2v1.2h-1.2zM523.3 1568.2h1.2v1.2h-1.2zM593.5 1443.2h2v2h-2zM440.8 1471.7h2v2h-2zM408.6 1459.2h1.5v1.5h-1.5zM398.1 1396.8h1.5v1.5h-1.5zM460.9 1542.6h1.2v1.2h-1.2zM419.6 1478.1h1.2v1.2h-1.2zM539.5 1556.9h1.2v1.2h-1.2zM476.3 1489.2h1.5v1.5h-1.5zM474.3 1528.9h1.2v1.2h-1.2zM548.3 1418.8h1.5v1.5h-1.5zM582.1 1486.3h1.2v1.2h-1.2zM453.1 1576.9h1.5v1.5h-1.5zM548.1 1440.9h1.2v1.2h-1.2zM530.8 1493.2h1.2v1.2h-1.2zM532.2 1435.9h1.5v1.5h-1.5zM497.3 1432.3h2v2h-2zM407.9 1393h1.5v1.5h-1.5zM412.7 1442.8h1.2v1.2h-1.2zM499.8 1476.9h1.5v1.5h-1.5zM406.9 1536.1h1.5v1.5h-1.5zM517 1515.8h1.2v1.2h-1.2zM576.6 1456.1h1.2v1.2h-1.2zM500.9 1393.4h2v2h-2zM407.9 1390h1.5v1.5h-1.5zM566.8 1572.2h2v2h-2zM451.1 1495.3h2v2h-2zM499.9 1452.9h1.5v1.5h-1.5zM549.3 1546.1h2v2h-2zM430.6 1459.9h2v2h-2zM535.6 1368.1h1.5v1.5h-1.5zM466 1372.5h1.2v1.2h-1.2zM433.9 1533.1h1.2v1.2h-1.2zM572.4 1503.2h2v2h-2zM429.6 1541.2h1.2v1.2h-1.2zM530.2 1581h2v2h-2zM400.9 1438.9h2v2h-2zM495 1486.7h1.5v1.5h-1.5zM426.8 1558.1h2v2h-2zM444.7 1491.5h1.5v1.5h-1.5zM401.5 1528.1h1.2v1.2h-1.2z" fill="#eeeeff" opacity="0.5"/>
<path d="M572.5 1527h1.2v1.2h-1.2zM449.5 1563.5h2v2h-2zM400.2 1487.4h1.5v1.5h-1.5zM416.9 1540.5h1.2v1.2h-1.2zM492.4 1464.7h1.2v1.2h-1.2zM442.1 1366h1.5v1.5h-1.5zM549.2 1405h1.2v1.2h-1.2zM496.5 1439h1.5v1.5h-1.5zM490.4 1461.1h1.5v1.5h-1.5zM463.2 1469.1h1.2v1.2h-1.2zM495.7 1392.3h1.2v1.2h-1.2zM525.9 1478.5h1.2v1.2h-1.2zM443.5 1538.1h1.5v1.5h-1.5zM440 1549.7h1.5v1.5h-1.5zM546.5 1577.7h1.5v1.5h-1.5zM592.3 1408.8h1.5v1.5h-1.5zM563.3 1366.4h1.5v1.5h-1.5zM447.5 1569.9h1.2v1.2h-1.2zM395.8 1548.8h2v2h-2zM538.4 1527.4h2v2h-2zM423.3 1370.2h1.2v1.2h-1.2zM479.5 1494.3h1.2v1.2h-1.2zM603.1 1370h1.5v1.5h-1.5zM430.4 1402.6h1.5v1.5h-1.5zM516.1 1544.5h1.5v1.5h-1.5zM411 1503.8h1.2v1.2h-1.2zM518.3 1362.4h1.2v1.2h-1.2zM593.8 1366.2h2v2h-2zM541.7 1516.9h1.2v1.2h-1.2zM455.2 1414.8h1.2v1.2h-1.2zM505.7 1479.1h2v2h-2zM416.2 1580.7h2v2h-2zM444.5 1432.4h2v2h-2zM457.4 1419.5h1.2v1.2h-1.2zM513.1 1478.2h2v2h-2zM397.7 1466.6h2v2h-2zM577.3 1543.1h2v2h-2zM529.1 1375.3h1.2v1.2h-1.2zM432.5 1495.2h2v2h-2zM549.8 1486h1.2v1.2h-1.2zM383.4 1419.6h1.5v1.5h-1.5zM398.5 1558.9h1.2v1.2h-1.2zM402.1 1398.5h1.5v1.5h-1.5zM404 1579.1h1.2v1.2h-1.2zM510.9 1481.4h1.2v1.2h-1.2zM557.8 1429.7h1.2v1.2h-1.2zM445.1 1555.4h1.2v1.2h-1.2zM440.4 1563h1.2v1.2h-1.2zM461.6 1561.9h2v2h-2zM534.3 1447.2h2v2h-2zM498.7 1360.7h1.2v1.2h-1.2zM485.4 1455.7h1.5v1.5h-1.5zM552.6 1529h1.2v1.2h-1.2zM469.6 1426.2h2v2h-2zM460.3 1442.7h1.2v1.2h-1.2zM459.7 1536.3h1.2v1.2h-1.2zM538.3 1476h1.2v1.2h-1.2zM577.2 1389.6h2v2h-2zM502.3 1428.2h2v2h-2zM469.4 1360.9h2v2h-2zM425.1 1543.7h1.2v1.2h-1.2zM540.9 1423.7h1.5v1.5h-1.5zM503.8 1394h1.2v1.2h-1.2zM564.7 1462.2h1.5v1.5h-1.5zM463.7 1424.1h1.2v1.2h-1.2zM456.3 1405.1h1.2v1.2h-1.2zM448.6 1394.4h1.5v1.5h-1.5zM599 1563.1h1.2v1.2h-1.2zM524 1517.3h1.5v1.5h-1.5zM538.8 1548.5h1.2v1.2h-1.2zM434.4 1470.7h1.2v1.2h-1.2zM404.7 1394.1h1.2v1.2h-1.2zM573.9 1376.9h2v2h-2zM412.7 1478.3h1.2v1.2h-1.2zM500.7 1395.9h1.2v1.2h-1.2z" fill="#eeeeff" opacity="0.75"/>
<path d="M506 1377h1.2v1.2h-1.2zM533.6 1544h2v2h-2zM494.4 1474.2h2v2h-2zM393.9 1482.9h2v2h-2zM406.7 1553.7h1.2v1.2h-1.2zM573.3 1456.6h1.5v1.5h-1.5zM406.2 1408.3h1.2v1.2h-1.2zM425.7 1498.4h2v2h-2zM472.5 1537.9h2v2h-2zM400.9 1507.4h2v2h-2zM596.2 1575.5h1.2v1.2h-1.2zM505.7 1574.2h2v2h-2zM580.3 1394.1h1.2v1.2h-1.2zM584.8 1429.2h1.2v1.2h-1.2zM534.6 1421.6h1.5v1.5h-1.5zM592.4 1543.6h1.5v1.5h-1.5zM380.7 1571.4h1.2v1.2h-1.2zM555 1557.6h2v2h-2zM531.2 1442.8h1.5v1.5h-1.5zM404.1 1578.8h1.5v1.5h-1.5zM417.7 1469.2h1.2v1.2h-1.2zM419.1 1533.9h1.2v1.2h-1.2zM422 1463.7h1.5v1.5h-1.5zM473.9 1364h1.5v1.5h-1.5zM390.5 1568.1h1.5v1.5h-1.5zM485.8 1365.8h1.2v1.2h-1.2zM403.6 1478.6h1.5v1.5h-1.5zM487.8 1489.7h1.2v1.2h-1.2zM497.2 1465.4h1.5v1.5h-1.5zM407.8 1490.2h1.2v1.2h-1.2zM456.2 1545.1h2v2h-2zM527.6 1476.5h2v2h-2zM533.5 1501h2v2h-2zM386.4 1551.5h1.5v1.5h-1.5zM428.2 1568.9h1.5v1.5h-1.5zM576.5 1462.1h2v2h-2zM568.1 1366.4h2v2h-2zM467.7 1402h1.5v1.5h-1.5zM403.7 1577.8h1.5v1.5h-1.5zM487.2 1573.1h2v2h-2zM402.9 1410.2h1.5v1.5h-1.5zM472 1504.9h2v2h-2zM406.5 1372.6h1.2v1.2h-1.2zM582.9 1500.7h1.2v1.2h-1.2zM527.7 1391h1.5v1.5h-1.5zM397.5 1546h1.5v1.5h-1.5zM496.9 1566.1h1.5v1.5h-1.5zM387.8 1491h2v2h-2zM550.9 1567.7h1.5v1.5h-1.5zM456 1493.9h2v2h-2zM389.8 1484.6h1.2v1.2h-1.2zM577.3 1557.1h1.2v1.2h-1.2zM419.3 1552.9h1.2v1.2h-1.2zM543 1356.4h1.2v1.2h-1.2zM447 1429h1.2v1.2h-1.2zM519.2 1361h2v2h-2zM403.4 1406.9h2v2h-2zM424.3 1472.8h1.5v1.5h-1.5zM547.2 1356.1h2v2h-2zM434 1528.3h2v2h-2zM500.7 1569.2h1.5v1.5h-1.5zM596.2 1422.7h2v2h-2zM443.4 1476.8h1.5v1.5h-1.5zM470.2 1562.7h1.2v1.2h-1.2zM569.9 1418.6h1.5v1.5h-1.5zM513 1368.5h1.2v1.2h-1.2zM450.6 1361h1.5v1.5h-1.5zM425.9 1545.6h1.2v1.2h-1.2zM421.2 1497.5h1.5v1.5h-1.5zM547.7 1384.9h2v2h-2zM523.4 1470.3h2v2h-2zM492.7 1370.7h1.5v1.5h-1.5zM452.6 1451.5h2v2h-2zM541.4 1435.3h2v2h-2z" fill="#eeeeff" opacity="1"/>
<circle cx="387.9" cy="1538.2" r="2.5" fill="#ffffff"/>
<circle cx="435.9" cy="1454.2" r="1.5" fill="#ffffff"/>
<path d="M511.9 1443.2L528.9 1458.2L501.9 1470.2Q497.9 1463.2 511.9 1443.2z" fill="#ffffff"/>
<path d="M529.6 1473.9L551.9 1479.2L543.9 1485.2L537.9 1494.2z" fill="#ffffff"/>
<rect x="524.6" y="1575.5" width="77.5" height="4" fill="#ffffff"/>
</g>
<clipPath id="mc1"><rect x="623.8" y="1352.8" width="231.3" height="230.7"/></clipPath>
<g clip-path="url(#mc1)">
<rect x="623.8" y="1352.8" width="231.3" height="230.7" fill="#03030a"/>
<path d="M816.1 1424.8a6.3 3.1 153 1 0-11.3 5.5a6.3 3.1 153 1 0 11.3-5.5zM800.2 1418.8a5.7 3.4 2 1 0 11.4 0.5a5.7 3.4 2 1 0-11.4-0.5zM790.2 1430.2a3.5 3 81 1 0 1 7a3.5 3 81 1 0-1-7zM843.8 1397a6.4 3.8 14 1 0 12.3 3.1a6.4 3.8 14 1 0-12.3-3.1zM780.7 1387.5a5 2.8 126 1 0-6 8.1a5 2.8 126 1 0 6-8.1zM854.7 1388.3a4.9 3.4 110 1 0-3.5 9.2a4.9 3.4 110 1 0 3.5-9.2zM786.2 1414.5a4.5 3.6 105 1 0-2.4 8.7a4.5 3.6 105 1 0 2.4-8.7zM783.2 1382.7a3.6 3.9 56 1 0 4 5.9a3.6 3.9 56 1 0-4-5.9zM858.2 1385a5.1 3.6 132 1 0-7 7.6a5.1 3.6 132 1 0 7-7.6zM838.5 1415.9a5.9 3.8 2 1 0 11.7 0.5a5.9 3.8 2 1 0-11.7-0.5zM857.5 1448.5a5.7 3 124 1 0-6.5 9.3a5.7 3 124 1 0 6.5-9.3zM805.8 1419.3a5.1 3.2 5 1 0 10.2 1a5.1 3.2 5 1 0-10.2-1zM637.8 1460.1a6 3 88 1 0 0.2 12a6 3 88 1 0-0.2-12zM637.9 1438.3a5.9 3.9 35 1 0 9.6 6.9a5.9 3.9 35 1 0-9.6-6.9zM652 1401.4a5.6 3.6 128 1 0-7 8.8a5.6 3.6 128 1 0 7-8.8zM629.2 1402.8a4.5 3.5 90 1 0 0 9.1a4.5 3.5 90 1 0 0-9.1zM763.7 1512a3.9 3.1 159 1 0-7.3 2.7a3.9 3.1 159 1 0 7.3-2.7zM750.1 1475.8a5.7 3.7 166 1 0-11 2.7a5.7 3.7 166 1 0 11-2.7zM759.3 1490.6a3.6 3.3 141 1 0-5.7 4.5a3.6 3.3 141 1 0 5.7-4.5zM719.4 1469a5 3.6 124 1 0-5.7 8.4a5 3.6 124 1 0 5.7-8.4zM744.1 1518.5a5.2 2.7 151 1 0-9.1 4.9a5.2 2.7 151 1 0 9.1-4.9zM735.9 1481.8a4.6 3.8 37 1 0 7.4 5.7a4.6 3.8 37 1 0-7.4-5.7zM726.3 1516.3a5.2 3.2 30 1 0 9 5.2a5.2 3.2 30 1 0-9-5.2zM717.5 1489.9a3.6 2.8 140 1 0-5.5 4.6a3.6 2.8 140 1 0 5.5-4.6zM640.4 1558.6a5 3.3 112 1 0-3.8 9.3a5 3.3 112 1 0 3.8-9.3zM665.2 1565.6a6.1 2.4 74 1 0 3.3 11.8a6.1 2.4 74 1 0-3.3-11.8zM652.4 1546.7a4.1 3.4 39 1 0 6.4 5.2a4.1 3.4 39 1 0-6.4-5.2zM638.8 1560.2a5.3 2.6 113 1 0-4.1 9.7a5.3 2.6 113 1 0 4.1-9.7zM679.9 1578.1a3.9 2.8 15 1 0 7.5 2.1a3.9 2.8 15 1 0-7.5-2.1zM641.2 1558.2a6.3 3.3 22 1 0 11.7 4.9a6.3 3.3 22 1 0-11.7-4.9zM646.4 1567.7a3.6 2.7 64 1 0 3.1 6.4a3.6 2.7 64 1 0-3.1-6.4zM850 1548.6a3.8 3.7 169 1 0-7.4 1.4a3.8 3.7 169 1 0 7.4-1.4z" fill="#1a20c8"/>
<path d="M784.5 1445.7a4.9 3.4 16 1 0 9.4 2.9a4.9 3.4 16 1 0-9.4-2.9zM800.1 1384.4a5.9 3.5 107 1 0-3.5 11.3a5.9 3.5 107 1 0 3.5-11.3zM819.7 1385a4.1 2.8 140 1 0-6.2 5.2a4.1 2.8 140 1 0 6.2-5.2zM830.1 1415.9a4.3 4 127 1 0-5.3 6.9a4.3 4 127 1 0 5.3-6.9zM798 1397a4.4 2.5 72 1 0 2.7 8.3a4.4 2.5 72 1 0-2.7-8.3zM837.4 1409.8a6.4 3.8 38 1 0 10 7.9a6.4 3.8 38 1 0-10-7.9zM803.2 1455.9a3.9 3.5 10 1 0 7.7 1.5a3.9 3.5 10 1 0-7.7-1.5zM843.5 1396.8a5.2 3.1 177 1 0-10.3 0.5a5.2 3.1 177 1 0 10.3-0.5zM831.5 1416.3a4.7 3 0 1 0 9.3 0a4.7 3 0 1 0-9.3 0zM839.6 1457.5a5.3 4 37 1 0 8.3 6.5a5.3 4 37 1 0-8.3-6.5zM801.5 1447.8a5.4 2.6 38 1 0 8.5 6.7a5.4 2.6 38 1 0-8.5-6.7zM790.4 1443.6a4.5 2.9 13 1 0 8.7 2.1a4.5 2.9 13 1 0-8.7-2.1zM853.5 1416.7a5.2 3.8 112 1 0-4.1 9.6a5.2 3.8 112 1 0 4.1-9.6zM802.6 1397.2a5.3 3.6 133 1 0-7.3 7.8a5.3 3.6 133 1 0 7.3-7.8zM799.8 1447.5a5.3 2.9 167 1 0-10.3 2.3a5.3 2.9 167 1 0 10.3-2.3zM789.8 1385.3a4.3 3.2 16 1 0 8.3 2.5a4.3 3.2 16 1 0-8.3-2.5zM828.9 1409.9a3.5 2.5 115 1 0-3 6.4a3.5 2.5 115 1 0 3-6.4zM830.6 1416.5a6.2 3 122 1 0-6.6 10.5a6.2 3 122 1 0 6.6-10.5zM797.3 1413.6a4.3 3.4 158 1 0-7.9 3.1a4.3 3.4 158 1 0 7.9-3.1zM647.2 1385.2a3.7 4 20 1 0 6.9 2.6a3.7 4 20 1 0-6.9-2.6zM638.8 1455a6.4 3.1 149 1 0-11.1 6.6a6.4 3.1 149 1 0 11.1-6.6zM650.5 1381.9a3.9 3.1 138 1 0-5.8 5.2a3.9 3.1 138 1 0 5.8-5.2zM630.8 1447.1a5.9 4 80 1 0 2 11.6a5.9 4 80 1 0-2-11.6zM757.8 1472.3a6 3.5 15 1 0 11.6 3.3a6 3.5 15 1 0-11.6-3.3zM707.2 1483.7a4.8 2.8 39 1 0 7.4 6a4.8 2.8 39 1 0-7.4-6zM759.6 1491a6.3 2.5 79 1 0 2.4 12.5a6.3 2.5 79 1 0-2.4-12.5zM754.2 1525.7a5.1 3.3 73 1 0 2.8 9.8a5.1 3.3 73 1 0-2.8-9.8zM715.3 1458.5a4.6 3.3 92 1 0-0.5 9.3a4.6 3.3 92 1 0 0.5-9.3zM640.5 1546.9a5.3 3.8 39 1 0 8.2 6.7a5.3 3.8 39 1 0-8.2-6.7zM844.6 1539.9a3.7 2.6 137 1 0-5.4 5a3.7 2.6 137 1 0 5.4-5zM835 1576a4.9 2.7 36 1 0 7.9 5.9a4.9 2.7 36 1 0-7.9-5.9zM842.5 1580.7a6.3 2.6 24 1 0 11.5 5.1a6.3 2.6 24 1 0-11.5-5.1zM828.5 1561.5a3.5 3.5 32 1 0 6 3.8a3.5 3.5 32 1 0-6-3.8zM827.9 1569.1a4.7 2.7 17 1 0 9 2.8a4.7 2.7 17 1 0-9-2.8zM822.3 1569.4a4 3.9 161 1 0-7.5 2.5a4 3.9 161 1 0 7.5-2.5z" fill="#1e26e0"/>
<path d="M800.2 1426a4.1 2.8 89 1 0 0 8.2a4.1 2.8 89 1 0 0-8.2zM844.4 1385.9a4.6 3.5 13 1 0 9 2.1a4.6 3.5 13 1 0-9-2.1zM820.5 1444.9a4.3 2.5 2 1 0 8.6 0.4a4.3 2.5 2 1 0-8.6-0.4zM795.4 1452.2a4.1 2.4 74 1 0 2.3 7.9a4.1 2.4 74 1 0-2.3-7.9zM774.5 1427.5a3.7 2.5 57 1 0 4 6.3a3.7 2.5 57 1 0-4-6.3zM788.6 1458.5a4.5 2.5 162 1 0-8.6 2.8a4.5 2.5 162 1 0 8.6-2.8zM825.7 1418.6a4.2 3.5 140 1 0-6.5 5.3a4.2 3.5 140 1 0 6.5-5.3zM790.2 1390.2a6.2 3.5 89 1 0 0.1 12.4a6.2 3.5 89 1 0-0.1-12.4zM633.3 1431.3a4.4 2.6 63 1 0 4 7.9a4.4 2.6 63 1 0-4-7.9zM629 1432.9a5.5 2.8 55 1 0 6.2 9.1a5.5 2.8 55 1 0-6.2-9.1zM708.5 1495.9a5.5 3.2 83 1 0 1.2 10.8a5.5 3.2 83 1 0-1.2-10.8zM716.1 1475.1a4.7 2.5 96 1 0-1.1 9.3a4.7 2.5 96 1 0 1.1-9.3zM752.4 1479a6.2 3.8 90 1 0-0.2 12.5a6.2 3.8 90 1 0 0.2-12.5zM755.8 1490.2a6.3 3.7 48 1 0 8.3 9.4a6.3 3.7 48 1 0-8.3-9.4zM735.2 1466.9a4.8 3.7 94 1 0-0.8 9.6a4.8 3.7 94 1 0 0.8-9.6zM627.9 1547.6a4.2 3.5 130 1 0-5.4 6.4a4.2 3.5 130 1 0 5.4-6.4zM673.1 1552a5.6 3.4 90 1 0-0.1 11.2a5.6 3.4 90 1 0 0.1-11.2zM841.9 1533a3.8 3 92 1 0-0.4 7.6a3.8 3 92 1 0 0.4-7.6zM833.8 1538.5a5.3 2.9 50 1 0 6.7 8.1a5.3 2.9 50 1 0-6.7-8.1z" fill="#2830f8"/>
<ellipse cx="676.8" cy="1374.8" rx="43" ry="32" fill="url(#cryptg)"/>
<ellipse cx="676.8" cy="1374.8" rx="43" ry="32" fill="url(#nucp)"/>
<path d="M699.5 1372.9L683 1378L687.2 1388.1L676.4 1382.1L669.6 1387.4L669.2 1377.3L658.6 1373.7L668.5 1371.3L663.5 1360.5L677.6 1369.9L684.7 1360.2L684.3 1372.5z" fill="#04040c" opacity="0.85"/>
<path d="M680.9 1389h1.4v1.4h-1.4zM690.7 1376.7h1.4v1.4h-1.4zM657.2 1380.8h1.4v1.4h-1.4zM678.3 1385.5h1.4v1.4h-1.4zM680.8 1389.7h1.4v1.4h-1.4zM675.7 1378h1.4v1.4h-1.4zM688.5 1360.6h1.4v1.4h-1.4zM668.7 1367.3h1.4v1.4h-1.4zM704.7 1373.8h1.4v1.4h-1.4zM689.4 1383.7h1.4v1.4h-1.4zM672.3 1356.2h1.4v1.4h-1.4zM694.8 1369.1h1.4v1.4h-1.4zM688.7 1358.7h1.4v1.4h-1.4zM669.2 1391h1.4v1.4h-1.4zM697.3 1360.9h1.4v1.4h-1.4zM653.7 1374.2h1.4v1.4h-1.4zM691.3 1377.2h1.4v1.4h-1.4zM682.5 1361h1.4v1.4h-1.4zM687.2 1389.5h1.4v1.4h-1.4zM669.6 1357.2h1.4v1.4h-1.4zM662.7 1385.3h1.4v1.4h-1.4zM650.3 1373.8h1.4v1.4h-1.4zM658.1 1373h1.4v1.4h-1.4zM671.6 1375h1.4v1.4h-1.4zM701.1 1379.9h1.4v1.4h-1.4zM699.9 1373h1.4v1.4h-1.4zM667.1 1380.5h1.4v1.4h-1.4zM647 1374.5h1.4v1.4h-1.4zM679.6 1358.5h1.4v1.4h-1.4zM686.1 1366.5h1.4v1.4h-1.4zM647.5 1372.9h1.4v1.4h-1.4zM658.8 1367.7h1.4v1.4h-1.4zM674.1 1391.3h1.4v1.4h-1.4zM679 1374.3h1.4v1.4h-1.4zM682.5 1355h1.4v1.4h-1.4zM696.4 1362.2h1.4v1.4h-1.4zM684.7 1359.8h1.4v1.4h-1.4zM658.6 1369.3h1.4v1.4h-1.4zM703.1 1382h1.4v1.4h-1.4zM664.6 1370.5h1.4v1.4h-1.4z" fill="#e4e4f4" opacity="0.8"/>
<ellipse cx="737.8" cy="1421.8" rx="42" ry="41" fill="url(#cryptg)"/>
<ellipse cx="737.8" cy="1421.8" rx="42" ry="41" fill="url(#nucp)"/>
<path d="M760.4 1424.8L744 1424.3L746.7 1441.1L737.4 1429.2L726.7 1439.2L731.7 1425.1L717.9 1422.2L729.1 1416.1L730 1403.1L737.7 1414.6L744.5 1405.5L744.4 1418z" fill="#04040c" opacity="0.85"/>
<path d="M717.6 1440.4h1.4v1.4h-1.4zM716.1 1418.3h1.4v1.4h-1.4zM738.2 1426.2h1.4v1.4h-1.4zM732.9 1431.3h1.4v1.4h-1.4zM708.5 1420h1.4v1.4h-1.4zM732.1 1410.9h1.4v1.4h-1.4zM758.4 1405.9h1.4v1.4h-1.4zM735.1 1394.6h1.4v1.4h-1.4zM739.9 1396.4h1.4v1.4h-1.4zM720.1 1444.4h1.4v1.4h-1.4zM749.3 1419.1h1.4v1.4h-1.4zM738.4 1397.5h1.4v1.4h-1.4zM717 1426.8h1.4v1.4h-1.4zM709.6 1423.5h1.4v1.4h-1.4zM711 1421.7h1.4v1.4h-1.4zM721 1443.2h1.4v1.4h-1.4zM753.9 1410.3h1.4v1.4h-1.4zM712.1 1410.4h1.4v1.4h-1.4zM734.4 1402.1h1.4v1.4h-1.4zM740.8 1437.9h1.4v1.4h-1.4zM734.1 1410.7h1.4v1.4h-1.4zM750.5 1413.7h1.4v1.4h-1.4zM751.7 1413.4h1.4v1.4h-1.4zM761.6 1415.4h1.4v1.4h-1.4zM716.7 1421.2h1.4v1.4h-1.4z" fill="#e4e4f4" opacity="0.8"/>
<ellipse cx="661.8" cy="1493.8" rx="40" ry="46" fill="url(#cryptg)"/>
<ellipse cx="661.8" cy="1493.8" rx="40" ry="46" fill="url(#nucp)"/>
<path d="M681.5 1492L669.2 1498.3L669.9 1511.4L663.2 1504.4L653.9 1512.6L654.5 1497.1L642.5 1491.6L656.2 1489.7L651.9 1472.1L661.9 1483.5L671.2 1477.1L669.3 1489.6z" fill="#04040c" opacity="0.85"/>
<path d="M660.2 1499.2h1.4v1.4h-1.4zM674.6 1477.2h1.4v1.4h-1.4zM656.7 1464.2h1.4v1.4h-1.4zM655.8 1463.7h1.4v1.4h-1.4zM642 1511.5h1.4v1.4h-1.4zM636.3 1504.4h1.4v1.4h-1.4zM668.1 1486.9h1.4v1.4h-1.4zM670.4 1505.1h1.4v1.4h-1.4zM679.9 1489.2h1.4v1.4h-1.4zM651.1 1481.2h1.4v1.4h-1.4zM644.4 1492.9h1.4v1.4h-1.4zM649.1 1513.6h1.4v1.4h-1.4zM638.8 1478.3h1.4v1.4h-1.4zM650.6 1465.6h1.4v1.4h-1.4zM679.1 1468.6h1.4v1.4h-1.4zM656.4 1482.4h1.4v1.4h-1.4zM679.4 1469.5h1.4v1.4h-1.4zM679.2 1480.1h1.4v1.4h-1.4zM658.9 1479.4h1.4v1.4h-1.4zM672.2 1472.6h1.4v1.4h-1.4zM660.3 1501.7h1.4v1.4h-1.4zM678.7 1468.4h1.4v1.4h-1.4zM683.1 1509h1.4v1.4h-1.4zM652.6 1500.5h1.4v1.4h-1.4zM655.1 1521h1.4v1.4h-1.4zM665.9 1488.9h1.4v1.4h-1.4zM657.3 1489.3h1.4v1.4h-1.4zM658.6 1475.6h1.4v1.4h-1.4zM682.1 1472.1h1.4v1.4h-1.4zM633.8 1492.7h1.4v1.4h-1.4zM659 1502.1h1.4v1.4h-1.4zM657.8 1490.5h1.4v1.4h-1.4zM667.6 1513.3h1.4v1.4h-1.4zM653.3 1485.7h1.4v1.4h-1.4zM687 1501.7h1.4v1.4h-1.4zM651.1 1522.8h1.4v1.4h-1.4zM675.5 1481.8h1.4v1.4h-1.4zM642.2 1499.5h1.4v1.4h-1.4zM648.4 1474.3h1.4v1.4h-1.4zM641.3 1484.6h1.4v1.4h-1.4z" fill="#e4e4f4" opacity="0.8"/>
<ellipse cx="801.8" cy="1499.8" rx="46" ry="46" fill="url(#cryptg)"/>
<ellipse cx="801.8" cy="1499.8" rx="46" ry="46" fill="url(#nucp)"/>
<path d="M821.9 1498.2L808.5 1503.4L815.1 1517.2L800.5 1510.3L790 1517L794.7 1503.8L781.7 1501.8L791.7 1495.1L791.8 1477.8L802.5 1492L812.2 1479.1L811.5 1495z" fill="#04040c" opacity="0.85"/>
<path d="M808.7 1493.3h1.4v1.4h-1.4zM781 1483.5h1.4v1.4h-1.4zM788.2 1499.3h1.4v1.4h-1.4zM792.3 1501.4h1.4v1.4h-1.4zM829.3 1487.8h1.4v1.4h-1.4zM784.9 1494.6h1.4v1.4h-1.4zM822.3 1486.6h1.4v1.4h-1.4zM823.7 1479.8h1.4v1.4h-1.4zM781.1 1498.7h1.4v1.4h-1.4zM784.6 1487.5h1.4v1.4h-1.4zM811.2 1514.9h1.4v1.4h-1.4zM804.4 1493.6h1.4v1.4h-1.4zM826.2 1507.1h1.4v1.4h-1.4zM797.3 1522.9h1.4v1.4h-1.4zM783.3 1503.2h1.4v1.4h-1.4zM816 1499.6h1.4v1.4h-1.4zM789.4 1507.4h1.4v1.4h-1.4zM790.4 1487.3h1.4v1.4h-1.4zM784.6 1521.7h1.4v1.4h-1.4zM791.5 1521.5h1.4v1.4h-1.4zM810.2 1494h1.4v1.4h-1.4zM816.1 1505.6h1.4v1.4h-1.4zM804.2 1474.7h1.4v1.4h-1.4zM803.3 1518.3h1.4v1.4h-1.4zM811.4 1519.4h1.4v1.4h-1.4zM827.7 1506.9h1.4v1.4h-1.4zM826.8 1480.7h1.4v1.4h-1.4zM798.8 1468.4h1.4v1.4h-1.4zM819 1501.8h1.4v1.4h-1.4zM829.5 1493.8h1.4v1.4h-1.4zM775.3 1516.5h1.4v1.4h-1.4zM780.6 1479.8h1.4v1.4h-1.4zM798 1513.4h1.4v1.4h-1.4zM790.6 1503.9h1.4v1.4h-1.4zM778.6 1521.2h1.4v1.4h-1.4zM800.3 1502.5h1.4v1.4h-1.4zM814.5 1503.5h1.4v1.4h-1.4zM805.9 1480.8h1.4v1.4h-1.4zM799.3 1509.5h1.4v1.4h-1.4zM822.6 1497.4h1.4v1.4h-1.4zM803.8 1507.4h1.4v1.4h-1.4zM814.2 1504.3h1.4v1.4h-1.4zM796.3 1488.6h1.4v1.4h-1.4zM823.6 1505.5h1.4v1.4h-1.4zM802 1532h1.4v1.4h-1.4zM818.6 1516.1h1.4v1.4h-1.4zM804.9 1479.4h1.4v1.4h-1.4zM824 1498.1h1.4v1.4h-1.4zM802.9 1520.4h1.4v1.4h-1.4zM822.1 1504.6h1.4v1.4h-1.4zM802.1 1530.2h1.4v1.4h-1.4zM812.9 1479.9h1.4v1.4h-1.4zM817.7 1503h1.4v1.4h-1.4zM802.5 1514.5h1.4v1.4h-1.4zM805.3 1529.6h1.4v1.4h-1.4zM806.4 1505.5h1.4v1.4h-1.4zM823.6 1489.2h1.4v1.4h-1.4zM822.2 1498.6h1.4v1.4h-1.4zM823 1484.6h1.4v1.4h-1.4zM808.9 1472.9h1.4v1.4h-1.4z" fill="#e4e4f4" opacity="0.8"/>
<ellipse cx="760.8" cy="1557.8" rx="45" ry="40" fill="url(#cryptg)"/>
<ellipse cx="760.8" cy="1557.8" rx="45" ry="40" fill="url(#nucp)"/>
<path d="M784.1 1558.6L769.8 1563.4L771.4 1577.2L762 1565.6L746.9 1573.8L754.1 1560.3L740.3 1558L752.8 1553.6L748.2 1543.6L760.1 1548.2L772.2 1543.1L767.5 1555z" fill="#04040c" opacity="0.85"/>
<path d="M752.5 1551.1h1.4v1.4h-1.4zM790.2 1558.1h1.4v1.4h-1.4zM764.5 1570.4h1.4v1.4h-1.4zM790 1554.9h1.4v1.4h-1.4zM753.2 1584.4h1.4v1.4h-1.4zM735.6 1552.2h1.4v1.4h-1.4zM769.4 1583.9h1.4v1.4h-1.4zM749.5 1532.2h1.4v1.4h-1.4zM774.3 1548.3h1.4v1.4h-1.4zM752.5 1566.5h1.4v1.4h-1.4zM765.7 1563.5h1.4v1.4h-1.4zM753 1578.4h1.4v1.4h-1.4zM786.7 1558.3h1.4v1.4h-1.4zM751.6 1571.1h1.4v1.4h-1.4zM769.9 1540.2h1.4v1.4h-1.4zM752 1575.6h1.4v1.4h-1.4zM758.7 1551.4h1.4v1.4h-1.4zM765.5 1557.1h1.4v1.4h-1.4zM760.8 1532.1h1.4v1.4h-1.4zM788.6 1560.6h1.4v1.4h-1.4zM744.8 1573.7h1.4v1.4h-1.4zM767.6 1558.1h1.4v1.4h-1.4zM773.7 1582.6h1.4v1.4h-1.4zM769.8 1580.8h1.4v1.4h-1.4zM788.4 1546.2h1.4v1.4h-1.4zM750.3 1571.6h1.4v1.4h-1.4zM733.4 1554h1.4v1.4h-1.4zM782 1573h1.4v1.4h-1.4zM769.3 1533h1.4v1.4h-1.4zM790.6 1564h1.4v1.4h-1.4zM776.3 1566.7h1.4v1.4h-1.4zM737.6 1540.6h1.4v1.4h-1.4zM744.6 1580.5h1.4v1.4h-1.4zM743.9 1553.4h1.4v1.4h-1.4zM755.4 1568.6h1.4v1.4h-1.4zM771.5 1562.9h1.4v1.4h-1.4zM749.1 1531.9h1.4v1.4h-1.4zM764.5 1563h1.4v1.4h-1.4zM783.7 1556.1h1.4v1.4h-1.4zM748.1 1565.4h1.4v1.4h-1.4zM737 1543.6h1.4v1.4h-1.4zM741.1 1562.8h1.4v1.4h-1.4zM789.1 1567h1.4v1.4h-1.4zM782.5 1561.8h1.4v1.4h-1.4zM766.8 1549.2h1.4v1.4h-1.4zM757.3 1530.7h1.4v1.4h-1.4zM741.7 1539.6h1.4v1.4h-1.4zM777.1 1569.3h1.4v1.4h-1.4zM777.9 1578.5h1.4v1.4h-1.4zM754.9 1575.9h1.4v1.4h-1.4z" fill="#e4e4f4" opacity="0.8"/>
<clipPath id="mcr1"><ellipse cx="737.8" cy="1421.8" rx="41" ry="40" fill="#000"/></clipPath>
<path d="M708.8 1430.8L731.8 1427.8L737.8 1422.8L747.8 1422.8L755.8 1435.8L763.8 1448.8L763.8 1472.8L703.8 1472.8z" fill="#ff2cb4" opacity="0.95" clip-path="url(#mcr1)"/>
<path d="M718.8 1412.8h22l2 16h-24z" fill="#e81a3c" opacity="0.9"/>
<ellipse cx="731.8" cy="1424.8" rx="3.5" ry="7" fill="#050505"/>
<ellipse cx="853.8" cy="1502.8" rx="3" ry="10" fill="#ff2a70"/>
<ellipse cx="835.8" cy="1557.8" rx="3" ry="11" fill="#ff2a80" transform="rotate(40 835.8 1557.8)"/>
<ellipse cx="729.8" cy="1504.8" rx="2.5" ry="6" fill="#ff2a70" transform="rotate(20 729.8 1504.8)"/>
<path d="M667.5 1474.4h1.2v1.2h-1.2zM710.1 1487.5h1.2v1.2h-1.2zM738.9 1381.1h1.5v1.5h-1.5zM661 1540.1h1.2v1.2h-1.2zM822.6 1408h1.2v1.2h-1.2zM752.8 1442.8h1.5v1.5h-1.5zM641.7 1490.7h2v2h-2zM755.7 1427h2v2h-2zM704.6 1490.2h1.5v1.5h-1.5zM830.1 1572h1.5v1.5h-1.5zM740.8 1506h1.2v1.2h-1.2zM775.5 1362.7h1.2v1.2h-1.2zM715.5 1552.1h2v2h-2zM849.3 1523.9h1.5v1.5h-1.5zM734.7 1570.8h1.5v1.5h-1.5zM757.9 1547.3h1.5v1.5h-1.5zM747.3 1417.4h2v2h-2zM712.7 1383.3h2v2h-2zM721.5 1509.7h1.2v1.2h-1.2zM658.1 1444.8h1.2v1.2h-1.2zM771.7 1533h1.2v1.2h-1.2zM715.9 1556.1h2v2h-2zM740.6 1523.8h1.2v1.2h-1.2zM808.3 1465.9h2v2h-2zM767.8 1526.6h1.2v1.2h-1.2zM640.6 1504h1.5v1.5h-1.5zM824.8 1370.7h1.2v1.2h-1.2zM677.6 1562.2h2v2h-2z" fill="#eeeeff" opacity="0.5"/>
<path d="M663.3 1511.2h2v2h-2zM635.4 1580.9h2v2h-2zM728.8 1479.9h1.5v1.5h-1.5zM736 1397.2h1.2v1.2h-1.2zM850.6 1370.9h2v2h-2zM827.5 1447.7h1.5v1.5h-1.5zM739.8 1426.9h1.5v1.5h-1.5zM788.5 1577.5h1.2v1.2h-1.2zM666.9 1393.4h1.5v1.5h-1.5zM649.3 1369.7h1.2v1.2h-1.2zM844.3 1488.7h1.5v1.5h-1.5zM735.6 1544.5h1.2v1.2h-1.2zM826.2 1491.1h1.5v1.5h-1.5zM774.8 1383.5h2v2h-2zM763.4 1523.9h1.2v1.2h-1.2zM765.9 1428.6h1.2v1.2h-1.2zM823.1 1502.5h2v2h-2zM786.2 1461.5h2v2h-2zM759.8 1446.5h1.5v1.5h-1.5zM807.1 1445.2h1.5v1.5h-1.5zM784.7 1509.6h1.2v1.2h-1.2z" fill="#eeeeff" opacity="0.75"/>
<path d="M734.7 1403.8h1.5v1.5h-1.5zM806.2 1407.5h1.2v1.2h-1.2zM765.8 1362.5h1.5v1.5h-1.5zM779 1536.8h2v2h-2zM686.2 1543.9h1.2v1.2h-1.2zM711 1509.7h2v2h-2zM753.5 1454.4h1.5v1.5h-1.5zM683.1 1572.2h2v2h-2zM685.9 1428.7h1.2v1.2h-1.2zM667.1 1549.2h1.2v1.2h-1.2zM795 1526.4h2v2h-2zM713.9 1550.8h1.5v1.5h-1.5zM665.6 1516.1h1.5v1.5h-1.5zM661.3 1519.4h1.5v1.5h-1.5zM749.8 1368.4h2v2h-2zM699.4 1472h1.5v1.5h-1.5zM740.6 1569.5h2v2h-2zM776.2 1364.3h1.5v1.5h-1.5zM634.3 1394h1.5v1.5h-1.5zM763.2 1403.7h1.5v1.5h-1.5zM769.6 1495.2h2v2h-2z" fill="#eeeeff" opacity="1"/>
<circle cx="829.8" cy="1429.8" r="2.6" fill="#ffffff"/>
<circle cx="661.8" cy="1549.8" r="2.6" fill="#ffffff"/>
<circle cx="727.8" cy="1497.8" r="2.2" fill="#ffffff"/>
<circle cx="760.8" cy="1462.8" r="2" fill="#ffffff"/>
<circle cx="713.8" cy="1542.8" r="1.6" fill="#ffffff"/>
<text x="828.8" y="1383.8" font-size="23" text-anchor="middle" fill="#f2f2f2">1w</text>
<rect x="772.8" y="1575.3" width="77.5" height="4" fill="#ffffff"/>
</g>
<clipPath id="mc2"><rect x="869.9" y="1352.8" width="231.6" height="230.7"/></clipPath>
<g clip-path="url(#mc2)">
<rect x="869.9" y="1352.8" width="231.6" height="230.7" fill="#03030a"/>
<path d="M988.6 1379a5.5 2.6 179 1 0-11 0.1a5.5 2.6 179 1 0 11-0.1zM984.6 1373.7a4.9 3.8 100 1 0-1.8 9.6a4.9 3.8 100 1 0 1.8-9.6zM991.5 1357.7a4.8 2.7 10 1 0 9.5 1.8a4.8 2.7 10 1 0-9.5-1.8zM950.3 1387.9a6 3.5 16 1 0 11.4 3.4a6 3.5 16 1 0-11.4-3.4zM1019.5 1386.9a3.8 3.1 97 1 0-0.9 7.6a3.8 3.1 97 1 0 0.9-7.6zM969.5 1488.2a5.9 3.2 68 1 0 4.3 11a5.9 3.2 68 1 0-4.3-11zM1000.2 1452.1a3.6 3.5 69 1 0 2.5 6.7a3.6 3.5 69 1 0-2.5-6.7zM981.8 1524.3a6.2 3.7 43 1 0 9.1 8.6a6.2 3.7 43 1 0-9.1-8.6zM1009.5 1472.3a3.6 3.1 162 1 0-6.9 2.2a3.6 3.1 162 1 0 6.9-2.2zM963.3 1506.6a4 2.4 161 1 0-7.5 2.5a4 2.4 161 1 0 7.5-2.5zM1008.1 1491a5.9 3 127 1 0-7.2 9.3a5.9 3 127 1 0 7.2-9.3zM1068.3 1521.5a5.6 3 12 1 0 10.9 2.5a5.6 3 12 1 0-10.9-2.5zM1096.2 1538.6a4.4 3.2 90 1 0 0 8.8a4.4 3.2 90 1 0 0-8.8zM1095.3 1516.4a4.8 2.5 99 1 0-1.6 9.5a4.8 2.5 99 1 0 1.6-9.5zM1086 1471.6a4.9 3.7 45 1 0 6.9 7a4.9 3.7 45 1 0-6.9-7zM886 1569.5a5 3.9 30 1 0 8.6 5.1a5 3.9 30 1 0-8.6-5.1zM888.1 1543.2a6.4 3.2 156 1 0-11.7 5.2a6.4 3.2 156 1 0 11.7-5.2zM922.5 1542.6a6.1 3.6 100 1 0-2.1 12a6.1 3.6 100 1 0 2.1-12zM926.7 1567.6a5.1 2.4 65 1 0 4.2 9.4a5.1 2.4 65 1 0-4.2-9.4zM902.9 1540.8a3.8 2.4 144 1 0-6.1 4.4a3.8 2.4 144 1 0 6.1-4.4zM923.3 1528.2a6 2.4 88 1 0 0.3 12.1a6 2.4 88 1 0-0.3-12.1zM869.5 1355.8a3.7 2.4 5 1 0 7.3 0.7a3.7 2.4 5 1 0-7.3-0.7zM881.9 1361.1a5.4 3.7 70 1 0 3.7 10.3a5.4 3.7 70 1 0-3.7-10.3z" fill="#1e26e0"/>
<path d="M1011.7 1352.5a5.6 2.9 143 1 0-9 6.6a5.6 2.9 143 1 0 9-6.6zM1008.6 1364.3a4.8 3.4 109 1 0-3.2 9a4.8 3.4 109 1 0 3.2-9zM1012.3 1384.3a4.7 2.9 42 1 0 6.9 6.3a4.7 2.9 42 1 0-6.9-6.3zM958.8 1472a4.9 3.9 43 1 0 7.2 6.7a4.9 3.9 43 1 0-7.2-6.7zM1001.3 1462a4.4 3.8 59 1 0 4.5 7.5a4.4 3.8 59 1 0-4.5-7.5zM963.8 1502.1a5.6 2.6 75 1 0 2.8 10.8a5.6 2.6 75 1 0-2.8-10.8zM1078 1482.8a5.9 3.5 111 1 0-4.4 10.9a5.9 3.5 111 1 0 4.4-10.9zM1086.8 1549.4a5.5 3.9 31 1 0 9.3 5.7a5.5 3.9 31 1 0-9.3-5.7zM1074.7 1489.9a6.3 2.4 65 1 0 5.2 11.6a6.3 2.4 65 1 0-5.2-11.6zM1096.4 1496.8a5.7 2.9 161 1 0-10.8 3.7a5.7 2.9 161 1 0 10.8-3.7zM1097.4 1551.4a5.3 2.6 115 1 0-4.6 9.6a5.3 2.6 115 1 0 4.6-9.6zM913.3 1566.9a5.6 4 138 1 0-8.5 7.4a5.6 4 138 1 0 8.5-7.4zM876.4 1573.2a4.1 2.7 166 1 0-8 1.9a4.1 2.7 166 1 0 8-1.9zM904.6 1563a4.9 3.4 153 1 0-8.8 4.4a4.9 3.4 153 1 0 8.8-4.4zM896.5 1374.1a6.4 3.5 98 1 0-1.9 12.6a6.4 3.5 98 1 0 1.9-12.6zM895.1 1367.1a3.7 3.9 11 1 0 7.3 1.4a3.7 3.9 11 1 0-7.3-1.4zM900 1350.1a4.2 3.9 113 1 0-3.3 7.7a4.2 3.9 113 1 0 3.3-7.7z" fill="#2830f8"/>
<path d="M1006.1 1371.8a6.4 3.8 30 1 0 11 6.6a6.4 3.8 30 1 0-11-6.6zM985.2 1375.7a3.7 2.7 47 1 0 5.1 5.5a3.7 2.7 47 1 0-5.1-5.5zM992.9 1457.1a5.1 2.7 49 1 0 6.7 7.8a5.1 2.7 49 1 0-6.7-7.8zM975.2 1487.4a5.3 3.6 82 1 0 1.4 10.5a5.3 3.6 82 1 0-1.4-10.5zM1005.2 1486.7a5.1 2.7 39 1 0 7.9 6.6a5.1 2.7 39 1 0-7.9-6.6zM950.5 1450.6a5.4 4 90 1 0-0.1 10.7a5.4 4 90 1 0 0.1-10.7zM945.9 1476.5a5.9 3.7 21 1 0 10.9 4.3a5.9 3.7 21 1 0-10.9-4.3zM1001.9 1492.1a5 3 170 1 0-9.8 1.7a5 3 170 1 0 9.8-1.7zM998.6 1500.2a4.8 3.7 51 1 0 6 7.5a4.8 3.7 51 1 0-6-7.5zM968.5 1482.6a6.4 3.3 129 1 0-8.2 10a6.4 3.3 129 1 0 8.2-10zM995.6 1495a4.5 3 69 1 0 3.2 8.5a4.5 3 69 1 0-3.2-8.5zM1078.4 1459.8a4.5 3.5 56 1 0 5 7.5a4.5 3.5 56 1 0-5-7.5zM1074 1530.1a5 2.5 61 1 0 4.7 8.7a5 2.5 61 1 0-4.7-8.7zM1088.1 1470.6a4.9 3.4 44 1 0 6.9 6.9a4.9 3.4 44 1 0-6.9-6.9zM1087.7 1559.9a6 2.8 125 1 0-7 9.7a6 2.8 125 1 0 7-9.7zM1068.6 1554.7a4.4 3.9 50 1 0 5.5 6.8a4.4 3.9 50 1 0-5.5-6.8zM923.3 1558.7a5.9 3.1 118 1 0-5.6 10.3a5.9 3.1 118 1 0 5.6-10.3zM894.9 1370.9a6.3 3.6 134 1 0-8.8 9a6.3 3.6 134 1 0 8.8-9zM893.2 1365.5a3.7 3.7 168 1 0-7.2 1.5a3.7 3.7 168 1 0 7.2-1.5z" fill="#1a20c8"/>
<ellipse cx="941.9" cy="1357.8" rx="38" ry="16" fill="url(#cryptg)"/>
<ellipse cx="941.9" cy="1357.8" rx="38" ry="16" fill="url(#nucp)"/>
<path d="M960.7 1357.7L947.8 1359.7L951.3 1364.7L942.6 1361L931.3 1364.9L936.4 1359.5L922.1 1358.8L937 1356.4L934.2 1349.7L942.3 1354.4L948.5 1351.6L947.1 1356.6z" fill="#04040c" opacity="0.85"/>
<ellipse cx="1062.9" cy="1359.8" rx="42" ry="18" fill="url(#cryptg)"/>
<ellipse cx="1062.9" cy="1359.8" rx="42" ry="18" fill="url(#nucp)"/>
<path d="M1084.2 1359.7L1068.7 1361.4L1075.2 1366.5L1063.6 1363.9L1051.4 1367.3L1055 1361.7L1042.9 1360.7L1053.7 1358L1049.4 1352.3L1061.7 1355.9L1072 1352.2L1068.7 1358.7z" fill="#04040c" opacity="0.85"/>
<ellipse cx="906.9" cy="1428.8" rx="37" ry="37" fill="url(#cryptr)"/>
<ellipse cx="906.9" cy="1428.8" rx="37" ry="37" fill="url(#nucp)"/>
<path d="M925.7 1427.4L914.2 1433.6L916.6 1442.5L907.6 1435.1L897.8 1442.3L901.4 1431.9L889.2 1429.9L900.6 1424.2L896.4 1415.5L906 1420.1L918.1 1412.9L914.5 1425.4z" fill="#04040c" opacity="0.85"/>
<path d="M928.8 1421.6h1.4v1.4h-1.4zM905.9 1452.7h1.4v1.4h-1.4zM884.5 1430.7h1.4v1.4h-1.4zM891.3 1422.1h1.4v1.4h-1.4zM895.7 1441.6h1.4v1.4h-1.4zM903.4 1437h1.4v1.4h-1.4zM916.7 1407.8h1.4v1.4h-1.4zM928.3 1426.9h1.4v1.4h-1.4zM885.8 1421.3h1.4v1.4h-1.4zM921 1444.8h1.4v1.4h-1.4z" fill="#e4e4f4" opacity="0.8"/>
<ellipse cx="1041.4" cy="1423.8" rx="53" ry="39" fill="url(#cryptr)"/>
<ellipse cx="1041.4" cy="1423.8" rx="53" ry="39" fill="url(#nucp)"/>
<path d="M1068.4 1421.4L1052.3 1428.9L1054.9 1438.6L1040.6 1432.2L1029.3 1441.6L1031.1 1428.5L1017.6 1425.8L1033.5 1419.4L1025.8 1406.8L1041.7 1417.4L1055.2 1406.8L1050.7 1418.9z" fill="#04040c" opacity="0.85"/>
<path d="M1056.8 1434.9h1.4v1.4h-1.4zM1055.9 1430h1.4v1.4h-1.4zM1064.7 1421.4h1.4v1.4h-1.4zM1065.9 1422.7h1.4v1.4h-1.4zM1014.4 1407.9h1.4v1.4h-1.4zM1036.6 1415.4h1.4v1.4h-1.4zM1016.4 1412.3h1.4v1.4h-1.4zM1046.2 1431.4h1.4v1.4h-1.4zM1060.2 1409.9h1.4v1.4h-1.4zM1050 1441h1.4v1.4h-1.4zM1048 1447.7h1.4v1.4h-1.4zM1029.5 1423.8h1.4v1.4h-1.4zM1046 1416.4h1.4v1.4h-1.4zM1040.2 1428.3h1.4v1.4h-1.4zM1040.6 1414.6h1.4v1.4h-1.4z" fill="#e4e4f4" opacity="0.8"/>
<ellipse cx="910.9" cy="1506.8" rx="40" ry="35" fill="url(#cryptr)"/>
<ellipse cx="910.9" cy="1506.8" rx="40" ry="35" fill="url(#nucp)"/>
<path d="M927.8 1508.9L916.4 1510L917.2 1520.7L909.9 1514.4L897.9 1522.3L904.8 1510.4L892.5 1505.8L904.7 1504.2L902.3 1489.7L911.5 1500.8L922.8 1493.2L917.3 1502.9z" fill="#04040c" opacity="0.85"/>
<path d="M904 1510.1h1.4v1.4h-1.4zM895.5 1501h1.4v1.4h-1.4zM886.4 1496.8h1.4v1.4h-1.4zM900 1494.4h1.4v1.4h-1.4zM929.2 1488.3h1.4v1.4h-1.4zM883.7 1508.3h1.4v1.4h-1.4zM921.3 1507.9h1.4v1.4h-1.4zM923.6 1527.7h1.4v1.4h-1.4zM902.2 1487.5h1.4v1.4h-1.4zM906.4 1523.6h1.4v1.4h-1.4z" fill="#e4e4f4" opacity="0.8"/>
<ellipse cx="1027.5" cy="1512.8" rx="47" ry="46" fill="url(#cryptg)"/>
<ellipse cx="1027.5" cy="1512.8" rx="47" ry="46" fill="url(#nucp)"/>
<path d="M1050.3 1511.9L1035.5 1517.1L1040 1532.7L1028.2 1522.6L1019.5 1532.6L1021 1516.9L1005.8 1511.2L1018 1506.3L1013.3 1492.4L1028.4 1502.9L1035.9 1492.2L1035 1508.9z" fill="#04040c" opacity="0.85"/>
<path d="M1030.4 1530.5h1.4v1.4h-1.4zM1026 1541.3h1.4v1.4h-1.4zM1015.2 1529.9h1.4v1.4h-1.4zM1007.5 1488.3h1.4v1.4h-1.4zM1025.7 1519.3h1.4v1.4h-1.4zM1057.1 1508h1.4v1.4h-1.4zM1033.5 1490.2h1.4v1.4h-1.4zM1028.7 1525.4h1.4v1.4h-1.4zM1020 1533.4h1.4v1.4h-1.4zM1052.7 1523.6h1.4v1.4h-1.4z" fill="#e4e4f4" opacity="0.8"/>
<ellipse cx="944.9" cy="1580.8" rx="38" ry="16" fill="url(#cryptg)"/>
<ellipse cx="944.9" cy="1580.8" rx="38" ry="16" fill="url(#nucp)"/>
<path d="M964.9 1580.9L950.3 1582.6L953.3 1588.2L944.6 1583.4L938.2 1587.8L938.9 1582L927.2 1580.8L937.4 1578.5L933.9 1573.3L943.7 1577.1L954.9 1575.1L951.9 1579.3z" fill="#04040c" opacity="0.85"/>
<ellipse cx="877.9" cy="1574.8" rx="22" ry="16" fill="url(#cryptg)"/>
<ellipse cx="877.9" cy="1574.8" rx="22" ry="16" fill="url(#nucp)"/>
<path d="M889 1574L881.2 1576L883.3 1581.5L877.9 1577.9L873.5 1581.4L874.3 1576.1L866.4 1574.4L873.6 1572.5L872.2 1568.8L878.2 1571.5L882.6 1567.4L882.6 1573.3z" fill="#04040c" opacity="0.85"/>
<ellipse cx="1095.9" cy="1560.8" rx="15" ry="26" fill="url(#cryptg)"/>
<ellipse cx="1095.9" cy="1560.8" rx="15" ry="26" fill="url(#nucp)"/>
<path d="M1103.7 1561.5L1098.5 1563.4L1100.2 1572.9L1096.1 1565.1L1092.9 1571.5L1093.7 1563.3L1089 1562.2L1093.1 1558.4L1092.2 1551.6L1095.6 1555.5L1099.5 1548.9L1098.5 1558.7z" fill="#04040c" opacity="0.85"/>
<clipPath id="mcr2"><ellipse cx="1027.5" cy="1512.8" rx="46" ry="45" fill="#000"/></clipPath>
<path d="M969.9 1510.8L1019.9 1504.8L1044.9 1510.8L1074.9 1517.8L1074.9 1567.8L969.9 1567.8z" fill="#f0286a" opacity="0.9" clip-path="url(#mcr2)"/>
<path d="M1041.9 1517.8l10 18l-4 4z" fill="#101018"/>
<ellipse cx="975.9" cy="1432.8" rx="3.5" ry="17" fill="#ff3a80" transform="rotate(4 975.9 1432.8)"/>
<circle cx="962.9" cy="1447.8" r="5" fill="#e040c0"/>
<circle cx="986.9" cy="1450.8" r="4" fill="#ff4a90"/>
<circle cx="916.9" cy="1557.8" r="4" fill="#ff50a0"/>
<circle cx="1081.9" cy="1488.8" r="2.5" fill="#ff50b0"/>
<path d="M1020.2 1433.2h1.2v1.2h-1.2zM933.2 1366.1h2v2h-2zM932 1450.4h1.2v1.2h-1.2zM1004.6 1567.4h2v2h-2zM1030.9 1493.6h1.5v1.5h-1.5zM914 1365.9h2v2h-2zM1044.3 1558.7h1.5v1.5h-1.5zM926.2 1356.3h1.5v1.5h-1.5zM910.9 1478.7h1.5v1.5h-1.5zM917.8 1512.1h1.2v1.2h-1.2zM951.6 1369.3h1.2v1.2h-1.2zM1043.2 1486.5h2v2h-2zM963.6 1381.4h2v2h-2zM880.6 1440.4h2v2h-2z" fill="#eeeeff" opacity="0.5"/>
<path d="M1072.7 1444.9h1.2v1.2h-1.2zM1000.1 1444.8h1.2v1.2h-1.2zM1002.9 1482h2v2h-2zM892.5 1455.4h1.2v1.2h-1.2zM946.6 1435.8h1.2v1.2h-1.2zM965.4 1542.5h2v2h-2zM1015.1 1490.1h2v2h-2zM912.3 1372.1h1.2v1.2h-1.2zM1026.4 1579.9h2v2h-2zM982.7 1370.2h1.2v1.2h-1.2zM918.6 1525.7h2v2h-2zM883.1 1511h1.5v1.5h-1.5z" fill="#eeeeff" opacity="0.75"/>
<path d="M1090 1386.6h1.2v1.2h-1.2zM1099.2 1396.6h1.2v1.2h-1.2zM1084 1510.1h1.5v1.5h-1.5zM1073 1485.6h1.2v1.2h-1.2zM1089.6 1425.6h2v2h-2zM904.3 1541.9h2v2h-2zM967.4 1411.8h1.5v1.5h-1.5zM1049.7 1368h1.2v1.2h-1.2zM880.3 1476.2h2v2h-2zM881.7 1382h2v2h-2zM902.8 1419.2h2v2h-2zM1067.3 1462.7h1.2v1.2h-1.2zM1034.4 1571.2h1.2v1.2h-1.2zM930.8 1381.9h1.2v1.2h-1.2z" fill="#eeeeff" opacity="1"/>
<circle cx="964.9" cy="1483.8" r="2" fill="#ffffff"/>
<circle cx="992.9" cy="1553.8" r="1.6" fill="#ffffff"/>
<text x="1074.9" y="1383.8" font-size="23" text-anchor="middle" fill="#f2f2f2">1w</text>
<rect x="1018.9" y="1575.3" width="77.5" height="4" fill="#ffffff"/>
</g>
<clipPath id="mc3"><rect x="623.8" y="1623.2" width="231.3" height="230.5"/></clipPath>
<g clip-path="url(#mc3)">
<rect x="623.8" y="1623.2" width="231.3" height="230.5" fill="#03030a"/>
<path d="M679.7 1685.7a5.6 3.8 117 1 0-5.1 9.9a5.6 3.8 117 1 0 5.1-9.9zM714.3 1692.6a5.4 2.7 95 1 0-1.1 10.8a5.4 2.7 95 1 0 1.1-10.8zM720.6 1695.3a5.9 2.8 87 1 0 0.5 11.8a5.9 2.8 87 1 0-0.5-11.8zM694.1 1666.7a5 2.8 159 1 0-9.3 3.5a5 2.8 159 1 0 9.3-3.5zM746.6 1696.2a5.4 3.2 179 1 0-10.9 0.1a5.4 3.2 179 1 0 10.9-0.1zM669 1674.4a4.3 3.4 168 1 0-8.5 1.7a4.3 3.4 168 1 0 8.5-1.7zM700.7 1693.7a3.6 2.9 89 1 0 0.1 7.2a3.6 2.9 89 1 0-0.1-7.2zM731.7 1668.5a5.3 3 106 1 0-3 10.1a5.3 3 106 1 0 3-10.1zM721.5 1683.7a3.5 3.6 80 1 0 1.1 6.9a3.5 3.6 80 1 0-1.1-6.9zM739.7 1677.1a3.7 3.2 26 1 0 6.6 3.3a3.7 3.2 26 1 0-6.6-3.3zM692.4 1677.4a4.5 3.7 8 1 0 9 1.3a4.5 3.7 8 1 0-9-1.3zM661.9 1661.7a3.6 3.6 94 1 0-0.5 7.2a3.6 3.6 94 1 0 0.5-7.2zM679.9 1662.7a4.5 3.4 111 1 0-3.4 8.3a4.5 3.4 111 1 0 3.4-8.3zM754.6 1720.6a4.4 3.6 17 1 0 8.4 2.6a4.4 3.6 17 1 0-8.4-2.6zM745.2 1704.1a4.7 2.6 81 1 0 1.5 9.2a4.7 2.6 81 1 0-1.5-9.2zM738.1 1693.8a4.3 2.9 171 1 0-8.5 1.2a4.3 2.9 171 1 0 8.5-1.2zM741.2 1791a6.3 3.7 122 1 0-6.8 10.6a6.3 3.7 122 1 0 6.8-10.6zM757.8 1774.6a5.3 2.8 22 1 0 9.7 4a5.3 2.8 22 1 0-9.7-4zM764.8 1792.5a5.6 3 137 1 0-8.2 7.5a5.6 3 137 1 0 8.2-7.5zM744.5 1768.3a5.7 2.5 0 1 0 11.5 0.1a5.7 2.5 0 1 0-11.5-0.1zM748.6 1733.8a6.4 2.5 118 1 0-6 11.3a6.4 2.5 118 1 0 6-11.3zM767.3 1765a5.4 2.9 28 1 0 9.4 5.2a5.4 2.9 28 1 0-9.4-5.2zM743.5 1723.4a4.8 4 118 1 0-4.6 8.4a4.8 4 118 1 0 4.6-8.4zM756.6 1777.2a5.9 3.8 20 1 0 11.1 4a5.9 3.8 20 1 0-11.1-4zM758.3 1755.3a4.3 3.6 17 1 0 8.3 2.6a4.3 3.6 17 1 0-8.3-2.6zM761.6 1764.5a4.8 3.5 86 1 0 0.7 9.5a4.8 3.5 86 1 0-0.7-9.5zM768.6 1784.8a4.8 3.1 127 1 0-5.8 7.7a4.8 3.1 127 1 0 5.8-7.7zM807.1 1811.1a6.2 3 99 1 0-2.2 12.3a6.2 3 99 1 0 2.2-12.3zM831 1799.9a6.1 2.7 125 1 0-7.2 9.9a6.1 2.7 125 1 0 7.2-9.9zM792.7 1795.4a4.8 3.9 83 1 0 1 9.5a4.8 3.9 83 1 0-1-9.5zM628.7 1686.7a6 4 101 1 0-2.4 11.7a6 4 101 1 0 2.4-11.7zM635.1 1689.1a5.2 2.5 68 1 0 3.8 9.7a5.2 2.5 68 1 0-3.8-9.7zM640.5 1717.5a4 2.6 104 1 0-2 7.8a4 2.6 104 1 0 2-7.8z" fill="#1e26e0"/>
<path d="M677.8 1675a4.8 3.7 179 1 0-9.6 0.1a4.8 3.7 179 1 0 9.6-0.1zM721.7 1698.8a3.6 2.6 150 1 0-6.3 3.5a3.6 2.6 150 1 0 6.3-3.5zM732.4 1672.8a5.6 2.6 108 1 0-3.6 10.7a5.6 2.6 108 1 0 3.6-10.7zM713.5 1671a5.4 3.3 6 1 0 10.6 1.3a5.4 3.3 6 1 0-10.6-1.3zM707 1682a4 2.7 99 1 0-1.4 8a4 2.7 99 1 0 1.4-8zM737.6 1666a4.8 3.4 125 1 0-5.5 7.8a4.8 3.4 125 1 0 5.5-7.8zM657.2 1674.2a4 2.9 69 1 0 2.7 7.5a4 2.9 69 1 0-2.7-7.5zM661.4 1668.2a4.6 3.1 178 1 0-9.2 0.3a4.6 3.1 178 1 0 9.2-0.3zM728.1 1690a6.2 3.8 26 1 0 11.1 5.6a6.2 3.8 26 1 0-11.1-5.6zM684.5 1663.2a5.1 2.5 24 1 0 9.3 4.3a5.1 2.5 24 1 0-9.3-4.3zM698.8 1691.6a5.1 2.9 53 1 0 6.1 8.2a5.1 2.9 53 1 0-6.1-8.2zM753.5 1691.1a6.2 3.2 32 1 0 10.5 6.6a6.2 3.2 32 1 0-10.5-6.6zM754.3 1689.9a5.6 3.9 77 1 0 2.5 10.9a5.6 3.9 77 1 0-2.5-10.9zM757.2 1691.3a6.1 2.6 27 1 0 10.8 5.7a6.1 2.6 27 1 0-10.8-5.7zM762.6 1760.5a6.5 2.8 133 1 0-8.9 9.4a6.5 2.8 133 1 0 8.9-9.4zM741.1 1726.4a5.1 2.6 92 1 0-0.4 10.3a5.1 2.6 92 1 0 0.4-10.3zM770 1741a6.3 2.4 80 1 0 2.1 12.4a6.3 2.4 80 1 0-2.1-12.4zM742.7 1724.2a6 3.6 31 1 0 10.2 6.2a6 3.6 31 1 0-10.2-6.2zM770.1 1771.9a3.8 3.2 18 1 0 7.2 2.4a3.8 3.2 18 1 0-7.2-2.4zM762.1 1731.4a5.6 3.2 18 1 0 10.7 3.5a5.6 3.2 18 1 0-10.7-3.5zM743.3 1780.6a5.7 2.6 28 1 0 10.1 5.5a5.7 2.6 28 1 0-10.1-5.5zM811.6 1838.2a5.7 3.6 7 1 0 11.2 1.5a5.7 3.6 7 1 0-11.2-1.5zM772.2 1811.8a5.7 3.1 28 1 0 10 5.5a5.7 3.1 28 1 0-10-5.5zM805.1 1835.2a5.3 3 23 1 0 9.8 4.3a5.3 3 23 1 0-9.8-4.3zM636 1686.1a5.8 2.5 11 1 0 11.4 2.4a5.8 2.5 11 1 0-11.4-2.4zM651 1720.8a5.9 3.5 129 1 0-7.5 9a5.9 3.5 129 1 0 7.5-9zM646.1 1678.6a5.8 3.1 120 1 0-5.9 10a5.8 3.1 120 1 0 5.9-10z" fill="#1a20c8"/>
<path d="M746.4 1694.6a3.8 3.7 148 1 0-6.4 3.9a3.8 3.7 148 1 0 6.4-3.9zM723.8 1681.4a4.8 3 114 1 0-4 8.7a4.8 3 114 1 0 4-8.7zM715.8 1672.7a5.3 3.4 124 1 0-6 8.7a5.3 3.4 124 1 0 6-8.7zM704.1 1689.3a3.9 3.5 96 1 0-0.9 7.8a3.9 3.5 96 1 0 0.9-7.8zM681.7 1666.1a4.6 3 108 1 0-3 8.6a4.6 3 108 1 0 3-8.6zM715.3 1663.9a4.8 3.4 70 1 0 3.3 9a4.8 3.4 70 1 0-3.3-9zM707.5 1666.8a4.7 3.8 36 1 0 7.6 5.6a4.7 3.8 36 1 0-7.6-5.6zM745.1 1681a4.9 3.5 143 1 0-7.9 5.8a4.9 3.5 143 1 0 7.9-5.8zM689.8 1688.4a4 2.6 123 1 0-4.3 6.7a4 2.6 123 1 0 4.3-6.7zM687.7 1687.5a4.8 2.9 15 1 0 9.2 2.6a4.8 2.9 15 1 0-9.2-2.6zM654.4 1682.7a3.9 3.7 29 1 0 6.7 3.9a3.9 3.7 29 1 0-6.7-3.9zM671.8 1693.9a4.2 3.7 35 1 0 6.9 4.8a4.2 3.7 35 1 0-6.9-4.8zM761.3 1704.4a4 3.7 73 1 0 2.2 7.6a4 3.7 73 1 0-2.2-7.6zM742.4 1711.3a6.4 3.1 128 1 0-7.9 10a6.4 3.1 128 1 0 7.9-10zM737.9 1712.4a4.4 3.8 102 1 0-2 8.6a4.4 3.8 102 1 0 2-8.6zM729.1 1712.8a6.3 2.8 3 1 0 12.5 0.8a6.3 2.8 3 1 0-12.5-0.8zM739.9 1744.1a5 3.3 117 1 0-4.6 8.9a5 3.3 117 1 0 4.6-8.9zM768.6 1790.6a4.6 3.7 144 1 0-7.6 5.3a4.6 3.7 144 1 0 7.6-5.3zM751.4 1723.3a6.1 3.2 60 1 0 5.9 10.6a6.1 3.2 60 1 0-5.9-10.6zM761 1801.2a6 3.2 168 1 0-11.8 2.5a6 3.2 168 1 0 11.8-2.5zM766 1754.6a4.8 2.8 145 1 0-7.8 5.5a4.8 2.8 145 1 0 7.8-5.5zM754.5 1733.3a6.1 3.9 26 1 0 10.8 5.5a6.1 3.9 26 1 0-10.8-5.5zM754.5 1734.1a4.5 3.1 3 1 0 9.1 0.5a4.5 3.1 3 1 0-9.1-0.5zM790.3 1816.8a3.7 3.9 138 1 0-5.5 4.9a3.7 3.9 138 1 0 5.5-4.9zM818.4 1823.3a6 3.4 143 1 0-9.6 7a6 3.4 143 1 0 9.6-7zM805.3 1838.9a5.3 3.3 79 1 0 2 10.4a5.3 3.3 79 1 0-2-10.4zM838.4 1792.8a6.4 2.5 161 1 0-12.2 4a6.4 2.5 161 1 0 12.2-4zM832.3 1816.2a5.2 2.5 39 1 0 8 6.7a5.2 2.5 39 1 0-8-6.7zM845.3 1796.8a6.4 3.3 14 1 0 12.4 3.2a6.4 3.3 14 1 0-12.4-3.2zM818.6 1832.1a3.5 3.5 115 1 0-3 6.4a3.5 3.5 115 1 0 3-6.4zM777 1839.7a4.1 3.6 94 1 0-0.7 8.2a4.1 3.6 94 1 0 0.7-8.2zM624.8 1724.9a6.4 3.5 0 1 0 12.8 0.1a6.4 3.5 0 1 0-12.8-0.1zM624.6 1741a4.9 3.7 25 1 0 8.7 4.2a4.9 3.7 25 1 0-8.7-4.2zM633.3 1689.2a5.4 2.8 51 1 0 6.7 8.4a5.4 2.8 51 1 0-6.7-8.4z" fill="#2830f8"/>
<ellipse cx="685.8" cy="1637.2" rx="38" ry="28" fill="url(#cryptr)"/>
<ellipse cx="685.8" cy="1637.2" rx="38" ry="28" fill="url(#nucp)"/>
<path d="M705.1 1635.8L692.2 1640.2L697.2 1649.2L685.1 1642.8L677.1 1648.2L680.2 1640.5L669.3 1636.9L680.4 1634.4L676.5 1627.3L687.1 1631L697.1 1625.9L691.3 1634z" fill="#04040c" opacity="0.85"/>
<ellipse cx="629.8" cy="1659.2" rx="20" ry="40" fill="url(#cryptr)"/>
<ellipse cx="629.8" cy="1659.2" rx="20" ry="40" fill="url(#nucp)"/>
<path d="M638.6 1661.6L634.4 1662.9L634.9 1673.5L629.6 1666.6L624.4 1673.8L626.4 1661.9L619 1658.5L625.7 1653.9L626 1643.8L630.3 1650.9L633.8 1643.2L633.6 1655.8z" fill="#04040c" opacity="0.85"/>
<ellipse cx="803.8" cy="1764.2" rx="38" ry="33" fill="url(#cryptr)"/>
<ellipse cx="803.8" cy="1764.2" rx="38" ry="33" fill="url(#nucp)"/>
<path d="M824.3 1766.5L808.6 1767.3L812.4 1778.1L803.7 1769.6L796.2 1778.6L797.7 1767.9L787.4 1766.2L797.7 1760.7L794 1749.4L803.5 1759.1L814.6 1750.7L811 1761z" fill="#04040c" opacity="0.85"/>
<path d="M819.6 1761.7h1.4v1.4h-1.4zM804.8 1750.2h1.4v1.4h-1.4zM784.4 1756h1.4v1.4h-1.4zM800.7 1770.4h1.4v1.4h-1.4zM781.6 1767.4h1.4v1.4h-1.4zM788.8 1755.9h1.4v1.4h-1.4zM796.7 1756.5h1.4v1.4h-1.4zM810.4 1776h1.4v1.4h-1.4zM808.5 1754.8h1.4v1.4h-1.4zM810.1 1769h1.4v1.4h-1.4z" fill="#e4e4f4" opacity="0.8"/>
<ellipse cx="706.8" cy="1823.2" rx="45" ry="28" fill="url(#cryptr)"/>
<ellipse cx="706.8" cy="1823.2" rx="45" ry="28" fill="url(#nucp)"/>
<path d="M730.6 1824.1L717 1826.1L720 1834.8L708 1829.5L697.4 1836.3L697.6 1826L682.8 1823.5L701.1 1820.4L694.7 1810L707.4 1817.8L717.8 1809.6L714.9 1819.4z" fill="#04040c" opacity="0.85"/>
<path d="M713.7 1816.7h1.4v1.4h-1.4zM698.7 1832.8h1.4v1.4h-1.4zM688.4 1820.1h1.4v1.4h-1.4zM730.6 1811.5h1.4v1.4h-1.4zM694.8 1840.2h1.4v1.4h-1.4zM715.7 1825.8h1.4v1.4h-1.4zM692.5 1808.1h1.4v1.4h-1.4zM720 1805.5h1.4v1.4h-1.4zM717.1 1815.4h1.4v1.4h-1.4zM705.4 1804.4h1.4v1.4h-1.4z" fill="#e4e4f4" opacity="0.8"/>
<ellipse cx="842.8" cy="1826.2" rx="25" ry="30" fill="url(#cryptr)"/>
<ellipse cx="842.8" cy="1826.2" rx="25" ry="30" fill="url(#nucp)"/>
<path d="M856.3 1825.6L846.3 1829.2L847.9 1840.1L843.6 1833.5L837.8 1838.7L838.3 1829.5L830.1 1827.9L838.7 1822.7L837.5 1812.5L843.2 1821.2L848.4 1813.3L847.8 1821.8z" fill="#04040c" opacity="0.85"/>
<ellipse cx="632.8" cy="1836.2" rx="20" ry="30" fill="url(#cryptr)"/>
<ellipse cx="632.8" cy="1836.2" rx="20" ry="30" fill="url(#nucp)"/>
<path d="M641.8 1837.2L636.6 1838.9L639.2 1848.6L632.6 1840.8L627.5 1848.5L628.5 1839.6L623.4 1834.1L629.1 1832.2L629.6 1824.3L633.3 1831.1L636.8 1822.5L637.3 1833.2z" fill="#04040c" opacity="0.85"/>
<ellipse cx="679.8" cy="1750.2" rx="48" ry="47" fill="url(#cryptr)"/>
<ellipse cx="679.8" cy="1750.2" rx="48" ry="47" fill="url(#nucp)"/>
<path d="M704.4 1751.3L686.2 1755.1L695.2 1769.9L680.2 1759L667.3 1767.4L671 1753.9L654.1 1753.5L673.3 1746.4L669.5 1727.8L680.5 1740.1L692.5 1734.5L689.3 1746.5z" fill="#04040c" opacity="0.85"/>
<path d="M679.3 1775.9h1.4v1.4h-1.4zM665.6 1772.8h1.4v1.4h-1.4zM672.9 1727.4h1.4v1.4h-1.4zM696.9 1762.2h1.4v1.4h-1.4zM670.5 1777.2h1.4v1.4h-1.4zM706.7 1738.1h1.4v1.4h-1.4zM666.2 1747.6h1.4v1.4h-1.4zM675.2 1733.9h1.4v1.4h-1.4zM693.8 1750h1.4v1.4h-1.4zM683.8 1749.4h1.4v1.4h-1.4zM683.5 1731.2h1.4v1.4h-1.4zM660.4 1740.7h1.4v1.4h-1.4zM671.9 1770.5h1.4v1.4h-1.4zM687.8 1732.3h1.4v1.4h-1.4zM660.7 1772.5h1.4v1.4h-1.4z" fill="#e4e4f4" opacity="0.8"/>
<ellipse cx="792.8" cy="1679.2" rx="52" ry="44" fill="url(#cryptg)" transform="rotate(20 792.8 1679.2)"/>
<ellipse cx="792.8" cy="1679.2" rx="52" ry="44" fill="url(#nucp)" transform="rotate(20 792.8 1679.2)"/>
<path d="M815 1684.9L798.5 1685.4L800.9 1700.4L790.4 1686.4L773.5 1694.1L784.7 1680.9L769.8 1673.8L783.1 1671.1L785 1654.9L795.1 1668.8L812 1665.5L801.7 1678.7z" fill="#04040c" opacity="0.85"/>
<ellipse cx="792.8" cy="1679.2" rx="52" ry="44" fill="#ff2a64" transform="rotate(20 792.8 1679.2)"/>
<clipPath id="mcr3a"><ellipse cx="792.8" cy="1679.2" rx="52" ry="44" fill="#000" transform="rotate(20 792.8 1679.2)"/></clipPath>
<path d="M773.8 1623.2L863.8 1623.2L863.8 1743.2L803.8 1743.2z" fill="#f838c8" opacity="0.55" clip-path="url(#mcr3a)"/>
<ellipse cx="785.8" cy="1670.2" rx="7" ry="6" fill="#050505"/>
<path d="M765.8 1693.2q20-10 45-20l1 4q-24 10-45 21z" fill="#1a0508"/>
<ellipse cx="750.8" cy="1683.2" rx="5" ry="7" fill="#2a30e0"/>
<ellipse cx="821.8" cy="1671.2" rx="8" ry="6" fill="#4040f0" opacity="0.7"/>
<clipPath id="mcr3b"><ellipse cx="679.8" cy="1750.2" rx="48" ry="47" fill="#000"/></clipPath>
<path d="M623.8 1693.2L675.8 1701.2L681.8 1723.2L693.8 1773.2L695.8 1803.2L623.8 1803.2z" fill="#ff2a6a" opacity="0.93" clip-path="url(#mcr3b)"/>
<clipPath id="mcr3c"><ellipse cx="679.8" cy="1750.2" rx="48" ry="47" fill="#000"/></clipPath>
<path d="M623.8 1723.2L658.8 1733.2L668.8 1803.2L623.8 1803.2z" fill="#f040d0" opacity="0.5" clip-path="url(#mcr3c)"/>
<path d="M668.8 1748.2l8-6l8 4l-6 6z" fill="#080308"/>
<ellipse cx="736.8" cy="1773.2" rx="3" ry="9" fill="#e040c0"/>
<path d="M836 1840.1h1.2v1.2h-1.2zM655.4 1668.7h1.5v1.5h-1.5zM676 1728.3h1.2v1.2h-1.2zM645.3 1786h1.5v1.5h-1.5zM742.3 1791.5h1.5v1.5h-1.5zM628.7 1675.5h2v2h-2zM748.2 1849h2v2h-2zM670.5 1836.7h1.5v1.5h-1.5zM646.6 1751.2h2v2h-2zM799 1773.9h1.5v1.5h-1.5zM829.3 1781h1.5v1.5h-1.5zM801.2 1751.4h2v2h-2zM813.7 1649.8h2v2h-2zM701.4 1751.9h1.5v1.5h-1.5zM807.5 1849.1h1.5v1.5h-1.5zM823 1671.3h2v2h-2zM665.2 1727h1.5v1.5h-1.5zM746.8 1685.3h1.2v1.2h-1.2zM782.9 1712.2h1.5v1.5h-1.5zM740 1650.2h1.5v1.5h-1.5zM688.9 1799.5h1.2v1.2h-1.2zM671.4 1753.2h2v2h-2z" fill="#eeeeff" opacity="0.5"/>
<path d="M760.4 1721.2h2v2h-2zM664.9 1674.1h2v2h-2zM754.3 1820h2v2h-2zM775.9 1696.4h1.2v1.2h-1.2zM688.4 1754.9h2v2h-2zM650.6 1829.1h2v2h-2zM829.1 1728.2h1.2v1.2h-1.2zM658.2 1794h1.2v1.2h-1.2zM704.5 1845.9h1.5v1.5h-1.5zM782.8 1751.6h1.2v1.2h-1.2zM648.5 1662.6h1.2v1.2h-1.2zM680 1692.1h1.5v1.5h-1.5zM782.3 1650.9h2v2h-2zM825.1 1820.8h1.5v1.5h-1.5zM802.4 1777.7h2v2h-2zM692.1 1697.6h1.5v1.5h-1.5zM688 1835.9h1.2v1.2h-1.2zM635.5 1826.1h2v2h-2zM797.6 1825.3h2v2h-2zM769.9 1634.9h1.2v1.2h-1.2z" fill="#eeeeff" opacity="0.75"/>
<path d="M672.5 1633.2h1.5v1.5h-1.5zM666.2 1734.6h1.5v1.5h-1.5zM771.8 1666.4h1.2v1.2h-1.2zM699.3 1810h1.2v1.2h-1.2zM651.8 1647.5h1.2v1.2h-1.2zM659.8 1765.6h1.2v1.2h-1.2zM806.5 1736.9h1.5v1.5h-1.5zM663.8 1846h1.2v1.2h-1.2zM720.4 1630.5h1.2v1.2h-1.2zM669.7 1642.4h1.5v1.5h-1.5zM783.3 1813.2h2v2h-2zM663.4 1774.8h1.5v1.5h-1.5zM702.7 1630.6h1.2v1.2h-1.2zM721.3 1688h2v2h-2zM851.3 1788.4h1.2v1.2h-1.2zM684.7 1817.9h1.2v1.2h-1.2zM666.8 1740.5h2v2h-2zM707.9 1848.5h2v2h-2z" fill="#eeeeff" opacity="1"/>
<circle cx="818.8" cy="1795.2" r="2.8" fill="#ffffff"/>
<circle cx="795.8" cy="1729.2" r="1.8" fill="#ffffff"/>
<circle cx="633.8" cy="1751.2" r="1.6" fill="#ffffff"/>
<text x="828.8" y="1654.2" font-size="23" text-anchor="middle" fill="#f2f2f2">1w</text>
<rect x="772.8" y="1845.7" width="77.5" height="4" fill="#ffffff"/>
</g>
<clipPath id="mc4"><rect x="869.9" y="1623.2" width="231.4" height="230.5"/></clipPath>
<g clip-path="url(#mc4)">
<rect x="869.9" y="1623.2" width="231.4" height="230.5" fill="#03030a"/>
<path d="M877.8 1735.8a5.5 3.9 132 1 0-7.3 8.1a5.5 3.9 132 1 0 7.3-8.1zM880 1706.9a4.8 3.1 70 1 0 3.2 9.2a4.8 3.1 70 1 0-3.2-9.2zM903.7 1714.5a6.1 2.9 64 1 0 5.2 11.1a6.1 2.9 64 1 0-5.2-11.1zM891.7 1729.5a4 3.5 29 1 0 6.9 3.9a4 3.5 29 1 0-6.9-3.9zM1052.9 1789.8a5.1 3.1 82 1 0 1.3 10.1a5.1 3.1 82 1 0-1.3-10.1zM1053 1805.9a4.3 3 155 1 0-7.8 3.5a4.3 3 155 1 0 7.8-3.5zM1055 1756.4a6.3 3 20 1 0 11.8 4.4a6.3 3 20 1 0-11.8-4.4zM1031.1 1786.9a6.3 2.9 5 1 0 12.4 1.2a6.3 2.9 5 1 0-12.4-1.2zM1045.3 1761.4a6.4 3.3 87 1 0 0.5 12.8a6.4 3.3 87 1 0-0.5-12.8zM1081.3 1734.5a5.4 3.1 16 1 0 10.4 3a5.4 3.1 16 1 0-10.4-3zM1054 1778.5a4.6 3.7 126 1 0-5.5 7.4a4.6 3.7 126 1 0 5.5-7.4zM936.9 1730.3a6.4 3.8 179 1 0-12.9 0.2a6.4 3.8 179 1 0 12.9-0.2zM944 1723.7a5.6 3.3 47 1 0 7.5 8.3a5.6 3.3 47 1 0-7.5-8.3zM951.1 1730.6a3.7 3.7 8 1 0 7.3 1a3.7 3.7 8 1 0-7.3-1zM962.5 1727.3a3.9 3.8 141 1 0-6.2 5a3.9 3.8 141 1 0 6.2-5zM961.2 1843.3a6.1 3 52 1 0 7.3 9.7a6.1 3 52 1 0-7.3-9.7zM944.3 1851.8a5.1 3.7 4 1 0 10.1 0.8a5.1 3.7 4 1 0-10.1-0.8zM917 1843.5a3.7 3.7 156 1 0-6.8 3a3.7 3.7 156 1 0 6.8-3zM910.7 1834.1a4.5 3.3 8 1 0 8.9 1.4a4.5 3.3 8 1 0-8.9-1.4zM948.5 1819.5a6.2 3.7 162 1 0-11.9 3.7a6.2 3.7 162 1 0 11.9-3.7zM1070.4 1624.8a5.1 3.5 65 1 0 4.2 9.2a5.1 3.5 65 1 0-4.2-9.2zM1092.3 1660.3a6.1 2.8 152 1 0-10.9 5.6a6.1 2.8 152 1 0 10.9-5.6zM1068.2 1635.3a6 4 19 1 0 11.2 4a6 4 19 1 0-11.2-4z" fill="#2830f8"/>
<path d="M900 1711.7a4.5 2.5 153 1 0-8.1 4a4.5 2.5 153 1 0 8.1-4zM891 1732a6.3 3.8 157 1 0-11.6 4.9a6.3 3.8 157 1 0 11.6-4.9zM902.2 1711a5.3 3.4 155 1 0-9.6 4.3a5.3 3.4 155 1 0 9.6-4.3zM899.4 1727.8a3.8 3.7 50 1 0 4.9 5.8a3.8 3.7 50 1 0-4.9-5.8zM1079.5 1741.6a3.8 2.7 176 1 0-7.6 0.4a3.8 2.7 176 1 0 7.6-0.4zM1073.9 1742.2a3.7 3.9 46 1 0 5 5.3a3.7 3.9 46 1 0-5-5.3zM955.1 1725.5a6.3 2.5 157 1 0-11.6 4.8a6.3 2.5 157 1 0 11.6-4.8zM931.8 1822a4.4 4 50 1 0 5.6 6.8a4.4 4 50 1 0-5.6-6.8zM945.7 1847.8a4.8 2.7 67 1 0 3.6 8.8a4.8 2.7 67 1 0-3.6-8.8zM955.1 1805.1a5.9 4 148 1 0-10.2 6.1a5.9 4 148 1 0 10.2-6.1zM973.2 1816.3a6.2 2.5 126 1 0-7.4 9.9a6.2 2.5 126 1 0 7.4-9.9zM1053.4 1646.5a5.7 2.6 37 1 0 9 7a5.7 2.6 37 1 0-9-7zM1081.3 1653.5a5.9 2.7 153 1 0-10.6 5.3a5.9 2.7 153 1 0 10.6-5.3zM1038.3 1656.5a4.3 2.9 20 1 0 8.1 3a4.3 2.9 20 1 0-8.1-3zM1090.1 1627.9a4.7 3.4 69 1 0 3.3 8.7a4.7 3.4 69 1 0-3.3-8.7z" fill="#1e26e0"/>
<path d="M895.5 1726.6a5.5 2.8 39 1 0 8.5 7a5.5 2.8 39 1 0-8.5-7zM870.1 1714.1a4.7 3.5 16 1 0 9.1 2.7a4.7 3.5 16 1 0-9.1-2.7zM1084.9 1735.3a3.9 3.5 79 1 0 1.4 7.7a3.9 3.5 79 1 0-1.4-7.7zM1079.1 1763.4a6.5 2.4 102 1 0-2.8 12.6a6.5 2.4 102 1 0 2.8-12.6zM1086.5 1752.6a4.4 2.7 100 1 0-1.6 8.7a4.4 2.7 100 1 0 1.6-8.7zM1084.5 1800.4a3.5 2.8 47 1 0 4.7 5.2a3.5 2.8 47 1 0-4.7-5.2zM1089.6 1797.1a5.9 2.7 151 1 0-10.3 5.6a5.9 2.7 151 1 0 10.3-5.6zM942 1713.3a4.8 2.5 30 1 0 8.3 5a4.8 2.5 30 1 0-8.3-5zM946.6 1725.7a6.1 2.5 115 1 0-5.2 11a6.1 2.5 115 1 0 5.2-11zM946.6 1824a5.1 3.7 177 1 0-10.3 0.4a5.1 3.7 177 1 0 10.3-0.4zM954.1 1811.1a4.3 2.9 145 1 0-7 4.9a4.3 2.9 145 1 0 7-4.9zM944 1849.8a4.5 3 76 1 0 2.2 8.8a4.5 3 76 1 0-2.2-8.8zM935.5 1790.6a5.5 3.5 50 1 0 7 8.6a5.5 3.5 50 1 0-7-8.6zM910.4 1810.9a5.6 3 65 1 0 4.6 10.1a5.6 3 65 1 0-4.6-10.1z" fill="#1a20c8"/>
<ellipse cx="902.9" cy="1662.2" rx="34" ry="38" fill="url(#cryptr)"/>
<ellipse cx="902.9" cy="1662.2" rx="34" ry="38" fill="url(#nucp)"/>
<path d="M917.7 1659.8L909.4 1666.1L911.7 1675.7L903.5 1670.8L895.8 1680.2L898 1665L886.5 1662L895.4 1657.7L894.2 1649.2L903.8 1655L909.6 1646.1L910 1657.2z" fill="#04040c" opacity="0.85"/>
<path d="M905.6 1674.2h1.4v1.4h-1.4zM887.7 1652.2h1.4v1.4h-1.4zM923.8 1655.2h1.4v1.4h-1.4zM896.3 1671.7h1.4v1.4h-1.4zM915.1 1639.6h1.4v1.4h-1.4zM922.9 1666.5h1.4v1.4h-1.4zM915.9 1646.4h1.4v1.4h-1.4zM907.1 1685.5h1.4v1.4h-1.4zM901.6 1650.6h1.4v1.4h-1.4zM895.8 1652.6h1.4v1.4h-1.4z" fill="#e4e4f4" opacity="0.8"/>
<ellipse cx="1018.9" cy="1630.2" rx="36" ry="16" fill="url(#cryptg)"/>
<ellipse cx="1018.9" cy="1630.2" rx="36" ry="16" fill="url(#nucp)"/>
<path d="M1035 1629.3L1026.6 1631.9L1028.2 1637.3L1019.8 1633.4L1008.5 1636.6L1011 1631.6L1003.6 1630.5L1014.1 1628.7L1007.3 1623.7L1019.8 1626.5L1028.8 1624.5L1023.5 1628.6z" fill="#04040c" opacity="0.85"/>
<ellipse cx="936.9" cy="1764.2" rx="31" ry="36" fill="url(#cryptr)"/>
<ellipse cx="936.9" cy="1764.2" rx="31" ry="36" fill="url(#nucp)"/>
<path d="M952.5 1764.6L941.4 1767.9L944.5 1781.3L936.3 1770.2L928.5 1779.4L930.3 1768.6L922 1764.1L931.7 1759.5L929 1750.3L936.9 1758.6L945.4 1748.4L943.1 1759.8z" fill="#04040c" opacity="0.85"/>
<path d="M951.4 1756h1.4v1.4h-1.4zM933.8 1756.4h1.4v1.4h-1.4zM957.1 1772.8h1.4v1.4h-1.4zM934.7 1775.6h1.4v1.4h-1.4zM951.9 1751h1.4v1.4h-1.4zM945.7 1774.2h1.4v1.4h-1.4z" fill="#e4e4f4" opacity="0.8"/>
<ellipse cx="996.9" cy="1813.2" rx="36" ry="39" fill="url(#cryptr)"/>
<ellipse cx="996.9" cy="1813.2" rx="36" ry="39" fill="url(#nucp)"/>
<path d="M1014.8 1813.4L1003.9 1818.7L1003.6 1830L996 1820.6L989.8 1828.4L991.7 1816.4L978.9 1814.5L990.2 1808.2L987.5 1799.7L996.4 1805.2L1008 1796.6L1003.8 1810.1z" fill="#04040c" opacity="0.85"/>
<path d="M988 1802h1.4v1.4h-1.4zM992.4 1824.6h1.4v1.4h-1.4zM977.7 1808.5h1.4v1.4h-1.4zM982.8 1805.6h1.4v1.4h-1.4zM985.7 1819.5h1.4v1.4h-1.4zM1004.5 1794.1h1.4v1.4h-1.4z" fill="#e4e4f4" opacity="0.8"/>
<ellipse cx="880.9" cy="1796.2" rx="16" ry="40" fill="url(#cryptr)"/>
<ellipse cx="880.9" cy="1796.2" rx="16" ry="40" fill="url(#nucp)"/>
<path d="M889.2 1796.5L884 1801.5L885.7 1814.4L880.8 1805.2L876 1814.1L878.4 1800.4L872.9 1794.9L878.4 1792L878.3 1780.4L881.1 1788.7L883.9 1777.3L883.1 1792z" fill="#04040c" opacity="0.85"/>
<ellipse cx="1075.9" cy="1824.2" rx="25" ry="28" fill="url(#cryptr)"/>
<ellipse cx="1075.9" cy="1824.2" rx="25" ry="28" fill="url(#nucp)"/>
<path d="M1089.6 1823.4L1080.7 1828.4L1081.5 1837.8L1076.7 1830.1L1070.3 1837.2L1071.5 1827.2L1063.5 1824L1070.9 1820.2L1068.8 1811.8L1076.5 1818.9L1080.8 1811.7L1080.5 1821.8z" fill="#04040c" opacity="0.85"/>
<ellipse cx="1093.9" cy="1707.2" rx="13" ry="30" fill="url(#cryptg)"/>
<ellipse cx="1093.9" cy="1707.2" rx="13" ry="30" fill="url(#nucp)"/>
<path d="M1099.6 1707.9L1096.5 1710.9L1096.5 1720.6L1093.8 1712.8L1091 1718.5L1091.5 1710L1087.8 1708.1L1091.8 1703.9L1091.2 1692L1094.1 1702.5L1096.2 1694.4L1096.3 1703.7z" fill="#04040c" opacity="0.85"/>
<ellipse cx="1075.9" cy="1650.2" rx="12" ry="18" fill="url(#cryptr)"/>
<ellipse cx="1075.9" cy="1650.2" rx="12" ry="18" fill="url(#nucp)"/>
<path d="M1081.6 1650.6L1077.5 1651.8L1078.4 1657.8L1075.8 1653.2L1073.4 1657.5L1073.7 1652.4L1069.4 1650.3L1074.1 1648.6L1073.1 1642.4L1075.6 1646.6L1078 1642.3L1078.2 1648.3z" fill="#04040c" opacity="0.85"/>
<ellipse cx="922.9" cy="1851.2" rx="26" ry="12" fill="url(#cryptg)"/>
<ellipse cx="922.9" cy="1851.2" rx="26" ry="12" fill="url(#nucp)"/>
<path d="M935.2 1850.7L927.4 1852.2L929.3 1856.5L923.3 1853.4L917.2 1857L917.7 1852.8L911.9 1851.9L918.5 1850.1L916.9 1845.4L922.9 1849L929.9 1846.4L926.8 1850z" fill="#04040c" opacity="0.85"/>
<ellipse cx="997.9" cy="1690.2" rx="47" ry="49" fill="url(#cryptg)" transform="rotate(25 997.9 1690.2)"/>
<ellipse cx="997.9" cy="1690.2" rx="47" ry="49" fill="url(#nucp)" transform="rotate(25 997.9 1690.2)"/>
<path d="M1020.8 1700.5L1003.6 1696.4L996.3 1714.9L995 1698.8L977.7 1701.7L986.8 1693L975.4 1682.7L993 1682.3L999.3 1668.5L1001.5 1683.1L1016.8 1680.1L1008.9 1689.1z" fill="#04040c" opacity="0.85"/>
<clipPath id="mcr4"><ellipse cx="997.9" cy="1690.2" rx="47" ry="49" fill="#000" transform="rotate(25 997.9 1690.2)"/></clipPath>
<path d="M959.9 1633.2L1059.9 1633.2L1059.9 1743.2L1029.9 1733.2L999.9 1718.2L979.9 1683.2L954.9 1663.2z" fill="#ff2a60" opacity="0.95" clip-path="url(#mcr4)"/>
<clipPath id="mcr4b"><ellipse cx="997.9" cy="1690.2" rx="47" ry="49" fill="#000" transform="rotate(25 997.9 1690.2)"/></clipPath>
<path d="M969.9 1633.2L1059.9 1633.2L1059.9 1683.2L1019.9 1668.2z" fill="#f040c8" opacity="0.5" clip-path="url(#mcr4b)"/>
<path d="M989.9 1673.2l6-4l3 30l10 18l-4 4l-12-14z" fill="#0a0208"/>
<circle cx="969.9" cy="1709.2" r="7" fill="#2a30f0"/>
<circle cx="1029.9" cy="1728.2" r="7" fill="#2a30f0"/>
<path d="M1033.9 1815.4h1.2v1.2h-1.2zM978.3 1788.5h2v2h-2zM1064.1 1779.6h1.5v1.5h-1.5zM1028.2 1682.7h2v2h-2zM1019.5 1774.9h1.2v1.2h-1.2zM1082.2 1646.4h1.5v1.5h-1.5zM971.7 1803.4h1.2v1.2h-1.2zM1026 1709.3h2v2h-2zM962.2 1629.6h1.5v1.5h-1.5zM1020.4 1758.7h1.5v1.5h-1.5zM911.8 1636.2h1.2v1.2h-1.2zM883.2 1830.7h1.5v1.5h-1.5zM1068.4 1650.3h2v2h-2z" fill="#eeeeff" opacity="0.5"/>
<path d="M936.3 1834.1h1.2v1.2h-1.2zM943.8 1827.9h1.2v1.2h-1.2zM893.9 1775.9h1.2v1.2h-1.2zM1067.4 1685.5h2v2h-2zM1053 1644.3h1.2v1.2h-1.2zM943.2 1748h1.2v1.2h-1.2zM918.9 1694.5h1.2v1.2h-1.2zM1002.5 1723.6h1.2v1.2h-1.2zM879.6 1822.5h2v2h-2zM890.4 1699.5h1.5v1.5h-1.5zM994.4 1755.7h1.5v1.5h-1.5zM1062.5 1689h1.5v1.5h-1.5zM961.3 1691.1h1.5v1.5h-1.5zM925.2 1630.6h2v2h-2z" fill="#eeeeff" opacity="0.75"/>
<path d="M1098.9 1669.2h2v2h-2zM892.8 1796.8h1.2v1.2h-1.2zM878.3 1663.4h1.5v1.5h-1.5zM1026.8 1842.7h1.2v1.2h-1.2zM1020.4 1698.6h1.2v1.2h-1.2zM1009.3 1802.7h1.5v1.5h-1.5zM930.9 1740.5h1.2v1.2h-1.2zM954.3 1699h1.2v1.2h-1.2zM905.1 1793.9h1.2v1.2h-1.2zM1017.7 1629.1h1.5v1.5h-1.5zM875.4 1771.5h1.5v1.5h-1.5zM910.2 1677.7h1.2v1.2h-1.2zM1007.7 1743.6h2v2h-2z" fill="#eeeeff" opacity="1"/>
<circle cx="1055.9" cy="1678.2" r="1.6" fill="#ffffff"/>
<circle cx="1033.9" cy="1757.2" r="1.8" fill="#ffffff"/>
<circle cx="1052.9" cy="1780.2" r="1.8" fill="#ffffff"/>
<circle cx="929.9" cy="1715.2" r="1.6" fill="#ffffff"/>
<text x="1074.9" y="1654.2" font-size="23" text-anchor="middle" fill="#f2f2f2">1w</text>
<rect x="1018.9" y="1845.7" width="77.5" height="4" fill="#ffffff"/>
</g>
<text x="499" y="1313.5" font-size="24.8" text-anchor="middle" font-weight="bold" font-style="italic" fill="#222">Villus tip</text>
<text x="497.7" y="1343" font-size="24.8" text-anchor="middle" font-weight="bold" font-style="italic" fill="#222">(Positive control)</text>
<text x="861.2" y="1304.5" font-size="24.8" text-anchor="middle" font-weight="bold" fill="#222">+4 neck position</text>
<line x1="623.8" y1="1317.2" x2="1099" y2="1317.2" stroke="#000" stroke-width="2"/>
<text x="740.5" y="1341.5" font-size="24.8" text-anchor="middle" font-weight="bold" font-style="italic" fill="#222">Conf</text>
<text x="997.5" y="1341.5" font-size="24.8" text-anchor="middle" font-weight="bold" font-style="italic" fill="#222">R2N1</text>
<text x="745" y="1610.5" font-size="24.8" text-anchor="middle" font-weight="bold" font-style="italic" fill="#222">R2KR</text>
<text x="994" y="1611.5" font-size="24.8" text-anchor="middle" font-weight="bold" font-style="italic" fill="#222">R2P3</text>
<rect x="373.2" y="1862.6" width="728.4" height="57.4" fill="#000000"/>
<text x="742" y="1900" font-size="26.3" font-weight="bold" text-anchor="middle"><tspan fill="#2b46e8">DAPI</tspan> <tspan fill="#ee2222">RFP-P2A-cDNA</tspan> <tspan fill="#ffffff">Cleaved Caspase 3</tspan></text>
<clipPath id="hc00"><rect x="1214.6" y="1304.3" width="127.6" height="127.8"/></clipPath>
<g clip-path="url(#hc00)">
<rect x="1214.6" y="1304.3" width="127.6" height="127.8" fill="#03030a"/>
<path d="M1235 1352.2a10.9 5.8 80 1 0 3.4 21.4a10.9 5.8 80 1 0-3.4-21.4zM1275.4 1330.9a11 4.9 98 1 0-3.2 21.7a11 4.9 98 1 0 3.2-21.7zM1322 1409.5a8.2 5.1 115 1 0-7 14.8a8.2 5.1 115 1 0 7-14.8zM1312.3 1360.7a8.4 5.5 100 1 0-3.2 16.6a8.4 5.5 100 1 0 3.2-16.6zM1326.2 1378a8.3 6.1 102 1 0-3.7 16.1a8.3 6.1 102 1 0 3.7-16.1zM1285.6 1341.1a7.3 4.7 67 1 0 5.6 13.4a7.3 4.7 67 1 0-5.6-13.4zM1223.2 1371.7a8.1 4.8 72 1 0 4.7 15.5a8.1 4.8 72 1 0-4.7-15.5zM1310.7 1386.9a8.8 5.1 66 1 0 6.9 16.2a8.8 5.1 66 1 0-6.9-16.2zM1231.6 1381.4a7.8 6.5 88 1 0 0.4 15.5a7.8 6.5 88 1 0-0.4-15.5z" fill="#1418b8"/>
<path d="M1275.7 1315.5a7.6 5.8 62 1 0 6.9 13.5a7.6 5.8 62 1 0-6.9-13.5zM1244.7 1360.9a10.6 4.5 103 1 0-4.9 20.6a10.6 4.5 103 1 0 4.9-20.6zM1227 1411.7a9 5.4 87 1 0 0.9 18a9 5.4 87 1 0-0.9-18z" fill="#2028f0"/>
<path d="M1333.3 1413.2a8.7 4.8 117 1 0-8.1 15.4a8.7 4.8 117 1 0 8.1-15.4zM1235.3 1405.7a8.9 5 84 1 0 1.8 17.6a8.9 5 84 1 0-1.8-17.6zM1238.4 1373a7.7 6.1 71 1 0 4.9 14.7a7.7 6.1 71 1 0-4.9-14.7zM1267.6 1372.3a10.8 4.1 103 1 0-4.9 21a10.8 4.1 103 1 0 4.9-21zM1287.3 1409.1a12 5 108 1 0-7.7 22.7a12 5 108 1 0 7.7-22.7zM1305.6 1361.3a9.5 5.5 63 1 0 8.5 16.9a9.5 5.5 63 1 0-8.5-16.9zM1287.6 1385.1a7.8 6 119 1 0-7.7 13.6a7.8 6 119 1 0 7.7-13.6zM1326.7 1321.2a7.2 4.5 67 1 0 5.5 13.3a7.2 4.5 67 1 0-5.5-13.3z" fill="#1a22e0"/>
<path d="M1267.2 1337.4a6.8 6.1 26 1 0 12.2 6a6.8 6.1 26 1 0-12.2-6zM1292.8 1376.8a7.8 5.5 152 1 0-13.9 7.1a7.8 5.5 152 1 0 13.9-7.1zM1280.2 1354.2a5.7 4.1 0 1 0 11.4 0.1a5.7 4.1 0 1 0-11.4-0.1zM1279.2 1351.5a5.1 6.1 41 1 0 7.6 6.8a5.1 6.1 41 1 0-7.6-6.8zM1300.4 1393.6a5.1 5.5 152 1 0-9 4.7a5.1 5.5 152 1 0 9-4.7zM1264.4 1340.2a7.8 4.2 113 1 0-6.3 14.2a7.8 4.2 113 1 0 6.3-14.2zM1290.9 1377.9a6.8 4.3 22 1 0 12.5 5.2a6.8 4.3 22 1 0-12.5-5.2zM1303.8 1374.3a5.1 6 127 1 0-6.3 8.2a5.1 6 127 1 0 6.3-8.2zM1280.4 1348.6a7.7 6 40 1 0 11.7 10.1a7.7 6 40 1 0-11.7-10.1zM1268.3 1352.7a6.9 4.1 63 1 0 6.3 12.3a6.9 4.1 63 1 0-6.3-12.3zM1283.2 1370.8a5.7 4.7 46 1 0 7.7 8.2a5.7 4.7 46 1 0-7.7-8.2zM1256.7 1343.3a7.2 4.7 65 1 0 5.9 13a7.2 4.7 65 1 0-5.9-13z" fill="#2a32ff"/>
<path d="M1283.6 1361.9a5.9 5.6 4 1 0 11.8 0.9a5.9 5.6 4 1 0-11.8-0.9zM1254.3 1359.5a5.9 5.7 101 1 0-2.4 11.5a5.9 5.7 101 1 0 2.4-11.5zM1272 1377a7.1 5.8 150 1 0-12.4 7.1a7.1 5.8 150 1 0 12.4-7.1zM1261.6 1357.3a7.9 5.7 105 1 0-4.3 15.1a7.9 5.7 105 1 0 4.3-15.1zM1296.8 1361.7a7.9 5.9 33 1 0 13.2 8.6a7.9 5.9 33 1 0-13.2-8.6zM1287 1349.3a5.9 4.8 78 1 0 2.3 11.6a5.9 4.8 78 1 0-2.3-11.6zM1271 1345.4a5.5 5.5 111 1 0-4 10.2a5.5 5.5 111 1 0 4-10.2zM1295.2 1379.8a7.5 4.1 79 1 0 2.8 14.8a7.5 4.1 79 1 0-2.8-14.8zM1293.3 1357a7.6 4.4 74 1 0 4 14.6a7.6 4.4 74 1 0-4-14.6zM1271.1 1353.7a5.2 4.1 46 1 0 7.2 7.6a5.2 4.1 46 1 0-7.2-7.6z" fill="#1a20d0"/>
<path d="M1306 1370.1a6 6.2 131 1 0-7.8 9a6 6.2 131 1 0 7.8-9zM1274.7 1352.4a7.1 5.7 126 1 0-8.5 11.4a7.1 5.7 126 1 0 8.5-11.4zM1275.3 1359.6a6.1 5.1 163 1 0-11.8 3.4a6.1 5.1 163 1 0 11.8-3.4zM1287.6 1350a5.1 5.1 101 1 0-2.1 10.1a5.1 5.1 101 1 0 2.1-10.1zM1298.4 1358.2a7.3 5.5 168 1 0-14.3 2.8a7.3 5.5 168 1 0 14.3-2.8zM1285.3 1320.7a5.7 6.3 91 1 0-0.2 11.4a5.7 6.3 91 1 0 0.2-11.4zM1302.2 1346a6.4 5.7 40 1 0 9.8 8.2a6.4 5.7 40 1 0-9.8-8.2zM1304.5 1346a5.2 4.8 56 1 0 5.8 8.8a5.2 4.8 56 1 0-5.8-8.8zM1293.9 1367.4a7.8 6.3 163 1 0-14.9 4.4a7.8 6.3 163 1 0 14.9-4.4zM1271.6 1365.8a5.2 6.5 34 1 0 8.5 5.9a5.2 6.5 34 1 0-8.5-5.9zM1284.7 1347.4a7.4 5.2 139 1 0-11.2 9.6a7.4 5.2 139 1 0 11.2-9.6zM1258.7 1355.9a5.1 6.1 47 1 0 6.8 7.5a5.1 6.1 47 1 0-6.8-7.5z" fill="#1e26e8"/>
<rect x="1286.7" y="1420.6" width="49.7" height="5" fill="#ffffff"/>
</g>
<clipPath id="hc01"><rect x="1347.6" y="1304.3" width="127.6" height="127.8"/></clipPath>
<g clip-path="url(#hc01)">
<rect x="1347.6" y="1304.3" width="127.6" height="127.8" fill="#03030a"/>
<path d="M1415.6 1321.7a11.8 6.3 62 1 0 10.8 21.1a11.8 6.3 62 1 0-10.8-21.1zM1409.4 1324.1a10.3 5.6 99 1 0-3.5 20.2a10.3 5.6 99 1 0 3.5-20.2zM1458.6 1347.2a8.9 5.1 104 1 0-4.5 17.2a8.9 5.1 104 1 0 4.5-17.2zM1391.3 1329.7a11.1 6.5 70 1 0 7.3 21a11.1 6.5 70 1 0-7.3-21zM1364.5 1317.5a10.4 5.8 113 1 0-8.4 19.1a10.4 5.8 113 1 0 8.4-19.1zM1433.2 1302.6a7.4 4.1 92 1 0-0.5 14.8a7.4 4.1 92 1 0 0.5-14.8zM1391.9 1307.5a9.7 5.7 87 1 0 0.8 19.5a9.7 5.7 87 1 0-0.8-19.5zM1373.5 1311a11.9 6.3 74 1 0 6.3 23a11.9 6.3 74 1 0-6.3-23zM1388.5 1417.1a7.9 4 111 1 0-5.8 14.7a7.9 4 111 1 0 5.8-14.7zM1406.2 1365.4a11 4.6 88 1 0 0.7 22a11 4.6 88 1 0-0.7-22z" fill="#2028f0"/>
<path d="M1409.8 1368.8a11.6 5.2 79 1 0 4.1 22.8a11.6 5.2 79 1 0-4.1-22.8zM1403.6 1338.6a10.2 5 63 1 0 9 18.3a10.2 5 63 1 0-9-18.3zM1400.7 1404a8.1 4.2 82 1 0 2.2 16a8.1 4.2 82 1 0-2.2-16zM1421.8 1317.9a11.2 5.3 101 1 0-4.5 22a11.2 5.3 101 1 0 4.5-22zM1449.7 1395.2a7.7 4.4 104 1 0-3.8 14.9a7.7 4.4 104 1 0 3.8-14.9zM1462 1351.4a11.4 4.3 113 1 0-9 21.1a11.4 4.3 113 1 0 9-21.1zM1373 1381a8.6 4.7 75 1 0 4.5 16.7a8.6 4.7 75 1 0-4.5-16.7zM1373.7 1370.8a8.6 4 77 1 0 3.8 16.7a8.6 4 77 1 0-3.8-16.7z" fill="#1a22e0"/>
<path d="M1403 1331.6a7.8 5.1 81 1 0 2.2 15.5a7.8 5.1 81 1 0-2.2-15.5zM1438.3 1350.8a11.1 5.7 106 1 0-6.3 21.3a11.1 5.7 106 1 0 6.3-21.3z" fill="#1418b8"/>
<ellipse cx="1406.3" cy="1361.8" rx="31" ry="35" fill="#e81830"/>
<ellipse cx="1406.3" cy="1361.8" rx="26.3" ry="29.8" fill="#d428c8" opacity="0.75"/>
<ellipse cx="1397.6" cy="1341.4" rx="6.2" ry="7.2" fill="#2228e0" transform="rotate(39.7 1397.6 1341.4)"/>
<ellipse cx="1414.1" cy="1365.7" rx="5.4" ry="8" fill="#2228e0" transform="rotate(66.6 1414.1 1365.7)"/>
<ellipse cx="1390.7" cy="1367.9" rx="7" ry="9.1" fill="#2228e0" transform="rotate(65.6 1390.7 1367.9)"/>
<ellipse cx="1398.6" cy="1347.6" rx="5.4" ry="8.6" fill="#2228e0" transform="rotate(57.3 1398.6 1347.6)"/>
<ellipse cx="1398.4" cy="1344.1" rx="5.7" ry="8.3" fill="#2228e0" transform="rotate(81.9 1398.4 1344.1)"/>
<ellipse cx="1404.3" cy="1369.2" rx="5.1" ry="10" fill="#2228e0" transform="rotate(133.2 1404.3 1369.2)"/>
<ellipse cx="1391" cy="1368.8" rx="5.8" ry="9.1" fill="#2228e0" transform="rotate(171.1 1391 1368.8)"/>
<ellipse cx="1396.3" cy="1363.8" rx="5" ry="10" fill="#e8f0ff" transform="rotate(15 1396.3 1363.8)"/>
<circle cx="1388.3" cy="1391.8" r="3" fill="#20e040"/>
<rect x="1419.7" y="1420.6" width="49.7" height="5" fill="#ffffff"/>
</g>
<clipPath id="hc10"><rect x="1214.6" y="1439.6" width="127.6" height="127.8"/></clipPath>
<g clip-path="url(#hc10)">
<rect x="1214.6" y="1439.6" width="127.6" height="127.8" fill="#03030a"/>
<path d="M1331.9 1479.5a11.1 4.6 102 1 0-4.9 21.7a11.1 4.6 102 1 0 4.9-21.7zM1331.3 1529.9a8.2 4.7 90 1 0-0.1 16.3a8.2 4.7 90 1 0 0.1-16.3zM1261.4 1456.9a7.7 6.1 113 1 0-6.1 14.1a7.7 6.1 113 1 0 6.1-14.1zM1274.3 1472.9a10.6 6.4 62 1 0 9.8 18.9a10.6 6.4 62 1 0-9.8-18.9zM1219.5 1444.3a8.7 5.1 83 1 0 1.9 17.3a8.7 5.1 83 1 0-1.9-17.3zM1237.4 1482.8a9.7 5.1 102 1 0-4.2 19a9.7 5.1 102 1 0 4.2-19z" fill="#2028f0"/>
<path d="M1290.1 1517.1a9.7 5.3 62 1 0 9 17.2a9.7 5.3 62 1 0-9-17.2zM1318.6 1545a7.8 5.6 113 1 0-6.2 14.2a7.8 5.6 113 1 0 6.2-14.2zM1340.7 1544.2a10.9 5.1 113 1 0-8.5 20a10.9 5.1 113 1 0 8.5-20zM1225.1 1495.9a11.7 4.5 66 1 0 9.3 21.5a11.7 4.5 66 1 0-9.3-21.5zM1275.4 1532.4a7.1 5.8 60 1 0 6.9 12.3a7.1 5.8 60 1 0-6.9-12.3zM1327.3 1542.9a11.1 5.6 89 1 0 0.1 22.1a11.1 5.6 89 1 0-0.1-22.1z" fill="#1418b8"/>
<path d="M1242.4 1484.8a8.1 5.1 89 1 0 0.1 16.3a8.1 5.1 89 1 0-0.1-16.3zM1217.8 1468.8a7.7 5.2 72 1 0 4.6 14.7a7.7 5.2 72 1 0-4.6-14.7zM1325.6 1484.6a11.4 4.8 64 1 0 9.6 20.6a11.4 4.8 64 1 0-9.6-20.6zM1332.3 1452.4a7.6 4.4 96 1 0-1.7 15.2a7.6 4.4 96 1 0 1.7-15.2zM1288 1519a8.5 4.2 110 1 0-6 15.8a8.5 4.2 110 1 0 6-15.8zM1227.6 1453.2a7.6 4.8 100 1 0-2.7 15a7.6 4.8 100 1 0 2.7-15zM1320.8 1467.4a9.2 6.4 91 1 0-0.4 18.5a9.2 6.4 91 1 0 0.4-18.5zM1327.3 1465.5a9.6 5.1 62 1 0 8.9 17a9.6 5.1 62 1 0-8.9-17z" fill="#1a22e0"/>
<path d="M1280.1 1480.1a6.4 5.5 109 1 0-4.4 12.1a6.4 5.5 109 1 0 4.4-12.1zM1291 1500.4a5.5 4.3 152 1 0-9.8 5.1a5.5 4.3 152 1 0 9.8-5.1zM1253.5 1506.5a5.5 4.4 58 1 0 5.8 9.3a5.5 4.4 58 1 0-5.8-9.3zM1295.7 1495.4a6.1 4.1 152 1 0-10.9 5.6a6.1 4.1 152 1 0 10.9-5.6zM1280.8 1500.2a6.1 6.2 7 1 0 12 1.7a6.1 6.2 7 1 0-12-1.7zM1293.5 1493.2a7.6 4.8 137 1 0-11.1 10.3a7.6 4.8 137 1 0 11.1-10.3zM1282.8 1484.6a7.3 5.6 39 1 0 11.3 9.3a7.3 5.6 39 1 0-11.3-9.3zM1268.2 1493.5a7.7 5 68 1 0 5.7 14.3a7.7 5 68 1 0-5.7-14.3zM1262.3 1509.7a6.9 4.4 105 1 0-3.7 13.3a6.9 4.4 105 1 0 3.7-13.3zM1314.3 1488.9a5 6.3 64 1 0 4.3 9a5 6.3 64 1 0-4.3-9zM1290.4 1500.7a6.6 5.2 144 1 0-10.6 7.7a6.6 5.2 144 1 0 10.6-7.7zM1302.1 1469.9a7.9 5.1 102 1 0-3.3 15.4a7.9 5.1 102 1 0 3.3-15.4z" fill="#1e26e8"/>
<path d="M1306.9 1508.9a7.7 4.6 105 1 0-4 14.9a7.7 4.6 105 1 0 4-14.9zM1285.3 1517.9a7.6 5.6 113 1 0-6 14a7.6 5.6 113 1 0 6-14zM1247.4 1497.7a7 4.5 17 1 0 13.3 4.2a7 4.5 17 1 0-13.3-4.2zM1294.4 1502.2a6.7 6.1 12 1 0 13.1 3a6.7 6.1 12 1 0-13.1-3zM1270.2 1501.3a5.8 4.8 104 1 0-2.9 11.3a5.8 4.8 104 1 0 2.9-11.3zM1251.4 1505.7a6.2 4.6 127 1 0-7.6 9.7a6.2 4.6 127 1 0 7.6-9.7zM1277.9 1499.6a5.5 5.2 38 1 0 8.6 6.9a5.5 5.2 38 1 0-8.6-6.9zM1262.3 1517.6a7 6.1 122 1 0-7.4 11.9a7 6.1 122 1 0 7.4-11.9zM1308.5 1505a7.9 5.6 142 1 0-12.6 9.5a7.9 5.6 142 1 0 12.6-9.5zM1270.7 1497.3a6.3 4.8 126 1 0-7.5 10a6.3 4.8 126 1 0 7.5-10zM1288.1 1508.2a7.3 5.3 32 1 0 12.3 7.8a7.3 5.3 32 1 0-12.3-7.8z" fill="#1a20d0"/>
<path d="M1313.5 1469.6a7.7 5 176 1 0-15.4 0.9a7.7 5 176 1 0 15.4-0.9zM1302.6 1475.1a7.6 4.6 110 1 0-5.4 14.2a7.6 4.6 110 1 0 5.4-14.2zM1278.8 1527.2a6.7 4 99 1 0-2.3 13.2a6.7 4 99 1 0 2.3-13.2zM1255.8 1517a5.8 4.6 9 1 0 11.4 2a5.8 4.6 9 1 0-11.4-2zM1253.7 1506a6.6 6.1 161 1 0-12.6 4.2a6.6 6.1 161 1 0 12.6-4.2zM1268 1494.6a6.7 4.2 22 1 0 12.4 5.1a6.7 4.2 22 1 0-12.4-5.1zM1280.4 1483a6.7 5 38 1 0 10.6 8.4a6.7 5 38 1 0-10.6-8.4zM1285.7 1479.2a6 5.2 20 1 0 11.3 4.2a6 5.2 20 1 0-11.3-4.2zM1262.3 1530.6a5.2 5.6 3 1 0 10.4 0.6a5.2 5.6 3 1 0-10.4-0.6zM1277.3 1527.9a6.9 5.9 162 1 0-13.2 4.2a6.9 5.9 162 1 0 13.2-4.2zM1282.1 1472.4a7.8 4.4 67 1 0 5.9 14.4a7.8 4.4 67 1 0-5.9-14.4z" fill="#2a32ff"/>
<rect x="1286.7" y="1555.9" width="49.7" height="5" fill="#ffffff"/>
</g>
<clipPath id="hc11"><rect x="1347.6" y="1439.6" width="127.6" height="127.8"/></clipPath>
<g clip-path="url(#hc11)">
<rect x="1347.6" y="1439.6" width="127.6" height="127.8" fill="#03030a"/>
<path d="M1448.9 1458a11.7 5.2 85 1 0 2 23.3a11.7 5.2 85 1 0-2-23.3zM1461.9 1526.3a7.7 5.4 82 1 0 2.1 15.3a7.7 5.4 82 1 0-2.1-15.3zM1398.3 1463.6a8 5.5 66 1 0 6.5 14.6a8 5.5 66 1 0-6.5-14.6zM1463.5 1460.3a7.4 5.2 63 1 0 6.7 13.3a7.4 5.2 63 1 0-6.7-13.3z" fill="#2028f0"/>
<path d="M1449.9 1508.5a10.5 5.4 100 1 0-3.7 20.6a10.5 5.4 100 1 0 3.7-20.6zM1417 1481.5a11.4 5.9 77 1 0 4.9 22.2a11.4 5.9 77 1 0-4.9-22.2zM1405.5 1501.5a11.9 4.9 86 1 0 1.4 23.7a11.9 4.9 86 1 0-1.4-23.7zM1405 1547.4a9.9 6.4 67 1 0 7.5 18.3a9.9 6.4 67 1 0-7.5-18.3zM1413 1481.1a10.2 4.8 85 1 0 1.5 20.4a10.2 4.8 85 1 0-1.5-20.4zM1372.4 1546.7a9.1 6 63 1 0 8.1 16.2a9.1 6 63 1 0-8.1-16.2zM1383.2 1456.8a8.8 5.5 83 1 0 2.1 17.5a8.8 5.5 83 1 0-2.1-17.5z" fill="#1a22e0"/>
<path d="M1403.5 1481.6a8.4 4.6 103 1 0-3.9 16.3a8.4 4.6 103 1 0 3.9-16.3zM1441.5 1496.6a7.2 5.7 74 1 0 3.9 13.8a7.2 5.7 74 1 0-3.9-13.8zM1396.3 1541.9a8.7 6.2 116 1 0-7.8 15.6a8.7 6.2 116 1 0 7.8-15.6zM1352.6 1437.3a10.1 6.4 78 1 0 4.2 19.8a10.1 6.4 78 1 0-4.2-19.8zM1413 1534.5a11.7 5.4 100 1 0-4.4 23a11.7 5.4 100 1 0 4.4-23zM1440.2 1452.5a10.9 4.4 105 1 0-5.9 20.9a10.9 4.4 105 1 0 5.9-20.9zM1371.8 1545.9a9.9 5.3 101 1 0-3.9 19.4a9.9 5.3 101 1 0 3.9-19.4zM1401.6 1537.1a10.8 5.6 67 1 0 8.4 19.8a10.8 5.6 67 1 0-8.4-19.8zM1418.5 1465.3a11.6 6.2 106 1 0-6.5 22.3a11.6 6.2 106 1 0 6.5-22.3z" fill="#1418b8"/>
<ellipse cx="1410.1" cy="1497.1" rx="34" ry="35" fill="#e81830"/>
<ellipse cx="1410.1" cy="1497.1" rx="28.9" ry="29.8" fill="#d428c8" opacity="0.75"/>
<ellipse cx="1396.6" cy="1477.8" rx="6" ry="8.8" fill="#2228e0" transform="rotate(17.2 1396.6 1477.8)"/>
<ellipse cx="1417.7" cy="1482.8" rx="6.8" ry="8.7" fill="#2228e0" transform="rotate(20.7 1417.7 1482.8)"/>
<ellipse cx="1415.2" cy="1492.1" rx="5.6" ry="8.5" fill="#2228e0" transform="rotate(166.2 1415.2 1492.1)"/>
<ellipse cx="1403.2" cy="1475.5" rx="6" ry="8.7" fill="#2228e0" transform="rotate(108 1403.2 1475.5)"/>
<ellipse cx="1411" cy="1505.7" rx="6" ry="7.3" fill="#2228e0" transform="rotate(1.3 1411 1505.7)"/>
<ellipse cx="1419.6" cy="1516.9" rx="6.8" ry="9.2" fill="#2228e0" transform="rotate(103.4 1419.6 1516.9)"/>
<ellipse cx="1388.4" cy="1499.6" rx="6" ry="7.8" fill="#2228e0" transform="rotate(52.1 1388.4 1499.6)"/>
<ellipse cx="1413.1" cy="1500.1" rx="4" ry="6" fill="#f0f040"/>
<ellipse cx="1430.1" cy="1515.1" rx="8" ry="6" fill="#e8f0ff"/>
<ellipse cx="1386.1" cy="1513.1" rx="5" ry="6" fill="#40f0d0"/>
<ellipse cx="1417.1" cy="1545.1" rx="12" ry="6" fill="#40e8c8" transform="rotate(-20 1417.1 1545.1)"/>
<rect x="1419.7" y="1555.9" width="49.7" height="5" fill="#ffffff"/>
</g>
<clipPath id="hc20"><rect x="1214.6" y="1574.5" width="127.6" height="127.8"/></clipPath>
<g clip-path="url(#hc20)">
<rect x="1214.6" y="1574.5" width="127.6" height="127.8" fill="#03030a"/>
<path d="M1282.3 1590.1a11.8 5.6 100 1 0-4.2 23.2a11.8 5.6 100 1 0 4.2-23.2zM1272.5 1608.7a8.1 6.1 79 1 0 3 15.9a8.1 6.1 79 1 0-3-15.9zM1270.7 1676.3a10 6.2 117 1 0-9.2 17.8a10 6.2 117 1 0 9.2-17.8zM1313.4 1617.4a7 5 77 1 0 3.1 13.7a7 5 77 1 0-3.1-13.7zM1309.8 1643.5a7.7 5.1 79 1 0 2.8 15.1a7.7 5.1 79 1 0-2.8-15.1zM1309.7 1611.5a9.1 4.7 82 1 0 2.3 18.1a9.1 4.7 82 1 0-2.3-18.1zM1276.1 1665.8a8.8 6.3 73 1 0 5.1 16.8a8.8 6.3 73 1 0-5.1-16.8zM1263 1594.6a11.1 4.5 93 1 0-1.2 22.2a11.1 4.5 93 1 0 1.2-22.2zM1290.4 1658.6a8.7 4.5 83 1 0 1.9 17.4a8.7 4.5 83 1 0-1.9-17.4zM1224.1 1675.5a9.4 4.8 101 1 0-3.6 18.4a9.4 4.8 101 1 0 3.6-18.4zM1281.9 1579.1a10.4 5.2 107 1 0-6.3 19.8a10.4 5.2 107 1 0 6.3-19.8z" fill="#1418b8"/>
<path d="M1304.2 1680.1a10.5 4.8 76 1 0 4.8 20.5a10.5 4.8 76 1 0-4.8-20.5zM1319.9 1680.9a7.4 5.6 95 1 0-1.5 14.7a7.4 5.6 95 1 0 1.5-14.7zM1315.3 1671.8a7.7 5.6 96 1 0-1.7 15.2a7.7 5.6 96 1 0 1.7-15.2zM1322.3 1685.7a9.3 4.3 69 1 0 6.7 17.4a9.3 4.3 69 1 0-6.7-17.4zM1301.7 1624.7a9 4.8 102 1 0-3.8 17.6a9 4.8 102 1 0 3.8-17.6zM1239.5 1604.5a9.8 4.3 108 1 0-6.3 18.6a9.8 4.3 108 1 0 6.3-18.6z" fill="#1a22e0"/>
<path d="M1250.4 1591a11.5 5.8 72 1 0 6.9 22a11.5 5.8 72 1 0-6.9-22zM1325.8 1655.2a7.5 6.2 112 1 0-5.8 13.8a7.5 6.2 112 1 0 5.8-13.8zM1318.8 1607.9a11.9 5.9 69 1 0 8.5 22.3a11.9 5.9 69 1 0-8.5-22.3z" fill="#2028f0"/>
<path d="M1307 1624.5a5 5.6 127 1 0-6.2 7.9a5 5.6 127 1 0 6.2-7.9zM1259.9 1619.4a6.7 4.9 71 1 0 4.4 12.8a6.7 4.9 71 1 0-4.4-12.8zM1307.4 1659.3a5.4 6.2 61 1 0 5.1 9.6a5.4 6.2 61 1 0-5.1-9.6zM1269.7 1641.4a5.5 6.4 86 1 0 0.6 11a5.5 6.4 86 1 0-0.6-11zM1307.3 1619.6a7.9 5.7 127 1 0-9.5 12.5a7.9 5.7 127 1 0 9.5-12.5zM1254.5 1607.6a7.6 4.3 166 1 0-14.7 3.6a7.6 4.3 166 1 0 14.7-3.6zM1315.4 1612.3a7.6 4.1 120 1 0-7.8 13a7.6 4.1 120 1 0 7.8-13zM1251.8 1629.9a7.9 4.3 97 1 0-2.2 15.6a7.9 4.3 97 1 0 2.2-15.6zM1301.3 1625.3a5.9 4.3 97 1 0-1.4 11.7a5.9 4.3 97 1 0 1.4-11.7zM1243.3 1662.7a5.3 5.4 47 1 0 7.1 7.7a5.3 5.4 47 1 0-7.1-7.7zM1290.5 1609.3a5.6 5 1 1 0 11.2 0.4a5.6 5 1 1 0-11.2-0.4zM1278.1 1601.3a7.4 7 134 1 0-10.5 10.5a7.4 7 134 1 0 10.5-10.5z" fill="#1a20d0"/>
<path d="M1285.7 1586.9a5.7 6.5 118 1 0-5.4 9.9a5.7 6.5 118 1 0 5.4-9.9zM1300.1 1635.1a6.9 4.8 89 1 0 0.2 13.9a6.9 4.8 89 1 0-0.2-13.9zM1270.1 1660.9a5.9 6.4 43 1 0 8.5 8.2a5.9 6.4 43 1 0-8.5-8.2zM1313.3 1617.4a5.7 5.5 100 1 0-2.1 11.3a5.7 5.5 100 1 0 2.1-11.3zM1245.6 1621.8a7.6 6.9 178 1 0-15.2 0.5a7.6 6.9 178 1 0 15.2-0.5zM1283.5 1592.9a7.2 4 25 1 0 13.1 6.2a7.2 4 25 1 0-13.1-6.2zM1325.7 1621.6a5.6 5.4 0 1 0 11.3 0.1a5.6 5.4 0 1 0-11.3-0.1zM1267.6 1662.5a6.5 6.1 133 1 0-9 9.4a6.5 6.1 133 1 0 9-9.4zM1300.7 1659a7.9 4.6 156 1 0-14.4 6.3a7.9 4.6 156 1 0 14.4-6.3zM1293.8 1623.7a5.2 5.4 23 1 0 9.4 4.2a5.2 5.4 23 1 0-9.4-4.2zM1285.5 1594.4a7.9 6.6 52 1 0 9.5 12.6a7.9 6.6 52 1 0-9.5-12.6zM1259.7 1647.1a8 4.5 20 1 0 14.9 5.6a8 4.5 20 1 0-14.9-5.6zM1318.9 1639.5a5.7 5.5 88 1 0 0.3 11.5a5.7 5.5 88 1 0-0.3-11.5zM1269.4 1643.9a5.7 5.6 40 1 0 8.7 7.4a5.7 5.6 40 1 0-8.7-7.4zM1299.8 1632.7a7.9 4.9 93 1 0-1.1 15.8a7.9 4.9 93 1 0 1.1-15.8zM1319.3 1601a7.5 5.8 49 1 0 9.6 11.4a7.5 5.8 49 1 0-9.6-11.4zM1272.1 1656.2a6.7 6.9 61 1 0 6.4 11.8a6.7 6.9 61 1 0-6.4-11.8zM1320.8 1592.7a7.8 5.4 134 1 0-10.9 11a7.8 5.4 134 1 0 10.9-11zM1302.6 1602.9a7.5 6.8 134 1 0-10.6 10.7a7.5 6.8 134 1 0 10.6-10.7zM1235.6 1650.8a7.9 7 58 1 0 8.3 13.4a7.9 7 58 1 0-8.3-13.4z" fill="#2a32ff"/>
<path d="M1304 1642.2a6 6.5 97 1 0-1.6 11.9a6 6.5 97 1 0 1.6-11.9zM1271.7 1612a5.9 5.3 152 1 0-10.5 5.5a5.9 5.3 152 1 0 10.5-5.5zM1243.8 1613a6.6 6.4 92 1 0-0.5 13.3a6.6 6.4 92 1 0 0.5-13.3zM1289 1588.9a5.4 6.6 47 1 0 7.3 8a5.4 6.6 47 1 0-7.3-8zM1321.5 1633.1a5.2 7 50 1 0 6.6 8.1a5.2 7 50 1 0-6.6-8.1zM1275.5 1611.1a6.3 6 74 1 0 3.4 12a6.3 6 74 1 0-3.4-12zM1331.4 1623.7a7.8 5.9 140 1 0-12.1 9.9a7.8 5.9 140 1 0 12.1-9.9zM1287.4 1604.5a7.3 6 113 1 0-5.8 13.4a7.3 6 113 1 0 5.8-13.4zM1275.3 1599.6a5.4 4.7 134 1 0-7.5 7.7a5.4 4.7 134 1 0 7.5-7.7zM1288.3 1664.5a6 5.8 15 1 0 11.6 3.3a6 5.8 15 1 0-11.6-3.3zM1249.5 1639.2a7.9 5.7 166 1 0-15.4 3.7a7.9 5.7 166 1 0 15.4-3.7zM1312.2 1652.5a7.4 5 67 1 0 5.7 13.7a7.4 5 67 1 0-5.7-13.7zM1283 1594.3a7.7 4.2 124 1 0-8.7 12.7a7.7 4.2 124 1 0 8.7-12.7zM1267.8 1614.9a7.1 4.3 40 1 0 10.8 9.1a7.1 4.3 40 1 0-10.8-9.1zM1245.8 1609.6a7.2 6 38 1 0 11.2 8.9a7.2 6 38 1 0-11.2-8.9zM1257.5 1601.4a5.2 5.2 13 1 0 10 2.5a5.2 5.2 13 1 0-10-2.5zM1269.5 1642.9a5.9 6.2 63 1 0 5.3 10.5a5.9 6.2 63 1 0-5.3-10.5zM1275.2 1645.3a7.7 4.9 171 1 0-15.3 2.4a7.7 4.9 171 1 0 15.3-2.4z" fill="#1e26e8"/>
<circle cx="1289" cy="1624" r="13" fill="#020208"/>
<rect x="1286.7" y="1690.8" width="49.7" height="5" fill="#ffffff"/>
</g>
<clipPath id="hc21"><rect x="1347.6" y="1574.5" width="127.6" height="127.8"/></clipPath>
<g clip-path="url(#hc21)">
<rect x="1347.6" y="1574.5" width="127.6" height="127.8" fill="#03030a"/>
<path d="M1365.6 1639.7a9 6.3 107 1 0-5.5 17.1a9 6.3 107 1 0 5.5-17.1zM1403 1581.4a11.7 5.6 89 1 0 0.3 23.4a11.7 5.6 89 1 0-0.3-23.4zM1400.4 1577.7a7.8 6.5 71 1 0 5 14.7a7.8 6.5 71 1 0-5-14.7zM1378.1 1681.3a8 6.3 99 1 0-2.5 15.8a8 6.3 99 1 0 2.5-15.8zM1447.5 1638a11 4.8 113 1 0-8.8 20.2a11 4.8 113 1 0 8.8-20.2zM1367.4 1642.6a11.5 4.2 93 1 0-1.6 23a11.5 4.2 93 1 0 1.6-23zM1374.5 1652.5a8.1 6.2 64 1 0 7.1 14.6a8.1 6.2 64 1 0-7.1-14.6zM1350.8 1657.5a11.8 6 76 1 0 5.7 23a11.8 6 76 1 0-5.7-23zM1360.6 1684.5a11.5 4.9 93 1 0-1.5 22.9a11.5 4.9 93 1 0 1.5-22.9z" fill="#1418b8"/>
<path d="M1374.9 1610.6a7.9 5.6 100 1 0-2.9 15.6a7.9 5.6 100 1 0 2.9-15.6zM1466.2 1664.5a10 6 88 1 0 0.6 20a10 6 88 1 0-0.6-20zM1465.5 1675.4a8.7 5.5 80 1 0 2.8 17.2a8.7 5.5 80 1 0-2.8-17.2zM1440.6 1679.5a7 4.3 101 1 0-2.9 13.8a7 4.3 101 1 0 2.9-13.8zM1443.1 1593.8a8 4.5 61 1 0 7.7 13.9a8 4.5 61 1 0-7.7-13.9zM1457.7 1661.2a8.9 5 111 1 0-6.6 16.5a8.9 5 111 1 0 6.6-16.5z" fill="#1a22e0"/>
<path d="M1428.3 1585.7a7.1 6.2 81 1 0 2 14.1a7.1 6.2 81 1 0-2-14.1zM1429.2 1683.5a8.9 5.9 86 1 0 1.2 17.8a8.9 5.9 86 1 0-1.2-17.8zM1409.8 1676.1a10.5 4.4 83 1 0 2.5 20.9a10.5 4.4 83 1 0-2.5-20.9zM1462.1 1615.1a8.5 4.4 68 1 0 6.2 15.9a8.5 4.4 68 1 0-6.2-15.9zM1468 1599.5a10.8 5.8 106 1 0-6.1 20.8a10.8 5.8 106 1 0 6.1-20.8z" fill="#2028f0"/>
<ellipse cx="1411.4" cy="1632" rx="61" ry="43" fill="#e81830" transform="rotate(10 1411.4 1632)"/>
<ellipse cx="1411.4" cy="1632" rx="51.9" ry="36.5" fill="#ff30b0" transform="rotate(10 1411.4 1632)" opacity="0.75"/>
<ellipse cx="1411.7" cy="1611.2" rx="7.2" ry="9.4" fill="#e060d0" transform="rotate(130.3 1411.7 1611.2)"/>
<ellipse cx="1443.7" cy="1633" rx="6.7" ry="9.5" fill="#e060d0" transform="rotate(46.5 1443.7 1633)"/>
<ellipse cx="1420" cy="1639.6" rx="6.4" ry="7.5" fill="#e060d0" transform="rotate(138.9 1420 1639.6)"/>
<ellipse cx="1390.9" cy="1623.7" rx="6" ry="7.3" fill="#e060d0" transform="rotate(23.7 1390.9 1623.7)"/>
<ellipse cx="1424.8" cy="1624.2" rx="6.6" ry="8.7" fill="#e060d0" transform="rotate(135.2 1424.8 1624.2)"/>
<ellipse cx="1423.8" cy="1646.7" rx="5.4" ry="7.3" fill="#e060d0" transform="rotate(67.4 1423.8 1646.7)"/>
<ellipse cx="1389.8" cy="1629.1" rx="6.2" ry="8.7" fill="#e060d0" transform="rotate(5.3 1389.8 1629.1)"/>
<ellipse cx="1419.1" cy="1624.8" rx="6.2" ry="9.1" fill="#e060d0" transform="rotate(1.4 1419.1 1624.8)"/>
<ellipse cx="1419.1" cy="1639.3" rx="5.4" ry="8.7" fill="#e060d0" transform="rotate(133.9 1419.1 1639.3)"/>
<ellipse cx="1439.2" cy="1627.8" rx="7.6" ry="8.2" fill="#e060d0" transform="rotate(95 1439.2 1627.8)"/>
<circle cx="1430.4" cy="1624" r="14" fill="#30f040"/>
<ellipse cx="1371.4" cy="1624" rx="6" ry="5" fill="#f8f0ff"/>
<ellipse cx="1401.4" cy="1602" rx="6" ry="5" fill="#f8f0ff"/>
<ellipse cx="1441.4" cy="1652" rx="6" ry="5" fill="#f8f0ff"/>
<ellipse cx="1406.4" cy="1662" rx="6" ry="5" fill="#f8f0ff"/>
<ellipse cx="1456.4" cy="1622" rx="6" ry="5" fill="#f8f0ff"/>
<ellipse cx="1426.4" cy="1667" rx="6" ry="5" fill="#f8f0ff"/>
<circle cx="1396.4" cy="1632" r="3" fill="#200010"/>
<rect x="1419.7" y="1690.8" width="49.7" height="5" fill="#ffffff"/>
</g>
<clipPath id="hc30"><rect x="1214.6" y="1710.9" width="127.6" height="127.8"/></clipPath>
<g clip-path="url(#hc30)">
<rect x="1214.6" y="1710.9" width="127.6" height="127.8" fill="#03030a"/>
<path d="M1280.3 1737.4a10.7 6 87 1 0 0.9 21.4a10.7 6 87 1 0-0.9-21.4zM1264.9 1776.9a8.1 4.8 113 1 0-6.3 14.9a8.1 4.8 113 1 0 6.3-14.9zM1254.2 1790.8a11.9 5 62 1 0 10.9 21.2a11.9 5 62 1 0-10.9-21.2zM1316.1 1768.5a10.2 4.3 115 1 0-8.9 18.3a10.2 4.3 115 1 0 8.9-18.3zM1313 1735.2a7.7 5.3 108 1 0-5 14.6a7.7 5.3 108 1 0 5-14.6zM1309.8 1791.9a11.1 6 111 1 0-8.3 20.5a11.1 6 111 1 0 8.3-20.5zM1239.8 1809.6a7.8 4.9 83 1 0 1.8 15.5a7.8 4.9 83 1 0-1.8-15.5zM1334.8 1741.7a8.5 4.5 98 1 0-2.6 16.8a8.5 4.5 98 1 0 2.6-16.8z" fill="#1418b8"/>
<path d="M1298.5 1771.4a11.8 6.5 61 1 0 11.3 20.6a11.8 6.5 61 1 0-11.3-20.6zM1225.7 1797.4a7.7 5.6 111 1 0-5.8 14.4a7.7 5.6 111 1 0 5.8-14.4zM1317.9 1755.4a8.4 5.9 109 1 0-5.6 15.9a8.4 5.9 109 1 0 5.6-15.9zM1285 1816.7a7.9 5.1 85 1 0 1.2 15.8a7.9 5.1 85 1 0-1.2-15.8zM1222.9 1750.6a7.2 6.5 79 1 0 2.7 14.1a7.2 6.5 79 1 0-2.7-14.1zM1248.1 1748a11.5 5.4 68 1 0 8.6 21.3a11.5 5.4 68 1 0-8.6-21.3zM1309.2 1709.8a9.2 6.3 94 1 0-1.6 18.4a9.2 6.3 94 1 0 1.6-18.4z" fill="#2028f0"/>
<path d="M1237.1 1809.4a7.6 4.4 107 1 0-4.5 14.5a7.6 4.4 107 1 0 4.5-14.5zM1259.8 1806.3a10.9 4.4 75 1 0 5.5 21.2a10.9 4.4 75 1 0-5.5-21.2zM1272.7 1716.3a10.3 4.7 81 1 0 3 20.5a10.3 4.7 81 1 0-3-20.5zM1227.1 1729.8a10.6 4.7 87 1 0 0.9 21.2a10.6 4.7 87 1 0-0.9-21.2zM1298.3 1735.7a10.9 5.7 98 1 0-3.2 21.7a10.9 5.7 98 1 0 3.2-21.7z" fill="#1a22e0"/>
<path d="M1280.7 1783.8a5.8 5.6 21 1 0 10.9 4.2a5.8 5.6 21 1 0-10.9-4.2zM1277.3 1762.9a5.1 5.2 138 1 0-7.7 6.8a5.1 5.2 138 1 0 7.7-6.8zM1287.3 1777.1a6.5 4.8 52 1 0 7.9 10.4a6.5 4.8 52 1 0-7.9-10.4zM1262.8 1751.7a7.9 5.2 48 1 0 10.4 11.8a7.9 5.2 48 1 0-10.4-11.8zM1273.9 1741.4a6.3 5.8 85 1 0 1 12.6a6.3 5.8 85 1 0-1-12.6zM1281.1 1776.3a5.9 4.5 149 1 0-10.2 6a5.9 4.5 149 1 0 10.2-6zM1270.9 1776.6a7.9 5.7 83 1 0 1.9 15.8a7.9 5.7 83 1 0-1.9-15.8zM1268.9 1734.3a8 5.5 23 1 0 14.6 6.5a8 5.5 23 1 0-14.6-6.5zM1281.8 1767.2a7.2 4.5 164 1 0-14 3.9a7.2 4.5 164 1 0 14-3.9zM1276.2 1746.6a7.1 5.5 77 1 0 3.1 13.8a7.1 5.5 77 1 0-3.1-13.8zM1261.3 1764.8a6.1 5.1 159 1 0-11.5 4.3a6.1 5.1 159 1 0 11.5-4.3z" fill="#1e26e8"/>
<path d="M1285.4 1795.4a7.4 5.5 37 1 0 11.8 9a7.4 5.5 37 1 0-11.8-9zM1280.3 1745.7a5.4 4.2 93 1 0-0.7 10.8a5.4 4.2 93 1 0 0.7-10.8zM1288.1 1769.9a7.7 4.5 124 1 0-8.7 12.7a7.7 4.5 124 1 0 8.7-12.7zM1303.7 1737.2a5.9 5.9 82 1 0 1.6 11.7a5.9 5.9 82 1 0-1.6-11.7zM1254.1 1749.2a6.5 5.4 69 1 0 4.5 12.2a6.5 5.4 69 1 0-4.5-12.2zM1275 1784.6a6.9 4.1 175 1 0-13.8 1.2a6.9 4.1 175 1 0 13.8-1.2zM1293.3 1736.1a6.1 6.3 44 1 0 8.6 8.5a6.1 6.3 44 1 0-8.6-8.5zM1302.5 1770.7a7.8 4.6 86 1 0 1 15.6a7.8 4.6 86 1 0-1-15.6zM1286.3 1796.9a6.1 4.7 22 1 0 11.3 4.8a6.1 4.7 22 1 0-11.3-4.8zM1289.2 1778.1a7.6 5 99 1 0-2.5 15.1a7.6 5 99 1 0 2.5-15.1zM1280.8 1765.6a7.2 5.6 174 1 0-14.3 1.3a7.2 5.6 174 1 0 14.3-1.3zM1306.3 1776.4a7.6 6.4 74 1 0 4 14.6a7.6 6.4 74 1 0-4-14.6zM1256.6 1771.2a5.5 5.9 77 1 0 2.4 10.8a5.5 5.9 77 1 0-2.4-10.8zM1239.5 1775.2a7.5 4.8 20 1 0 14.1 5.2a7.5 4.8 20 1 0-14.1-5.2zM1304.2 1759.5a6.5 5.8 143 1 0-10.4 7.8a6.5 5.8 143 1 0 10.4-7.8zM1309.2 1758.8a7.7 5.4 13 1 0 15 3.5a7.7 5.4 13 1 0-15-3.5z" fill="#1a20d0"/>
<path d="M1291.8 1752.7a6.8 6.4 162 1 0-13 4.1a6.8 6.4 162 1 0 13-4.1zM1287.1 1750.4a5.4 6.4 3 1 0 10.8 0.7a5.4 6.4 3 1 0-10.8-0.7zM1259.2 1737a6 5.2 2 1 0 12.1 0.5a6 5.2 2 1 0-12.1-0.5zM1292 1771.7a5.5 5.7 14 1 0 10.6 2.8a5.5 5.7 14 1 0-10.6-2.8zM1267.5 1766.3a6.6 5.7 22 1 0 12.2 5.1a6.6 5.7 22 1 0-12.2-5.1zM1290.1 1754.1a5 4.4 23 1 0 9.3 3.9a5 4.4 23 1 0-9.3-3.9zM1286.3 1747.9a6.5 4 157 1 0-12 5a6.5 4 157 1 0 12-5z" fill="#2a32ff"/>
<rect x="1286.7" y="1827.2" width="49.7" height="5" fill="#ffffff"/>
</g>
<clipPath id="hc31"><rect x="1347.6" y="1710.9" width="127.6" height="127.8"/></clipPath>
<g clip-path="url(#hc31)">
<rect x="1347.6" y="1710.9" width="127.6" height="127.8" fill="#03030a"/>
<path d="M1391.8 1799.5a7.4 4.7 106 1 0-4.3 14.2a7.4 4.7 106 1 0 4.3-14.2zM1401.8 1796.1a7.3 5.8 75 1 0 3.6 14.2a7.3 5.8 75 1 0-3.6-14.2zM1469.5 1803.6a7.1 5.8 112 1 0-5.5 13.2a7.1 5.8 112 1 0 5.5-13.2zM1354.1 1758.7a8.7 6.4 92 1 0-0.7 17.3a8.7 6.4 92 1 0 0.7-17.3zM1372 1760.2a7.4 5.3 64 1 0 6.5 13.3a7.4 5.3 64 1 0-6.5-13.3zM1457.3 1741.1a10.9 4.5 106 1 0-6.4 20.9a10.9 4.5 106 1 0 6.4-20.9z" fill="#2028f0"/>
<path d="M1369.5 1770.9a11.8 5.8 101 1 0-4.9 23.1a11.8 5.8 101 1 0 4.9-23.1zM1421.8 1792.5a9.2 5.2 116 1 0-8.3 16.4a9.2 5.2 116 1 0 8.3-16.4zM1445.5 1821.8a10.1 4.5 97 1 0-2.5 20.1a10.1 4.5 97 1 0 2.5-20.1zM1366.8 1755.1a9 6 76 1 0 4.1 17.5a9 6 76 1 0-4.1-17.5zM1468.7 1751.4a7.6 5.9 102 1 0-3.3 14.9a7.6 5.9 102 1 0 3.3-14.9zM1352 1749.2a9.2 4.6 82 1 0 2.4 18.2a9.2 4.6 82 1 0-2.4-18.2zM1422.9 1733.3a9.2 6.2 102 1 0-4.1 18a9.2 6.2 102 1 0 4.1-18zM1440.6 1774.9a10.6 6.2 102 1 0-4.5 20.7a10.6 6.2 102 1 0 4.5-20.7z" fill="#1a22e0"/>
<path d="M1413.1 1790.1a11.5 5.8 72 1 0 7 21.9a11.5 5.8 72 1 0-7-21.9zM1426.7 1801.3a10.9 4.4 82 1 0 2.9 21.6a10.9 4.4 82 1 0-2.9-21.6zM1407.5 1725.3a9.1 5.3 98 1 0-2.8 18a9.1 5.3 98 1 0 2.8-18zM1436.7 1741.7a11.7 6 97 1 0-3.1 23.3a11.7 6 97 1 0 3.1-23.3zM1368.2 1818.5a10 5.2 62 1 0 9.3 17.6a10 5.2 62 1 0-9.3-17.6zM1370.6 1778.9a10.1 5.9 93 1 0-1.3 20.1a10.1 5.9 93 1 0 1.3-20.1z" fill="#1418b8"/>
<ellipse cx="1406.3" cy="1774.8" rx="51" ry="54" fill="#e81830" transform="rotate(30 1406.3 1774.8)"/>
<ellipse cx="1406.3" cy="1774.8" rx="43.4" ry="45.9" fill="#ff30b0" transform="rotate(30 1406.3 1774.8)" opacity="0.75"/>
<ellipse cx="1390" cy="1777.5" rx="6.8" ry="7.9" fill="#e060d0" transform="rotate(16.6 1390 1777.5)"/>
<ellipse cx="1406.8" cy="1761.4" rx="6.6" ry="9.8" fill="#e060d0" transform="rotate(179.2 1406.8 1761.4)"/>
<ellipse cx="1400.6" cy="1799.2" rx="6.8" ry="7.3" fill="#e060d0" transform="rotate(122 1400.6 1799.2)"/>
<ellipse cx="1432.6" cy="1797.3" rx="6.8" ry="9.2" fill="#e060d0" transform="rotate(0.7 1432.6 1797.3)"/>
<ellipse cx="1383.2" cy="1762.9" rx="7" ry="7.5" fill="#e060d0" transform="rotate(142.6 1383.2 1762.9)"/>
<ellipse cx="1381.6" cy="1790.3" rx="5.2" ry="8.3" fill="#e060d0" transform="rotate(52.3 1381.6 1790.3)"/>
<ellipse cx="1421.1" cy="1744.8" rx="5.3" ry="9.3" fill="#e060d0" transform="rotate(153.7 1421.1 1744.8)"/>
<ellipse cx="1418.1" cy="1778" rx="6" ry="7.8" fill="#e060d0" transform="rotate(53 1418.1 1778)"/>
<ellipse cx="1422.2" cy="1789.6" rx="6.6" ry="9.9" fill="#e060d0" transform="rotate(119.5 1422.2 1789.6)"/>
<ellipse cx="1436.5" cy="1791" rx="6" ry="8.7" fill="#e060d0" transform="rotate(162.9 1436.5 1791)"/>
<circle cx="1410.3" cy="1744.8" r="9" fill="#081008"/>
<circle cx="1410.3" cy="1744.8" r="4" fill="#20a040"/>
<circle cx="1424.3" cy="1772.8" r="9" fill="#081008"/>
<circle cx="1424.3" cy="1772.8" r="4" fill="#20a040"/>
<ellipse cx="1376.3" cy="1754.8" rx="6" ry="5" fill="#f8f0ff"/>
<ellipse cx="1381.3" cy="1779.8" rx="6" ry="5" fill="#f8f0ff"/>
<ellipse cx="1416.3" cy="1732.8" rx="6" ry="5" fill="#f8f0ff"/>
<ellipse cx="1431.3" cy="1809.8" rx="6" ry="5" fill="#f8f0ff"/>
<ellipse cx="1396.3" cy="1804.8" rx="6" ry="5" fill="#f8f0ff"/>
<rect x="1419.7" y="1827.2" width="49.7" height="5" fill="#ffffff"/>
</g>
<rect x="1214.6" y="1847.7" width="260.5" height="72.3" fill="#000000"/>
<text x="1346" y="1875" font-size="25" text-anchor="middle"><tspan fill="#2a4ae0">DAPI</tspan> <tspan fill="#22dd44">EdU</tspan></text>
<text x="1344" y="1907" font-size="25" text-anchor="middle" fill="#ee2020">RFP-P2A-cDNA</text>
<text x="1202" y="1368.3" font-size="26" text-anchor="middle" font-style="italic" transform="rotate(-90 1202 1368.3)">Conf</text>
<text x="1202" y="1503.6" font-size="26" text-anchor="middle" font-style="italic" transform="rotate(-90 1202 1503.6)">R2N1</text>
<text x="1202" y="1638.5" font-size="26" text-anchor="middle" font-style="italic" transform="rotate(-90 1202 1638.5)">R2KR</text>
<text x="1202" y="1774.9" font-size="26" text-anchor="middle" font-style="italic" transform="rotate(-90 1202 1774.9)">R2P3</text>
<line x1="1165.5" y1="1437" x2="1165.5" y2="1842.6" stroke="#000" stroke-width="3.2"/>
<text x="1151" y="1652" font-size="26" text-anchor="middle" font-style="italic" transform="rotate(-90 1151 1652)">Red2-Mutant</text>
<defs><pattern id="cellg" width="9" height="7.4" patternUnits="userSpaceOnUse"><rect x="0.6" y="0.6" width="7.8" height="6.2" rx="2.2" fill="#fafafa" stroke="#5a5a5a" stroke-width="0.95"/></pattern><pattern id="cellc" width="8" height="6.4" patternUnits="userSpaceOnUse"><rect x="0.6" y="0.6" width="6.8" height="5.2" rx="2" fill="#f8f8f8" stroke="#555" stroke-width="0.95"/></pattern><radialGradient id="pcg" cx="0.4" cy="0.35" r="0.7"><stop offset="0" stop-color="#fbfbfb"/><stop offset="0.7" stop-color="#d8d8d8"/><stop offset="1" stop-color="#a8a8a8"/></radialGradient><pattern id="platep" width="13" height="15" patternUnits="userSpaceOnUse"><ellipse cx="6.5" cy="7.5" rx="6" ry="7" fill="url(#pcg)" stroke="#555" stroke-width="1"/></pattern><linearGradient id="shadeV" x1="0" x2="1" y1="0" y2="0"><stop offset="0" stop-color="#000" stop-opacity="0.18"/><stop offset="0.3" stop-color="#000" stop-opacity="0"/><stop offset="0.75" stop-color="#000" stop-opacity="0"/><stop offset="1" stop-color="#000" stop-opacity="0.2"/></linearGradient><radialGradient id="plateDark" cx="0.5" cy="0.55" r="0.5"><stop offset="0" stop-color="#202020" stop-opacity="0.45"/><stop offset="0.6" stop-color="#202020" stop-opacity="0.25"/><stop offset="1" stop-color="#202020" stop-opacity="0"/></radialGradient></defs>
<path d="M72.5 1560L105.5 1560L105.5 1657.5A16.5 14.8 0 0 1 72.5 1657.5Z" fill="url(#cellc)" stroke="#4a4a4a" stroke-width="1.6"/>
<path d="M72.5 1560L105.5 1560L105.5 1657.5A16.5 14.8 0 0 1 72.5 1657.5Z" fill="url(#shadeV)"/>
<path d="M111 1565L147 1565L147 1704A18 16.2 0 0 1 111 1704Z" fill="url(#cellc)" stroke="#4a4a4a" stroke-width="1.6"/>
<path d="M111 1565L147 1565L147 1704A18 16.2 0 0 1 111 1704Z" fill="url(#shadeV)"/>
<path d="M166 1560L196 1560L196 1658A15 13.5 0 0 1 166 1658Z" fill="url(#cellc)" stroke="#4a4a4a" stroke-width="1.6"/>
<path d="M166 1560L196 1560L196 1658A15 13.5 0 0 1 166 1658Z" fill="url(#shadeV)"/>
<path d="M193 1560L233 1560L233 1738A20 18 0 0 1 193 1738Z" fill="url(#cellc)" stroke="#4a4a4a" stroke-width="1.6"/>
<path d="M193 1560L233 1560L233 1738A20 18 0 0 1 193 1738Z" fill="url(#shadeV)"/>
<path d="M237.5 1560L267.5 1560L267.5 1630A15 13.5 0 0 1 237.5 1630Z" fill="url(#cellc)" stroke="#4a4a4a" stroke-width="1.6"/>
<path d="M237.5 1560L267.5 1560L267.5 1630A15 13.5 0 0 1 237.5 1630Z" fill="url(#shadeV)"/>
<path d="M282 1545L316 1545L316 1640A17 15.3 0 0 1 282 1640Z" fill="url(#cellc)" stroke="#4a4a4a" stroke-width="1.6"/>
<path d="M282 1545L316 1545L316 1640A17 15.3 0 0 1 282 1640Z" fill="url(#shadeV)"/>
<defs><radialGradient id="pc1" cx="0.4" cy="0.3" r="0.75"><stop offset="0" stop-color="#fdfdfd"/><stop offset="1" stop-color="#c8c8c8"/></radialGradient><radialGradient id="pc2" cx="0.4" cy="0.3" r="0.75"><stop offset="0" stop-color="#e0e0e0"/><stop offset="1" stop-color="#9a9a9a"/></radialGradient><radialGradient id="pc3" cx="0.4" cy="0.3" r="0.75"><stop offset="0" stop-color="#b8b8b8"/><stop offset="1" stop-color="#6e6e6e"/></radialGradient></defs>
<path d="M47 1598C55 1565 75 1540 100 1528L190 1516L300 1508L350 1512C348 1535 336 1565 318 1590L290 1614L60 1616Z" fill="#d0d0d0" stroke="#555" stroke-width="1.2"/>
<ellipse cx="100" cy="1530" rx="6.2" ry="7.5" fill="url(#pc1)" stroke="#505050" stroke-width="1"/>
<ellipse cx="112.9" cy="1530.2" rx="6.2" ry="7.5" fill="url(#pc1)" stroke="#505050" stroke-width="1"/>
<ellipse cx="125.8" cy="1530.4" rx="6.2" ry="7.5" fill="url(#pc1)" stroke="#505050" stroke-width="1"/>
<ellipse cx="138.7" cy="1530.5" rx="6.2" ry="7.5" fill="url(#pc1)" stroke="#505050" stroke-width="1"/>
<ellipse cx="151.6" cy="1530.5" rx="6.2" ry="7.5" fill="url(#pc1)" stroke="#505050" stroke-width="1"/>
<ellipse cx="164.5" cy="1530.5" rx="6.2" ry="7.5" fill="url(#pc1)" stroke="#505050" stroke-width="1"/>
<ellipse cx="177.4" cy="1530.3" rx="6.2" ry="7.5" fill="url(#pc1)" stroke="#505050" stroke-width="1"/>
<ellipse cx="190.3" cy="1530" rx="6.2" ry="7.5" fill="url(#pc1)" stroke="#505050" stroke-width="1"/>
<ellipse cx="203.2" cy="1529.5" rx="6.2" ry="7.5" fill="url(#pc1)" stroke="#505050" stroke-width="1"/>
<ellipse cx="216.1" cy="1528.9" rx="6.2" ry="7.5" fill="url(#pc1)" stroke="#505050" stroke-width="1"/>
<ellipse cx="228.9" cy="1528.1" rx="6.2" ry="7.5" fill="url(#pc1)" stroke="#505050" stroke-width="1"/>
<ellipse cx="241.8" cy="1527.1" rx="6.2" ry="7.5" fill="url(#pc1)" stroke="#505050" stroke-width="1"/>
<ellipse cx="254.7" cy="1526" rx="6.2" ry="7.5" fill="url(#pc1)" stroke="#505050" stroke-width="1"/>
<ellipse cx="267.6" cy="1524.8" rx="6.2" ry="7.5" fill="url(#pc1)" stroke="#505050" stroke-width="1"/>
<ellipse cx="280.5" cy="1523.4" rx="6.2" ry="7.5" fill="url(#pc1)" stroke="#505050" stroke-width="1"/>
<ellipse cx="293.4" cy="1521.8" rx="6.2" ry="7.5" fill="url(#pc1)" stroke="#505050" stroke-width="1"/>
<ellipse cx="306.3" cy="1520.2" rx="6.2" ry="7.5" fill="url(#pc1)" stroke="#505050" stroke-width="1"/>
<ellipse cx="319.2" cy="1518.5" rx="6.2" ry="7.5" fill="url(#pc1)" stroke="#505050" stroke-width="1"/>
<ellipse cx="332.1" cy="1516.8" rx="6.2" ry="7.5" fill="url(#pc1)" stroke="#505050" stroke-width="1"/>
<ellipse cx="345" cy="1515" rx="6.2" ry="7.5" fill="url(#pc1)" stroke="#505050" stroke-width="1"/>
<ellipse cx="92.5" cy="1541.7" rx="6.2" ry="8" fill="url(#pc1)" stroke="#505050" stroke-width="1"/>
<ellipse cx="105.3" cy="1541.9" rx="6.2" ry="8" fill="url(#pc1)" stroke="#505050" stroke-width="1"/>
<ellipse cx="118.1" cy="1542.1" rx="6.2" ry="8" fill="url(#pc1)" stroke="#505050" stroke-width="1"/>
<ellipse cx="130.9" cy="1542.3" rx="6.2" ry="8" fill="url(#pc1)" stroke="#505050" stroke-width="1"/>
<ellipse cx="143.7" cy="1542.4" rx="6.2" ry="8" fill="url(#pc1)" stroke="#505050" stroke-width="1"/>
<ellipse cx="156.5" cy="1542.4" rx="6.2" ry="8" fill="url(#pc1)" stroke="#505050" stroke-width="1"/>
<ellipse cx="169.3" cy="1542.3" rx="6.2" ry="8" fill="url(#pc1)" stroke="#505050" stroke-width="1"/>
<ellipse cx="182.1" cy="1542.1" rx="6.2" ry="8" fill="url(#pc1)" stroke="#505050" stroke-width="1"/>
<ellipse cx="195" cy="1541.7" rx="6.2" ry="8" fill="url(#pc1)" stroke="#505050" stroke-width="1"/>
<ellipse cx="207.8" cy="1541.3" rx="6.2" ry="8" fill="url(#pc1)" stroke="#505050" stroke-width="1"/>
<ellipse cx="220.6" cy="1540.7" rx="6.2" ry="8" fill="url(#pc1)" stroke="#505050" stroke-width="1"/>
<ellipse cx="233.4" cy="1540" rx="6.2" ry="8" fill="url(#pc1)" stroke="#505050" stroke-width="1"/>
<ellipse cx="246.2" cy="1539.1" rx="6.2" ry="8" fill="url(#pc1)" stroke="#505050" stroke-width="1"/>
<ellipse cx="259" cy="1538.1" rx="6.2" ry="8" fill="url(#pc1)" stroke="#505050" stroke-width="1"/>
<ellipse cx="271.8" cy="1537" rx="6.2" ry="8" fill="url(#pc1)" stroke="#505050" stroke-width="1"/>
<ellipse cx="284.6" cy="1535.8" rx="6.2" ry="8" fill="url(#pc1)" stroke="#505050" stroke-width="1"/>
<ellipse cx="297.4" cy="1534.5" rx="6.2" ry="8" fill="url(#pc1)" stroke="#505050" stroke-width="1"/>
<ellipse cx="310.2" cy="1533.1" rx="6.2" ry="8" fill="url(#pc1)" stroke="#505050" stroke-width="1"/>
<ellipse cx="323" cy="1531.8" rx="6.2" ry="8" fill="url(#pc1)" stroke="#505050" stroke-width="1"/>
<ellipse cx="335.8" cy="1530.3" rx="6.2" ry="8" fill="url(#pc1)" stroke="#505050" stroke-width="1"/>
<ellipse cx="85" cy="1553.3" rx="6.2" ry="8.5" fill="url(#pc1)" stroke="#505050" stroke-width="1"/>
<ellipse cx="97.7" cy="1553.6" rx="6.2" ry="8.5" fill="url(#pc1)" stroke="#505050" stroke-width="1"/>
<ellipse cx="110.4" cy="1553.8" rx="6.2" ry="8.5" fill="url(#pc1)" stroke="#505050" stroke-width="1"/>
<ellipse cx="123.2" cy="1554" rx="6.2" ry="8.5" fill="url(#pc1)" stroke="#505050" stroke-width="1"/>
<ellipse cx="135.9" cy="1554.2" rx="6.2" ry="8.5" fill="url(#pc1)" stroke="#505050" stroke-width="1"/>
<ellipse cx="148.6" cy="1554.3" rx="6.2" ry="8.5" fill="url(#pc1)" stroke="#505050" stroke-width="1"/>
<ellipse cx="161.3" cy="1554.3" rx="6.2" ry="8.5" fill="url(#pc1)" stroke="#505050" stroke-width="1"/>
<ellipse cx="174" cy="1554.2" rx="6.2" ry="8.5" fill="url(#pc1)" stroke="#505050" stroke-width="1"/>
<ellipse cx="186.8" cy="1554" rx="6.2" ry="8.5" fill="url(#pc1)" stroke="#505050" stroke-width="1"/>
<ellipse cx="199.5" cy="1553.7" rx="6.2" ry="8.5" fill="url(#pc1)" stroke="#505050" stroke-width="1"/>
<ellipse cx="212.2" cy="1553.3" rx="6.2" ry="8.5" fill="url(#pc1)" stroke="#505050" stroke-width="1"/>
<ellipse cx="224.9" cy="1552.8" rx="6.2" ry="8.5" fill="url(#pc1)" stroke="#505050" stroke-width="1"/>
<ellipse cx="237.6" cy="1552.2" rx="6.2" ry="8.5" fill="url(#pc1)" stroke="#505050" stroke-width="1"/>
<ellipse cx="250.4" cy="1551.4" rx="6.2" ry="8.5" fill="url(#pc1)" stroke="#505050" stroke-width="1"/>
<ellipse cx="263.1" cy="1550.6" rx="6.2" ry="8.5" fill="url(#pc1)" stroke="#505050" stroke-width="1"/>
<ellipse cx="275.8" cy="1549.7" rx="6.2" ry="8.5" fill="url(#pc1)" stroke="#505050" stroke-width="1"/>
<ellipse cx="288.5" cy="1548.8" rx="6.2" ry="8.5" fill="url(#pc1)" stroke="#505050" stroke-width="1"/>
<ellipse cx="301.2" cy="1547.8" rx="6.2" ry="8.5" fill="url(#pc1)" stroke="#505050" stroke-width="1"/>
<ellipse cx="313.9" cy="1546.7" rx="6.2" ry="8.5" fill="url(#pc1)" stroke="#505050" stroke-width="1"/>
<ellipse cx="326.7" cy="1545.7" rx="6.2" ry="8.5" fill="url(#pc1)" stroke="#505050" stroke-width="1"/>
<ellipse cx="77.5" cy="1565" rx="6.2" ry="9" fill="url(#pc1)" stroke="#505050" stroke-width="1"/>
<ellipse cx="90.1" cy="1565.3" rx="6.2" ry="9" fill="url(#pc1)" stroke="#505050" stroke-width="1"/>
<ellipse cx="102.8" cy="1565.6" rx="6.2" ry="9" fill="url(#pc1)" stroke="#505050" stroke-width="1"/>
<ellipse cx="115.4" cy="1565.8" rx="6.2" ry="9" fill="url(#pc1)" stroke="#505050" stroke-width="1"/>
<ellipse cx="128" cy="1566" rx="6.2" ry="9" fill="url(#pc2)" stroke="#505050" stroke-width="1"/>
<ellipse cx="140.7" cy="1566.2" rx="6.2" ry="9" fill="url(#pc2)" stroke="#505050" stroke-width="1"/>
<ellipse cx="153.3" cy="1566.2" rx="6.2" ry="9" fill="url(#pc2)" stroke="#505050" stroke-width="1"/>
<ellipse cx="165.9" cy="1566.3" rx="6.2" ry="9" fill="url(#pc2)" stroke="#505050" stroke-width="1"/>
<ellipse cx="178.6" cy="1566.2" rx="6.2" ry="9" fill="url(#pc2)" stroke="#505050" stroke-width="1"/>
<ellipse cx="191.2" cy="1566.1" rx="6.2" ry="9" fill="url(#pc2)" stroke="#505050" stroke-width="1"/>
<ellipse cx="203.8" cy="1565.9" rx="6.2" ry="9" fill="url(#pc2)" stroke="#505050" stroke-width="1"/>
<ellipse cx="216.4" cy="1565.6" rx="6.2" ry="9" fill="url(#pc2)" stroke="#505050" stroke-width="1"/>
<ellipse cx="229.1" cy="1565.2" rx="6.2" ry="9" fill="url(#pc2)" stroke="#505050" stroke-width="1"/>
<ellipse cx="241.7" cy="1564.8" rx="6.2" ry="9" fill="url(#pc1)" stroke="#505050" stroke-width="1"/>
<ellipse cx="254.3" cy="1564.3" rx="6.2" ry="9" fill="url(#pc1)" stroke="#505050" stroke-width="1"/>
<ellipse cx="267" cy="1563.7" rx="6.2" ry="9" fill="url(#pc1)" stroke="#505050" stroke-width="1"/>
<ellipse cx="279.6" cy="1563.1" rx="6.2" ry="9" fill="url(#pc1)" stroke="#505050" stroke-width="1"/>
<ellipse cx="292.2" cy="1562.4" rx="6.2" ry="9" fill="url(#pc1)" stroke="#505050" stroke-width="1"/>
<ellipse cx="304.9" cy="1561.7" rx="6.2" ry="9" fill="url(#pc1)" stroke="#505050" stroke-width="1"/>
<ellipse cx="317.5" cy="1561" rx="6.2" ry="9" fill="url(#pc1)" stroke="#505050" stroke-width="1"/>
<ellipse cx="70" cy="1576.7" rx="6.2" ry="9.5" fill="url(#pc1)" stroke="#505050" stroke-width="1"/>
<ellipse cx="82.5" cy="1577" rx="6.2" ry="9.5" fill="url(#pc1)" stroke="#505050" stroke-width="1"/>
<ellipse cx="95.1" cy="1577.3" rx="6.2" ry="9.5" fill="url(#pc1)" stroke="#505050" stroke-width="1"/>
<ellipse cx="107.6" cy="1577.6" rx="6.2" ry="9.5" fill="url(#pc2)" stroke="#505050" stroke-width="1"/>
<ellipse cx="120.2" cy="1577.8" rx="6.2" ry="9.5" fill="url(#pc2)" stroke="#505050" stroke-width="1"/>
<ellipse cx="132.7" cy="1578.1" rx="6.2" ry="9.5" fill="url(#pc2)" stroke="#505050" stroke-width="1"/>
<ellipse cx="145.3" cy="1578.2" rx="6.2" ry="9.5" fill="url(#pc3)" stroke="#505050" stroke-width="1"/>
<ellipse cx="157.8" cy="1578.4" rx="6.2" ry="9.5" fill="url(#pc3)" stroke="#505050" stroke-width="1"/>
<ellipse cx="170.4" cy="1578.5" rx="6.2" ry="9.5" fill="url(#pc3)" stroke="#505050" stroke-width="1"/>
<ellipse cx="182.9" cy="1578.5" rx="6.2" ry="9.5" fill="url(#pc3)" stroke="#505050" stroke-width="1"/>
<ellipse cx="195.4" cy="1578.5" rx="6.2" ry="9.5" fill="url(#pc3)" stroke="#505050" stroke-width="1"/>
<ellipse cx="208" cy="1578.4" rx="6.2" ry="9.5" fill="url(#pc3)" stroke="#505050" stroke-width="1"/>
<ellipse cx="220.5" cy="1578.3" rx="6.2" ry="9.5" fill="url(#pc2)" stroke="#505050" stroke-width="1"/>
<ellipse cx="233.1" cy="1578.1" rx="6.2" ry="9.5" fill="url(#pc2)" stroke="#505050" stroke-width="1"/>
<ellipse cx="245.6" cy="1577.9" rx="6.2" ry="9.5" fill="url(#pc2)" stroke="#505050" stroke-width="1"/>
<ellipse cx="258.2" cy="1577.6" rx="6.2" ry="9.5" fill="url(#pc1)" stroke="#505050" stroke-width="1"/>
<ellipse cx="270.7" cy="1577.3" rx="6.2" ry="9.5" fill="url(#pc1)" stroke="#505050" stroke-width="1"/>
<ellipse cx="283.2" cy="1577" rx="6.2" ry="9.5" fill="url(#pc1)" stroke="#505050" stroke-width="1"/>
<ellipse cx="295.8" cy="1576.7" rx="6.2" ry="9.5" fill="url(#pc1)" stroke="#505050" stroke-width="1"/>
<ellipse cx="308.3" cy="1576.3" rx="6.2" ry="9.5" fill="url(#pc1)" stroke="#505050" stroke-width="1"/>
<ellipse cx="62.5" cy="1588.3" rx="6.2" ry="10" fill="url(#pc1)" stroke="#505050" stroke-width="1"/>
<ellipse cx="75.6" cy="1588.7" rx="6.2" ry="10" fill="url(#pc1)" stroke="#505050" stroke-width="1"/>
<ellipse cx="88.8" cy="1589" rx="6.2" ry="10" fill="url(#pc1)" stroke="#505050" stroke-width="1"/>
<ellipse cx="101.9" cy="1589.4" rx="6.2" ry="10" fill="url(#pc2)" stroke="#505050" stroke-width="1"/>
<ellipse cx="115.1" cy="1589.7" rx="6.2" ry="10" fill="url(#pc2)" stroke="#505050" stroke-width="1"/>
<ellipse cx="128.2" cy="1590" rx="6.2" ry="10" fill="url(#pc3)" stroke="#505050" stroke-width="1"/>
<ellipse cx="141.4" cy="1590.3" rx="6.2" ry="10" fill="url(#pc3)" stroke="#505050" stroke-width="1"/>
<ellipse cx="154.5" cy="1590.6" rx="6.2" ry="10" fill="url(#pc3)" stroke="#505050" stroke-width="1"/>
<ellipse cx="167.7" cy="1590.8" rx="6.2" ry="10" fill="url(#pc3)" stroke="#505050" stroke-width="1"/>
<ellipse cx="180.8" cy="1591" rx="6.2" ry="10" fill="url(#pc3)" stroke="#505050" stroke-width="1"/>
<ellipse cx="194" cy="1591.2" rx="6.2" ry="10" fill="url(#pc3)" stroke="#505050" stroke-width="1"/>
<ellipse cx="207.1" cy="1591.3" rx="6.2" ry="10" fill="url(#pc3)" stroke="#505050" stroke-width="1"/>
<ellipse cx="220.3" cy="1591.4" rx="6.2" ry="10" fill="url(#pc3)" stroke="#505050" stroke-width="1"/>
<ellipse cx="233.4" cy="1591.5" rx="6.2" ry="10" fill="url(#pc2)" stroke="#505050" stroke-width="1"/>
<ellipse cx="246.6" cy="1591.6" rx="6.2" ry="10" fill="url(#pc2)" stroke="#505050" stroke-width="1"/>
<ellipse cx="259.7" cy="1591.6" rx="6.2" ry="10" fill="url(#pc2)" stroke="#505050" stroke-width="1"/>
<ellipse cx="272.9" cy="1591.6" rx="6.2" ry="10" fill="url(#pc1)" stroke="#505050" stroke-width="1"/>
<ellipse cx="286" cy="1591.7" rx="6.2" ry="10" fill="url(#pc1)" stroke="#505050" stroke-width="1"/>
<ellipse cx="299.2" cy="1591.7" rx="6.2" ry="10" fill="url(#pc1)" stroke="#505050" stroke-width="1"/>
<ellipse cx="55" cy="1600" rx="6.2" ry="10.5" fill="url(#pc1)" stroke="#505050" stroke-width="1"/>
<ellipse cx="68.1" cy="1600.4" rx="6.2" ry="10.5" fill="url(#pc1)" stroke="#505050" stroke-width="1"/>
<ellipse cx="81.1" cy="1600.8" rx="6.2" ry="10.5" fill="url(#pc1)" stroke="#505050" stroke-width="1"/>
<ellipse cx="94.2" cy="1601.2" rx="6.2" ry="10.5" fill="url(#pc1)" stroke="#505050" stroke-width="1"/>
<ellipse cx="107.2" cy="1601.6" rx="6.2" ry="10.5" fill="url(#pc2)" stroke="#505050" stroke-width="1"/>
<ellipse cx="120.3" cy="1601.9" rx="6.2" ry="10.5" fill="url(#pc2)" stroke="#505050" stroke-width="1"/>
<ellipse cx="133.3" cy="1602.3" rx="6.2" ry="10.5" fill="url(#pc2)" stroke="#505050" stroke-width="1"/>
<ellipse cx="146.4" cy="1602.7" rx="6.2" ry="10.5" fill="url(#pc3)" stroke="#505050" stroke-width="1"/>
<ellipse cx="159.4" cy="1603.1" rx="6.2" ry="10.5" fill="url(#pc3)" stroke="#505050" stroke-width="1"/>
<ellipse cx="172.5" cy="1603.5" rx="6.2" ry="10.5" fill="url(#pc3)" stroke="#505050" stroke-width="1"/>
<ellipse cx="185.6" cy="1603.9" rx="6.2" ry="10.5" fill="url(#pc3)" stroke="#505050" stroke-width="1"/>
<ellipse cx="198.6" cy="1604.3" rx="6.2" ry="10.5" fill="url(#pc3)" stroke="#505050" stroke-width="1"/>
<ellipse cx="211.7" cy="1604.7" rx="6.2" ry="10.5" fill="url(#pc2)" stroke="#505050" stroke-width="1"/>
<ellipse cx="224.7" cy="1605.1" rx="6.2" ry="10.5" fill="url(#pc2)" stroke="#505050" stroke-width="1"/>
<ellipse cx="237.8" cy="1605.4" rx="6.2" ry="10.5" fill="url(#pc2)" stroke="#505050" stroke-width="1"/>
<ellipse cx="250.8" cy="1605.8" rx="6.2" ry="10.5" fill="url(#pc1)" stroke="#505050" stroke-width="1"/>
<ellipse cx="263.9" cy="1606.2" rx="6.2" ry="10.5" fill="url(#pc1)" stroke="#505050" stroke-width="1"/>
<ellipse cx="276.9" cy="1606.6" rx="6.2" ry="10.5" fill="url(#pc1)" stroke="#505050" stroke-width="1"/>
<ellipse cx="290" cy="1607" rx="6.2" ry="10.5" fill="url(#pc1)" stroke="#505050" stroke-width="1"/>
<path d="M117 1374A27 28.4 0 0 1 171 1374C171 1478 194 1533.3 194 1578L94 1578C94 1533.3 117 1478 117 1374Z" fill="#f2f2f2"/>
<path d="M117 1374A27 28.4 0 0 1 171 1374C171 1478 194 1533.3 194 1578L94 1578C94 1533.3 117 1478 117 1374Z" fill="url(#cellg)"/>
<path d="M117 1374A27 28.4 0 0 1 171 1374C171 1478 194 1533.3 194 1578L94 1578C94 1533.3 117 1478 117 1374Z" fill="url(#shadeV)"/>
<path d="M94 1578C94 1533.3 117 1478 117 1374A27 28.4 0 0 1 171 1374C171 1478 194 1533.3 194 1578" fill="none" stroke="#4a4a4a" stroke-width="1.6"/>
<path d="M235 1397A26 27.3 0 0 1 287 1397C287 1493.3 307 1543.7 307 1585L215 1585C215 1543.7 235 1493.3 235 1397Z" fill="#f2f2f2"/>
<path d="M235 1397A26 27.3 0 0 1 287 1397C287 1493.3 307 1543.7 307 1585L215 1585C215 1543.7 235 1493.3 235 1397Z" fill="url(#cellg)"/>
<path d="M235 1397A26 27.3 0 0 1 287 1397C287 1493.3 307 1543.7 307 1585L215 1585C215 1543.7 235 1493.3 235 1397Z" fill="url(#shadeV)"/>
<path d="M215 1585C215 1543.7 235 1493.3 235 1397A26 27.3 0 0 1 287 1397C287 1493.3 307 1543.7 307 1585" fill="none" stroke="#4a4a4a" stroke-width="1.6"/>
<path d="M76.6 1390.6L106.9 1363.3L215.3 1363.3L185.6 1390.6Z" fill="#c9d4df" fill-opacity="0.75" stroke="#9fb0c2" stroke-width="1.2"/>
<path d="M144.9 1747L169.2 1706.9L285 1706.9L261.3 1747Z" fill="#c9d4df" fill-opacity="0.75" stroke="#9fb0c2" stroke-width="1.2"/>
<text x="135" y="1320.8" font-size="24.8" text-anchor="middle" font-weight="bold" font-style="italic" fill="#222">Villus tip</text>
<text x="195.2" y="1799" font-size="24.8" text-anchor="middle" font-weight="bold" font-style="italic" fill="#222">Crypt (+4)</text>
<text x="0" y="24" font-size="30" font-weight="bold">a</text>
<text x="0" y="396" font-size="30" font-weight="bold">b</text>
<text x="0" y="828" font-size="30" font-weight="bold">c</text>
<text x="955" y="23" font-size="30" font-weight="bold">d</text>
<text x="947" y="396" font-size="30" font-weight="bold">e</text>
<text x="953" y="826" font-size="30" font-weight="bold">f</text>
<text x="17" y="1280" font-size="30" font-weight="bold">g</text>
<text x="1123" y="1277" font-size="30" font-weight="bold">h</text>
<text x="1500" y="1277" font-size="30" font-weight="bold">i</text>
</svg>
</body></html>
